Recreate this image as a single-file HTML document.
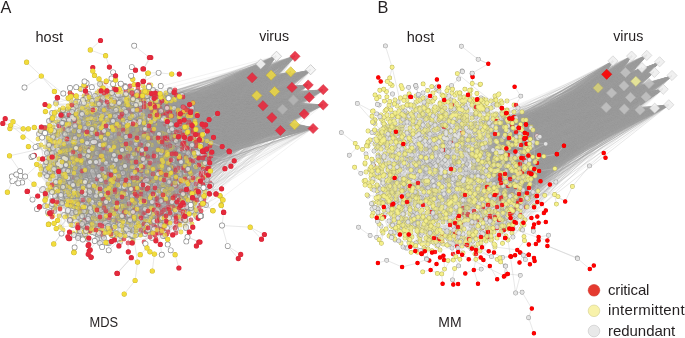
<!DOCTYPE html><html><head><meta charset="utf-8"><style>
html,body{margin:0;padding:0;background:#fff;overflow:hidden}svg{display:block;will-change:transform}
path{fill:none}
.o,.i{stroke-linecap:round}
text{font-family:"Liberation Sans",sans-serif;fill:#231f20;opacity:.999}
</style></head><body><svg width="685" height="338" viewBox="0 0 685 338"><g opacity="0.74"><path class="o" d="M80 169h0M156 106h0M72 213h0M181 166h0M76 180h0M178 184h0M140 147h0M111 195h0M88 239h0M111 144h0M191 212h0M198 192h0M196 134h0M205 130h0M187 132h0M90 134h0M181 209h0M187 147h0M93 215h0M50 155h0M126 156h0M103 101h0M130 91h0M127 131h0M176 184h0M116 153h0M177 139h0M166 132h0M46 132h0M165 110h0M163 125h0M199 123h0M160 106h0M171 199h0M158 174h0M61 126h0M87 113h0M128 106h0M118 147h0M66 115h0M122 101h0M58 183h0M144 113h0M173 100h0M196 133h0M70 185h0M134 219h0M188 142h0M77 207h0M109 231h0M70 146h0M134 229h0M76 106h0M62 146h0M63 201h0M129 126h0M155 192h0M178 131h0M159 201h0M151 185h0M173 178h0M85 140h0M192 105h0M100 154h0M99 158h0M56 134h0M148 146h0M45 206h0M108 228h0M137 196h0M89 207h0M102 177h0M61 153h0M68 199h0M160 108h0M52 147h0M207 187h0M144 189h0M117 164h0M107 212h0M52 113h0M46 159h0M115 218h0M101 132h0M73 201h0M86 171h0M73 115h0M131 169h0M78 217h0M82 141h0M45 166h0M132 146h0M63 187h0M150 167h0M67 150h0M134 169h0M146 114h0M72 172h0M138 145h0M112 156h0M79 105h0M102 97h0M123 125h0M127 182h0M170 90h0M137 136h0M143 133h0M59 154h0M125 234h0M120 242h0M65 115h0M103 236h0M151 171h0M163 123h0M97 96h0M57 194h0M176 130h0M81 181h0M171 108h0M182 219h0M206 205h0M198 213h0M71 136h0" stroke="#8a8a8a" stroke-width="5.85"/><path class="i" d="M80 169h0M156 106h0M72 213h0M181 166h0M76 180h0M178 184h0M140 147h0M111 195h0M88 239h0M111 144h0M191 212h0M198 192h0M196 134h0M205 130h0M187 132h0M90 134h0M181 209h0M187 147h0M93 215h0M50 155h0M126 156h0M103 101h0M130 91h0M127 131h0M176 184h0M116 153h0M177 139h0M166 132h0M46 132h0M165 110h0M163 125h0M199 123h0M160 106h0M171 199h0M158 174h0M61 126h0M87 113h0M128 106h0M118 147h0M66 115h0M122 101h0M58 183h0M144 113h0M173 100h0M196 133h0M70 185h0M134 219h0M188 142h0M77 207h0M109 231h0M70 146h0M134 229h0M76 106h0M62 146h0M63 201h0M129 126h0M155 192h0M178 131h0M159 201h0M151 185h0M173 178h0M85 140h0M192 105h0M100 154h0M99 158h0M56 134h0M148 146h0M45 206h0M108 228h0M137 196h0M89 207h0M102 177h0M61 153h0M68 199h0M160 108h0M52 147h0M207 187h0M144 189h0M117 164h0M107 212h0M52 113h0M46 159h0M115 218h0M101 132h0M73 201h0M86 171h0M73 115h0M131 169h0M78 217h0M82 141h0M45 166h0M132 146h0M63 187h0M150 167h0M67 150h0M134 169h0M146 114h0M72 172h0M138 145h0M112 156h0M79 105h0M102 97h0M123 125h0M127 182h0M170 90h0M137 136h0M143 133h0M59 154h0M125 234h0M120 242h0M65 115h0M103 236h0M151 171h0M163 123h0M97 96h0M57 194h0M176 130h0M81 181h0M171 108h0M182 219h0M206 205h0M198 213h0M71 136h0" stroke="#ececec" stroke-width="4.10"/><path class="o" d="M55 132h0M141 235h0M168 210h0M135 156h0M151 157h0M130 166h0M144 95h0M117 233h0M86 187h0M73 233h0M192 125h0M59 189h0M59 182h0M63 132h0M82 174h0M133 173h0M184 146h0M77 107h0M63 202h0M99 212h0M109 131h0M151 193h0M135 120h0M143 86h0M100 98h0M97 93h0M88 190h0M88 108h0M65 183h0M48 214h0M73 109h0M53 121h0M147 98h0M60 170h0M86 208h0M78 202h0M87 171h0M165 139h0M79 112h0M108 187h0M164 158h0M84 223h0M94 174h0M141 198h0M116 141h0M167 156h0M71 142h0M96 225h0M56 136h0M76 118h0M92 110h0M106 158h0M51 161h0M74 201h0M144 91h0M171 145h0M146 99h0M101 219h0M59 216h0M198 139h0M91 226h0M81 152h0M172 119h0M92 222h0M137 225h0M72 169h0M176 173h0M77 129h0M121 240h0M58 132h0M97 114h0M99 199h0M129 157h0M101 127h0M81 126h0M109 204h0M82 112h0M137 222h0M131 211h0M151 199h0M165 224h0M85 237h0M118 234h0M150 92h0M91 111h0M121 153h0M39 159h0M180 142h0M154 190h0M67 216h0M71 124h0M77 100h0M113 193h0M108 171h0M192 170h0M168 202h0M101 124h0M86 133h0M184 153h0M113 115h0M81 185h0M102 105h0M153 124h0M48 190h0M103 169h0M190 150h0M64 160h0M125 111h0M151 197h0M101 83h0M91 165h0M128 147h0M164 177h0M93 104h0M158 175h0M78 231h0M133 123h0M147 93h0M76 122h0M67 109h0M53 163h0M52 134h0M64 150h0M145 91h0M175 133h0M65 147h0M192 127h0M144 134h0M67 157h0M100 153h0M74 132h0M134 164h0M197 143h0M174 134h0M78 185h0M110 176h0M134 136h0M79 162h0M86 186h0M82 229h0M117 143h0M132 103h0" stroke="#c8b432" stroke-width="4.80"/><path class="i" d="M55 132h0M141 235h0M168 210h0M135 156h0M151 157h0M130 166h0M144 95h0M117 233h0M86 187h0M73 233h0M192 125h0M59 189h0M59 182h0M63 132h0M82 174h0M133 173h0M184 146h0M77 107h0M63 202h0M99 212h0M109 131h0M151 193h0M135 120h0M143 86h0M100 98h0M97 93h0M88 190h0M88 108h0M65 183h0M48 214h0M73 109h0M53 121h0M147 98h0M60 170h0M86 208h0M78 202h0M87 171h0M165 139h0M79 112h0M108 187h0M164 158h0M84 223h0M94 174h0M141 198h0M116 141h0M167 156h0M71 142h0M96 225h0M56 136h0M76 118h0M92 110h0M106 158h0M51 161h0M74 201h0M144 91h0M171 145h0M146 99h0M101 219h0M59 216h0M198 139h0M91 226h0M81 152h0M172 119h0M92 222h0M137 225h0M72 169h0M176 173h0M77 129h0M121 240h0M58 132h0M97 114h0M99 199h0M129 157h0M101 127h0M81 126h0M109 204h0M82 112h0M137 222h0M131 211h0M151 199h0M165 224h0M85 237h0M118 234h0M150 92h0M91 111h0M121 153h0M39 159h0M180 142h0M154 190h0M67 216h0M71 124h0M77 100h0M113 193h0M108 171h0M192 170h0M168 202h0M101 124h0M86 133h0M184 153h0M113 115h0M81 185h0M102 105h0M153 124h0M48 190h0M103 169h0M190 150h0M64 160h0M125 111h0M151 197h0M101 83h0M91 165h0M128 147h0M164 177h0M93 104h0M158 175h0M78 231h0M133 123h0M147 93h0M76 122h0M67 109h0M53 163h0M52 134h0M64 150h0M145 91h0M175 133h0M65 147h0M192 127h0M144 134h0M67 157h0M100 153h0M74 132h0M134 164h0M197 143h0M174 134h0M78 185h0M110 176h0M134 136h0M79 162h0M86 186h0M82 229h0M117 143h0M132 103h0" stroke="#f2dc3c" stroke-width="4.10"/><path class="o" d="M206 134h0M179 221h0M176 217h0M152 233h0M188 147h0M118 141h0M164 145h0M177 165h0M144 224h0M177 106h0M134 196h0M141 152h0M164 136h0M166 208h0M169 143h0M157 218h0M177 187h0M115 102h0M92 165h0M193 160h0M191 200h0M109 105h0M76 115h0M143 158h0M114 178h0M124 210h0M164 174h0M172 124h0M176 161h0M130 134h0M149 160h0M88 200h0M67 138h0M141 179h0M96 130h0M159 217h0M117 202h0M103 165h0M107 145h0M161 117h0M139 167h0M151 223h0M145 183h0M175 147h0M194 172h0M115 218h0M134 96h0M154 226h0M157 120h0M156 239h0M210 183h0M158 181h0M146 203h0M66 121h0M140 211h0M183 196h0M134 164h0M176 227h0M129 189h0M184 173h0M178 173h0M114 181h0M103 235h0M75 131h0M135 201h0M184 217h0M146 228h0M116 221h0M160 95h0M145 139h0M104 135h0M192 198h0M124 215h0" stroke="#d42a3a" stroke-width="4.80"/><path class="i" d="M206 134h0M179 221h0M176 217h0M152 233h0M188 147h0M118 141h0M164 145h0M177 165h0M144 224h0M177 106h0M134 196h0M141 152h0M164 136h0M166 208h0M169 143h0M157 218h0M177 187h0M115 102h0M92 165h0M193 160h0M191 200h0M109 105h0M76 115h0M143 158h0M114 178h0M124 210h0M164 174h0M172 124h0M176 161h0M130 134h0M149 160h0M88 200h0M67 138h0M141 179h0M96 130h0M159 217h0M117 202h0M103 165h0M107 145h0M161 117h0M139 167h0M151 223h0M145 183h0M175 147h0M194 172h0M115 218h0M134 96h0M154 226h0M157 120h0M156 239h0M210 183h0M158 181h0M146 203h0M66 121h0M140 211h0M183 196h0M134 164h0M176 227h0M129 189h0M184 173h0M178 173h0M114 181h0M103 235h0M75 131h0M135 201h0M184 217h0M146 228h0M116 221h0M160 95h0M145 139h0M104 135h0M192 198h0M124 215h0" stroke="#e52a3c" stroke-width="4.10"/></g><path d="M124 210L92 136M131 143L64 170M154 129L109 120M115 192L192 224M92 164L114 178M110 161L114 86M83 100L92 132M154 158L106 126M89 157L134 225M149 126L91 111M152 173L124 213M110 158L50 151M178 144L122 181M156 233L154 213M122 199L130 220M133 174L130 134M138 183L143 183M100 200L75 131M140 200L166 198M119 176L124 221M104 135L67 186M141 230L67 203M101 185L134 207M92 155L76 203M178 184L142 189M168 171L104 173M100 200L135 187M74 131L158 141M155 121L156 156M132 157L95 126M112 210L60 180M153 174L181 220M137 209L103 134M155 202L184 206M143 160L99 163M105 177L182 138M105 233L90 149M148 134L131 100M122 216L69 195M92 165L156 176M108 226L116 185M196 152L136 140M78 202L90 155M71 119L101 124M124 148L140 133M112 170L89 220M178 169L151 108M86 134L117 152M197 155L176 130M69 120L68 199M154 213L108 187M87 122L69 119M111 195L179 179M53 151L128 115M121 209L67 199M112 188L150 184M196 189L176 130M139 92L151 161M144 140L135 201M92 112L148 138M193 151L136 128M76 203L81 230M201 211L170 223M99 163L74 173M94 143L87 224M183 97L159 117M101 167L100 111M139 119L92 101M144 120L89 157M138 168L173 160M143 215L57 199M108 100L147 162M192 180L125 191M170 146L124 212M41 131L61 192M96 138L71 150M166 176L122 226M150 212L181 191M167 189L123 120M110 145L110 116M50 131L95 126M153 181L157 199M160 108L176 132M100 243L100 153M132 93L111 150M111 195L171 203M188 125L151 157M196 134L189 115M176 102L171 126M120 194L128 152M72 152L72 196M66 159L65 141M50 131L112 127M110 171L56 104M45 147L57 194M71 168L85 171M87 183L89 216M148 188L188 147M176 141L175 210M203 169L173 147M187 207L100 193M135 188L182 217M99 121L159 163M123 206L120 172M163 175L178 110M185 177L156 176M62 203L140 204M138 187L108 170M196 134L151 196M61 192L143 158M83 167L96 139M86 98L86 86M172 129L153 131M137 224L185 179M171 160L179 217M127 137L102 133M141 152L108 218M90 162L111 198M164 174L185 173M78 204L87 221M99 176L158 174M156 156L186 227M78 155L62 146M109 204L174 168M145 186L97 153M153 233L134 169M143 167L210 155M204 134L163 162M161 216L177 165M132 103L170 122M186 197L189 148M147 93L88 156M128 148L139 167M100 145L67 162M102 113L140 145M161 167L178 208M139 92L138 128M136 125L148 101M74 177L46 170M165 110L158 181M48 138L112 188M66 196L70 202M134 192L131 169M183 212L116 170M147 180L130 123M75 154L103 141M98 195L97 239M177 183L107 174M68 106L69 143M63 187L50 131M155 202L178 137M187 207L156 219M152 158L91 165M162 168L86 208M76 122L143 165M67 138L142 154M66 121L48 190M156 176L114 188M145 183L74 138M125 234L108 199M134 164L111 232M107 149L99 204M82 171L84 211M54 142L100 217M57 194L116 160M86 180L62 202M58 132L137 150M100 98L170 90M100 84L132 93M184 173L170 146M109 204L100 204M142 154L180 118M82 112L134 180M160 115L133 99M161 117L118 158M100 203L51 161M90 149L146 119M176 170L88 182M152 233L123 193M145 183L196 152M82 160L141 166M100 204L147 133M127 126L56 134M76 115L69 115M142 118L120 104M84 159L88 239M193 134L147 93M139 168L130 118M194 138L174 168M125 146L168 157M74 161L82 171M191 208L207 180M117 169L178 171M103 141L120 182M62 145L85 187M136 162L99 159M175 164L138 217M99 159L67 124M82 171L55 132M161 117L133 124M114 178L136 120M170 223L89 208M156 127L145 118M104 173L93 115M187 148L101 167M84 175L70 93M116 141L66 124M166 120L127 131M85 140L60 161M121 215L118 147M78 153L65 216M173 156L145 91M111 144L116 160M128 125L73 151M97 177L165 195M82 139L81 176M161 211L171 207M180 210L167 234M171 199L129 125M140 160L188 184M97 210L117 152M176 131L95 119M132 146L143 206M200 157L184 109M115 168L76 106M80 149L129 143M132 93L119 103M80 149L66 159M149 194L165 226M84 175L40 131M149 182L170 207M126 199L130 120M162 212L134 133M198 137L193 160M87 209L113 159M127 126L86 180M106 158L130 102M151 196L147 127M171 125L144 136M81 213L101 171M160 108L163 175M161 173L145 202M198 141L118 168M166 119L153 194M79 188L95 190M176 173L124 221M159 172L135 156M162 114L133 103M90 135L111 195M83 177L136 227M88 200L58 191M159 191L176 216M176 180L126 158M63 154L101 171M89 191L82 160M165 157L142 118M70 156L100 167M74 131L66 154M141 235L115 227M187 132L176 217M127 189L152 133M101 119L44 128M84 175L92 129M90 134L81 140M145 161L74 173M139 226L135 156M192 195L141 185M103 235L62 198M96 105L118 153M171 183L143 175M97 96L128 106M76 176L161 179M137 205L158 205M159 163L193 151M166 102L195 132M38 146L77 179M141 179L132 107M136 206L81 229M127 189L70 127M112 143L157 199M70 200L87 192M116 209L137 122M143 159L85 207M181 162L142 188M116 160L171 124M116 141L71 201M78 185L91 229M77 131L159 96M159 191L82 160M156 127L157 158M126 158L141 149M176 216L167 156M106 232L108 228M114 188L73 138M77 194L74 177M178 137L159 200M52 113L111 106M201 173L169 161M123 99L126 100M130 136L110 100M76 106L70 93M164 227L141 152M180 174L186 158M60 152L84 96M60 186L115 218M198 179L147 173M188 116L171 101M84 184L81 213M133 240L106 158M154 229L83 186M114 178L176 216M100 203L146 160M157 199L147 156M63 187L122 145M79 105L147 134M136 120L87 100M97 99L174 133M88 119L127 149M132 174L73 113M61 126L100 98M159 96L101 141M64 158L52 185M83 182L133 181M101 171L120 225M48 184L77 201M137 130L75 149M137 150L118 177M89 199L124 127M104 136L143 182M46 159L45 173M103 198L166 218M149 143L161 173M84 223L151 197M198 192L140 147M108 170L159 139M171 125L128 127M117 143L79 135M55 142L45 206M68 106L124 164M51 142L132 157M140 235L89 199M129 206L134 169M164 218L94 186M181 209L161 179M121 92L102 88M65 127L129 143M164 218L146 146M152 133L124 210M117 190L112 176M191 116L161 179M165 236L195 203M129 143L70 138M130 171L88 182M140 138L104 93M115 102L137 170M153 124L71 130M135 194L191 220M112 143L110 168M86 111L61 166M203 152L184 111M117 183L135 166M114 143L86 98M183 212L135 201M88 108L62 162M51 190L85 237M192 195L194 172M111 195L184 210M89 220L152 233M126 91L173 135M161 111L167 139M123 194L96 127M142 150L146 144M71 101L86 134M143 167L74 202M95 149L121 140M151 219L178 184M171 145L211 156M175 172L124 109M147 108L101 157M153 90L198 153M186 228L142 188M166 114L134 122M52 173L134 190M134 180L66 165M188 184L107 174M126 102L102 107M177 198L186 133M99 121L53 176M144 132L88 108M111 137L83 150M153 214L162 231M87 224L73 201M166 93L185 179M126 94L120 84M46 196L110 161M116 209L75 149M99 159L45 173M137 151L125 171M113 115L91 111M168 171L95 207M136 170L162 226M189 148L199 208M164 218L122 216M124 147L91 212M91 212L162 200M150 222L198 154M95 110L83 177M92 165L54 131M151 157L121 240M175 183L90 195M105 139L92 160M187 206L198 145M59 148L79 122M80 156L161 153M121 109L88 124M131 143L155 173M46 130L53 151M159 191L167 108M112 210L192 180M184 190L166 199M169 131L187 207M122 199L103 141M167 187L149 122M73 191L81 136M167 195L139 119M120 125L51 141M131 106L142 150M85 220L114 178M117 202L184 205M159 139L167 137M100 204L91 118M89 186L102 176M96 189L129 148M45 166L112 176M81 152L70 220M133 173L88 108M81 209L144 189M90 181L121 158M108 166L145 118M114 86L135 156M133 173L69 120M183 219L203 169M178 144L158 205M109 243L60 180M83 188L116 159M117 164L109 230M159 166L194 138M152 238L133 240M131 92L103 101M101 117L182 138M94 174L148 228M92 222L101 185M154 158L111 180M202 154L157 99M76 118L81 181M84 100L52 134M184 101L171 101M68 210L76 167M153 194L101 127M189 114L142 136M118 205L89 186M120 242L112 176M79 105L159 141M75 124L70 127M137 207L92 132M153 120L130 202M160 108L168 147M137 163L82 205M60 227L77 207M119 126L201 145M146 144L184 217M102 133L171 109M119 129L172 116M91 165L100 84M147 171L63 187M126 105L170 90M48 212L89 199M137 196L85 128M198 192L116 207M85 207L173 198M137 110L151 108M187 127L105 157M47 176L88 182M97 119L51 167M180 169L200 157M52 173L139 175M95 205L38 139M102 230L89 208M112 175L104 204M87 228L76 203M144 140L147 173M143 166L111 213M63 180L121 209M100 210L184 206M143 182L128 105M92 143L178 144M122 197L108 173M149 211L141 179M117 239L74 201M124 215L148 188M104 204L133 177M82 197L115 237M168 232L141 218M74 132L122 142M177 151L103 165M141 179L194 172M154 106L162 120M98 125L108 193M166 93L148 138M143 215L68 171M95 119L131 169M163 162L166 135M151 193L165 139M122 101L115 116M75 149L66 196M101 195L151 157M68 171L89 208M133 136L119 129M78 208L99 231M103 198L189 181M151 157L126 194M149 194L101 201M99 231L170 207M178 171L187 148M173 194L198 192M137 122L137 95M107 102L39 134M185 226L157 198M173 160L128 231M52 170L122 165M135 156L202 173M77 193L101 107M141 171L132 213M96 109L74 131M71 225L106 202M129 129L72 105M76 106L71 150M88 108L53 127M145 183L106 182M132 93L163 135M142 215L124 127M129 206L136 128M104 135L99 101M101 157L111 187M123 161L195 166M122 226L106 163M159 194L111 232M177 187L125 171M152 117L201 122M133 124L84 126M118 95L101 106M168 140L122 165M110 161L168 157M128 231L138 195M144 154L126 112M139 119L85 191M97 104L147 133M79 162L123 173M171 109L127 182M167 139L175 166M72 152L81 179M59 167L111 99M127 129L163 167M135 188L178 137M73 127L87 100M177 209L116 160M118 180L137 94M143 175L79 161M150 212L116 221M50 187L86 186M152 211L110 181M122 150L156 178" stroke="#999999" stroke-width="0.4" stroke-opacity="0.42"/><g opacity="0.74"><path class="o" d="M145 157h0M76 203h0M73 206h0M46 128h0M101 142h0M117 169h0M143 206h0M79 196h0M81 179h0M152 238h0M111 232h0M82 198h0M120 238h0M190 130h0M123 161h0M165 121h0M76 102h0M110 161h0M66 196h0M68 171h0M86 164h0M86 114h0M54 146h0M84 123h0M101 106h0M133 136h0M87 224h0M72 176h0M197 196h0M107 171h0M59 165h0M172 120h0M136 120h0M142 189h0M108 179h0M176 131h0M78 176h0M61 178h0M97 229h0M99 101h0M110 145h0M67 134h0M95 158h0M169 161h0M180 199h0M122 146h0M108 173h0M87 205h0M88 219h0M92 160h0M156 127h0M160 223h0M110 168h0M103 152h0M54 211h0M112 235h0M202 116h0M113 228h0M59 154h0M109 183h0M49 141h0M202 162h0M146 119h0M45 173h0M130 171h0M81 213h0M141 149h0M118 163h0M177 151h0M52 173h0M117 239h0M184 101h0M144 98h0M79 102h0M174 133h0M83 111h0M142 215h0M65 135h0M78 204h0M98 134h0M137 92h0M165 236h0M54 209h0M102 113h0M207 180h0M145 164h0M90 210h0M166 199h0M88 140h0M134 203h0M71 130h0M122 110h0M38 146h0M127 189h0M83 177h0M93 115h0M70 138h0M71 119h0M75 189h0M143 183h0M85 116h0M70 121h0M78 177h0M78 153h0M114 188h0M146 149h0M100 111h0M78 155h0M92 136h0M103 141h0M148 163h0M79 188h0M82 147h0M104 238h0M171 136h0M168 140h0" stroke="#8a8a8a" stroke-width="5.85"/><path class="i" d="M145 157h0M76 203h0M73 206h0M46 128h0M101 142h0M117 169h0M143 206h0M79 196h0M81 179h0M152 238h0M111 232h0M82 198h0M120 238h0M190 130h0M123 161h0M165 121h0M76 102h0M110 161h0M66 196h0M68 171h0M86 164h0M86 114h0M54 146h0M84 123h0M101 106h0M133 136h0M87 224h0M72 176h0M197 196h0M107 171h0M59 165h0M172 120h0M136 120h0M142 189h0M108 179h0M176 131h0M78 176h0M61 178h0M97 229h0M99 101h0M110 145h0M67 134h0M95 158h0M169 161h0M180 199h0M122 146h0M108 173h0M87 205h0M88 219h0M92 160h0M156 127h0M160 223h0M110 168h0M103 152h0M54 211h0M112 235h0M202 116h0M113 228h0M59 154h0M109 183h0M49 141h0M202 162h0M146 119h0M45 173h0M130 171h0M81 213h0M141 149h0M118 163h0M177 151h0M52 173h0M117 239h0M184 101h0M144 98h0M79 102h0M174 133h0M83 111h0M142 215h0M65 135h0M78 204h0M98 134h0M137 92h0M165 236h0M54 209h0M102 113h0M207 180h0M145 164h0M90 210h0M166 199h0M88 140h0M134 203h0M71 130h0M122 110h0M38 146h0M127 189h0M83 177h0M93 115h0M70 138h0M71 119h0M75 189h0M143 183h0M85 116h0M70 121h0M78 177h0M78 153h0M114 188h0M146 149h0M100 111h0M78 155h0M92 136h0M103 141h0M148 163h0M79 188h0M82 147h0M104 238h0M171 136h0M168 140h0" stroke="#ececec" stroke-width="4.10"/><path class="o" d="M140 235h0M90 155h0M74 126h0M58 122h0M84 195h0M91 232h0M116 185h0M54 148h0M58 134h0M105 186h0M109 159h0M133 240h0M85 150h0M152 211h0M63 192h0M75 217h0M98 219h0M77 131h0M62 145h0M134 122h0M50 169h0M76 167h0M78 124h0M64 123h0M118 158h0M159 194h0M198 168h0M57 186h0M103 233h0M57 122h0M73 157h0M131 176h0M47 162h0M152 173h0M87 123h0M147 162h0M111 99h0M164 227h0M51 141h0M81 140h0M182 123h0M124 96h0M175 164h0M78 182h0M186 106h0M100 200h0M112 176h0M99 91h0M126 219h0M128 127h0M176 180h0M71 148h0M138 217h0M128 176h0M63 145h0M158 202h0M115 142h0M116 170h0M106 231h0M96 127h0M137 122h0M181 219h0M101 108h0M95 199h0M134 152h0M99 159h0M135 188h0M100 167h0M181 146h0M157 166h0M136 156h0M113 185h0M72 219h0M106 137h0M60 180h0M134 195h0M63 154h0M155 202h0M135 166h0M148 151h0M157 158h0M197 158h0M133 173h0M93 126h0M86 86h0M147 98h0M176 120h0M135 171h0M58 134h0M125 188h0M184 172h0M169 178h0M178 135h0M190 192h0M48 184h0M167 187h0M176 102h0M135 163h0M70 200h0M151 206h0M166 176h0M97 104h0M57 199h0M77 194h0M94 103h0M158 141h0M66 130h0M84 165h0M101 98h0M66 128h0M117 161h0M141 133h0M147 108h0M118 168h0M138 128h0M114 86h0M139 99h0M104 136h0M83 226h0M100 122h0M107 91h0M97 153h0M162 114h0M106 232h0M176 216h0M114 155h0M103 127h0M150 234h0M145 88h0M131 106h0M93 134h0M151 122h0M64 120h0M143 225h0M124 164h0M99 204h0M145 91h0M189 129h0M152 144h0M171 109h0M170 145h0M166 102h0M110 158h0M104 96h0M90 188h0M196 122h0" stroke="#c8b432" stroke-width="4.80"/><path class="i" d="M140 235h0M90 155h0M74 126h0M58 122h0M84 195h0M91 232h0M116 185h0M54 148h0M58 134h0M105 186h0M109 159h0M133 240h0M85 150h0M152 211h0M63 192h0M75 217h0M98 219h0M77 131h0M62 145h0M134 122h0M50 169h0M76 167h0M78 124h0M64 123h0M118 158h0M159 194h0M198 168h0M57 186h0M103 233h0M57 122h0M73 157h0M131 176h0M47 162h0M152 173h0M87 123h0M147 162h0M111 99h0M164 227h0M51 141h0M81 140h0M182 123h0M124 96h0M175 164h0M78 182h0M186 106h0M100 200h0M112 176h0M99 91h0M126 219h0M128 127h0M176 180h0M71 148h0M138 217h0M128 176h0M63 145h0M158 202h0M115 142h0M116 170h0M106 231h0M96 127h0M137 122h0M181 219h0M101 108h0M95 199h0M134 152h0M99 159h0M135 188h0M100 167h0M181 146h0M157 166h0M136 156h0M113 185h0M72 219h0M106 137h0M60 180h0M134 195h0M63 154h0M155 202h0M135 166h0M148 151h0M157 158h0M197 158h0M133 173h0M93 126h0M86 86h0M147 98h0M176 120h0M135 171h0M58 134h0M125 188h0M184 172h0M169 178h0M178 135h0M190 192h0M48 184h0M167 187h0M176 102h0M135 163h0M70 200h0M151 206h0M166 176h0M97 104h0M57 199h0M77 194h0M94 103h0M158 141h0M66 130h0M84 165h0M101 98h0M66 128h0M117 161h0M141 133h0M147 108h0M118 168h0M138 128h0M114 86h0M139 99h0M104 136h0M83 226h0M100 122h0M107 91h0M97 153h0M162 114h0M106 232h0M176 216h0M114 155h0M103 127h0M150 234h0M145 88h0M131 106h0M93 134h0M151 122h0M64 120h0M143 225h0M124 164h0M99 204h0M145 91h0M189 129h0M152 144h0M171 109h0M170 145h0M166 102h0M110 158h0M104 96h0M90 188h0M196 122h0" stroke="#f2dc3c" stroke-width="4.10"/><path class="o" d="M124 219h0M92 155h0M191 111h0M130 168h0M187 186h0M160 206h0M187 206h0M143 231h0M196 134h0M198 192h0M155 203h0M172 209h0M73 204h0M134 133h0M194 153h0M145 186h0M184 190h0M120 208h0M79 202h0M147 171h0M106 82h0M177 124h0M201 122h0M54 143h0M138 195h0M163 167h0M112 164h0M137 131h0M136 128h0M129 110h0M157 103h0M177 104h0M191 220h0M150 237h0M102 186h0M127 129h0M200 157h0M177 119h0M166 156h0M148 111h0M149 182h0M160 110h0M177 166h0M83 130h0M153 126h0M173 193h0M74 177h0M129 91h0M162 200h0M199 194h0M203 130h0M69 119h0M166 190h0M140 158h0M192 173h0M176 181h0M147 202h0M139 184h0M174 106h0M203 184h0M95 110h0M151 132h0M75 149h0M120 182h0M87 183h0M105 133h0M149 193h0M175 166h0M116 126h0M124 218h0M81 127h0M104 110h0M144 242h0M187 207h0M100 152h0M101 101h0" stroke="#d42a3a" stroke-width="4.80"/><path class="i" d="M124 219h0M92 155h0M191 111h0M130 168h0M187 186h0M160 206h0M187 206h0M143 231h0M196 134h0M198 192h0M155 203h0M172 209h0M73 204h0M134 133h0M194 153h0M145 186h0M184 190h0M120 208h0M79 202h0M147 171h0M106 82h0M177 124h0M201 122h0M54 143h0M138 195h0M163 167h0M112 164h0M137 131h0M136 128h0M129 110h0M157 103h0M177 104h0M191 220h0M150 237h0M102 186h0M127 129h0M200 157h0M177 119h0M166 156h0M148 111h0M149 182h0M160 110h0M177 166h0M83 130h0M153 126h0M173 193h0M74 177h0M129 91h0M162 200h0M199 194h0M203 130h0M69 119h0M166 190h0M140 158h0M192 173h0M176 181h0M147 202h0M139 184h0M174 106h0M203 184h0M95 110h0M151 132h0M75 149h0M120 182h0M87 183h0M105 133h0M149 193h0M175 166h0M116 126h0M124 218h0M81 127h0M104 110h0M144 242h0M187 207h0M100 152h0M101 101h0" stroke="#e52a3c" stroke-width="4.10"/></g><path d="M117 203L139 226M74 131L84 211M89 151L79 105M159 194L88 182M93 134L40 175M77 129L111 133M52 185L63 202M134 164L158 214M72 105L128 156M156 233L180 169M165 145L212 153M124 215L181 220M168 119L91 118M71 173L63 230M137 131L165 138M171 136L159 223M179 221L197 200M143 175L133 124M84 165L58 132M156 106L127 91M183 150L119 198M148 158L77 129M78 185L70 127M148 144L151 161M114 178L82 229M180 124L161 157M58 158L56 200M159 191L123 194M106 158L59 166M120 205L136 206M168 111L151 187M99 203L100 217M158 205L92 209M77 194L70 127M84 126L145 189M152 202L162 142M49 158L88 239M86 186L92 144M135 163L194 153M62 145L100 210M137 168L180 199M125 188L151 187M66 130L137 151M52 147L112 143M78 184L161 153M130 168L137 225M133 173L184 210M72 152L84 100M52 173L83 223M134 116L120 157M141 176L86 111M112 175L122 114M196 184L117 164M174 132L107 97M188 205L174 132M111 213L85 182M96 153L120 125M173 109L163 175M119 198L62 145M104 173L187 207M122 186L108 187M67 205L106 211M176 120L125 193M126 174L192 224M169 143L134 154M104 209L74 207M73 201L48 214M159 142L147 133M137 205L179 208M164 136L192 108M92 209L175 185M144 132L95 132M104 93L91 165M137 168L113 130M103 235L70 185M95 158L50 179M159 205L126 199M134 164L75 159M136 120L116 192M46 130L94 103M70 206L94 174M136 128L144 113M54 148L58 150M162 174L116 185M173 198L174 214M120 186L175 166M185 187L181 191M84 100L157 110M102 128L85 128M74 193L98 231M129 182L109 219M83 226L143 166M184 148L123 188M90 162L84 96M84 195L120 211M73 127L138 102M157 103L106 120M154 99L87 113M138 217L165 195M133 212L77 160M89 191L88 199M124 218L113 130M129 206L135 176M101 142L143 166M98 235L157 210M186 157L196 146M63 192L60 209M195 156L115 168M196 191L166 199M110 111L124 176M133 201L122 199M133 167L121 153M170 99L147 98M203 189L187 161M133 174L149 213M151 219L132 146M133 124L131 143M118 153L178 131M155 185L109 174M134 123L176 140M178 135L174 153M162 160L186 197M63 174L84 175M78 208L72 190M85 191L167 155M201 175L144 242M102 128L103 189M99 164L168 207M89 123L76 106M96 162L159 166M131 169L149 126M74 186L118 158M125 207L155 185M168 154L110 168M46 170L63 129M157 114L148 119M92 184L146 228M149 194L193 133M156 239L188 184M194 139L171 126M127 182L69 115M188 200L143 160M148 157L133 110M198 192L187 110M89 199L165 226M125 206L131 218M87 228L141 185M188 156L178 144M194 132L122 150M147 189L116 192M170 129L148 174M178 131L106 82M123 130L115 124M138 217L57 186M47 162L78 177M92 129L166 175M155 188L115 142M104 176L97 239M163 125L181 166M103 141L114 181M137 109L175 166M193 204L188 133M147 135L59 125M113 223L75 154M143 167L176 201M136 128L110 111M151 108L171 116M54 169L106 190M132 237L182 219M86 164L104 238M82 192L166 208M198 192L144 201M142 189L195 121M137 196L187 147M157 120L141 185M141 198L105 146M121 236L82 216M88 200L143 165M145 230L133 170M114 143L92 112M153 120L76 106M163 135L101 83M80 149L110 116M87 113L52 192M144 134L159 149M84 161L126 151M46 198L80 157M71 154L81 179M150 198L134 164M92 101L157 120M87 123L115 176M176 120L160 171M119 219L134 196M53 137L50 151M186 197L142 215M158 197L89 151M198 192L201 211M192 195L181 146M87 132L85 194M153 126L105 104M85 194L93 191M181 110L186 171M176 132L194 200M110 127L159 149M94 207L65 216M85 234L95 183M139 96L90 155M81 89L95 110M111 150L144 120M137 205L137 136M171 108L93 147M144 98L123 125M137 207L147 225M103 98L162 151M99 159L56 134M131 159L117 152M91 118L97 93M77 160L141 178M134 133L151 199M168 154L83 130M194 138L177 165M143 160L142 229M196 134L173 194M152 160L103 141M74 193L117 173M112 176L149 167M122 173L78 185M185 187L201 211M97 153L143 183M86 231L129 185M129 179L163 119M106 91L187 127M78 155L127 137M76 106L45 166M126 174L154 156M176 216L116 159M137 131L135 201M110 181L58 132M91 229L66 154M124 96L141 176M82 214L59 143M158 171L201 205M140 158L116 185M166 134L136 187M193 134L190 172M100 122L40 131M101 119L178 96M52 134L102 107M150 116L153 115M115 227L128 147M141 190L127 126M157 208L183 212M85 171L148 111M199 135L158 205M150 234L203 178M59 126L79 105M184 101L199 165M179 217L144 140M126 151L116 153M111 198L107 171M139 167L111 232M134 152L152 238M115 130L80 149M114 226L97 229M156 227L147 172M120 205L162 218M158 174L139 150M101 210L126 151M120 125L117 173M110 116L127 100M120 186L63 154M104 131L118 92M104 131L59 125M87 147L75 138M165 157L103 145M143 137L100 126M89 220L92 202M139 119L73 127M55 142L106 82M137 188L128 106M151 171L83 188M158 181L70 171M136 170L84 154M157 114L138 102M114 202L130 136M140 198L118 190M120 182L161 167M78 176L100 177M116 126L192 173M152 144L198 137M151 132L134 196M144 224L69 195M196 122L131 176M115 176L107 120M73 191L62 116M156 233L122 197M122 146L65 147M146 232L192 211M171 149L95 142M54 136L50 166M80 127L62 145M86 86L89 157M176 131L192 145M74 138L163 135M53 121L103 169M90 149L106 158M167 139L153 106M196 210L163 162M98 134L66 157M109 204L156 156M124 239L92 202M86 111L101 117M96 153L145 181M88 119L154 99M160 115L162 160M44 129L55 208M70 220L158 221M144 107L133 99M96 225L152 211M156 178L198 153M109 188L166 132M154 210L162 159M199 165L135 156M139 168L101 187M61 126L133 123M110 171L58 183M74 118L60 144M126 184L196 141M156 156L112 104M203 184L138 195M141 194L112 175M86 86L82 114M137 151L116 221M96 138L159 94M82 160L166 156M122 142L106 82M116 160L156 219M76 206L113 209M63 154L88 239M120 158L81 163M65 217L61 172M197 155L160 232M156 219L162 166M186 111L169 131M67 139L40 166M137 178L193 124M71 130L89 199M120 158L192 139M160 206L200 186M196 210L123 158M154 129L180 193M193 129L107 118M185 108L186 197M100 161L154 158M83 182L147 172M59 216L85 171M135 188L124 218M164 175L81 163M164 180L176 209M142 202L92 136M196 133L152 130M87 218L101 157M126 105L162 114M158 197L140 215M78 236L120 242M147 173L68 192M142 182L96 138M72 213L54 211M78 155L145 189M193 160L187 147M85 182L163 167M163 119L145 183M78 120L100 126M182 123L115 130M118 141L106 190M179 150L132 162M166 175L176 173M177 124L148 144M81 161L96 130M127 182L84 159M187 147L193 134M99 163L76 206M63 192L105 186M127 100L101 185M114 188L192 170M68 211L83 167M83 226L135 187M98 235L126 156M119 209L192 198M97 179L175 147M152 145L175 164M96 225L59 148M79 188L78 185M149 119L120 104M134 190L109 174M89 137L121 200M139 175L115 102M85 234L138 165M164 200L160 171M56 104L127 126M101 157L100 193M199 208L177 187M105 168L109 174M106 137L126 199M147 126L169 164M88 219L158 233M71 154L146 182M130 179L166 218M54 209L68 192M59 154L78 124M38 146L68 106M164 212L194 172M130 91L163 135M159 172L114 143M150 167L124 194M139 175L204 134M116 110L71 130M71 124L101 98M126 158L196 210M40 131L50 142M82 192L81 181M186 171L129 234M162 120L149 126M184 195L122 145M196 141L192 127M165 191L146 138M184 172L158 150M144 91L94 141M177 106L145 161M198 145L172 119M133 170L211 143M99 159L79 131M74 132L95 190M74 119L134 99M103 126L141 114M65 168L133 212M136 140L175 133M109 233L102 230M90 149L123 230M122 110L145 91M68 192L151 171M111 192L156 156M156 156L170 208M112 167L50 131M139 96L171 124M145 230L96 189M159 134L148 163M127 132L116 192M97 188L89 216M157 198L188 164M124 155L100 109M81 127L135 176M166 216L185 179M142 189L65 217M96 189L118 216M59 165L57 186M84 195L40 175M128 105L124 123M110 120L52 119M110 158L76 116M111 144L101 128M155 138L101 185M99 121L112 156M114 214L89 232M158 211L116 141M171 199L120 182M106 91L108 100M138 145L114 193M74 126L86 208M126 104L96 127M96 153L66 177M88 219L68 199M116 216L130 171M86 187L150 198M157 198L197 196M125 111L147 127M116 160L67 166M101 128L183 150M124 148L153 115M147 171L178 135M125 207L113 129M175 147L143 142M120 117L119 103M179 150L145 199M135 210L65 201M165 195L103 198M123 120L134 195M108 228L82 205M161 225L170 207M184 172L162 151M84 96L122 121M66 165L112 165M81 140L46 159M53 176L88 239M137 207L187 207M82 108L159 138M193 160L179 124M100 243L103 198M146 228L137 150M105 186L145 221M161 195L103 165M149 183L129 179M152 117L114 102M101 132L141 179M183 140L134 196M127 137L46 130M71 152L145 129M93 110L108 173M146 114L81 127M60 168L125 185M55 189L63 180M113 129L159 202M134 169L170 108M201 175L156 106M142 201L165 139M92 149L155 119M190 150L176 218M63 192L143 182M143 133L181 162M86 133L148 134M190 150L101 137M147 127L176 95M141 202L168 207M202 154L189 139M128 152L105 208M198 158L134 136M60 180L61 195M183 207L184 210M103 101L81 152M82 192L110 161M134 116L202 154M203 166L130 168M144 140L155 138M136 167L177 139M94 143L145 164M185 177L145 234M99 231L131 211M159 94L93 113M128 156L152 238M92 196L134 134M78 238L80 156M147 180L107 118M183 217L189 148M95 207L74 235M100 177L94 103M119 138L151 196M102 177L107 91M78 124L92 127M87 229L135 156M122 128L193 133M43 189L53 216M87 198L118 168M62 145L123 158M133 201L158 228M155 168L123 194M156 176L76 212M184 148L169 164M167 139L79 131M133 136L86 164M49 130L126 94M124 235L139 150M52 204L128 222M106 158L183 196M126 112L71 150M165 157L123 99M75 149L92 143M124 221L60 170M75 149L147 98M60 170L73 138M96 210L176 216M111 234L165 236M150 198L153 169" stroke="#999999" stroke-width="0.4" stroke-opacity="0.42"/><path d="M261 64L200 164M261 64L152 124M261 64L195 136M261 64L176 118M261 64L170 165M261 64L200 122M261 64L162 128M261 64L194 110M261 64L176 175M261 64L160 156M261 64L168 157M261 64L177 120M261 64L166 151M261 64L201 153M261 64L166 93M261 64L153 133M261 64L187 156M261 64L176 158M261 64L198 110M261 64L188 110M261 64L161 167M261 64L159 134M261 64L161 110M261 64L197 144M261 64L150 137M261 64L167 160M261 64L165 105M261 64L184 122M261 64L144 138M261 64L145 157M261 64L157 163M261 64L171 120M261 64L194 168M261 64L176 101M261 64L159 144M261 64L192 118M261 64L194 103M261 64L138 149M261 64L168 106M261 64L199 142M261 64L170 125M261 64L161 153M261 64L165 176M261 64L185 141M261 64L136 138M261 64L139 112M261 64L188 102M261 64L168 101M261 64L163 148M261 64L187 162M261 64L194 127M261 64L154 142M261 64L149 151M261 64L195 154M261 64L180 148M261 64L147 146M261 64L166 126M261 64L140 147M261 64L210 133M261 64L170 169M261 64L196 141M261 64L174 168M261 64L190 137M261 64L176 156M261 64L192 153M261 64L142 159M261 64L140 129M261 64L155 106M261 64L168 134M261 64L148 142M261 64L197 167M261 64L174 152M261 64L186 96M261 64L185 123M261 64L171 139M261 64L167 156M261 64L156 146M261 64L148 118M261 64L180 168M261 64L179 112M261 64L199 148M261 64L177 152M261 64L168 157M261 64L157 121M261 64L170 141M261 64L155 136M261 64L154 131M261 64L137 119M261 64L200 147M261 64L172 166M261 64L169 125M261 64L172 137M261 64L162 116M261 64L162 170M261 64L175 151M261 64L202 117M261 64L142 141M261 64L151 112M261 64L200 137M261 64L163 123M261 64L156 147M261 64L155 124M261 64L151 150M261 64L168 93M261 64L180 133M261 64L169 111M261 64L181 142M261 64L198 114M261 64L199 168M261 64L152 131M261 64L146 122M261 64L183 147M261 64L154 156M261 64L160 99M261 64L135 152M261 64L175 136M261 64L193 126M261 64L147 157M261 64L205 116M261 64L187 119M261 64L204 148M261 64L196 129M261 64L148 126M261 64L141 141M261 64L153 149M261 64L206 155M261 64L157 129M261 64L199 147M261 64L191 138M261 64L194 125M261 64L182 156M261 64L200 142M261 64L175 102M261 64L165 169M261 64L163 137M261 64L161 162M261 64L146 140M261 64L208 147M261 64L162 137M261 64L147 153M261 64L193 132M261 64L134 149M261 64L185 132M261 64L146 105M261 64L196 154M261 64L194 141M261 64L173 155M261 64L156 111M261 64L172 137M261 64L185 134M261 64L179 131M261 64L177 120M261 64L172 119M261 64L193 160M261 64L140 124M261 64L187 104M261 64L186 162M261 64L161 150M261 64L191 105M261 64L168 110M276 56L185 137M276 56L161 175M276 56L193 121M276 56L206 129M276 56L135 143M276 56L138 150M276 56L161 130M276 56L155 146M276 56L195 157M276 56L195 118M276 56L190 146M276 56L142 122M276 56L193 145M276 56L182 138M276 56L165 154M276 56L179 105M276 56L178 137M276 56L147 161M276 56L195 140M276 56L178 160M276 56L167 163M276 56L157 151M276 56L209 155M276 56L140 144M276 56L161 150M276 56L191 118M276 56L144 120M276 56L206 158M276 56L140 126M276 56L204 124M276 56L171 145M276 56L175 128M276 56L157 124M276 56L178 127M276 56L188 110M276 56L178 110M276 56L196 171M276 56L168 151M276 56L164 156M276 56L141 134M276 56L173 160M276 56L187 152M276 56L146 151M276 56L189 152M276 56L192 143M276 56L140 144M276 56L187 150M276 56L154 149M276 56L186 100M276 56L158 156M276 56L178 152M276 56L156 126M276 56L150 136M276 56L167 133M276 56L147 141M276 56L199 168M276 56L196 128M276 56L144 128M276 56L175 98M276 56L190 111M276 56L142 160M276 56L192 112M276 56L144 115M276 56L173 126M276 56L174 174M276 56L169 141M276 56L147 130M276 56L172 134M276 56L139 135M276 56L188 111M276 56L183 119M276 56L185 137M276 56L184 131M276 56L155 167M276 56L156 101M276 56L162 138M276 56L178 151M276 56L174 102M276 56L180 151M276 56L139 145M276 56L196 146M276 56L162 153M276 56L171 149M276 56L198 152M276 56L175 148M276 56L154 147M276 56L194 109M276 56L197 128M276 56L166 137M276 56L197 170M276 56L187 129M276 56L167 129M276 56L174 140M276 56L162 140M276 56L172 149M276 56L154 159M276 56L152 157M276 56L138 151M276 56L179 150M276 56L162 147M276 56L149 143M276 56L184 156M276 56L174 135M276 56L158 165M276 56L161 165M276 56L169 117M276 56L179 105M276 56L177 181M276 56L190 110M276 56L161 133M276 56L189 114M276 56L189 138M276 56L164 154M276 56L179 152M276 56L170 149M276 56L160 124M276 56L183 135M276 56L200 148M276 56L171 143M276 56L163 122M276 56L157 147M276 56L198 113M276 56L184 179M276 56L146 112M276 56L157 158M276 56L207 140M276 56L200 163M276 56L163 111M276 56L192 173M276 56L166 111M276 56L195 156M276 56L165 121M276 56L142 141M276 56L180 144M276 56L180 99M276 56L164 174M276 56L173 145M276 56L174 141M276 56L162 111M276 56L188 116M276 56L166 124M276 56L157 142M276 56L179 155M276 56L158 148M276 56L198 144M276 56L185 164M276 56L168 162M276 56L196 160M276 56L170 94M276 56L198 127M276 56L196 143M276 56L173 141M276 56L141 123M276 56L136 131M276 56L189 145M276 56L190 172M276 56L191 159M276 56L174 146M276 56L147 151M276 56L169 113M295 56L178 123M295 56L142 122M295 56L170 112M295 56L183 133M295 56L161 145M295 56L206 134M295 56L179 133M295 56L206 130M295 56L192 113M295 56L156 138M295 56L183 112M295 56L181 139M295 56L166 130M295 56L168 117M295 56L157 173M295 56L206 120M295 56L160 142M295 56L193 143M295 56L201 120M295 56L190 134M295 56L203 131M295 56L155 148M295 56L191 147M295 56L139 149M295 56L170 102M295 56L178 150M295 56L191 145M295 56L137 136M295 56L149 121M295 56L161 142M295 56L154 121M295 56L155 130M295 56L178 133M295 56L173 160M295 56L179 162M295 56L180 172M295 56L208 157M295 56L160 122M295 56L172 117M295 56L203 162M295 56L190 160M295 56L169 177M295 56L194 140M295 56L151 135M295 56L168 132M295 56L152 175M295 56L144 143M295 56L160 111M295 56L159 149M295 56L148 110M295 56L195 122M295 56L209 140M295 56L171 138M295 56L136 125M295 56L188 129M295 56L191 119M295 56L161 141M295 56L151 101M295 56L180 163M295 56L147 140M295 56L201 128M295 56L187 172M295 56L191 107M295 56L161 145M295 56L144 139M295 56L154 118M295 56L190 143M295 56L168 146M295 56L152 135M295 56L196 146M295 56L207 130M295 56L155 145M295 56L156 122M295 56L197 127M295 56L174 136M295 56L176 110M295 56L167 129M295 56L140 145M295 56L185 165M295 56L174 142M295 56L169 149M295 56L187 130M295 56L202 155M295 56L179 123M295 56L155 130M295 56L185 125M295 56L164 165M295 56L152 127M295 56L149 136M295 56L208 152M295 56L194 126M295 56L180 153M295 56L161 144M295 56L183 138M295 56L140 150M295 56L175 129M295 56L165 148M295 56L157 126M295 56L159 115M295 56L160 95M295 56L187 121M295 56L138 150M295 56L160 104M295 56L157 117M295 56L146 143M295 56L154 151M295 56L141 147M295 56L173 122M295 56L140 145M295 56L162 108M295 56L176 121M295 56L166 109M295 56L199 112M295 56L201 118M295 56L188 147M295 56L163 145M295 56L208 139M295 56L166 104M295 56L203 112M295 56L168 138M295 56L153 112M295 56L145 123M295 56L146 129M295 56L177 152M295 56L149 150M295 56L176 139M295 56L174 113M295 56L161 162M295 56L164 141M295 56L142 140M295 56L168 157M295 56L191 167M295 56L138 120M295 56L176 170M295 56L148 134M295 56L165 149M295 56L174 164M295 56L159 124M295 56L183 166M295 56L180 164M295 56L189 107M295 56L182 112M295 56L189 116M295 56L198 159M295 56L182 171M295 56L160 139M295 56L191 144M295 56L144 151M295 56L168 163M295 56L175 133M295 56L159 126M295 56L160 140M295 56L181 132M295 56L168 136M295 56L146 148M295 56L135 147M295 56L164 140M295 56L188 146M295 56L154 111M295 56L168 147M252 78L158 124M252 78L142 159M252 78L176 172M252 78L139 131M252 78L180 167M252 78L140 114M252 78L177 149M252 78L193 135M252 78L153 129M252 78L179 138M252 78L207 157M252 78L176 144M252 78L178 110M252 78L183 159M252 78L148 150M252 78L155 145M252 78L181 125M252 78L160 126M252 78L168 117M252 78L210 128M252 78L188 157M252 78L177 93M252 78L184 155M252 78L184 119M252 78L207 127M252 78L142 128M252 78L167 173M252 78L198 109M252 78L150 157M252 78L169 180M252 78L188 137M252 78L202 159M252 78L164 149M252 78L186 125M252 78L172 139M252 78L156 133M252 78L172 117M252 78L190 148M252 78L195 119M252 78L166 101M252 78L143 140M252 78L165 140M252 78L177 126M252 78L184 163M252 78L184 107M252 78L157 140M252 78L180 153M252 78L189 151M252 78L175 143M252 78L163 155M252 78L154 137M252 78L211 142M252 78L165 126M252 78L192 155M252 78L157 121M252 78L138 117M252 78L165 148M252 78L173 134M252 78L181 127M252 78L169 139M252 78L155 155M252 78L151 144M252 78L193 114M252 78L173 153M252 78L160 134M252 78L136 142M252 78L157 134M252 78L148 144M252 78L181 117M252 78L163 165M252 78L145 161M252 78L170 162M252 78L176 107M252 78L153 125M252 78L196 153M252 78L191 104M252 78L170 135M252 78L157 162M252 78L180 102M252 78L164 109M252 78L184 150M252 78L170 121M252 78L170 99M252 78L195 112M252 78L167 128M252 78L165 166M252 78L190 155M252 78L195 147M252 78L173 128M252 78L192 120M252 78L158 124M252 78L167 163M252 78L171 106M252 78L190 150M252 78L167 116M252 78L176 137M252 78L186 156M252 78L187 166M252 78L154 152M252 78L145 120M252 78L155 121M252 78L164 142M252 78L142 114M252 78L161 152M252 78L149 113M252 78L141 120M252 78L156 120M252 78L182 137M252 78L187 96M252 78L208 122M252 78L162 126M252 78L199 127M252 78L190 114M252 78L140 130M252 78L168 177M252 78L187 139M252 78L192 107M252 78L208 133M252 78L154 115M252 78L171 149M252 78L167 104M252 78L167 118M252 78L159 119M252 78L184 140M252 78L200 128M252 78L181 140M252 78L168 168M252 78L174 129M252 78L138 146M252 78L171 131M252 78L140 122M252 78L170 174M252 78L202 112M252 78L163 174M252 78L137 116M252 78L144 167M252 78L179 140M252 78L181 100M252 78L166 180M252 78L152 154M252 78L170 143M252 78L194 108M252 78L135 146M252 78L157 122M252 78L164 145M252 78L158 97M252 78L147 142M252 78L185 119M252 78L138 126M252 78L167 136M252 78L143 135M252 78L165 144M252 78L159 165M252 78L184 111M252 78L137 153M252 78L159 100M252 78L168 150M252 78L138 125M252 78L159 143M252 78L187 99M271 75L194 147M271 75L172 153M271 75L171 140M271 75L136 134M271 75L144 129M271 75L170 173M271 75L149 144M271 75L176 101M271 75L156 167M271 75L168 95M271 75L192 103M271 75L179 158M271 75L170 104M271 75L160 136M271 75L208 152M271 75L190 144M271 75L183 140M271 75L158 126M271 75L164 173M271 75L180 128M271 75L192 104M271 75L199 158M271 75L197 141M271 75L158 167M271 75L154 135M271 75L167 141M271 75L149 104M271 75L143 123M271 75L205 158M271 75L153 105M271 75L162 153M271 75L157 127M271 75L156 104M271 75L176 131M271 75L154 97M271 75L182 99M271 75L170 155M271 75L184 165M271 75L174 167M271 75L146 127M271 75L180 161M271 75L182 128M271 75L173 137M271 75L147 131M271 75L169 154M271 75L167 124M271 75L161 147M271 75L148 164M271 75L201 107M271 75L149 129M271 75L168 116M271 75L186 117M271 75L189 115M271 75L179 160M271 75L177 171M271 75L195 169M271 75L186 113M271 75L167 115M271 75L181 135M271 75L192 129M271 75L167 126M271 75L205 140M271 75L144 130M271 75L166 138M271 75L140 126M271 75L154 144M271 75L189 133M271 75L173 140M271 75L169 124M271 75L153 145M271 75L177 182M271 75L165 175M271 75L177 127M271 75L165 116M271 75L169 109M271 75L161 172M271 75L204 134M271 75L169 115M271 75L160 124M271 75L148 161M271 75L195 151M271 75L169 182M271 75L166 156M271 75L191 147M271 75L186 136M271 75L181 119M271 75L197 133M271 75L159 121M271 75L166 113M271 75L164 136M271 75L185 109M271 75L151 106M271 75L153 157M271 75L185 118M271 75L176 115M271 75L168 144M271 75L160 153M271 75L184 104M271 75L205 112M271 75L170 156M271 75L157 174M271 75L158 152M271 75L194 128M271 75L181 154M271 75L157 159M271 75L162 141M271 75L136 120M271 75L190 126M271 75L185 138M271 75L179 143M271 75L179 144M271 75L179 149M271 75L211 136M271 75L139 122M271 75L171 133M271 75L177 134M271 75L167 161M271 75L159 163M271 75L142 153M271 75L174 178M271 75L169 164M271 75L170 167M271 75L201 135M271 75L169 132M271 75L137 147M271 75L162 165M271 75L179 157M271 75L192 159M271 75L157 139M271 75L210 134M271 75L195 138M271 75L165 103M271 75L174 147M271 75L182 155M271 75L182 145M271 75L170 106M271 75L200 150M271 75L146 145M271 75L190 123M271 75L176 133M271 75L191 101M271 75L203 154M271 75L186 108M271 75L197 105M271 75L151 133M271 75L179 171M271 75L177 136M271 75L194 162M271 75L188 115M271 75L161 174M271 75L159 170M271 75L201 119M271 75L170 162M271 75L178 111M271 75L166 146M271 75L158 111M271 75L191 130M271 75L170 117M271 75L178 155M271 75L188 158M291 72L144 127M291 72L168 151M291 72L193 160M291 72L153 109M291 72L170 165M291 72L162 171M291 72L208 153M291 72L151 119M291 72L172 179M291 72L165 180M291 72L181 139M291 72L201 134M291 72L167 158M291 72L190 104M291 72L179 128M291 72L203 115M291 72L187 116M291 72L188 157M291 72L172 143M291 72L168 148M291 72L188 133M291 72L145 155M291 72L146 156M291 72L153 148M291 72L154 103M291 72L168 180M291 72L182 111M291 72L162 120M291 72L189 136M291 72L174 143M291 72L163 171M291 72L160 162M291 72L186 165M291 72L189 125M291 72L170 141M291 72L138 143M291 72L185 141M291 72L162 138M291 72L141 120M291 72L178 107M291 72L176 137M291 72L189 138M291 72L180 153M291 72L179 147M291 72L167 158M291 72L146 160M291 72L160 141M291 72L152 162M291 72L150 119M291 72L185 134M291 72L148 131M291 72L180 135M291 72L164 162M291 72L171 112M291 72L164 136M291 72L159 136M291 72L158 159M291 72L200 133M291 72L201 143M291 72L166 110M291 72L147 151M291 72L158 154M291 72L152 174M291 72L167 116M291 72L181 160M291 72L142 114M291 72L177 121M291 72L166 111M291 72L135 129M291 72L163 94M291 72L163 99M291 72L174 106M291 72L174 145M291 72L202 147M291 72L159 157M291 72L156 155M291 72L155 161M291 72L203 118M291 72L150 159M291 72L199 160M291 72L150 145M291 72L136 129M291 72L155 144M291 72L171 111M291 72L180 121M291 72L175 112M291 72L182 177M291 72L174 146M291 72L181 145M291 72L207 146M291 72L148 124M291 72L147 127M291 72L151 131M291 72L167 169M291 72L150 118M291 72L180 177M291 72L154 128M291 72L171 123M291 72L179 151M291 72L202 154M291 72L137 136M291 72L195 101M291 72L177 170M291 72L141 161M291 72L160 105M291 72L177 156M291 72L192 140M291 72L181 147M291 72L177 128M291 72L152 140M291 72L151 119M291 72L153 161M291 72L194 108M291 72L177 157M291 72L176 151M291 72L177 176M291 72L191 122M291 72L195 162M291 72L196 118M291 72L174 127M291 72L203 115M291 72L183 153M291 72L166 137M291 72L195 133M291 72L178 117M291 72L163 147M291 72L153 134M291 72L179 145M291 72L173 146M291 72L180 113M291 72L176 130M291 72L202 159M291 72L139 156M291 72L156 99M291 72L159 97M291 72L189 146M291 72L164 166M291 72L150 137M291 72L189 133M291 72L140 139M291 72L186 123M291 72L170 145M291 72L152 150M291 72L199 136M291 72L167 117M291 72L159 158M291 72L180 154M291 72L184 174M291 72L203 142M291 72L154 163M291 72L155 150M291 72L173 115M291 72L182 162M291 72L139 114M291 72L150 167M291 72L177 94M291 72L174 119M291 72L193 119M291 72L154 146M291 72L152 118M311 70L159 172M311 70L192 135M311 70L153 111M311 70L148 111M311 70L158 146M311 70L167 159M311 70L197 163M311 70L175 128M311 70L200 114M311 70L155 102M311 70L175 118M311 70L185 133M311 70L186 139M311 70L164 160M311 70L132 141M311 70L149 127M311 70L181 168M311 70L167 155M311 70L162 134M311 70L170 109M311 70L183 140M311 70L186 155M311 70L191 168M311 70L159 137M311 70L205 116M311 70L184 123M311 70L162 141M311 70L192 122M311 70L180 109M311 70L189 112M311 70L199 107M311 70L165 136M311 70L153 129M311 70L153 173M311 70L175 167M311 70L155 171M311 70L139 118M311 70L139 140M311 70L207 147M311 70L191 102M311 70L182 129M311 70L160 125M311 70L186 118M311 70L158 103M311 70L156 173M311 70L162 141M311 70L164 151M311 70L175 166M311 70L206 126M311 70L175 113M311 70L154 129M311 70L195 153M311 70L204 145M311 70L156 149M311 70L172 166M311 70L209 151M311 70L158 155M311 70L191 129M311 70L192 110M311 70L174 98M311 70L153 134M311 70L160 138M311 70L169 111M311 70L165 145M311 70L164 122M311 70L152 103M311 70L146 146M311 70L172 159M311 70L152 144M311 70L170 117M311 70L160 134M311 70L163 160M311 70L178 127M311 70L174 112M311 70L168 161M311 70L177 112M311 70L204 118M311 70L186 174M311 70L186 110M311 70L208 135M311 70L181 104M311 70L189 106M311 70L177 140M311 70L152 128M311 70L155 121M311 70L166 123M311 70L160 124M311 70L196 101M311 70L163 111M311 70L181 149M311 70L162 104M311 70L204 150M311 70L204 141M311 70L158 109M311 70L180 146M311 70L177 142M311 70L196 131M311 70L165 168M311 70L174 137M311 70L182 109M311 70L170 132M311 70L139 150M311 70L145 161M311 70L165 160M311 70L153 126M311 70L167 131M311 70L162 152M311 70L203 126M311 70L146 120M311 70L171 152M311 70L185 153M311 70L204 142M311 70L192 130M311 70L139 151M311 70L210 131M311 70L156 125M311 70L185 126M311 70L179 132M311 70L176 133M311 70L173 153M311 70L196 108M311 70L178 142M311 70L161 129M311 70L182 141M311 70L151 131M311 70L161 148M311 70L144 144M311 70L176 167M311 70L178 149M311 70L163 138M311 70L185 111M311 70L148 170M311 70L167 175M311 70L176 173M311 70L172 172M311 70L200 114M311 70L149 103M311 70L174 128M311 70L177 104M311 70L185 147M311 70L188 96M311 70L182 180M311 70L183 131M311 70L183 125M311 70L176 120M311 70L203 145M311 70L165 173M311 70L157 141M311 70L163 124M311 70L173 146M311 70L190 124M311 70L210 135M311 70L176 148M311 70L145 124M311 70L146 121M311 70L178 160M311 70L171 107M311 70L159 114M311 70L175 151M311 70L140 142M292 87L180 176M292 87L151 138M292 87L195 166M292 87L147 140M292 87L186 172M292 87L162 122M292 87L146 106M292 87L177 131M292 87L207 127M292 87L192 129M292 87L157 129M292 87L159 163M292 87L159 95M292 87L175 134M292 87L147 128M292 87L178 178M292 87L152 156M292 87L177 95M292 87L174 160M292 87L176 104M292 87L211 143M292 87L209 136M292 87L159 123M292 87L205 147M292 87L160 158M292 87L150 105M292 87L166 131M292 87L173 111M292 87L155 136M292 87L153 162M292 87L207 144M292 87L160 157M292 87L184 143M292 87L185 169M292 87L181 174M292 87L158 171M292 87L164 150M292 87L137 133M292 87L204 143M292 87L167 111M292 87L167 162M292 87L150 154M292 87L146 155M292 87L171 172M292 87L182 136M292 87L158 96M292 87L159 121M292 87L147 127M292 87L189 148M292 87L160 101M292 87L177 140M292 87L197 147M292 87L166 114M292 87L160 169M292 87L142 116M292 87L170 119M292 87L183 119M292 87L148 137M292 87L180 112M292 87L156 119M292 87L145 106M292 87L158 155M292 87L187 129M292 87L161 119M292 87L189 148M292 87L176 145M292 87L189 123M292 87L175 148M292 87L138 126M292 87L200 121M292 87L160 158M292 87L187 122M292 87L174 178M292 87L135 129M292 87L144 153M292 87L154 125M292 87L202 138M292 87L144 162M292 87L209 153M292 87L155 148M292 87L198 149M292 87L180 146M292 87L156 135M292 87L182 107M292 87L175 136M292 87L169 163M292 87L166 133M292 87L141 141M292 87L190 154M292 87L165 104M292 87L182 110M292 87L176 140M292 87L157 151M292 87L174 154M292 87L177 129M292 87L173 112M292 87L156 117M292 87L184 138M292 87L196 113M292 87L158 167M292 87L178 175M292 87L188 104M292 87L175 149M292 87L182 150M292 87L169 101M292 87L181 136M292 87L140 152M292 87L196 168M292 87L139 147M292 87L161 151M292 87L199 169M292 87L179 151M292 87L179 180M292 87L187 127M292 87L152 135M292 87L167 127M292 87L196 118M292 87L146 130M292 87L161 156M292 87L144 114M292 87L150 144M292 87L164 123M292 87L148 166M292 87L134 147M292 87L196 134M292 87L156 141M292 87L199 158M292 87L151 135M292 87L151 150M292 87L153 153M292 87L188 153M292 87L160 149M292 87L193 126M292 87L147 140M292 87L148 137M292 87L171 104M292 87L172 128M292 87L154 101M292 87L157 125M292 87L203 129M292 87L170 139M292 87L200 169M292 87L148 126M292 87L155 141M292 87L146 159M292 87L137 148M292 87L178 115M292 87L139 123M292 87L185 127M292 87L149 168M292 87L145 120M292 87L207 140M292 87L154 137M292 87L162 115M292 87L204 126M292 87L185 145M292 87L141 163M292 87L168 158M292 87L162 149M292 87L194 141M308 85L160 116M308 85L165 108M308 85L135 135M308 85L194 161M308 85L139 126M308 85L170 121M308 85L166 120M308 85L153 141M308 85L171 152M308 85L189 113M308 85L172 164M308 85L149 164M308 85L194 118M308 85L148 125M308 85L151 117M308 85L197 155M308 85L155 129M308 85L173 149M308 85L189 151M308 85L147 117M308 85L179 161M308 85L210 131M308 85L165 116M308 85L179 104M308 85L185 151M308 85L178 117M308 85L180 158M308 85L165 171M308 85L190 168M308 85L155 133M308 85L151 134M308 85L172 135M308 85L176 167M308 85L197 113M308 85L162 167M308 85L167 103M308 85L190 102M308 85L163 146M308 85L133 139M308 85L176 95M308 85L167 106M308 85L146 136M308 85L194 171M308 85L156 166M308 85L173 160M308 85L151 121M308 85L182 177M308 85L151 107M308 85L152 169M308 85L186 105M308 85L172 156M308 85L168 140M308 85L209 124M308 85L197 143M308 85L181 158M308 85L166 127M308 85L195 111M308 85L189 100M308 85L154 140M308 85L151 141M308 85L163 171M308 85L171 167M308 85L148 107M308 85L162 126M308 85L148 111M308 85L163 118M308 85L170 131M308 85L170 145M308 85L172 144M308 85L175 158M308 85L181 151M308 85L139 151M308 85L162 153M308 85L134 142M308 85L185 149M308 85L189 144M308 85L148 142M308 85L137 145M308 85L170 94M308 85L195 118M308 85L206 151M308 85L168 109M308 85L196 164M308 85L210 140M308 85L188 139M308 85L151 152M308 85L163 165M308 85L179 111M308 85L171 130M308 85L158 106M308 85L157 146M308 85L184 138M308 85L179 135M308 85L187 98M308 85L195 101M308 85L168 116M308 85L155 134M308 85L174 120M308 85L192 135M308 85L170 155M308 85L177 132M308 85L172 117M308 85L178 124M308 85L161 96M308 85L176 124M308 85L160 142M308 85L186 177M308 85L161 157M308 85L171 144M308 85L207 147M308 85L179 134M308 85L155 155M308 85L154 121M308 85L164 139M308 85L177 147M308 85L177 166M308 85L168 181M308 85L186 125M308 85L163 172M308 85L190 142M308 85L162 126M308 85L174 134M308 85L157 120M308 85L153 156M308 85L136 135M308 85L189 117M308 85L199 113M308 85L144 165M308 85L179 117M308 85L173 98M308 85L181 116M308 85L183 171M308 85L164 125M308 85L149 170M308 85L164 106M308 85L139 156M308 85L161 103M308 85L187 173M308 85L158 108M308 85L172 144M308 85L160 124M308 85L167 129M308 85L170 107M308 85L184 118M308 85L156 97M308 85L148 114M308 85L175 106M308 85L154 108M308 85L148 159M308 85L161 121M308 85L168 120M308 85L134 136M308 85L184 142M308 85L156 102M308 85L166 113M308 85L175 156M308 85L175 152M308 85L191 145M308 85L167 153M308 85L138 139M323 90L168 119M323 90L174 145M323 90L200 139M323 90L178 160M323 90L182 122M323 90L136 122M323 90L149 148M323 90L139 127M323 90L159 125M323 90L182 130M323 90L205 162M323 90L196 149M323 90L209 151M323 90L147 132M323 90L161 177M323 90L135 145M323 90L157 149M323 90L179 136M323 90L196 137M323 90L148 167M323 90L149 166M323 90L176 144M323 90L187 118M323 90L176 139M323 90L205 118M323 90L198 128M323 90L143 119M323 90L167 110M323 90L146 148M323 90L190 157M323 90L136 144M323 90L168 149M323 90L161 126M323 90L179 104M323 90L171 170M323 90L139 153M323 90L168 166M323 90L179 152M323 90L202 144M323 90L161 165M323 90L195 172M323 90L194 155M323 90L154 118M323 90L168 123M323 90L175 179M323 90L169 173M323 90L189 156M323 90L171 116M323 90L177 158M323 90L166 136M323 90L157 122M323 90L176 163M323 90L149 169M323 90L173 130M323 90L200 161M323 90L135 147M323 90L187 144M323 90L157 114M323 90L198 160M323 90L189 145M323 90L169 118M323 90L186 140M323 90L189 159M323 90L177 169M323 90L170 143M323 90L170 143M323 90L152 156M323 90L143 130M323 90L144 124M323 90L150 109M323 90L172 104M323 90L171 161M323 90L162 128M323 90L166 132M323 90L183 137M323 90L200 149M323 90L139 135M323 90L184 167M323 90L166 131M323 90L173 170M323 90L136 137M323 90L185 133M323 90L204 134M323 90L163 166M323 90L196 154M323 90L160 142M323 90L172 155M323 90L207 122M323 90L201 135M323 90L151 126M323 90L180 154M323 90L165 109M323 90L186 117M323 90L204 133M323 90L203 142M323 90L135 142M323 90L188 155M323 90L166 104M323 90L151 100M323 90L172 141M323 90L186 159M323 90L164 112M323 90L169 151M323 90L158 129M323 90L146 153M323 90L165 129M323 90L185 146M323 90L206 157M323 90L152 99M323 90L171 103M323 90L145 120M323 90L151 128M323 90L205 124M323 90L156 176M323 90L201 152M323 90L195 154M323 90L154 145M323 90L165 103M323 90L171 139M323 90L158 156M323 90L164 98M323 90L162 162M323 90L155 166M323 90L180 147M323 90L179 130M323 90L155 114M323 90L146 170M323 90L146 107M323 90L151 132M323 90L183 147M323 90L180 167M323 90L159 160M323 90L166 132M323 90L159 167M323 90L159 178M323 90L193 175M323 90L163 116M323 90L144 158M323 90L162 181M323 90L171 121M323 90L181 162M323 90L146 135M323 90L169 123M323 90L199 121M323 90L161 121M323 90L180 108M323 90L175 124M323 90L153 136M323 90L174 111M323 90L152 121M323 90L207 131M323 90L178 165M323 90L203 163M323 90L200 124M323 90L188 133M323 90L182 101M323 90L184 116M323 90L163 152M323 90L190 143M323 90L160 177M257 96L162 105M257 96L211 134M257 96L155 136M257 96L199 126M257 96L188 131M257 96L179 159M257 96L146 128M257 96L207 149M257 96L183 137M257 96L173 112M257 96L185 117M257 96L187 115M257 96L184 125M257 96L190 135M257 96L178 136M257 96L195 121M257 96L160 177M257 96L142 112M257 96L146 105M257 96L139 148M257 96L172 147M257 96L186 121M257 96L198 140M257 96L170 126M257 96L145 106M257 96L159 128M257 96L211 143M257 96L197 119M257 96L174 115M257 96L194 117M257 96L195 122M257 96L195 153M257 96L170 141M257 96L191 147M257 96L201 138M257 96L200 154M257 96L174 134M257 96L180 143M257 96L186 99M257 96L175 114M257 96L184 131M257 96L149 121M257 96L167 166M257 96L147 165M257 96L164 142M257 96L195 154M257 96L187 152M257 96L175 135M257 96L194 118M257 96L159 97M257 96L179 138M257 96L174 108M257 96L192 152M257 96L195 135M257 96L179 157M257 96L139 150M257 96L169 150M257 96L179 121M257 96L154 164M257 96L143 131M257 96L184 160M257 96L190 134M257 96L188 137M257 96L169 161M257 96L165 180M257 96L195 159M257 96L165 132M257 96L191 143M257 96L182 131M257 96L173 126M257 96L144 120M257 96L194 113M257 96L146 125M257 96L159 150M257 96L164 126M257 96L195 151M257 96L199 163M257 96L185 126M257 96L156 150M257 96L199 124M257 96L176 144M257 96L173 143M257 96L193 163M257 96L187 127M257 96L142 141M257 96L174 136M257 96L168 143M257 96L134 147M257 96L202 163M257 96L164 155M257 96L177 162M257 96L193 171M257 96L188 175M257 96L201 113M257 96L202 152M257 96L200 164M257 96L186 157M257 96L158 117M257 96L152 147M257 96L154 146M257 96L175 137M257 96L174 110M257 96L167 165M257 96L139 116M257 96L174 121M257 96L155 137M257 96L178 160M257 96L182 172M257 96L148 138M257 96L200 145M257 96L168 130M257 96L135 132M257 96L141 116M257 96L161 103M257 96L167 149M257 96L142 132M257 96L158 163M257 96L196 135M257 96L186 147M257 96L192 145M257 96L205 158M257 96L178 135M257 96L154 123M257 96L154 105M257 96L191 131M257 96L191 165M257 96L192 158M257 96L142 112M257 96L178 122M257 96L176 100M257 96L203 156M257 96L147 110M257 96L183 131M257 96L201 160M257 96L167 141M257 96L195 144M257 96L161 101M257 96L207 148M257 96L167 178M257 96L188 108M257 96L146 165M257 96L153 121M257 96L195 152M257 96L165 158M257 96L192 157M257 96L146 126M257 96L188 97M257 96L188 143M257 96L144 137M257 96L152 143M257 96L178 132M257 96L162 154M257 96L147 160M257 96L154 133M257 96L170 164M257 96L167 161M257 96L208 130M257 96L207 155M257 96L165 175M257 96L172 169M275 92L168 124M275 92L163 157M275 92L158 108M275 92L136 141M275 92L167 179M275 92L207 123M275 92L144 105M275 92L141 144M275 92L174 114M275 92L167 167M275 92L198 122M275 92L201 133M275 92L168 146M275 92L170 110M275 92L140 115M275 92L169 161M275 92L147 146M275 92L164 116M275 92L178 155M275 92L166 146M275 92L136 147M275 92L144 140M275 92L205 143M275 92L151 159M275 92L183 166M275 92L153 106M275 92L194 115M275 92L194 141M275 92L183 107M275 92L156 166M275 92L197 106M275 92L193 145M275 92L169 136M275 92L182 145M275 92L152 141M275 92L205 132M275 92L181 138M275 92L190 168M275 92L197 172M275 92L179 116M275 92L147 171M275 92L167 102M275 92L149 102M275 92L168 146M275 92L184 149M275 92L148 148M275 92L170 145M275 92L182 105M275 92L194 117M275 92L133 137M275 92L164 103M275 92L191 138M275 92L187 124M275 92L155 134M275 92L187 148M275 92L198 117M275 92L144 143M275 92L210 123M275 92L193 119M275 92L189 148M275 92L157 125M275 92L138 118M275 92L180 154M275 92L172 159M275 92L202 135M275 92L189 136M275 92L181 158M275 92L171 109M275 92L152 119M275 92L207 147M275 92L169 177M275 92L178 139M275 92L186 122M275 92L150 126M275 92L166 139M275 92L143 143M275 92L183 113M275 92L170 179M275 92L134 134M275 92L175 129M275 92L178 156M275 92L178 120M275 92L170 100M275 92L176 166M275 92L158 139M275 92L195 156M275 92L165 125M275 92L172 118M275 92L174 130M275 92L171 129M275 92L148 137M275 92L183 151M275 92L177 137M275 92L173 164M275 92L144 157M275 92L175 119M275 92L157 166M275 92L202 159M275 92L143 141M275 92L160 119M275 92L190 132M275 92L190 126M275 92L170 95M275 92L147 121M275 92L169 122M275 92L186 132M275 92L181 151M275 92L161 172M275 92L191 147M275 92L167 164M275 92L193 120M275 92L180 163M275 92L168 154M275 92L162 137M275 92L177 120M275 92L185 149M275 92L187 121M275 92L178 126M275 92L184 131M275 92L157 101M275 92L193 150M275 92L177 130M275 92L161 153M275 92L154 119M275 92L173 115M275 92L190 116M275 92L200 140M275 92L165 128M275 92L199 145M275 92L137 146M275 92L204 111M275 92L151 147M275 92L183 141M275 92L137 124M275 92L159 132M275 92L171 103M275 92L163 176M275 92L142 136M275 92L160 138M275 92L163 126M275 92L168 105M275 92L197 146M275 92L203 113M275 92L167 140M275 92L165 137M275 92L143 125M275 92L184 129M275 92L151 150M275 92L164 129M275 92L152 135M275 92L177 128M275 92L164 123M275 92L173 160M275 92L170 100M275 92L140 149M275 92L176 135M275 92L159 117M275 92L195 122M275 92L138 143M275 92L187 177M309 97L202 164M309 97L185 138M309 97L169 106M309 97L160 131M309 97L177 129M309 97L148 144M309 97L178 110M309 97L164 124M309 97L187 124M309 97L158 132M309 97L190 117M309 97L181 138M309 97L177 164M309 97L172 174M309 97L169 137M309 97L161 168M309 97L169 143M309 97L193 134M309 97L177 115M309 97L201 125M309 97L155 133M309 97L149 151M309 97L134 136M309 97L170 145M309 97L190 146M309 97L153 161M309 97L188 104M309 97L166 107M309 97L167 136M309 97L163 155M309 97L161 101M309 97L143 148M309 97L185 112M309 97L191 139M309 97L187 147M309 97L162 134M309 97L178 160M309 97L170 127M309 97L149 138M309 97L168 155M309 97L157 151M309 97L150 156M309 97L168 103M309 97L160 109M309 97L161 106M309 97L168 126M309 97L198 170M309 97L182 139M309 97L156 146M309 97L188 147M309 97L168 143M309 97L180 149M309 97L148 139M309 97L174 142M309 97L182 142M309 97L163 157M309 97L181 109M309 97L189 130M309 97L179 108M309 97L177 174M309 97L181 135M309 97L178 117M309 97L201 162M309 97L171 179M309 97L159 162M309 97L182 169M309 97L177 135M309 97L178 156M309 97L174 139M309 97L176 101M309 97L212 139M309 97L178 170M309 97L192 144M309 97L168 115M309 97L171 113M309 97L179 138M309 97L165 118M309 97L152 159M309 97L151 138M309 97L175 162M309 97L173 154M309 97L140 153M309 97L174 131M309 97L167 128M309 97L203 143M309 97L154 125M309 97L195 157M309 97L205 119M309 97L185 120M309 97L185 112M309 97L181 105M309 97L135 134M309 97L164 167M309 97L201 132M309 97L191 125M309 97L189 147M309 97L139 138M309 97L165 119M309 97L184 134M309 97L182 168M309 97L145 108M309 97L205 138M309 97L152 120M309 97L160 111M309 97L191 140M309 97L172 112M309 97L169 135M309 97L203 158M309 97L163 141M309 97L193 135M309 97L169 142M309 97L194 164M309 97L185 148M309 97L198 117M309 97L178 132M309 97L152 146M309 97L174 145M309 97L184 141M309 97L146 117M309 97L180 152M309 97L184 143M309 97L176 132M309 97L206 119M309 97L138 145M309 97L139 147M309 97L195 148M309 97L190 153M309 97L196 139M309 97L165 144M309 97L140 155M309 97L190 111M309 97L156 105M309 97L199 167M309 97L161 151M309 97L161 176M309 97L142 150M309 97L173 117M309 97L178 163M309 97L208 128M309 97L149 155M309 97L161 136M309 97L144 162M309 97L176 142M309 97L176 110M309 97L180 148M309 97L199 150M309 97L171 112M309 97L191 150M309 97L140 153M309 97L143 140M309 97L163 147M309 97L167 141M309 97L177 116M309 97L205 160M309 97L157 117M309 97L189 149M309 97L187 143M309 97L184 119M309 97L184 178M309 97L199 122M293 100L167 128M293 100L185 168M293 100L178 113M293 100L181 165M293 100L170 118M293 100L173 134M293 100L171 150M293 100L212 137M293 100L146 129M293 100L176 136M293 100L151 171M293 100L176 126M293 100L153 121M293 100L164 169M293 100L195 161M293 100L167 140M293 100L178 144M293 100L173 105M293 100L196 162M293 100L143 113M293 100L143 148M293 100L158 143M293 100L173 118M293 100L182 172M293 100L153 164M293 100L148 151M293 100L172 151M293 100L176 161M293 100L152 111M293 100L137 154M293 100L159 143M293 100L147 106M293 100L182 121M293 100L169 170M293 100L160 132M293 100L164 94M293 100L179 178M293 100L139 126M293 100L189 128M293 100L150 157M293 100L172 114M293 100L204 129M293 100L198 129M293 100L186 129M293 100L189 136M293 100L199 115M293 100L169 164M293 100L164 114M293 100L209 136M293 100L173 125M293 100L156 165M293 100L207 144M293 100L190 150M293 100L161 110M293 100L177 153M293 100L169 134M293 100L202 161M293 100L166 181M293 100L171 169M293 100L141 133M293 100L180 161M293 100L136 122M293 100L191 129M293 100L167 158M293 100L185 100M293 100L163 177M293 100L203 133M293 100L163 132M293 100L155 147M293 100L156 113M293 100L178 123M293 100L142 159M293 100L166 167M293 100L211 138M293 100L174 147M293 100L138 145M293 100L140 132M293 100L164 156M293 100L181 107M293 100L186 177M293 100L170 136M293 100L137 149M293 100L155 101M293 100L158 171M293 100L141 128M293 100L202 148M293 100L168 113M293 100L171 172M293 100L151 105M293 100L172 155M293 100L160 166M293 100L163 117M293 100L169 173M293 100L205 139M293 100L145 116M293 100L153 128M293 100L135 127M293 100L169 127M293 100L184 164M293 100L155 136M293 100L181 174M293 100L172 165M293 100L164 165M293 100L153 144M293 100L155 115M293 100L172 175M293 100L197 167M293 100L136 155M293 100L171 171M293 100L184 136M293 100L189 135M293 100L152 114M293 100L157 126M293 100L159 133M293 100L158 117M293 100L142 130M293 100L157 178M293 100L165 117M293 100L160 163M293 100L144 121M293 100L171 125M293 100L200 112M293 100L207 142M293 100L142 140M293 100L167 141M293 100L139 134M293 100L194 162M293 100L169 159M293 100L200 157M293 100L202 152M293 100L172 127M293 100L182 133M293 100L166 143M293 100L156 147M293 100L164 161M293 100L157 126M293 100L174 160M293 100L187 111M293 100L178 139M293 100L151 118M293 100L153 139M293 100L166 142M293 100L190 151M293 100L169 142M293 100L170 134M293 100L160 139M293 100L159 140M293 100L153 160M293 100L192 145M293 100L169 135M293 100L169 145M293 100L183 126M293 100L201 154M293 100L185 156M293 100L166 118M293 100L135 147M293 100L163 119M293 100L142 129M293 100L186 104M293 100L204 154M263 106L175 141M263 106L198 141M263 106L150 171M263 106L172 98M263 106L182 98M263 106L162 134M263 106L209 126M263 106L199 148M263 106L169 125M263 106L186 137M263 106L146 150M263 106L199 162M263 106L150 112M263 106L170 166M263 106L193 130M263 106L182 153M263 106L166 145M263 106L172 100M263 106L205 130M263 106L181 101M263 106L164 131M263 106L205 116M263 106L205 144M263 106L197 162M263 106L184 160M263 106L155 154M263 106L165 142M263 106L155 138M263 106L170 95M263 106L177 135M263 106L192 156M263 106L171 149M263 106L160 180M263 106L184 154M263 106L186 172M263 106L177 115M263 106L168 136M263 106L144 135M263 106L160 145M263 106L175 163M263 106L177 135M263 106L179 98M263 106L161 149M263 106L154 120M263 106L204 156M263 106L169 123M263 106L201 165M263 106L194 127M263 106L151 136M263 106L169 116M263 106L156 147M263 106L140 114M263 106L149 150M263 106L148 140M263 106L197 116M263 106L177 126M263 106L145 165M263 106L136 147M263 106L184 116M263 106L163 136M263 106L159 158M263 106L150 156M263 106L168 127M263 106L169 170M263 106L168 132M263 106L169 167M263 106L155 125M263 106L179 144M263 106L178 133M263 106L169 132M263 106L196 118M263 106L175 108M263 106L142 122M263 106L176 118M263 106L192 157M263 106L152 163M263 106L155 174M263 106L144 145M263 106L155 108M263 106L171 146M263 106L171 130M263 106L185 157M263 106L165 174M263 106L165 155M263 106L166 136M263 106L188 164M263 106L161 146M263 106L172 154M263 106L203 130M263 106L163 128M263 106L184 153M263 106L178 149M263 106L150 108M263 106L152 137M263 106L176 168M263 106L189 136M263 106L202 164M263 106L167 105M263 106L173 148M263 106L185 139M263 106L204 135M263 106L191 117M263 106L137 127M263 106L182 131M263 106L139 139M263 106L146 157M263 106L161 155M263 106L167 153M263 106L181 169M263 106L206 114M263 106L172 153M263 106L195 134M263 106L167 143M263 106L170 136M263 106L168 181M263 106L204 145M263 106L167 118M263 106L200 131M263 106L162 116M263 106L173 141M263 106L162 105M263 106L187 121M263 106L173 120M263 106L166 106M263 106L186 131M263 106L167 101M263 106L205 153M263 106L182 129M263 106L194 118M263 106L154 153M263 106L165 139M263 106L146 141M263 106L190 144M263 106L155 113M263 106L152 143M263 106L184 115M263 106L146 140M263 106L171 146M263 106L196 125M263 106L202 133M263 106L158 107M263 106L155 147M263 106L189 151M263 106L189 151M263 106L166 130M263 106L165 124M263 106L171 105M263 106L178 159M263 106L148 109M263 106L184 139M263 106L158 99M263 106L152 118M263 106L175 164M263 106L193 113M263 106L138 116M263 106L183 133M263 106L140 145M263 106L174 127M263 106L206 138M263 106L156 155M283 109L183 112M283 109L157 133M283 109L188 142M283 109L168 123M283 109L175 129M283 109L161 97M283 109L180 157M283 109L187 122M283 109L183 128M283 109L159 168M283 109L201 122M283 109L207 131M283 109L168 119M283 109L159 121M283 109L197 118M283 109L194 150M283 109L183 173M283 109L189 100M283 109L174 159M283 109L135 126M283 109L164 130M283 109L170 128M283 109L207 157M283 109L159 141M283 109L178 166M283 109L187 127M283 109L174 170M283 109L141 150M283 109L185 109M283 109L206 125M283 109L165 159M283 109L189 114M283 109L171 125M283 109L170 163M283 109L171 182M283 109L148 113M283 109L149 132M283 109L155 140M283 109L154 174M283 109L167 125M283 109L197 134M283 109L140 151M283 109L195 152M283 109L173 179M283 109L178 142M283 109L182 154M283 109L190 114M283 109L206 150M283 109L189 115M283 109L180 134M283 109L138 117M283 109L146 126M283 109L173 166M283 109L157 110M283 109L145 150M283 109L142 143M283 109L156 129M283 109L158 134M283 109L165 121M283 109L161 171M283 109L162 136M283 109L173 129M283 109L202 116M283 109L182 119M283 109L175 125M283 109L173 120M283 109L154 121M283 109L200 169M283 109L150 165M283 109L179 116M283 109L173 147M283 109L189 152M283 109L166 129M283 109L171 112M283 109L171 136M283 109L195 110M283 109L161 131M283 109L180 120M283 109L168 155M283 109L193 167M283 109L193 149M283 109L193 160M283 109L198 168M283 109L150 126M283 109L169 158M283 109L183 121M283 109L192 117M283 109L178 156M283 109L149 103M283 109L175 151M283 109L189 130M283 109L173 112M283 109L177 141M283 109L179 99M283 109L199 169M283 109L157 155M283 109L151 123M283 109L191 126M283 109L159 158M283 109L143 133M283 109L176 103M283 109L171 127M283 109L191 140M283 109L154 159M283 109L209 131M283 109L178 97M283 109L172 104M283 109L207 142M283 109L140 126M283 109L182 99M283 109L181 158M283 109L162 146M283 109L194 146M283 109L154 99M283 109L164 151M283 109L170 154M283 109L198 118M283 109L174 180M283 109L182 163M283 109L156 166M283 109L165 148M283 109L170 101M283 109L143 141M283 109L168 159M283 109L190 154M283 109L171 173M283 109L146 116M283 109L136 152M283 109L191 103M283 109L175 131M283 109L156 125M283 109L177 156M283 109L153 131M283 109L182 115M283 109L160 166M283 109L176 109M283 109L157 123M283 109L149 146M283 109L154 172M283 109L174 133M283 109L149 165M283 109L137 140M283 109L158 155M283 109L197 131M283 109L200 126M283 109L152 172M283 109L155 145M283 109L172 133M283 109L159 163M283 109L156 140M283 109L143 130M283 109L147 150M283 109L163 150M283 109L176 136M283 109L137 120M283 109L164 162M283 109L179 98M283 109L133 147M283 109L158 147M283 109L170 102M304 114L193 123M304 114L200 166M304 114L174 125M304 114L184 164M304 114L199 146M304 114L155 117M304 114L204 158M304 114L143 145M304 114L164 133M304 114L161 134M304 114L155 96M304 114L190 171M304 114L195 102M304 114L164 159M304 114L170 156M304 114L182 113M304 114L176 131M304 114L191 151M304 114L164 135M304 114L152 139M304 114L188 159M304 114L175 138M304 114L156 161M304 114L192 114M304 114L152 132M304 114L186 133M304 114L199 112M304 114L198 152M304 114L141 130M304 114L192 143M304 114L182 172M304 114L178 143M304 114L183 142M304 114L161 118M304 114L170 155M304 114L181 117M304 114L151 153M304 114L161 143M304 114L175 130M304 114L146 123M304 114L200 106M304 114L179 122M304 114L161 115M304 114L176 102M304 114L162 157M304 114L164 97M304 114L202 161M304 114L152 136M304 114L173 151M304 114L207 130M304 114L146 171M304 114L194 153M304 114L176 172M304 114L164 162M304 114L198 139M304 114L210 133M304 114L168 165M304 114L153 139M304 114L143 139M304 114L192 150M304 114L138 139M304 114L176 165M304 114L146 122M304 114L209 135M304 114L148 140M304 114L147 124M304 114L147 128M304 114L175 131M304 114L168 139M304 114L159 96M304 114L141 146M304 114L195 105M304 114L187 143M304 114L176 132M304 114L166 158M304 114L201 167M304 114L177 123M304 114L168 154M304 114L167 115M304 114L171 147M304 114L182 153M304 114L184 130M304 114L177 180M304 114L188 126M304 114L194 122M304 114L171 158M304 114L168 181M304 114L138 132M304 114L166 165M304 114L167 106M304 114L177 134M304 114L192 114M304 114L181 139M304 114L195 104M304 114L165 125M304 114L191 149M304 114L154 134M304 114L186 110M304 114L149 111M304 114L149 125M304 114L172 158M304 114L188 142M304 114L140 139M304 114L140 139M304 114L136 154M304 114L172 142M304 114L197 120M304 114L182 107M304 114L194 135M304 114L199 140M304 114L164 144M304 114L178 127M304 114L141 126M304 114L151 148M304 114L191 121M304 114L164 172M304 114L188 166M304 114L175 107M304 114L161 116M304 114L161 129M304 114L170 120M304 114L187 113M304 114L183 100M304 114L210 128M304 114L146 152M304 114L184 138M304 114L154 171M304 114L166 161M304 114L203 156M304 114L151 99M304 114L167 166M304 114L142 130M304 114L202 145M304 114L178 178M304 114L177 97M304 114L148 136M304 114L160 156M304 114L157 110M304 114L194 132M304 114L197 115M304 114L186 126M304 114L193 159M304 114L197 169M304 114L198 138M304 114L149 148M304 114L163 106M304 114L165 106M304 114L190 126M304 114L160 171M304 114L204 136M304 114L160 119M304 114L140 147M304 114L161 173M304 114L195 146M304 114L146 150M304 114L161 163M304 114L181 104M304 114L170 174M304 114L173 150M304 114L156 151M323 105L206 155M323 105L147 137M323 105L139 131M323 105L189 112M323 105L173 138M323 105L172 130M323 105L201 146M323 105L169 156M323 105L182 152M323 105L145 152M323 105L196 148M323 105L147 145M323 105L158 128M323 105L166 145M323 105L183 135M323 105L168 106M323 105L204 123M323 105L161 109M323 105L164 169M323 105L172 153M323 105L185 131M323 105L194 105M323 105L185 139M323 105L184 143M323 105L176 102M323 105L173 111M323 105L157 110M323 105L195 134M323 105L192 135M323 105L164 175M323 105L154 138M323 105L168 111M323 105L199 126M323 105L165 135M323 105L155 148M323 105L170 140M323 105L177 150M323 105L169 124M323 105L174 155M323 105L175 142M323 105L150 111M323 105L160 116M323 105L143 157M323 105L156 164M323 105L205 144M323 105L137 116M323 105L177 150M323 105L139 139M323 105L159 125M323 105L178 131M323 105L192 153M323 105L192 150M323 105L191 122M323 105L168 115M323 105L164 115M323 105L146 112M323 105L142 124M323 105L164 154M323 105L179 109M323 105L191 157M323 105L145 168M323 105L195 153M323 105L148 129M323 105L165 167M323 105L193 175M323 105L160 162M323 105L179 105M323 105L170 93M323 105L190 161M323 105L178 167M323 105L195 151M323 105L180 120M323 105L176 130M323 105L163 154M323 105L143 110M323 105L144 166M323 105L202 151M323 105L154 112M323 105L185 114M323 105L180 100M323 105L196 140M323 105L138 121M323 105L177 120M323 105L178 133M323 105L193 127M323 105L179 175M323 105L204 146M323 105L138 126M323 105L164 144M323 105L158 134M323 105L183 149M323 105L205 157M323 105L153 167M323 105L165 136M323 105L169 134M323 105L198 149M323 105L164 97M323 105L159 177M323 105L191 173M323 105L190 136M323 105L205 145M323 105L152 160M323 105L179 136M323 105L147 130M323 105L176 180M323 105L164 102M323 105L170 169M323 105L202 163M323 105L187 96M323 105L187 132M323 105L173 121M323 105L153 104M323 105L156 117M323 105L188 133M323 105L153 126M323 105L168 149M323 105L170 93M323 105L187 132M323 105L135 147M323 105L169 93M323 105L179 123M323 105L196 130M323 105L165 117M323 105L207 117M323 105L161 108M323 105L164 171M323 105L172 154M323 105L140 116M323 105L166 113M323 105L199 106M323 105L146 104M323 105L141 148M323 105L197 157M323 105L173 128M323 105L148 157M323 105L150 101M323 105L156 150M323 105L168 130M323 105L154 141M323 105L168 134M323 105L180 148M323 105L172 142M323 105L137 139M323 105L188 116M323 105L153 144M323 105L175 133M323 105L183 163M323 105L157 104M323 105L183 164M323 105L197 112M323 105L154 126M323 105L198 142M323 105L175 159M323 105L149 156M323 105L153 107M323 105L166 112M323 105L207 122M323 105L194 144M323 105L178 132M323 105L152 130M272 118L192 131M272 118L179 154M272 118L154 137M272 118L155 175M272 118L174 114M272 118L165 96M272 118L181 133M272 118L151 174M272 118L154 169M272 118L211 133M272 118L153 98M272 118L201 114M272 118L191 136M272 118L189 153M272 118L191 127M272 118L182 132M272 118L169 150M272 118L167 109M272 118L156 111M272 118L174 135M272 118L153 131M272 118L196 164M272 118L164 107M272 118L187 150M272 118L150 112M272 118L186 121M272 118L161 119M272 118L149 167M272 118L167 95M272 118L204 152M272 118L176 169M272 118L158 136M272 118L183 158M272 118L157 116M272 118L179 135M272 118L201 132M272 118L194 124M272 118L178 115M272 118L134 129M272 118L199 112M272 118L165 161M272 118L152 107M272 118L142 110M272 118L191 174M272 118L204 155M272 118L196 122M272 118L204 132M272 118L182 109M272 118L157 143M272 118L196 129M272 118L177 122M272 118L158 139M272 118L158 145M272 118L177 178M272 118L197 111M272 118L157 131M272 118L138 148M272 118L203 157M272 118L171 122M272 118L164 121M272 118L202 140M272 118L162 124M272 118L189 109M272 118L200 150M272 118L188 129M272 118L172 114M272 118L163 126M272 118L152 149M272 118L170 153M272 118L180 131M272 118L199 158M272 118L161 142M272 118L170 143M272 118L180 133M272 118L178 132M272 118L166 174M272 118L206 140M272 118L175 175M272 118L188 154M272 118L178 147M272 118L186 147M272 118L173 116M272 118L171 92M272 118L183 141M272 118L163 134M272 118L136 129M272 118L199 163M272 118L163 130M272 118L140 161M272 118L168 143M272 118L179 119M272 118L156 130M272 118L179 150M272 118L178 137M272 118L160 110M272 118L177 136M272 118L161 175M272 118L182 117M272 118L162 134M272 118L162 159M272 118L160 129M272 118L161 121M272 118L175 140M272 118L172 118M272 118L184 95M272 118L139 119M272 118L188 167M272 118L193 128M272 118L139 126M272 118L157 176M272 118L146 117M272 118L191 166M272 118L149 122M272 118L177 143M272 118L174 105M272 118L158 110M272 118L164 128M272 118L169 140M272 118L195 133M272 118L171 109M272 118L200 144M272 118L166 127M272 118L191 100M272 118L172 114M272 118L170 182M272 118L209 140M272 118L175 127M272 118L152 174M272 118L134 142M272 118L153 160M272 118L189 173M272 118L208 131M272 118L199 148M272 118L180 175M272 118L152 115M272 118L149 144M272 118L169 153M272 118L195 158M272 118L142 127M272 118L150 124M272 118L177 138M272 118L184 107M272 118L198 134M272 118L163 150M272 118L175 138M272 118L178 172M272 118L169 112M272 118L176 155M272 118L148 109M272 118L156 98M272 118L197 127M272 118L197 162M272 118L144 144M272 118L155 113M272 118L190 113M272 118L159 148M272 118L173 156M272 118L202 136M272 118L162 113M272 118L156 148M295 125L173 128M295 125L155 130M295 125L192 144M295 125L161 110M295 125L208 124M295 125L143 110M295 125L158 152M295 125L187 105M295 125L144 134M295 125L189 157M295 125L187 155M295 125L165 155M295 125L206 145M295 125L183 134M295 125L168 174M295 125L155 108M295 125L183 169M295 125L177 129M295 125L166 96M295 125L201 150M295 125L149 119M295 125L161 122M295 125L179 172M295 125L182 103M295 125L200 158M295 125L165 159M295 125L162 117M295 125L173 118M295 125L143 111M295 125L161 116M295 125L153 104M295 125L170 153M295 125L192 152M295 125L173 146M295 125L206 138M295 125L168 154M295 125L194 149M295 125L160 138M295 125L158 117M295 125L159 139M295 125L133 137M295 125L175 157M295 125L186 153M295 125L185 133M295 125L177 139M295 125L155 138M295 125L189 127M295 125L149 117M295 125L164 111M295 125L156 154M295 125L162 162M295 125L154 115M295 125L200 155M295 125L169 178M295 125L186 116M295 125L169 147M295 125L198 152M295 125L165 124M295 125L204 163M295 125L178 115M295 125L197 151M295 125L183 109M295 125L190 159M295 125L201 149M295 125L160 135M295 125L154 102M295 125L178 148M295 125L167 135M295 125L185 164M295 125L191 137M295 125L186 144M295 125L189 146M295 125L193 157M295 125L194 118M295 125L200 136M295 125L147 171M295 125L197 108M295 125L198 164M295 125L192 127M295 125L198 163M295 125L199 155M295 125L186 111M295 125L150 125M295 125L142 142M295 125L189 163M295 125L154 101M295 125L175 117M295 125L163 150M295 125L173 171M295 125L146 131M295 125L184 106M295 125L181 162M295 125L190 172M295 125L166 127M295 125L172 166M295 125L168 121M295 125L195 115M295 125L158 159M295 125L192 146M295 125L207 136M295 125L174 130M295 125L168 128M295 125L175 96M295 125L146 113M295 125L176 140M295 125L168 137M295 125L182 113M295 125L200 128M295 125L194 151M295 125L165 104M295 125L179 106M295 125L163 127M295 125L192 135M295 125L167 164M295 125L193 144M295 125L162 141M295 125L160 112M295 125L173 146M295 125L163 126M295 125L187 145M295 125L166 142M295 125L163 148M295 125L176 110M295 125L207 143M295 125L192 164M295 125L180 145M295 125L171 102M295 125L177 109M295 125L168 102M295 125L186 139M295 125L157 164M295 125L142 139M295 125L159 149M295 125L186 166M295 125L169 110M295 125L153 110M295 125L181 128M295 125L181 162M295 125L201 107M295 125L163 145M295 125L179 137M295 125L155 127M295 125L167 124M295 125L173 119M295 125L156 127M295 125L187 162M295 125L178 133M295 125L159 125M295 125L193 150M295 125L160 149M295 125L151 142M295 125L193 154M295 125L186 151M295 125L192 116M295 125L171 157M295 125L195 124M295 125L160 149M295 125L153 141M295 125L168 133M295 125L161 128M313 128L200 105M313 128L185 130M313 128L201 155M313 128L168 143M313 128L199 124M313 128L177 119M313 128L156 154M313 128L155 158M313 128L149 153M313 128L149 106M313 128L201 106M313 128L143 123M313 128L153 128M313 128L193 131M313 128L152 131M313 128L140 144M313 128L198 108M313 128L179 131M313 128L148 135M313 128L161 99M313 128L158 111M313 128L203 112M313 128L169 123M313 128L173 159M313 128L205 126M313 128L207 140M313 128L183 134M313 128L197 104M313 128L178 145M313 128L147 133M313 128L174 128M313 128L162 165M313 128L180 165M313 128L192 117M313 128L155 117M313 128L200 125M313 128L182 164M313 128L162 109M313 128L204 136M313 128L165 154M313 128L190 152M313 128L172 150M313 128L186 106M313 128L150 113M313 128L190 160M313 128L176 130M313 128L180 123M313 128L170 120M313 128L182 145M313 128L189 143M313 128L155 127M313 128L165 180M313 128L199 108M313 128L179 151M313 128L148 111M313 128L154 131M313 128L199 139M313 128L171 169M313 128L163 127M313 128L162 143M313 128L181 131M313 128L167 149M313 128L160 108M313 128L194 132M313 128L168 164M313 128L188 150M313 128L203 113M313 128L165 111M313 128L154 98M313 128L189 153M313 128L168 126M313 128L182 143M313 128L203 138M313 128L157 169M313 128L180 122M313 128L160 95M313 128L189 172M313 128L200 119M313 128L157 142M313 128L168 120M313 128L136 131M313 128L203 138M313 128L141 112M313 128L152 114M313 128L154 132M313 128L177 166M313 128L199 130M313 128L203 159M313 128L148 156M313 128L158 127M313 128L179 141M313 128L170 127M313 128L144 113M313 128L148 102M313 128L193 109M313 128L167 118M313 128L134 129M313 128L150 112M313 128L137 124M313 128L167 143M313 128L184 157M313 128L187 150M313 128L179 95M313 128L193 137M313 128L149 161M313 128L137 139M313 128L137 143M313 128L177 142M313 128L193 104M313 128L158 117M313 128L158 110M313 128L188 163M313 128L142 139M313 128L190 114M313 128L183 107M313 128L196 123M313 128L198 135M313 128L158 125M313 128L206 150M313 128L153 114M313 128L188 110M313 128L165 135M313 128L178 112M313 128L181 121M313 128L180 141M313 128L185 173M313 128L203 120M313 128L154 114M313 128L159 151M313 128L209 144M313 128L152 166M313 128L168 101M313 128L143 125M313 128L178 108M313 128L176 180M313 128L175 147M313 128L190 163M313 128L176 127M313 128L177 100M313 128L184 95M313 128L147 114M313 128L194 103M313 128L184 106M313 128L186 161M313 128L177 122M313 128L140 156M313 128L147 112M313 128L158 140M313 128L157 113M313 128L175 140M313 128L176 161M313 128L155 147M313 128L144 143M313 128L146 142M313 128L169 112M313 128L181 117M313 128L165 139M313 128L151 126M313 128L138 116M313 128L170 127M280 130L136 126M280 130L183 128M280 130L161 125M280 130L183 140M280 130L193 119M280 130L203 118M280 130L174 131M280 130L207 144M280 130L166 129M280 130L183 110M280 130L164 135M280 130L182 144M280 130L167 120M280 130L157 107M280 130L154 132M280 130L185 156M280 130L194 107M280 130L162 126M280 130L175 161M280 130L150 146M280 130L158 140M280 130L187 105M280 130L197 167M280 130L197 129M280 130L194 125M280 130L158 176M280 130L182 137M280 130L153 120M280 130L182 102M280 130L191 150M280 130L160 150M280 130L184 110M280 130L208 134M280 130L164 171M280 130L202 145M280 130L179 149M280 130L209 142M280 130L156 155M280 130L157 128M280 130L152 119M280 130L144 133M280 130L204 148M280 130L191 144M280 130L138 123M280 130L156 125M280 130L182 121M280 130L135 140M280 130L194 117M280 130L148 153M280 130L206 153M280 130L178 129M280 130L159 157M280 130L187 130M280 130L173 108M280 130L138 130M280 130L168 171M280 130L196 122M280 130L150 155M280 130L181 164M280 130L165 121M280 130L162 142M280 130L187 144M280 130L185 136M280 130L172 180M280 130L202 143M280 130L155 163M280 130L186 156M280 130L179 150M280 130L195 115M280 130L157 115M280 130L144 157M280 130L185 139M280 130L170 143M280 130L153 121M280 130L155 122M280 130L167 139M280 130L152 109M280 130L175 124M280 130L157 100M280 130L147 113M280 130L162 173M280 130L183 156M280 130L174 153M280 130L185 123M280 130L181 128M280 130L179 99M280 130L190 136M280 130L169 128M280 130L167 142M280 130L194 143M280 130L210 126M280 130L163 118M280 130L163 160M280 130L163 157M280 130L150 174M280 130L165 136M280 130L176 146M280 130L183 133M280 130L176 102M280 130L156 145M280 130L204 121M280 130L184 126M280 130L174 157M280 130L178 141M280 130L186 145M280 130L198 133M280 130L168 121M280 130L177 180M280 130L201 110M280 130L210 144M280 130L166 175M280 130L164 143M280 130L147 146M280 130L142 140M280 130L177 131M280 130L192 129M280 130L194 158M280 130L136 149M280 130L204 141M280 130L152 144M280 130L165 104M280 130L148 132M280 130L164 112M280 130L180 143M280 130L171 180M280 130L174 146M280 130L171 125M280 130L195 119M280 130L169 150M280 130L158 158M280 130L158 147M280 130L143 151M280 130L194 153M280 130L186 149M280 130L200 130M280 130L159 162M280 130L187 128M280 130L160 146M280 130L198 148M280 130L204 128M280 130L200 120M280 130L155 115M280 130L161 125M280 130L148 152M280 130L212 136M280 130L200 151M280 130L141 110M280 130L176 105M280 130L168 167M280 130L166 171M280 130L154 105M280 130L150 111M280 130L201 121M280 130L144 122M280 130L138 148M280 130L152 173M280 130L168 121M280 130L151 147M280 130L157 152M280 130L177 151" stroke="#9e9e9e" stroke-width="0.9" stroke-opacity="0.4"/><path d="M261 64L159 166M261 64L152 133M261 64L180 225M261 64L156 178M261 64L130 213M261 64L120 157M261 64L162 114M261 64L127 131M261 64L172 120M261 64L130 220M261 64L124 109M261 64L144 101M261 64L201 145M261 64L158 221M261 64L122 114M261 64L171 116M261 64L149 213M261 64L145 129M261 64L148 230M261 64L122 193M261 64L176 170M261 64L141 230M261 64L210 155M261 64L196 142M261 64L148 134M261 64L129 148M261 64L115 102M261 64L136 187M261 64L158 205M261 64L196 152M261 64L168 116M261 64L165 236M261 64L133 242M261 64L143 167M261 64L151 171M261 64L183 192M261 64L178 208M261 64L126 229M261 64L187 206M261 64L157 230M276 56L173 199M276 56L198 168M276 56L165 226M276 56L129 175M276 56L121 109M276 56L178 115M276 56L145 139M276 56L115 237M276 56L178 208M276 56L145 207M276 56L185 177M276 56L134 195M276 56L148 186M276 56L179 183M276 56L167 156M276 56L137 222M276 56L140 204M276 56L175 100M276 56L176 120M276 56L133 173M276 56L118 141M276 56L140 235M276 56L158 174M276 56L118 180M276 56L155 188M276 56L164 158M276 56L132 162M276 56L119 173M276 56L133 173M276 56L124 96M276 56L157 199M276 56L145 230M276 56L180 118M276 56L118 147M276 56L186 111M276 56L168 202M276 56L182 144M276 56L188 205M276 56L162 111M276 56L115 227M295 56L198 179M295 56L197 140M295 56L163 125M295 56L130 171M295 56L151 135M295 56L200 157M295 56L112 164M295 56L184 109M295 56L200 186M295 56L114 212M295 56L134 225M295 56L113 121M295 56L122 114M295 56L158 150M295 56L178 137M295 56L203 184M295 56L180 118M295 56L161 183M295 56L172 189M295 56L136 227M295 56L175 183M295 56L121 158M295 56L197 158M295 56L126 229M295 56L150 212M295 56L171 173M295 56L120 157M295 56L177 202M295 56L174 168M295 56L184 146M295 56L176 180M295 56L188 164M295 56L134 164M295 56L134 169M295 56L171 189M295 56L133 110M295 56L201 147M295 56L176 179M295 56L123 158M295 56L187 181M252 78L111 234M252 78L155 107M252 78L173 207M252 78L212 153M252 78L135 236M252 78L163 112M252 78L132 237M252 78L136 96M252 78L182 201M252 78L164 200M252 78L168 116M252 78L172 213M252 78L176 201M252 78L162 213M252 78L196 167M252 78L134 203M252 78L168 202M252 78L171 179M252 78L113 235M252 78L148 138M252 78L162 151M252 78L154 106M252 78L130 166M252 78L160 218M252 78L173 162M252 78L184 217M252 78L129 110M252 78L164 136M252 78L167 108M252 78L151 108M252 78L210 144M252 78L166 198M252 78L112 143M252 78L126 174M252 78L111 195M252 78L148 188M252 78L156 178M252 78L186 157M252 78L144 136M252 78L111 192M271 75L136 170M271 75L201 137M271 75L135 176M271 75L158 174M271 75L129 125M271 75L168 232M271 75L169 161M271 75L183 219M271 75L159 203M271 75L178 169M271 75L154 213M271 75L122 145M271 75L158 175M271 75L170 223M271 75L160 108M271 75L137 131M271 75L161 211M271 75L211 143M271 75L134 207M271 75L140 198M271 75L165 121M271 75L167 139M271 75L144 140M271 75L182 217M271 75L119 138M271 75L174 168M271 75L179 150M271 75L114 102M271 75L211 143M271 75L158 202M271 75L193 157M271 75L166 218M271 75L170 207M271 75L121 100M271 75L173 135M271 75L148 208M271 75L139 150M271 75L111 139M271 75L113 228M271 75L161 173M291 72L146 203M291 72L160 218M291 72L158 171M291 72L192 211M291 72L178 131M291 72L190 148M291 72L152 115M291 72L175 133M291 72L122 186M291 72L209 159M291 72L155 202M291 72L136 170M291 72L171 108M291 72L145 202M291 72L125 171M291 72L163 167M291 72L129 202M291 72L151 138M291 72L168 154M291 72L157 199M291 72L196 134M291 72L157 110M291 72L181 166M291 72L191 111M291 72L168 140M291 72L165 195M291 72L155 202M291 72L176 161M291 72L173 194M291 72L179 159M291 72L123 130M291 72L145 199M291 72L122 128M291 72L157 166M291 72L126 174M291 72L129 157M291 72L111 213M291 72L117 196M291 72L158 197M291 72L157 99M311 70L196 167M311 70L186 106M311 70L139 149M311 70L164 177M311 70L160 218M311 70L164 218M311 70L119 111M311 70L197 140M311 70L156 239M311 70L129 206M311 70L141 197M311 70L187 182M311 70L163 162M311 70L134 99M311 70L127 129M311 70L178 196M311 70L197 217M311 70L176 140M311 70L171 179M311 70L129 179M311 70L162 160M311 70L166 216M311 70L137 103M311 70L142 182M311 70L199 165M311 70L186 134M311 70L158 175M311 70L180 142M311 70L198 192M311 70L197 155M311 70L182 121M311 70L124 109M311 70L166 135M311 70L136 144M311 70L127 129M311 70L175 133M311 70L142 129M311 70L138 128M311 70L115 171M311 70L169 172M292 87L176 170M292 87L122 110M292 87L129 202M292 87L203 150M292 87L147 176M292 87L115 171M292 87L164 180M292 87L128 180M292 87L124 147M292 87L113 174M292 87L111 232M292 87L131 143M292 87L158 190M292 87L185 179M292 87L188 138M292 87L144 107M292 87L130 168M292 87L117 146M292 87L174 134M292 87L159 191M292 87L161 216M292 87L117 164M292 87L147 173M292 87L155 202M292 87L157 110M292 87L171 149M292 87L194 200M292 87L184 148M292 87L192 145M292 87L152 211M292 87L120 208M292 87L120 131M292 87L119 176M292 87L172 206M292 87L176 132M292 87L144 113M292 87L142 215M292 87L200 190M292 87L133 123M292 87L120 187M308 85L127 132M308 85L158 171M308 85L146 232M308 85L125 146M308 85L154 190M308 85L176 217M308 85L174 153M308 85L160 223M308 85L166 175M308 85L174 134M308 85L205 192M308 85L163 119M308 85L130 126M308 85L176 131M308 85L148 230M308 85L149 160M308 85L121 111M308 85L135 156M308 85L121 100M308 85L159 142M308 85L125 191M308 85L112 167M308 85L143 160M308 85L130 179M308 85L143 100M308 85L127 189M308 85L111 139M308 85L143 225M308 85L171 108M308 85L133 240M308 85L142 182M308 85L180 225M308 85L162 142M308 85L166 175M308 85L194 153M308 85L184 217M308 85L130 220M308 85L190 192M308 85L139 168M308 85L126 102M323 90L152 144M323 90L151 135M323 90L114 212M323 90L200 190M323 90L160 142M323 90L139 167M323 90L133 123M323 90L114 178M323 90L149 194M323 90L148 151M323 90L183 196M323 90L201 173M323 90L123 99M323 90L159 191M323 90L134 164M323 90L181 191M323 90L199 151M323 90L162 212M323 90L163 140M323 90L113 174M323 90L176 130M323 90L167 195M323 90L158 174M323 90L126 180M323 90L137 103M323 90L111 234M323 90L112 170M323 90L111 187M323 90L157 221M323 90L133 202M323 90L137 207M323 90L201 199M323 90L111 198M323 90L111 235M323 90L193 151M323 90L185 179M323 90L163 119M323 90L141 185M323 90L129 110M323 90L116 159M257 96L164 229M257 96L123 120M257 96L113 223M257 96L147 225M257 96L159 139M257 96L158 117M257 96L150 222M257 96L175 185M257 96L121 117M257 96L203 166M257 96L168 116M257 96L134 195M257 96L124 223M257 96L154 229M257 96L171 183M257 96L190 198M257 96L136 115M257 96L197 158M257 96L186 212M257 96L120 102M257 96L201 205M257 96L195 132M257 96L120 158M257 96L145 181M257 96L172 209M257 96L164 158M257 96L126 112M257 96L163 97M257 96L134 133M257 96L174 131M257 96L164 158M257 96L137 136M257 96L189 131M257 96L164 229M257 96L134 136M257 96L187 148M257 96L177 124M257 96L188 116M257 96L176 131M257 96L161 219M275 92L144 224M275 92L163 175M275 92L120 235M275 92L152 130M275 92L146 149M275 92L118 108M275 92L168 127M275 92L190 160M275 92L152 130M275 92L209 168M275 92L163 125M275 92L162 142M275 92L179 159M275 92L147 189M275 92L193 151M275 92L189 131M275 92L157 115M275 92L134 229M275 92L133 236M275 92L149 167M275 92L125 236M275 92L146 119M275 92L170 122M275 92L144 242M275 92L187 147M275 92L198 179M275 92L172 199M275 92L191 116M275 92L141 114M275 92L135 166M275 92L172 124M275 92L151 216M275 92L121 140M275 92L120 211M275 92L136 162M275 92L138 217M275 92L172 202M275 92L132 237M275 92L175 183M275 92L177 187M309 97L152 145M309 97L130 166M309 97L132 161M309 97L164 229M309 97L111 133M309 97L179 124M309 97L187 182M309 97L189 178M309 97L154 106M309 97L147 180M309 97L114 193M309 97L166 199M309 97L130 120M309 97L143 159M309 97L199 123M309 97L195 156M309 97L133 136M309 97L156 156M309 97L126 219M309 97L140 211M309 97L174 106M309 97L126 137M309 97L169 161M309 97L163 138M309 97L165 195M309 97L167 139M309 97L117 158M309 97L142 150M309 97L166 199M309 97L173 100M309 97L164 118M309 97L146 99M309 97L118 141M309 97L173 193M309 97L129 125M309 97L144 154M309 97L156 101M309 97L148 111M309 97L140 196M309 97L144 101M293 100L176 102M293 100L132 107M293 100L160 206M293 100L124 147M293 100L176 216M293 100L113 174M293 100L178 171M293 100L179 124M293 100L168 202M293 100L123 160M293 100L135 188M293 100L180 158M293 100L183 212M293 100L170 208M293 100L133 201M293 100L176 102M293 100L146 182M293 100L191 111M293 100L112 170M293 100L187 132M293 100L165 195M293 100L157 221M293 100L139 167M293 100L175 147M293 100L167 139M293 100L122 206M293 100L147 133M293 100L114 155M293 100L202 162M293 100L152 144M293 100L111 192M293 100L137 229M293 100L187 110M293 100L135 201M293 100L166 199M293 100L155 107M293 100L127 129M293 100L114 206M293 100L162 101M293 100L193 207M263 106L125 131M263 106L183 217M263 106L193 103M263 106L189 129M263 106L188 125M263 106L181 220M263 106L137 229M263 106L174 153M263 106L192 195M263 106L143 215M263 106L140 147M263 106L197 217M263 106L195 121M263 106L157 114M263 106L158 106M263 106L167 234M263 106L196 210M263 106L163 167M263 106L134 126M263 106L126 105M263 106L199 158M263 106L182 217M263 106L124 219M263 106L141 194M263 106L168 179M263 106L131 176M263 106L161 201M263 106L145 221M263 106L170 208M263 106L161 195M263 106L111 99M263 106L198 154M263 106L151 157M263 106L111 187M263 106L177 104M263 106L151 122M263 106L146 149M263 106L168 119M263 106L146 146M263 106L118 115M283 109L195 191M283 109L124 138M283 109L186 171M283 109L116 110M283 109L166 221M283 109L111 139M283 109L182 149M283 109L116 192M283 109L203 184M283 109L193 134M283 109L133 165M283 109L185 187M283 109L119 111M283 109L188 184M283 109L137 196M283 109L165 235M283 109L151 206M283 109L163 167M283 109L162 101M283 109L148 186M283 109L174 106M283 109L192 105M283 109L118 206M283 109L184 101M283 109L133 173M283 109L133 100M283 109L139 99M283 109L140 200M283 109L121 100M283 109L167 187M283 109L159 163M283 109L144 113M283 109L173 178M283 109L139 149M283 109L158 106M283 109L194 200M283 109L148 101M283 109L137 178M283 109L135 194M283 109L173 100M304 114L130 208M304 114L207 149M304 114L164 145M304 114L201 175M304 114L122 206M304 114L118 216M304 114L155 202M304 114L146 203M304 114L203 158M304 114L122 128M304 114L173 199M304 114L114 202M304 114L194 138M304 114L133 103M304 114L141 178M304 114L176 180M304 114L173 156M304 114L166 135M304 114L165 235M304 114L160 108M304 114L185 166M304 114L130 126M304 114L141 114M304 114L176 170M304 114L124 123M304 114L129 189M304 114L203 184M304 114L126 151M304 114L167 234M304 114L142 182M304 114L177 170M304 114L192 194M304 114L182 149M304 114L160 110M304 114L194 132M304 114L168 119M304 114L154 158M304 114L116 192M304 114L169 142M304 114L125 111M323 105L169 131M323 105L139 167M323 105L116 141M323 105L205 163M323 105L184 172M323 105L162 120M323 105L157 210M323 105L144 136M323 105L155 103M323 105L161 153M323 105L149 126M323 105L187 148M323 105L198 158M323 105L112 175M323 105L166 114M323 105L124 194M323 105L112 179M323 105L207 149M323 105L184 114M323 105L210 146M323 105L181 181M323 105L165 139M323 105L159 149M323 105L130 123M323 105L111 139M323 105L183 135M323 105L127 97M323 105L185 177M323 105L169 182M323 105L137 140M323 105L186 171M323 105L122 193M323 105L166 179M323 105L183 217M323 105L198 154M323 105L167 195M323 105L166 175M323 105L134 217M323 105L117 146M323 105L176 170M272 118L157 218M272 118L168 157M272 118L151 216M272 118L126 112M272 118L137 224M272 118L162 200M272 118L192 127M272 118L145 118M272 118L112 176M272 118L188 116M272 118L177 151M272 118L153 106M272 118L196 122M272 118L146 203M272 118L130 213M272 118L167 107M272 118L184 217M272 118L132 213M272 118L128 176M272 118L189 115M272 118L151 122M272 118L198 137M272 118L116 141M272 118L165 195M272 118L184 205M272 118L154 106M272 118L191 111M272 118L151 157M272 118L186 171M272 118L124 155M272 118L186 227M272 118L138 183M272 118L138 145M272 118L176 209M272 118L131 106M272 118L115 237M272 118L141 190M272 118L159 117M272 118L137 101M272 118L190 192M295 125L123 99M295 125L162 168M295 125L116 192M295 125L168 218M295 125L148 119M295 125L207 187M295 125L121 140M295 125L117 152M295 125L171 149M295 125L192 200M295 125L137 138M295 125L158 205M295 125L147 135M295 125L148 174M295 125L120 117M295 125L144 242M295 125L121 158M295 125L161 225M295 125L113 193M295 125L153 174M295 125L152 158M295 125L147 173M295 125L136 206M295 125L120 117M295 125L127 149M295 125L112 170M295 125L184 109M295 125L134 203M295 125L158 171M295 125L131 218M295 125L113 115M295 125L130 102M295 125L158 106M295 125L111 195M295 125L157 198M295 125L171 160M295 125L134 123M295 125L186 134M295 125L176 201M295 125L126 104M313 128L138 195M313 128L142 154M313 128L187 110M313 128L159 142M313 128L120 102M313 128L159 139M313 128L203 178M313 128L131 159M313 128L161 183M313 128L177 166M313 128L202 173M313 128L189 164M313 128L206 173M313 128L167 189M313 128L198 154M313 128L176 233M313 128L132 107M313 128L148 228M313 128L129 143M313 128L150 222M313 128L193 204M313 128L139 96M313 128L160 115M313 128L151 161M313 128L192 139M313 128L161 201M313 128L157 101M313 128L176 184M313 128L154 99M313 128L144 224M313 128L129 148M313 128L144 154M313 128L159 172M313 128L151 122M313 128L149 213M313 128L131 169M313 128L193 124M313 128L176 201M313 128L169 209M313 128L147 127M280 130L192 180M280 130L177 124M280 130L172 116M280 130L181 148M280 130L130 118M280 130L185 226M280 130L138 223M280 130L147 171M280 130L176 102M280 130L198 168M280 130L150 198M280 130L166 156M280 130L136 125M280 130L154 156M280 130L171 116M280 130L193 151M280 130L185 128M280 130L180 124M280 130L200 157M280 130L130 213M280 130L152 145M280 130L198 154M280 130L165 235M280 130L196 191M280 130L175 166M280 130L124 96M280 130L131 169M280 130L132 167M280 130L197 143M280 130L178 96M280 130L168 207M280 130L171 145M280 130L177 139M280 130L144 224M280 130L111 137M280 130L182 219M280 130L151 138M280 130L153 115M280 130L137 131M280 130L140 211" stroke="#9e9e9e" stroke-width="0.4" stroke-opacity="0.35"/><g opacity="0.74"><path class="o" d="M122 128h0M71 152h0M58 203h0M126 212h0M186 212h0M197 217h0M180 174h0M193 157h0M103 189h0M39 134h0M154 213h0M133 181h0M110 93h0M156 92h0M142 136h0M133 202h0M185 173h0M123 193h0M124 148h0M94 144h0M69 181h0M188 205h0M159 202h0M171 179h0M172 176h0M144 120h0M61 192h0M134 158h0M139 150h0M174 214h0M101 107h0M105 157h0M137 229h0M82 139h0M116 185h0M70 120h0M67 166h0M139 123h0M52 156h0M177 111h0M105 142h0M91 99h0M105 146h0M145 118h0M142 129h0M101 171h0M59 166h0M171 203h0M163 236h0M181 110h0M136 187h0M122 142h0M65 127h0M87 198h0M70 127h0M192 108h0M83 167h0M201 143h0M110 111h0M109 105h0M193 204h0M67 199h0M199 151h0M99 205h0M78 213h0M78 198h0M100 109h0M70 127h0M134 225h0M104 209h0M184 109h0M65 141h0M150 184h0M159 200h0M159 141h0M103 98h0M46 169h0M84 175h0M157 114h0M137 163h0M152 133h0M92 232h0M122 199h0M170 99h0M111 187h0M182 217h0M79 121h0M189 178h0M95 233h0M94 139h0M197 215h0M110 178h0M180 193h0M150 100h0M132 161h0M74 142h0M83 150h0M140 200h0M126 205h0M75 154h0M126 177h0M50 150h0M87 221h0M100 177h0M69 143h0M175 166h0M161 167h0M53 151h0M98 128h0M136 235h0M116 159h0M85 177h0M101 167h0M60 144h0M124 127h0M193 199h0M150 212h0M129 125h0M80 234h0M145 226h0M77 129h0M92 164h0M95 96h0M112 124h0M185 187h0M71 173h0M44 128h0M173 162h0M176 229h0M174 199h0M76 106h0M56 152h0" stroke="#8a8a8a" stroke-width="5.85"/><path class="i" d="M122 128h0M71 152h0M58 203h0M126 212h0M186 212h0M197 217h0M180 174h0M193 157h0M103 189h0M39 134h0M154 213h0M133 181h0M110 93h0M156 92h0M142 136h0M133 202h0M185 173h0M123 193h0M124 148h0M94 144h0M69 181h0M188 205h0M159 202h0M171 179h0M172 176h0M144 120h0M61 192h0M134 158h0M139 150h0M174 214h0M101 107h0M105 157h0M137 229h0M82 139h0M116 185h0M70 120h0M67 166h0M139 123h0M52 156h0M177 111h0M105 142h0M91 99h0M105 146h0M145 118h0M142 129h0M101 171h0M59 166h0M171 203h0M163 236h0M181 110h0M136 187h0M122 142h0M65 127h0M87 198h0M70 127h0M192 108h0M83 167h0M201 143h0M110 111h0M109 105h0M193 204h0M67 199h0M199 151h0M99 205h0M78 213h0M78 198h0M100 109h0M70 127h0M134 225h0M104 209h0M184 109h0M65 141h0M150 184h0M159 200h0M159 141h0M103 98h0M46 169h0M84 175h0M157 114h0M137 163h0M152 133h0M92 232h0M122 199h0M170 99h0M111 187h0M182 217h0M79 121h0M189 178h0M95 233h0M94 139h0M197 215h0M110 178h0M180 193h0M150 100h0M132 161h0M74 142h0M83 150h0M140 200h0M126 205h0M75 154h0M126 177h0M50 150h0M87 221h0M100 177h0M69 143h0M175 166h0M161 167h0M53 151h0M98 128h0M136 235h0M116 159h0M85 177h0M101 167h0M60 144h0M124 127h0M193 199h0M150 212h0M129 125h0M80 234h0M145 226h0M77 129h0M92 164h0M95 96h0M112 124h0M185 187h0M71 173h0M44 128h0M173 162h0M176 229h0M174 199h0M76 106h0M56 152h0" stroke="#ececec" stroke-width="4.10"/><path class="o" d="M126 199h0M73 191h0M151 216h0M122 127h0M68 98h0M181 191h0M141 97h0M85 171h0M86 186h0M112 192h0M50 156h0M84 184h0M205 176h0M138 187h0M180 197h0M175 100h0M161 187h0M160 142h0M185 216h0M79 161h0M109 230h0M76 195h0M195 202h0M108 152h0M129 143h0M94 123h0M133 165h0M185 177h0M192 200h0M96 153h0M182 208h0M126 174h0M154 99h0M73 113h0M71 134h0M179 183h0M187 181h0M51 176h0M163 112h0M137 205h0M60 168h0M89 199h0M174 132h0M134 126h0M45 147h0M56 112h0M71 104h0M71 101h0M130 126h0M90 149h0M80 124h0M131 225h0M68 147h0M173 109h0M141 92h0M137 103h0M92 132h0M92 154h0M115 224h0M83 107h0M70 156h0M203 164h0M88 109h0M162 133h0M162 227h0M52 166h0M138 102h0M89 208h0M91 210h0M163 97h0M77 214h0M96 139h0M100 184h0M155 124h0M153 115h0M96 138h0M40 166h0M173 194h0M79 135h0M136 170h0M121 200h0M95 207h0M100 126h0M193 207h0M182 138h0M59 148h0M66 139h0M66 157h0M66 133h0M97 99h0M166 119h0M186 221h0M55 208h0M50 151h0M157 171h0M112 143h0M121 110h0M52 173h0M203 166h0M130 231h0M163 175h0M83 223h0M128 91h0M138 168h0M122 121h0M152 117h0M136 169h0M109 106h0M46 130h0M166 218h0M115 237h0M156 219h0M161 229h0M123 158h0M135 156h0M111 139h0M107 133h0M126 151h0M38 139h0M98 125h0M87 122h0M51 190h0M190 198h0M100 203h0M72 152h0M170 129h0M142 229h0M54 184h0M87 192h0M134 134h0M146 166h0M173 147h0M99 121h0M166 93h0M51 156h0M127 100h0M155 168h0M199 183h0M145 199h0M140 215h0" stroke="#c8b432" stroke-width="4.80"/><path class="i" d="M126 199h0M73 191h0M151 216h0M122 127h0M68 98h0M181 191h0M141 97h0M85 171h0M86 186h0M112 192h0M50 156h0M84 184h0M205 176h0M138 187h0M180 197h0M175 100h0M161 187h0M160 142h0M185 216h0M79 161h0M109 230h0M76 195h0M195 202h0M108 152h0M129 143h0M94 123h0M133 165h0M185 177h0M192 200h0M96 153h0M182 208h0M126 174h0M154 99h0M73 113h0M71 134h0M179 183h0M187 181h0M51 176h0M163 112h0M137 205h0M60 168h0M89 199h0M174 132h0M134 126h0M45 147h0M56 112h0M71 104h0M71 101h0M130 126h0M90 149h0M80 124h0M131 225h0M68 147h0M173 109h0M141 92h0M137 103h0M92 132h0M92 154h0M115 224h0M83 107h0M70 156h0M203 164h0M88 109h0M162 133h0M162 227h0M52 166h0M138 102h0M89 208h0M91 210h0M163 97h0M77 214h0M96 139h0M100 184h0M155 124h0M153 115h0M96 138h0M40 166h0M173 194h0M79 135h0M136 170h0M121 200h0M95 207h0M100 126h0M193 207h0M182 138h0M59 148h0M66 139h0M66 157h0M66 133h0M97 99h0M166 119h0M186 221h0M55 208h0M50 151h0M157 171h0M112 143h0M121 110h0M52 173h0M203 166h0M130 231h0M163 175h0M83 223h0M128 91h0M138 168h0M122 121h0M152 117h0M136 169h0M109 106h0M46 130h0M166 218h0M115 237h0M156 219h0M161 229h0M123 158h0M135 156h0M111 139h0M107 133h0M126 151h0M38 139h0M98 125h0M87 122h0M51 190h0M190 198h0M100 203h0M72 152h0M170 129h0M142 229h0M54 184h0M87 192h0M134 134h0M146 166h0M173 147h0M99 121h0M166 93h0M51 156h0M127 100h0M155 168h0M199 183h0M145 199h0M140 215h0" stroke="#f2dc3c" stroke-width="4.10"/><path class="o" d="M56 202h0M159 203h0M108 170h0M198 141h0M178 115h0M177 145h0M170 112h0M124 239h0M125 207h0M142 142h0M202 173h0M136 206h0M154 153h0M167 139h0M178 113h0M189 131h0M174 168h0M209 159h0M159 163h0M170 207h0M158 230h0M160 108h0M72 95h0M120 84h0M196 184h0M204 155h0M161 211h0M185 140h0M159 149h0M96 205h0M69 126h0M163 140h0M88 161h0M184 193h0M152 133h0M101 141h0M116 192h0M188 164h0M119 111h0M141 230h0M109 107h0M107 149h0M189 192h0M197 140h0M186 171h0M88 184h0M147 173h0M162 213h0M190 148h0M193 103h0M194 200h0M120 125h0M167 221h0M111 229h0M158 171h0M119 129h0M110 120h0M177 170h0M131 112h0M146 182h0M164 215h0M143 215h0M152 160h0M173 135h0M63 129h0M138 165h0" stroke="#d42a3a" stroke-width="4.80"/><path class="i" d="M56 202h0M159 203h0M108 170h0M198 141h0M178 115h0M177 145h0M170 112h0M124 239h0M125 207h0M142 142h0M202 173h0M136 206h0M154 153h0M167 139h0M178 113h0M189 131h0M174 168h0M209 159h0M159 163h0M170 207h0M158 230h0M160 108h0M72 95h0M120 84h0M196 184h0M204 155h0M161 211h0M185 140h0M159 149h0M96 205h0M69 126h0M163 140h0M88 161h0M184 193h0M152 133h0M101 141h0M116 192h0M188 164h0M119 111h0M141 230h0M109 107h0M107 149h0M189 192h0M197 140h0M186 171h0M88 184h0M147 173h0M162 213h0M190 148h0M193 103h0M194 200h0M120 125h0M167 221h0M111 229h0M158 171h0M119 129h0M110 120h0M177 170h0M131 112h0M146 182h0M164 215h0M143 215h0M152 160h0M173 135h0M63 129h0M138 165h0" stroke="#e52a3c" stroke-width="4.10"/></g><path d="M71 150L66 165M134 196L73 152M141 145L146 232M172 176L154 106M123 206L79 135M98 125L130 179M130 123L176 173M70 171L71 142M70 185L67 199M78 155L98 128M65 135L93 104M66 165L94 111M150 184L173 162M176 179L133 170M52 192L48 168M96 189L78 236M124 148L68 164M66 196L104 206M94 111L178 111M132 237L145 181M40 131L124 109M92 164L92 149M111 195L109 159M196 133L149 193M147 176L70 206M188 184L175 172M147 156L121 209M79 122L118 108M134 219L108 179M144 242L175 166M161 183L93 126M165 226L81 229M56 104L50 131M139 167L102 159M114 155L174 153M101 141L145 199M122 145L184 101M113 235L133 236M110 171L131 189M101 141L150 92M145 199L96 138M101 201L99 212M109 231L102 186M153 124L177 111M67 150L100 200M96 230L92 154M81 199L61 166M108 179L95 142M92 155L123 160M181 160L172 202M93 173L155 235M132 235L116 170M184 109L157 120M85 128L152 144M118 168L98 117M85 151L157 99M73 201L110 158M161 229L133 177M111 195L54 131M188 147L186 227M87 192L159 202M88 219L80 149M204 127L135 171M99 231L133 173M125 188L80 127M139 226L133 212M76 195L93 134M151 216L96 225M183 112L119 111M108 228L72 169M107 145L80 156M201 141L159 141M199 165L193 103M83 226L139 168M166 120L160 178M120 125L151 161M186 221L169 161M150 167L202 116M111 137L117 190M143 231L146 149M163 175L139 92M165 224L194 153M130 136L97 153M167 101L107 97M137 207L136 187M116 92L75 142M137 163L166 199M53 151L66 139M118 147L203 130M115 130L175 147M131 189L131 225M158 197L129 157M198 192L166 218M183 194L128 243M171 173L182 208M128 156L109 243M91 118L59 161M100 122L128 176M101 180L137 138M119 173L102 159M164 158L156 157M91 99L97 93M168 171L178 169M135 166L144 201M109 219L76 203M145 189L158 190M58 134L114 102M63 202L113 209M200 157L173 154M68 192L123 160M133 167L131 92M195 191L178 196M161 219L78 196M88 119L64 144M148 144L147 98M78 184L80 181M111 187L134 133M158 190L122 219M112 167L87 192M112 167L135 172M73 127L53 190M182 123L190 160M112 176L136 167M122 199L150 198M187 148L188 205M181 209L151 219M103 152L125 87M97 153L90 143M198 192L183 143M122 186L138 128M171 173L83 182M150 92L116 141M177 202L149 183M74 145L66 177M125 171L127 182M61 178L106 163M110 231L183 205M132 235L164 218M148 211L185 209M207 149L178 208M116 160L161 219M138 88L136 169M80 181L78 213M160 171L72 172M73 206L59 152M176 154L177 202M94 139L73 165M134 152L109 105M82 192L68 210M77 201L62 162M117 239L55 196M147 180L95 219M168 218L100 217M149 193L128 180M176 120L163 140M147 127L87 122M100 145L85 119M83 107L53 127M54 169L128 198M151 161L171 199M99 159L164 196M112 235L118 153M162 166L197 158M152 202L157 213M170 145L193 161M162 212L123 222M152 144L146 99M199 151L139 92M141 230L125 166M53 141L125 185M135 201L112 188M94 111L126 104M142 189L119 176M103 141L146 114M129 129L160 108M82 160L141 96M106 219L171 179M168 157L108 193M137 196L186 157M65 115L120 131M127 131L169 164M110 168L164 218M53 165L110 115M159 142L117 143M109 229L114 178M111 137L131 176M99 164L111 137M207 149L189 131M120 211L126 219M152 158L178 115M96 139L126 151M168 154L207 180M175 136L198 153M119 126L116 160M88 156L109 174M120 125L114 206M152 129L175 166M145 129L151 193M156 219L68 210M175 172L88 161M123 120L130 149M47 162L90 135M110 168L138 128M170 207L192 127M127 137L102 156M95 110L136 167M143 206L174 131M95 132L172 129M67 186L118 168M147 98L169 182M129 91L65 135M81 229L101 219M122 181L118 95M157 199L124 215M122 114L49 145M127 137L102 116M147 180L135 203M94 103L97 179M133 212L108 170M90 202L143 185M129 143L134 217M97 188L109 105M115 168L186 221M178 131L118 147M132 199L203 178M128 148L135 188M63 154L76 212M60 110L67 199M132 237L183 219M157 213L159 231M134 196L95 132M112 165L59 154M118 216L116 160M180 197L196 141M97 192L173 193M128 115L87 123M156 219L172 137M62 116L95 130M108 228L117 183M75 158L142 150M101 233L92 144M132 157L82 141M100 210L143 137M73 152L147 135M65 135L64 144M71 130L69 124M155 112L137 131M171 173L100 126M86 186L94 176M158 205L166 216M83 207L128 243M114 202L126 177M187 207L207 141M126 145L86 164M161 187L82 207M148 158L161 153M84 100L69 163M67 139L52 173M87 183L54 131M96 196L131 143M76 206L147 225M186 106L182 149M153 194L110 161M106 202L70 121M90 100L63 178M147 225L180 197M92 149L104 177M137 92L116 126M157 120L106 163M51 140L118 163M63 108L70 146M49 121L97 119M88 144L162 111M103 148L159 142M177 165L166 218M152 115L99 104M154 161L183 205M163 140L181 180M119 176L154 158M101 201L168 232M87 218L137 205M180 174L183 107M134 164L105 223M162 200L141 176M130 179L137 207M98 128L138 88M51 167L58 122M105 208L122 142M134 180L148 228M180 199L160 223M162 151L206 134M114 206L55 142M162 200L132 157M156 178L115 227M145 88L105 104M108 100L168 147M85 191L109 243M132 161L129 204M58 203L74 132M77 201L141 199M125 86L136 96M158 214L194 138M168 157L94 143M101 141L51 167M143 215L167 139M150 198L147 127M142 182L120 208M134 123L211 156M137 105L66 154M85 140L101 132M110 94L105 177M152 158L170 126M73 184L115 130M129 125L75 154M145 199L122 197M132 157L120 208M119 126L148 145M134 164L156 156M40 174L112 179M138 187L53 176M64 150L78 182M113 159L75 121M125 188L109 120M188 142L209 168M110 231L140 160M147 91L93 104M151 108L158 174M52 204L77 207M57 202L122 216M85 177L136 125M102 200L185 179M106 216L103 148M94 176L132 196M143 185L203 158M148 146L141 149M133 110L109 174M201 145L134 154M170 90L177 119M93 191L69 120M102 113L175 164M144 124L97 153M135 156L166 176M147 171L85 187M80 127L68 106M76 203L76 122M128 198L101 142M149 183L137 168M121 109L125 188M186 197L153 233M133 240L118 163M129 189L166 135M134 184L191 200M195 166L170 126M150 100L203 130M136 170L79 135M116 90L116 170M125 207L142 202M63 230L50 141M82 229L146 232M88 219L87 212M104 238L102 159M84 103L152 115M120 125L138 128M166 175L106 182M149 182L156 156M56 182L92 133M103 165L132 200M176 131L92 160M207 187L130 231M53 165L64 110M187 182L171 173M171 173L141 93M73 127L107 95M100 184L164 227M188 131L192 170M147 106L154 161M159 200L201 143M131 112L136 105M78 182L104 206M173 178L172 176M135 194L185 177M64 150L90 143M186 111L164 174M69 195L150 234M129 157L190 148M128 105L138 190M122 219L168 210M121 109L50 131M115 192L140 158M172 129L179 124M56 189L65 127M104 96L157 114M164 215L141 198M88 108L134 122M70 183L92 132M110 171L85 128M90 231L168 232M144 132L136 96M143 225L85 220M158 150L87 171M77 107L120 131M126 212L75 138M94 141L99 158M102 176L73 206M154 226L140 147M69 195L56 112M108 152L163 123M160 174L110 166M169 161L117 158M40 175L67 201M60 110L95 110M203 158L193 103M131 176L69 143M202 154L161 179M175 136L196 134M128 176L56 202M71 101L146 138M140 158L132 213M115 124L148 144M58 134L98 125M111 101L118 108M121 110L143 183M126 156L143 225M174 99L143 142M143 231L82 174M119 219L72 190M90 188L99 205M99 164L105 142M82 214L89 200M183 217L195 215M128 180L115 190M102 186L41 169M100 122L159 163M184 205L99 199M95 132L144 129M182 208L124 194M154 161L148 188M167 107L191 174M83 186L106 231M132 174L72 112M177 202L185 140M159 200L100 177M115 142L109 105M58 191L141 202M146 149L202 140M107 95L50 141M172 137L141 218M112 188L130 171M105 157L137 225M205 192L155 168M146 99L132 167M135 194L118 190M136 187L140 121M164 200L136 171M166 198L138 190M121 100L127 100M154 221L183 212M99 212L175 210M74 186L54 148M68 199L60 152M105 146L58 122M105 177L84 161M136 115L136 120M75 154L147 173M167 156L101 117M180 174L99 163M99 207L78 204M176 170L171 207M111 150L157 210M169 176L145 226M130 86L148 174M192 224L122 199M167 195L86 171M122 165L100 189M159 194L108 179M161 173L124 221M132 161L82 147M167 139L101 137M65 201L143 160M177 165L181 160M97 114L115 168M173 178L167 221M66 159L151 187M69 143L136 187M163 167L110 181M150 104L167 107M60 180L133 178M97 153L121 158M128 125L102 97M155 185L108 193M110 176L147 106M118 168L134 123M92 110L94 103M155 112L203 185M135 203L174 133M110 171L115 227M82 103L136 167M126 212L113 223M52 212L75 189M146 203L78 236M100 217L129 148M122 114L113 201M88 182L78 185M113 201L183 150M113 193L201 205M59 189L54 146M105 177L107 118M112 104L70 171M189 148L161 179M135 156L144 107M129 152L116 216M148 144L185 216M92 154L96 138M205 130L186 215M138 190L73 191M166 199L168 111M108 166L63 174M97 114L54 146M130 136L164 212M78 231L85 150M192 127L128 115M154 213L113 209M114 143L87 105M157 120L190 198M63 174L135 203M109 107L73 142M106 216L73 152M159 201L160 178M91 232L136 206M78 217L140 160M76 148L131 169M160 108L131 169M100 189L162 212M174 153L131 176M152 238L170 208M75 149L106 158M133 177L55 189M79 131L129 189M188 133L169 193M79 105L116 185M122 222L72 169M112 170L73 185M103 236L126 199M140 158L158 106M60 180L84 223M124 187L56 152M51 206L69 163M54 158L61 126M92 132L74 154M153 169L149 124M147 98L141 171M60 152L60 110M79 135L152 173M192 145L154 106M105 233L134 152M56 182L134 179M168 179L159 134M72 95L154 99M147 171L86 186M201 211L192 208M110 178L148 144M123 194L92 164M87 143L125 212M138 183L63 201M146 144L125 171M170 207L148 163M49 130L132 162M72 169L81 152M104 209L162 168M138 183L104 238M102 97L124 109M124 176L84 184" stroke="#999999" stroke-width="0.4" stroke-opacity="0.42"/><g opacity="0.74"><path class="o" d="M73 182h0M183 150h0M141 114h0M130 208h0M172 213h0M143 142h0M131 159h0M98 235h0M186 215h0M89 94h0M133 106h0M135 108h0M197 155h0M146 138h0M184 151h0M79 131h0M46 170h0M50 141h0M59 152h0M140 138h0M153 90h0M210 144h0M188 156h0M136 115h0M92 196h0M105 175h0M114 206h0M110 171h0M161 183h0M143 175h0M100 243h0M95 205h0M76 176h0M82 129h0M195 132h0M88 144h0M151 135h0M87 218h0M81 133h0M60 180h0M91 118h0M73 225h0M81 89h0M130 202h0M125 171h0M160 178h0M74 186h0M89 220h0M104 128h0M111 133h0M87 209h0M143 166h0M144 140h0M110 166h0M162 148h0M184 210h0M130 102h0M52 153h0M121 215h0M147 127h0M116 90h0M54 165h0M49 121h0M81 136h0M68 164h0M84 122h0M122 181h0M81 199h0M62 115h0M124 176h0M74 201h0M161 157h0M105 168h0M106 219h0M151 187h0M95 190h0M49 137h0M102 107h0M113 235h0M186 133h0M123 206h0M84 126h0M67 186h0M99 139h0M100 164h0M119 209h0M95 183h0M113 193h0M189 148h0M149 194h0M59 125h0M167 195h0M113 223h0M147 96h0M66 119h0M105 104h0M125 193h0M150 187h0M73 184h0M160 232h0M125 146h0M89 137h0M141 178h0M120 211h0M147 176h0M46 196h0M93 183h0M129 152h0M56 200h0M90 181h0M149 122h0M117 190h0M181 160h0" stroke="#8a8a8a" stroke-width="5.85"/><path class="i" d="M73 182h0M183 150h0M141 114h0M130 208h0M172 213h0M143 142h0M131 159h0M98 235h0M186 215h0M89 94h0M133 106h0M135 108h0M197 155h0M146 138h0M184 151h0M79 131h0M46 170h0M50 141h0M59 152h0M140 138h0M153 90h0M210 144h0M188 156h0M136 115h0M92 196h0M105 175h0M114 206h0M110 171h0M161 183h0M143 175h0M100 243h0M95 205h0M76 176h0M82 129h0M195 132h0M88 144h0M151 135h0M87 218h0M81 133h0M60 180h0M91 118h0M73 225h0M81 89h0M130 202h0M125 171h0M160 178h0M74 186h0M89 220h0M104 128h0M111 133h0M87 209h0M143 166h0M144 140h0M110 166h0M162 148h0M184 210h0M130 102h0M52 153h0M121 215h0M147 127h0M116 90h0M54 165h0M49 121h0M81 136h0M68 164h0M84 122h0M122 181h0M81 199h0M62 115h0M124 176h0M74 201h0M161 157h0M105 168h0M106 219h0M151 187h0M95 190h0M49 137h0M102 107h0M113 235h0M186 133h0M123 206h0M84 126h0M67 186h0M99 139h0M100 164h0M119 209h0M95 183h0M113 193h0M189 148h0M149 194h0M59 125h0M167 195h0M113 223h0M147 96h0M66 119h0M105 104h0M125 193h0M150 187h0M73 184h0M160 232h0M125 146h0M89 137h0M141 178h0M120 211h0M147 176h0M46 196h0M93 183h0M129 152h0M56 200h0M90 181h0M149 122h0M117 190h0M181 160h0" stroke="#ececec" stroke-width="4.10"/><path class="o" d="M60 152h0M76 206h0M131 92h0M76 103h0M62 116h0M160 218h0M66 154h0M62 202h0M74 146h0M87 212h0M54 136h0M91 100h0M149 143h0M120 158h0M111 235h0M111 198h0M181 148h0M132 237h0M183 212h0M130 179h0M148 119h0M51 131h0M101 195h0M134 99h0M111 106h0M123 160h0M98 231h0M84 161h0M118 216h0M48 147h0M99 207h0M193 103h0M140 196h0M91 154h0M56 159h0M172 206h0M110 213h0M100 210h0M129 206h0M145 221h0M179 124h0M191 174h0M84 96h0M64 110h0M105 140h0M84 100h0M118 177h0M124 235h0M198 137h0M169 172h0M159 231h0M73 127h0M65 201h0M173 156h0M50 179h0M188 184h0M131 169h0M145 230h0M92 162h0M93 230h0M98 195h0M126 105h0M141 199h0M82 214h0M82 147h0M72 196h0M78 120h0M152 115h0M53 141h0M44 129h0M171 183h0M78 196h0M104 206h0M159 223h0M132 90h0M115 124h0M128 198h0M74 142h0M178 208h0M60 186h0M126 145h0M58 131h0M95 149h0M76 212h0M124 147h0M143 137h0M87 147h0M92 144h0M196 141h0M119 219h0M53 165h0M77 224h0M64 189h0M170 122h0M145 189h0M136 231h0M121 109h0M133 170h0M144 124h0M81 151h0M81 176h0M93 113h0M105 220h0M196 189h0M90 202h0M66 139h0M122 165h0M54 158h0M163 135h0M170 122h0M141 93h0M144 121h0M176 197h0M133 242h0M81 229h0M210 155h0M176 170h0M189 164h0M57 155h0M156 157h0M168 157h0M137 134h0M124 138h0M135 176h0M109 216h0M85 119h0M76 178h0M148 174h0M104 176h0M87 229h0M185 226h0M176 140h0M95 130h0M172 137h0M129 129h0M185 128h0M117 146h0M102 176h0M132 213h0M50 129h0M111 195h0M142 201h0" stroke="#c8b432" stroke-width="4.80"/><path class="i" d="M60 152h0M76 206h0M131 92h0M76 103h0M62 116h0M160 218h0M66 154h0M62 202h0M74 146h0M87 212h0M54 136h0M91 100h0M149 143h0M120 158h0M111 235h0M111 198h0M181 148h0M132 237h0M183 212h0M130 179h0M148 119h0M51 131h0M101 195h0M134 99h0M111 106h0M123 160h0M98 231h0M84 161h0M118 216h0M48 147h0M99 207h0M193 103h0M140 196h0M91 154h0M56 159h0M172 206h0M110 213h0M100 210h0M129 206h0M145 221h0M179 124h0M191 174h0M84 96h0M64 110h0M105 140h0M84 100h0M118 177h0M124 235h0M198 137h0M169 172h0M159 231h0M73 127h0M65 201h0M173 156h0M50 179h0M188 184h0M131 169h0M145 230h0M92 162h0M93 230h0M98 195h0M126 105h0M141 199h0M82 214h0M82 147h0M72 196h0M78 120h0M152 115h0M53 141h0M44 129h0M171 183h0M78 196h0M104 206h0M159 223h0M132 90h0M115 124h0M128 198h0M74 142h0M178 208h0M60 186h0M126 145h0M58 131h0M95 149h0M76 212h0M124 147h0M143 137h0M87 147h0M92 144h0M196 141h0M119 219h0M53 165h0M77 224h0M64 189h0M170 122h0M145 189h0M136 231h0M121 109h0M133 170h0M144 124h0M81 151h0M81 176h0M93 113h0M105 220h0M196 189h0M90 202h0M66 139h0M122 165h0M54 158h0M163 135h0M170 122h0M141 93h0M144 121h0M176 197h0M133 242h0M81 229h0M210 155h0M176 170h0M189 164h0M57 155h0M156 157h0M168 157h0M137 134h0M124 138h0M135 176h0M109 216h0M85 119h0M76 178h0M148 174h0M104 176h0M87 229h0M185 226h0M176 140h0M95 130h0M172 137h0M129 129h0M185 128h0M117 146h0M102 176h0M132 213h0M50 129h0M111 195h0M142 201h0" stroke="#f2dc3c" stroke-width="4.10"/><path class="o" d="M154 158h0M137 124h0M165 124h0M169 164h0M155 202h0M70 220h0M205 155h0M74 138h0M148 93h0M137 109h0M156 227h0M164 200h0M147 156h0M158 228h0M174 197h0M146 160h0M151 138h0M122 173h0M190 160h0M160 103h0M130 86h0M189 139h0M179 120h0M87 95h0M211 156h0M154 161h0M180 210h0M70 202h0M203 150h0M198 158h0M179 223h0M157 110h0M123 194h0M210 146h0M104 204h0M138 190h0M168 111h0M176 209h0M153 131h0M155 121h0M155 103h0M107 95h0M141 176h0M177 202h0M178 111h0M144 101h0M162 111h0M81 209h0M197 190h0M140 110h0M164 175h0M204 154h0M189 114h0M159 205h0M201 141h0M138 88h0M188 125h0M90 149h0M162 226h0M184 217h0M158 233h0M189 181h0M99 163h0M143 100h0M161 233h0M148 106h0M158 221h0M169 142h0M185 209h0M168 122h0M188 149h0M152 158h0M131 143h0M196 191h0M168 147h0M150 180h0M176 216h0M186 157h0M178 169h0M131 218h0M140 133h0M163 138h0M164 151h0" stroke="#d42a3a" stroke-width="4.80"/><path class="i" d="M154 158h0M137 124h0M165 124h0M169 164h0M155 202h0M70 220h0M205 155h0M74 138h0M148 93h0M137 109h0M156 227h0M164 200h0M147 156h0M158 228h0M174 197h0M146 160h0M151 138h0M122 173h0M190 160h0M160 103h0M130 86h0M189 139h0M179 120h0M87 95h0M211 156h0M154 161h0M180 210h0M70 202h0M203 150h0M198 158h0M179 223h0M157 110h0M123 194h0M210 146h0M104 204h0M138 190h0M168 111h0M176 209h0M153 131h0M155 121h0M155 103h0M107 95h0M141 176h0M177 202h0M178 111h0M144 101h0M162 111h0M81 209h0M197 190h0M140 110h0M164 175h0M204 154h0M189 114h0M159 205h0M201 141h0M138 88h0M188 125h0M90 149h0M162 226h0M184 217h0M158 233h0M189 181h0M99 163h0M143 100h0M161 233h0M148 106h0M158 221h0M169 142h0M185 209h0M168 122h0M188 149h0M152 158h0M131 143h0M196 191h0M168 147h0M150 180h0M176 216h0M186 157h0M178 169h0M131 218h0M140 133h0M163 138h0M164 151h0" stroke="#e52a3c" stroke-width="4.10"/></g><path d="M157 171L105 168M120 187L148 174M155 202L111 127M121 117L148 138M151 197L127 126M176 227L210 183M87 224L141 230M127 129L149 126M154 161L66 159M114 214L147 227M137 92L174 99M144 101L117 124M82 174L40 131M54 143L103 152M104 204L165 191M136 170L109 159M170 112L114 179M137 225L149 213M139 149L144 91M131 218L140 200M137 134L125 182M114 155L153 124M199 158L148 106M131 92L156 127M146 144L134 184M119 111L81 126M135 156L63 180M58 191L89 208M141 97L136 156M70 138L60 110M88 219L118 190M72 196L78 198M176 102L186 171M161 195L156 196M179 150L125 182M69 167L129 125M143 175L162 151M73 191L90 135M112 143L141 190M183 194L149 182M70 171L134 219M74 149L85 140M91 212L86 164M158 233L154 153M128 147L146 215M63 129L88 190M111 185L92 196M166 177L100 184M111 234L101 156M153 181L95 190M128 106L84 154M100 152L68 210M196 146L183 107M125 111L76 114M149 182L154 106M125 171L175 196M161 167L112 143M89 157L130 91M140 110L163 167M78 120L51 140M171 203L203 158M205 176L147 227M127 235L154 161M82 197L56 189M79 112L163 97M112 179L44 129M52 212L110 161M118 108L134 180M94 123L59 142M70 220L159 223M80 127L147 133M162 174L162 111M129 148L180 169M136 170L112 170M116 90L100 98M88 108L171 109M101 106L101 195M53 176L94 186M156 178L185 179M130 166L86 111M169 218L87 218M166 134L181 166M100 152L178 113M141 176L155 103M134 196L94 143M129 125L110 171M171 173L110 145M210 183L128 176M61 178L73 109M118 115L49 158M46 170L79 131M76 148L128 105M147 134L117 161M132 199L180 142M117 190L100 203M79 131L122 199M72 152L55 189M133 97L143 183M139 119L168 157M153 126L126 184M101 142L178 169M197 143L169 161M100 152L105 133M163 138L137 130M150 116L132 93M56 112L102 105M152 160L202 162M81 209L66 154M112 164L64 189M76 212L157 230M95 110L135 156M82 141L67 162M103 134L132 200M143 142L154 195M148 145L137 124M128 147L94 103M130 86L126 105M91 118L122 121M168 207L122 206M166 177L185 166M154 120L123 194M85 191L143 215M84 159L90 181M183 143L181 191M125 193L205 192M147 172L156 219M130 126L143 206M158 171L99 163M92 222L72 219M65 141L84 223M144 224L120 235M148 228L177 198M185 166L154 226M146 149L210 155M138 223L162 151M155 211L87 221M120 186L126 184M49 169L52 166M65 147L101 157M134 123L203 166M134 164L149 124M133 167L131 112M154 221L159 141M71 119L71 168M102 107L152 133M70 202L130 220M142 150L159 231M100 145L84 232M100 111L178 131M141 178L133 202M99 158L157 101M166 175L168 154M81 230L122 197M50 155L67 162M103 165L180 197M87 218L110 158M101 137L169 176M149 183L89 207M178 113L141 96M64 150L134 99M80 149L126 102M84 161L137 101M74 131L102 105M164 210L116 160M159 141L103 101M59 143L137 122M89 157L129 179M96 127L99 104M141 166L144 123M173 198L125 206M79 105L72 117M172 202L175 172M113 115L50 155M118 115L92 154M133 236L181 180M66 165L130 149M137 151L126 169M129 206L91 154M141 133L166 93M81 213L164 226M120 117L109 188M82 171L72 105M74 131L53 165M56 159L110 100M149 194L159 163M82 214L58 183M152 211L78 198M210 155L147 189M125 166L75 158M113 216L151 135M148 163L173 100M177 151L112 192M78 198L133 173M168 157L115 207M100 153L146 119M169 112L114 86M173 162L103 126M150 163L119 219M210 155L158 217M129 110L173 162M122 181L173 193M58 132L84 161M159 231L183 212M47 176L108 152M69 166L137 131M163 236L150 234M130 166L168 202M95 183L102 169M83 200L78 185M168 116L166 156M76 212L137 196M158 181L110 116M115 124L95 158M182 149L142 229M84 223L147 189M120 187L88 239M160 223L99 163M125 234L198 192M147 202L180 131M96 139L65 135M160 142L132 161M76 148L127 97M61 195L71 173M201 122L149 194M76 122L125 87M69 181L132 235M104 176L141 178M65 158L73 138M66 139L58 122M105 168L72 129M53 121L123 173M125 234L112 167M88 112L82 103M111 180L82 112M116 110L76 116M116 153L76 212M163 140L161 211M177 183L190 198M70 202L82 205M169 112L170 145M189 181L163 119M166 135L141 170M134 180L101 233M117 202L66 133M163 112L137 92M133 154L147 202M85 150L155 192M114 206L118 158M74 235L158 217M188 184L147 227M91 154L68 106M62 116L137 105M46 159L58 131M202 162L147 176M106 182L101 127M126 137L148 111M85 150L126 145M73 184L73 157M101 171L52 185M149 124L170 208M186 158L155 138M127 129L188 149M115 227L68 178M179 217L196 152M113 209L156 156M158 181L203 185M185 187L168 207M85 234L100 243M90 188L82 171M182 219L164 175M99 163L103 160M102 128L112 210M103 160L110 178M156 156L151 199M163 175L122 114M137 229L184 153M89 123L139 184M102 169L129 215M61 172L123 160M92 164L138 187M62 145L124 210M145 199L207 180M189 148L153 169M158 202L74 193M131 100L102 113M118 205L93 218M100 167L166 120M143 115L180 131M137 168L180 169M152 130L137 178M141 197L130 126M126 212L93 147M113 159L129 234M65 201L130 231M183 140L123 173M146 215L115 168M133 106L134 116M123 130L118 216M131 218L146 146M96 139L87 218M134 219L68 205M122 142L128 115M182 217L154 153M79 161L105 144M149 211L81 163M142 201L83 150M106 182L164 180M139 167L131 225M130 86L115 124M169 178L184 143M198 153L141 145M174 132L126 144M166 199L171 125M138 190L179 150M54 131L70 185M182 219L175 147M168 157L180 118M123 158L170 161M137 131L193 129M97 179L56 104M78 202L89 137M92 127L68 130M85 237L82 174M162 142L94 139M103 148L144 107M190 150L147 227M127 122L124 176M188 169L189 148M53 148L129 189M48 147L55 208M160 103L82 139M134 123L185 187M141 202L130 126M75 189L97 239M124 148L88 219M181 180L168 147M137 225L176 154M177 202L164 229M111 198L143 115M155 192L174 134M71 148L147 171M151 197L117 239M135 201L155 203M172 120L177 183M143 215L197 155M65 201L99 231M190 150L179 124M66 177L81 181M181 220L166 190M141 178L97 210M128 152L125 184M83 167L110 145M129 204L186 171M75 131L139 92M74 119L126 184M172 154L196 192M102 128L180 169M137 207L190 198M143 183L156 227M71 154L106 202M161 153L111 150M170 207L170 145M61 172L71 101M137 110L69 126M115 218L117 207M186 221L162 231M181 180L176 179M187 206L203 184M40 174L121 200M104 209L123 130M159 223L161 229M142 142L113 193M64 158L105 168M111 144L101 195M148 188L116 216M130 213L106 158M60 180L85 171M145 207L144 124M157 199L99 205M137 168L85 177M137 151L112 167M91 140L100 167M118 115L166 120M145 189L109 231M110 213L92 164M69 166L91 111M147 173L137 130M158 117L160 178M96 138L105 133M155 202L118 190M54 184L100 167M143 215L175 228M85 177L119 111M130 231L117 173M130 179L64 123M187 207L158 217M187 207L146 215M52 173L47 162M60 180L118 158M164 174L188 125M172 129L98 134M66 159L97 119M198 154L148 101M177 209L173 198M54 209L122 181M172 209L129 148M158 214L83 188M182 208L117 202M124 215L82 174M122 101L69 115M110 115L102 159M92 209L98 134M84 159L135 156M203 166L197 217M137 151L179 200M144 103L75 126M176 180L100 200M97 210L119 138M131 169L61 126M168 171L183 216M168 232L184 195M105 186L193 178M170 108L187 181M51 131L121 117M137 140L129 91M101 180L157 158M129 182L124 109M178 96L159 172M169 178L132 162M113 209L89 199M128 152L122 193M143 231L133 242M81 199L122 127M196 210L122 181M176 233L135 172M162 114L149 193M113 107L189 148M148 174L148 151M76 116L64 160M107 102L70 146M58 134L72 176M163 125L188 200M59 152L120 131M71 152L105 220M96 109L171 145M166 216L92 171M131 211L72 152M54 158L112 167M151 206L167 137M126 174L116 192M184 193L155 211M107 212L129 215M140 160L186 197M137 188L88 219M124 155L176 218M183 97L95 96M137 207L201 211M148 163L78 182M196 146L134 123M115 168L176 180M171 173L97 177M92 149L104 93M122 142L97 177M118 108L191 111M91 154L164 158M92 196L154 156M52 185L117 173M168 157L116 185M126 144L131 189M121 109L99 158M70 183L118 216M105 144L110 171M176 95L185 177M168 171L133 177M157 171L147 225M134 116L124 194M83 223L133 170M111 127L101 171M176 233L158 233M148 230L205 163M115 224L109 230M178 144L120 187M50 131L76 106M177 202L177 151M169 161L178 137M100 217L57 194M133 97L76 148M87 209L54 165M145 161L98 125M154 99L144 101M148 186L155 112M91 229L97 177M131 106L58 122M111 195L143 231M102 176L111 187M132 167L166 102M126 219L181 219M105 208L132 200M144 136L84 100M50 179L93 104M136 144L122 150M154 226L150 187M161 211L149 183M84 211L158 190M77 193L141 178M40 175L78 225M105 175L77 107M170 122L124 138M88 219L125 191M169 161L116 110M101 167L107 97M85 183L64 123M100 132L140 158M184 217L122 181M137 196L155 185M119 126L101 106M66 139L71 150M193 204L155 173M125 191L82 192M182 95L179 124M141 178L149 167M135 163L173 147M133 123L86 98M150 116L71 142M167 195L188 116M50 151L107 149M74 131L134 179M100 111L131 176M84 161L127 122M124 221L60 227M98 195L78 198M143 166L163 119M119 173L61 195M98 235L150 167M116 192L129 152M103 160L64 158M76 114L103 145M146 215L132 213M101 187L90 135M200 157L198 192M169 178L181 219M73 165L63 132M137 150L176 141M105 142L103 141M175 133L143 133M164 196L172 202M75 154L59 143M143 182L59 182M203 173L170 129M109 183L96 230M149 183L87 198M136 235L198 213M177 151L201 141M122 150L109 183M187 207L164 174M114 202L143 165M198 168L144 224M120 104L101 157M148 101L185 179M137 136L176 95M54 169L80 127M121 200L162 200M164 218L158 221M66 130L97 104M105 142L54 116M49 145L85 187M50 169L115 207M168 171L198 137M166 175L152 145M126 169L161 216M89 208L68 205" stroke="#999999" stroke-width="0.4" stroke-opacity="0.42"/><g opacity="0.74"><path class="o" d="M146 144h0M75 149h0M180 169h0M139 175h0M183 107h0M65 168h0M85 192h0M118 190h0M161 195h0M51 206h0M166 177h0M128 185h0M119 198h0M200 186h0M125 86h0M136 171h0M76 212h0M82 103h0M66 159h0M64 120h0M170 215h0M112 175h0M121 100h0M100 132h0M92 209h0M150 198h0M118 115h0M114 193h0M171 172h0M159 96h0M188 138h0M74 154h0M82 197h0M51 167h0M124 223h0M113 201h0M90 195h0M97 177h0M129 215h0M69 166h0M88 163h0M133 154h0M166 135h0M84 159h0M65 134h0M110 115h0M64 215h0M132 199h0M123 99h0M182 95h0M148 101h0M127 235h0M177 183h0M111 137h0M109 243h0M62 203h0M108 218h0M132 93h0M157 101h0M193 134h0M129 202h0M142 202h0M52 205h0M50 172h0M178 144h0M158 197h0M148 208h0M128 115h0M75 190h0M168 127h0M173 154h0M101 201h0M89 216h0M201 145h0M116 207h0M51 167h0M117 183h0M116 160h0M97 153h0M52 201h0M85 234h0M116 92h0M85 187h0M179 179h0M53 148h0M55 196h0M123 188h0M83 226h0M126 102h0M78 236h0M99 127h0M71 130h0M121 109h0M147 133h0M96 138h0M105 223h0M188 153h0M155 173h0M65 216h0M134 179h0M155 185h0M85 171h0M74 149h0M102 159h0M134 116h0M54 142h0M120 172h0M121 236h0M174 108h0M108 221h0M61 172h0M77 179h0M118 95h0" stroke="#8a8a8a" stroke-width="5.85"/><path class="i" d="M146 144h0M75 149h0M180 169h0M139 175h0M183 107h0M65 168h0M85 192h0M118 190h0M161 195h0M51 206h0M166 177h0M128 185h0M119 198h0M200 186h0M125 86h0M136 171h0M76 212h0M82 103h0M66 159h0M64 120h0M170 215h0M112 175h0M121 100h0M100 132h0M92 209h0M150 198h0M118 115h0M114 193h0M171 172h0M159 96h0M188 138h0M74 154h0M82 197h0M51 167h0M124 223h0M113 201h0M90 195h0M97 177h0M129 215h0M69 166h0M88 163h0M133 154h0M166 135h0M84 159h0M65 134h0M110 115h0M64 215h0M132 199h0M123 99h0M182 95h0M148 101h0M127 235h0M177 183h0M111 137h0M109 243h0M62 203h0M108 218h0M132 93h0M157 101h0M193 134h0M129 202h0M142 202h0M52 205h0M50 172h0M178 144h0M158 197h0M148 208h0M128 115h0M75 190h0M168 127h0M173 154h0M101 201h0M89 216h0M201 145h0M116 207h0M51 167h0M117 183h0M116 160h0M97 153h0M52 201h0M85 234h0M116 92h0M85 187h0M179 179h0M53 148h0M55 196h0M123 188h0M83 226h0M126 102h0M78 236h0M99 127h0M71 130h0M121 109h0M147 133h0M96 138h0M105 223h0M188 153h0M155 173h0M65 216h0M134 179h0M155 185h0M85 171h0M74 149h0M102 159h0M134 116h0M54 142h0M120 172h0M121 236h0M174 108h0M108 221h0M61 172h0M77 179h0M118 95h0" stroke="#ececec" stroke-width="4.10"/><path class="o" d="M120 194h0M63 180h0M126 169h0M139 149h0M195 203h0M131 100h0M158 214h0M74 207h0M119 173h0M62 145h0M50 142h0M116 110h0M165 195h0M113 107h0M166 179h0M54 131h0M181 207h0M192 208h0M81 163h0M153 120h0M168 119h0M63 174h0M120 131h0M101 185h0M137 168h0M117 173h0M118 153h0M169 193h0M162 159h0M201 211h0M187 199h0M95 219h0M132 107h0M60 110h0M124 194h0M150 222h0M186 145h0M96 105h0M106 120h0M61 130h0M146 146h0M67 201h0M194 139h0M166 134h0M139 119h0M147 134h0M67 186h0M82 222h0M145 161h0M155 211h0M177 209h0M180 225h0M60 208h0M140 160h0M171 149h0M75 154h0M74 118h0M114 143h0M84 100h0M89 157h0M149 183h0M107 174h0M122 219h0M189 164h0M170 108h0M73 151h0M184 195h0M126 184h0M89 232h0M52 170h0M116 233h0M114 202h0M72 169h0M160 115h0M203 189h0M125 212h0M139 102h0M90 157h0M102 200h0M116 141h0M93 167h0M113 220h0M123 230h0M40 131h0M147 106h0M126 105h0M129 175h0M122 222h0M166 102h0M59 143h0M120 104h0M194 132h0M40 174h0M135 187h0M164 174h0M154 120h0M129 179h0M85 154h0M73 138h0M126 104h0M168 157h0M109 120h0M103 141h0M69 167h0M194 138h0M93 191h0M112 165h0M134 207h0M112 179h0M110 195h0M59 161h0M76 182h0M129 125h0M70 109h0M49 130h0M116 192h0M86 111h0M116 216h0M198 179h0M162 174h0M105 208h0M207 141h0M178 110h0M90 100h0M69 195h0M145 222h0M170 126h0M124 155h0M130 120h0M47 162h0M159 142h0M128 180h0M85 191h0M153 116h0M145 207h0M157 208h0M76 116h0M63 178h0M184 114h0M171 126h0M145 107h0M95 126h0M152 145h0M98 117h0M72 168h0M134 184h0M94 141h0M137 130h0M113 219h0M128 222h0M108 113h0M70 93h0M88 182h0M65 217h0M166 175h0M93 218h0M65 158h0M71 168h0" stroke="#c8b432" stroke-width="4.80"/><path class="i" d="M120 194h0M63 180h0M126 169h0M139 149h0M195 203h0M131 100h0M158 214h0M74 207h0M119 173h0M62 145h0M50 142h0M116 110h0M165 195h0M113 107h0M166 179h0M54 131h0M181 207h0M192 208h0M81 163h0M153 120h0M168 119h0M63 174h0M120 131h0M101 185h0M137 168h0M117 173h0M118 153h0M169 193h0M162 159h0M201 211h0M187 199h0M95 219h0M132 107h0M60 110h0M124 194h0M150 222h0M186 145h0M96 105h0M106 120h0M61 130h0M146 146h0M67 201h0M194 139h0M166 134h0M139 119h0M147 134h0M67 186h0M82 222h0M145 161h0M155 211h0M177 209h0M180 225h0M60 208h0M140 160h0M171 149h0M75 154h0M74 118h0M114 143h0M84 100h0M89 157h0M149 183h0M107 174h0M122 219h0M189 164h0M170 108h0M73 151h0M184 195h0M126 184h0M89 232h0M52 170h0M116 233h0M114 202h0M72 169h0M160 115h0M203 189h0M125 212h0M139 102h0M90 157h0M102 200h0M116 141h0M93 167h0M113 220h0M123 230h0M40 131h0M147 106h0M126 105h0M129 175h0M122 222h0M166 102h0M59 143h0M120 104h0M194 132h0M40 174h0M135 187h0M164 174h0M154 120h0M129 179h0M85 154h0M73 138h0M126 104h0M168 157h0M109 120h0M103 141h0M69 167h0M194 138h0M93 191h0M112 165h0M134 207h0M112 179h0M110 195h0M59 161h0M76 182h0M129 125h0M70 109h0M49 130h0M116 192h0M86 111h0M116 216h0M198 179h0M162 174h0M105 208h0M207 141h0M178 110h0M90 100h0M69 195h0M145 222h0M170 126h0M124 155h0M130 120h0M47 162h0M159 142h0M128 180h0M85 191h0M153 116h0M145 207h0M157 208h0M76 116h0M63 178h0M184 114h0M171 126h0M145 107h0M95 126h0M152 145h0M98 117h0M72 168h0M134 184h0M94 141h0M137 130h0M113 219h0M128 222h0M108 113h0M70 93h0M88 182h0M65 217h0M166 175h0M93 218h0M65 158h0M71 168h0" stroke="#f2dc3c" stroke-width="4.10"/><path class="o" d="M130 149h0M75 124h0M181 191h0M121 158h0M193 124h0M188 133h0M125 191h0M174 139h0M99 164h0M203 152h0M90 231h0M176 201h0M141 171h0M180 131h0M167 223h0M129 161h0M161 216h0M171 207h0M158 217h0M133 97h0M111 234h0M201 211h0M137 168h0M141 145h0M174 153h0M168 202h0M201 205h0M52 212h0M118 180h0M160 174h0M172 184h0M125 87h0M175 172h0M78 225h0M178 196h0M173 207h0M141 197h0M125 131h0M133 212h0M183 217h0M85 220h0M148 134h0M152 111h0M169 179h0M193 129h0M133 201h0M83 131h0M157 199h0M137 150h0M140 145h0M159 111h0M165 145h0M176 179h0M199 208h0M125 182h0M169 112h0M163 115h0M167 137h0M137 94h0M193 151h0M189 122h0M195 191h0M119 134h0M142 182h0M94 143h0M126 158h0" stroke="#d42a3a" stroke-width="4.80"/><path class="i" d="M130 149h0M75 124h0M181 191h0M121 158h0M193 124h0M188 133h0M125 191h0M174 139h0M99 164h0M203 152h0M90 231h0M176 201h0M141 171h0M180 131h0M167 223h0M129 161h0M161 216h0M171 207h0M158 217h0M133 97h0M111 234h0M201 211h0M137 168h0M141 145h0M174 153h0M168 202h0M201 205h0M52 212h0M118 180h0M160 174h0M172 184h0M125 87h0M175 172h0M78 225h0M178 196h0M173 207h0M141 197h0M125 131h0M133 212h0M183 217h0M85 220h0M148 134h0M152 111h0M169 179h0M193 129h0M133 201h0M83 131h0M157 199h0M137 150h0M140 145h0M159 111h0M165 145h0M176 179h0M199 208h0M125 182h0M169 112h0M163 115h0M167 137h0M137 94h0M193 151h0M189 122h0M195 191h0M119 134h0M142 182h0M94 143h0M126 158h0" stroke="#e52a3c" stroke-width="4.10"/></g><path d="M105 175L141 197M82 114L72 95M129 161L149 182M184 173L145 107M111 144L108 170M189 164L124 212M115 227L108 166M111 150L166 175M158 193L124 213M135 163L127 100M199 123L161 167M82 174L76 182M184 111L159 166M167 139L156 219M156 106L160 108M126 91L187 147M124 147L188 133M167 152L111 139M204 134L123 125M145 199L166 190M122 193L78 204M116 221L178 184M98 125L75 149M103 160L166 102M130 179L185 179M107 171L51 161M168 122L118 115M114 101L159 142M99 163L100 210M89 151L134 203M126 105L192 125M109 204L133 201M108 199L100 152M204 199L141 166M110 158L86 114M112 164L72 129M85 190L158 171M171 203L143 206M67 203L117 173M143 215L72 176M164 118L199 158M189 164L188 116M74 132L131 92M117 207L85 192M70 165L122 197M93 104L130 86M128 115L160 171M201 147L139 149M107 145L186 145M115 237L116 185M163 115L160 174M73 158L97 96M182 149L192 138M120 242L142 188M101 156L104 131M45 166L129 182M158 202L124 221M110 145L140 158M124 194L180 131M193 161L139 96M105 208L145 181M76 115L118 163M116 170L54 209M104 135L162 120M111 195L97 239M130 126L140 145M108 199L65 216M207 141L133 178M175 164L150 212M145 107L113 121M209 159L151 138M141 198L140 200M70 146L126 94M136 125L76 116M120 117L71 142M114 214L66 139M119 111L154 99M106 126L128 115M52 113L116 159M112 209L122 197M114 179L144 140M184 153L183 135M168 116L175 196M118 141L141 170M111 185L149 211M167 140L137 134M130 149L179 150M147 171L133 170M54 184L122 186M129 129L205 155M122 150L160 108M184 172L193 133M67 134L102 175M192 208L143 167M126 219L93 183M125 207L198 168M172 120L113 129M161 117L132 116M83 188L159 201M200 186L151 197M149 182L63 187M121 110L52 119M73 115L85 194M130 86L104 128M119 138L137 138M67 203L58 191M174 134L110 168M125 207L52 185M188 156L145 162M102 88L83 167M131 159L107 133M135 156L81 152M163 167L172 154M205 130L186 134M187 148L184 193M88 239L143 182M112 167L122 121M189 114L181 191M141 194L128 125M92 202L47 176M105 139L146 146M161 233L136 162M176 197L141 179M156 156L168 218M53 165L114 202M135 187L77 201M198 192L112 209M169 193L168 111M192 200L166 198M154 120L139 92M169 164L170 99M127 132L164 118M81 213L105 220M116 90L148 134M142 215L109 183M150 180L110 115M94 174L102 113M127 182L69 126M176 132L175 172M104 208L67 205M94 176L101 219M133 181L209 168M94 143L135 187M129 189L130 118M107 91L133 106M103 145L120 194M85 170L132 237M183 181L139 149M141 179L161 229M200 148L123 188M139 149L192 170M111 192L83 223M136 171L170 126M92 104L117 169M92 143L60 170M62 146L127 131M124 210L176 218M159 117L154 158M190 197L159 117M69 171L103 126M138 165L117 173M137 138L188 153M54 143L46 162M158 138L147 108M152 117L173 147M151 206L164 212M146 146L137 134M60 182L122 216M144 101L78 120M95 132L125 206M46 170L105 142M111 133L134 152M139 92L191 116M108 134L132 146M90 181L114 165M188 131L124 123M84 232L70 200M120 158L41 145M89 157L77 100M106 163L67 162M186 197L196 192M158 214L202 154M177 165L141 133M64 123L57 186M114 214L161 157M86 133L162 120M75 159L101 171M82 197L126 144M153 106L120 104M165 224L102 200M117 146L176 161M122 110L99 163M120 117L129 206M145 222L94 186M113 107L165 139M89 207L150 212M131 159L175 166M85 207L92 232M71 152L111 187M85 190L123 194M201 205L119 173M120 238L148 158M103 160L137 229M118 153L144 201M155 203L113 193M113 159L112 164M132 196L102 169M171 183L173 135M79 135L63 123M136 206L141 166M129 202L167 156M120 187L55 132M129 129L107 174M207 180L169 112M145 183L92 232M112 104L159 134M125 146L70 109M190 130L159 203M188 184L146 119M75 217L136 169M60 227L46 159M129 152L158 174M147 171L105 104M112 167L176 227M108 228L141 152M155 138L141 197M166 199L183 216M170 129L174 153M49 121L79 135M117 164L166 102M61 130L113 174M84 207L46 159M41 145L53 216M77 201L88 182M107 171L74 177M53 151L61 192M149 213L108 152M118 185L130 168M141 190L92 164M75 217L75 154M151 171L140 204M157 198L124 221M51 167L129 185M194 138L157 171M178 113L125 166M111 180L136 105M50 169L109 188M108 166L137 92M51 156L92 155M154 158L167 234M120 211L120 182M147 156L64 123M130 102L123 99M62 116L121 153M166 221L118 168M90 134L147 93M131 159L144 224M83 226L118 205M125 171L168 207M75 121L139 119M83 111L58 164M117 207L122 193M188 138L139 92M116 160L153 181M154 158L177 106M131 106L143 165M131 176L136 144M141 133L159 202M109 159L61 115M166 176L133 242M129 126L134 192M174 99L110 120M143 175L128 176M151 157L109 216M159 139L187 207M70 220L45 147M133 99L116 160M51 142L68 210M128 125L127 100M127 129L38 139M195 203L173 207M111 106L158 141M177 145L124 138M91 111L155 138M136 169L178 135M180 131L148 111M40 175L56 136M70 171L119 219M138 187L164 196M83 226L169 218M73 165L50 151M72 112L87 198M198 145L203 169M111 195L51 190M131 211L99 212M104 123L75 189M80 212L117 202M135 201L103 233M83 167L95 219M99 207L84 165M155 119L84 122M107 171L150 234M174 199L164 177M97 104L139 119M133 178L121 111M56 104L121 109M148 158L122 128M83 177L117 173M125 87L112 156M77 193L73 185M202 173L160 108M111 195L132 146M169 112L147 171M176 201L195 215M133 181L108 179M167 137L156 196M86 231L73 225M174 214L114 155M105 133L51 156M72 172L82 103M66 165L100 161M137 222L68 178M99 205L149 211M82 198L136 169M82 174L91 111M51 141L73 165M153 131L99 159M138 187L187 132M136 96L193 134M185 216L188 149M116 192L123 193M138 183L175 133M76 103L66 165M111 213L111 185M78 176L51 161M150 116L178 144M191 174L175 136M92 112L153 106M207 141L163 135M163 135L85 151M84 126L126 102M142 188L205 176M157 213L89 191M40 166L72 190M61 164L110 231M164 174L168 207M114 143L163 115M106 126L57 194M147 176L104 110M115 192L137 109M152 173L198 154M156 156L104 178M168 202L203 166M179 117L128 185M151 135L115 207M103 141L116 160M145 162L95 199M176 181L157 218M104 177L45 173M136 231L120 205M86 180L121 100M59 142L99 139M82 147L61 192M77 118L89 94M112 164L66 128M88 109L130 149M167 107L163 195M155 168L87 212M170 113L147 156M148 228L144 189M93 110L73 127M127 122L169 164M85 140L172 119M143 159L164 175M51 167L122 146M184 148L135 176M59 182L68 205M146 149L173 147M158 171L133 103M184 145L186 111M78 195L65 134M148 186L164 158M202 116L170 145M91 118L59 154M147 171L132 236M131 218L124 155M77 160L50 151M103 160L132 90M92 164L121 111M201 205L138 223M82 224L91 140M158 171L197 140M176 209L90 188M165 145L169 164M176 170L152 173M151 157L100 204M46 169L103 127M88 161L76 203M136 156L99 158M114 155L109 174M125 234L111 234M117 143L159 141M76 203L83 182M85 151L83 226M73 165L128 148M132 235L83 223M164 210L176 186M166 208L161 187M166 177L100 161M162 101L127 129M145 186L128 243M177 151L198 145M83 107L78 153M210 146L180 124M141 176L89 199M63 108L79 162M115 190L113 182M60 168L64 123M177 187L158 106M172 184L124 164M100 217L112 176M104 177L69 166M128 148L182 201M132 236L154 226M157 99L131 106M82 216L146 228M147 133L201 175M100 225L147 225M141 198L82 216M78 213L74 131M66 159L73 109M123 188L130 120M43 189L99 139M158 211L77 179M147 135L117 207M72 172L122 121M127 125L118 163M93 183L41 131M125 87L103 165M83 107L78 176M136 105L149 85M109 174L111 106M136 105L177 139M188 184L152 233M183 192L165 195M134 219L117 233M87 171L109 219M108 171L60 161M72 219L155 235M174 131L119 134M59 148L143 137M121 92L148 151M197 155L161 179M199 165L168 163M74 126L112 175M70 138L116 185M122 110L127 149M157 221L162 226M110 195L146 232M81 140L101 137M78 213L88 163M158 141L71 134M110 127L77 129M126 145L50 129M110 231L100 243M120 205L92 127M176 186L123 193M151 197L169 172M81 136L69 124M206 205L174 199M148 134L77 179M178 173L188 142M99 205L74 161M118 141L152 211M68 199L45 166M154 156L86 208M119 134L143 158M184 111L189 148M176 130L103 101M51 206L82 197M102 176L122 127M79 188L149 183M58 191L63 123M59 152L72 219M130 118L183 97M159 117L188 116M101 107L152 145M63 201L106 202M82 147L163 175M115 116L72 112M73 182L86 111M101 124L135 172M118 115L117 192M114 102L53 148M118 180L103 189M133 181L59 167M148 174L168 207M58 122L137 124M163 123L120 158M192 127L193 207M138 190L111 198M89 200L113 115M133 173L163 236M101 156L120 205M131 211L120 194M141 149L86 186M155 121L153 131M74 191L124 221M105 142L134 180M170 208L185 187M80 169L117 233M94 176L174 168M189 164L187 110M180 124L110 94M140 110L170 91M136 125L134 184M138 88L131 112M94 111L147 172M47 153L63 180M155 168L119 111M126 112L92 160M175 136L120 158M147 134L68 130M112 176L80 212M120 158L77 160M69 114L94 176M93 104L90 143M145 189L167 139M170 112L111 101M107 118L174 131M180 131L145 207M116 192L195 191M78 124L72 213M159 194L137 170M74 118L128 115M154 210L113 228M127 129L102 177M127 126L71 154M67 134L141 176M59 143L57 199M102 175L73 152M199 158L186 228M111 187L50 142M84 207L125 184M85 234L139 168M129 204L124 148M59 161L137 168M92 202L88 219M184 193L179 157M88 108L70 185M137 134L116 221M125 132L93 134M141 170L152 160M111 144L106 91M142 154L157 208M117 152L92 104M142 136L200 148M199 165L174 99M70 127L125 185M153 115L142 150M201 175L192 145M127 125L120 84M146 182L133 202M80 89L91 111M90 155L178 173M141 97L94 111M176 173L111 234M192 180L106 163M147 173L164 151M147 135L166 102M118 205L118 115" stroke="#999999" stroke-width="0.4" stroke-opacity="0.42"/><g opacity="0.74"><path class="o" d="M56 103h0M66 165h0M136 144h0M88 226h0M137 224h0M94 111h0M64 170h0M121 168h0M93 173h0M78 185h0M127 137h0M195 166h0M41 131h0M181 220h0M117 158h0M70 171h0M120 225h0M73 109h0M97 119h0M93 206h0M72 129h0M101 157h0M133 177h0M92 202h0M177 198h0M96 189h0M133 167h0M81 230h0M152 129h0M146 215h0M190 202h0M115 207h0M176 211h0M141 96h0M120 205h0M158 190h0M136 167h0M79 190h0M115 116h0M124 109h0M73 127h0M186 228h0M157 210h0M145 234h0M101 210h0M92 101h0M122 183h0M70 183h0M89 123h0M53 137h0M132 157h0M157 99h0M154 121h0M68 130h0M173 160h0M101 187h0M88 199h0M108 166h0M200 148h0M161 111h0M109 147h0M76 203h0M161 225h0M205 163h0M109 219h0M147 171h0M166 198h0M188 131h0M125 132h0M133 236h0M91 140h0M137 207h0M186 227h0M69 114h0M62 198h0M94 176h0M58 143h0M122 186h0M85 128h0M156 196h0M192 211h0M158 193h0M99 203h0M164 212h0M92 171h0M158 211h0M194 154h0M84 222h0M171 125h0M120 186h0M104 173h0M97 138h0M134 190h0M107 118h0M162 120h0M168 179h0M124 123h0M168 115h0M120 102h0M184 206h0M174 131h0M71 154h0M179 150h0M100 84h0M73 158h0M84 211h0M80 231h0M99 104h0M85 183h0M133 103h0M151 161h0M83 186h0M170 91h0M84 154h0M66 124h0M92 184h0" stroke="#8a8a8a" stroke-width="5.85"/><path class="i" d="M56 103h0M66 165h0M136 144h0M88 226h0M137 224h0M94 111h0M64 170h0M121 168h0M93 173h0M78 185h0M127 137h0M195 166h0M41 131h0M181 220h0M117 158h0M70 171h0M120 225h0M73 109h0M97 119h0M93 206h0M72 129h0M101 157h0M133 177h0M92 202h0M177 198h0M96 189h0M133 167h0M81 230h0M152 129h0M146 215h0M190 202h0M115 207h0M176 211h0M141 96h0M120 205h0M158 190h0M136 167h0M79 190h0M115 116h0M124 109h0M73 127h0M186 228h0M157 210h0M145 234h0M101 210h0M92 101h0M122 183h0M70 183h0M89 123h0M53 137h0M132 157h0M157 99h0M154 121h0M68 130h0M173 160h0M101 187h0M88 199h0M108 166h0M200 148h0M161 111h0M109 147h0M76 203h0M161 225h0M205 163h0M109 219h0M147 171h0M166 198h0M188 131h0M125 132h0M133 236h0M91 140h0M137 207h0M186 227h0M69 114h0M62 198h0M94 176h0M58 143h0M122 186h0M85 128h0M156 196h0M192 211h0M158 193h0M99 203h0M164 212h0M92 171h0M158 211h0M194 154h0M84 222h0M171 125h0M120 186h0M104 173h0M97 138h0M134 190h0M107 118h0M162 120h0M168 179h0M124 123h0M168 115h0M120 102h0M184 206h0M174 131h0M71 154h0M179 150h0M100 84h0M73 158h0M84 211h0M80 231h0M99 104h0M85 183h0M133 103h0M151 161h0M83 186h0M170 91h0M84 154h0M66 124h0M92 184h0" stroke="#ececec" stroke-width="4.10"/><path class="o" d="M128 152h0M103 160h0M211 143h0M192 224h0M149 124h0M53 127h0M132 116h0M79 135h0M197 114h0M102 128h0M115 168h0M159 191h0M180 118h0M117 192h0M132 189h0M153 214h0M167 189h0M89 200h0M113 209h0M70 165h0M99 231h0M114 212h0M88 112h0M143 115h0M171 167h0M88 124h0M75 158h0M72 190h0M141 179h0M120 158h0M134 219h0M69 171h0M121 140h0M153 181h0M192 195h0M86 190h0M87 100h0M144 129h0M144 101h0M192 180h0M116 90h0M53 190h0M99 159h0M148 221h0M127 129h0M84 232h0M110 168h0M102 230h0M178 171h0M141 96h0M159 166h0M155 138h0M46 198h0M55 189h0M117 152h0M80 157h0M156 156h0M153 115h0M125 206h0M113 174h0M118 205h0M92 127h0M55 164h0M53 216h0M138 223h0M87 97h0M156 101h0M138 183h0M196 167h0M82 207h0M86 231h0M80 212h0M58 158h0M95 119h0M127 97h0M112 210h0M195 215h0M67 150h0M112 209h0M170 208h0M90 135h0M148 144h0M82 160h0M169 176h0M121 209h0M72 204h0M140 158h0M159 117h0M59 167h0M60 110h0M134 192h0M159 139h0M132 162h0M149 167h0M171 147h0M48 138h0M110 181h0M68 192h0M156 176h0M66 125h0M201 137h0M112 188h0M103 134h0M127 125h0M119 138h0M74 131h0M106 91h0M74 161h0M198 145h0M130 118h0M127 132h0M75 159h0M41 145h0M142 118h0M111 213h0M113 129h0M56 104h0M147 91h0M58 135h0M51 140h0M168 218h0M74 145h0M77 118h0M190 172h0M85 151h0M148 158h0M165 157h0M122 145h0M161 219h0M115 130h0M117 196h0M68 205h0M110 100h0M136 140h0M168 171h0M163 185h0M172 199h0M162 168h0M94 207h0M186 197h0M111 192h0M77 201h0M147 135h0M141 170h0M137 105h0M118 108h0M92 228h0M141 190h0" stroke="#c8b432" stroke-width="4.80"/><path class="i" d="M128 152h0M103 160h0M211 143h0M192 224h0M149 124h0M53 127h0M132 116h0M79 135h0M197 114h0M102 128h0M115 168h0M159 191h0M180 118h0M117 192h0M132 189h0M153 214h0M167 189h0M89 200h0M113 209h0M70 165h0M99 231h0M114 212h0M88 112h0M143 115h0M171 167h0M88 124h0M75 158h0M72 190h0M141 179h0M120 158h0M134 219h0M69 171h0M121 140h0M153 181h0M192 195h0M86 190h0M87 100h0M144 129h0M144 101h0M192 180h0M116 90h0M53 190h0M99 159h0M148 221h0M127 129h0M84 232h0M110 168h0M102 230h0M178 171h0M141 96h0M159 166h0M155 138h0M46 198h0M55 189h0M117 152h0M80 157h0M156 156h0M153 115h0M125 206h0M113 174h0M118 205h0M92 127h0M55 164h0M53 216h0M138 223h0M87 97h0M156 101h0M138 183h0M196 167h0M82 207h0M86 231h0M80 212h0M58 158h0M95 119h0M127 97h0M112 210h0M195 215h0M67 150h0M112 209h0M170 208h0M90 135h0M148 144h0M82 160h0M169 176h0M121 209h0M72 204h0M140 158h0M159 117h0M59 167h0M60 110h0M134 192h0M159 139h0M132 162h0M149 167h0M171 147h0M48 138h0M110 181h0M68 192h0M156 176h0M66 125h0M201 137h0M112 188h0M103 134h0M127 125h0M119 138h0M74 131h0M106 91h0M74 161h0M198 145h0M130 118h0M127 132h0M75 159h0M41 145h0M142 118h0M111 213h0M113 129h0M56 104h0M147 91h0M58 135h0M51 140h0M168 218h0M74 145h0M77 118h0M190 172h0M85 151h0M148 158h0M165 157h0M122 145h0M161 219h0M115 130h0M117 196h0M68 205h0M110 100h0M136 140h0M168 171h0M163 185h0M172 199h0M162 168h0M94 207h0M186 197h0M111 192h0M77 201h0M147 135h0M141 170h0M137 105h0M118 108h0M92 228h0M141 190h0" stroke="#f2dc3c" stroke-width="4.10"/><path class="o" d="M128 156h0M139 92h0M75 121h0M182 144h0M114 89h0M121 117h0M170 146h0M183 219h0M103 148h0M124 212h0M146 179h0M164 210h0M45 128h0M176 186h0M124 213h0M207 149h0M175 196h0M59 126h0M102 133h0M179 200h0M203 185h0M123 130h0M114 179h0M196 142h0M101 233h0M180 124h0M159 138h0M183 192h0M144 103h0M203 169h0M137 151h0M144 213h0M189 115h0M193 161h0M183 216h0M164 229h0M106 182h0M183 168h0M172 116h0M129 204h0M137 122h0M170 113h0M101 157h0M178 168h0M115 192h0M83 200h0M168 116h0M144 132h0M128 243h0M148 157h0M139 96h0M134 123h0M166 114h0M167 139h0M168 207h0M156 97h0M120 117h0M116 209h0M154 106h0M162 212h0M143 160h0M104 208h0M80 149h0M155 202h0M97 179h0M157 198h0M143 182h0M131 176h0M135 210h0M201 147h0M167 107h0M142 188h0M109 174h0" stroke="#d42a3a" stroke-width="4.80"/><path class="i" d="M128 156h0M139 92h0M75 121h0M182 144h0M114 89h0M121 117h0M170 146h0M183 219h0M103 148h0M124 212h0M146 179h0M164 210h0M45 128h0M176 186h0M124 213h0M207 149h0M175 196h0M59 126h0M102 133h0M179 200h0M203 185h0M123 130h0M114 179h0M196 142h0M101 233h0M180 124h0M159 138h0M183 192h0M144 103h0M203 169h0M137 151h0M144 213h0M189 115h0M193 161h0M183 216h0M164 229h0M106 182h0M183 168h0M172 116h0M129 204h0M137 122h0M170 113h0M101 157h0M178 168h0M115 192h0M83 200h0M168 116h0M144 132h0M128 243h0M148 157h0M139 96h0M134 123h0M166 114h0M167 139h0M168 207h0M156 97h0M120 117h0M116 209h0M154 106h0M162 212h0M143 160h0M104 208h0M80 149h0M155 202h0M97 179h0M157 198h0M143 182h0M131 176h0M135 210h0M201 147h0M167 107h0M142 188h0M109 174h0" stroke="#e52a3c" stroke-width="4.10"/></g><path d="M183 135L151 193M152 208L168 210M116 126L101 127M155 188L72 213M143 231L162 148M177 198L96 205M80 181L108 221M96 109L96 105M166 134L147 126M101 210L58 150M141 92L159 134M161 187L83 226M172 202L153 194M166 176L150 116M171 136L122 181M80 169L149 193M164 118L145 118M71 168L152 158M100 98L133 123M130 208L119 126M137 168L110 120M120 225L70 221M114 193L100 145M48 184L109 159M152 208L203 184M118 153L108 113M75 142L110 111M49 169L133 178M56 112L82 147M103 189L134 164M148 188L137 130M90 100L95 142M75 168L157 199M73 127L101 201M139 184L153 181M74 132L137 136M161 179L178 110M158 217L116 159M102 128L121 92M174 139L145 199M68 201L117 173M139 149L187 148M59 125L147 108M163 140L108 199M81 229L122 219M188 184L178 173M146 149L136 171M143 167L135 108M175 100L144 123M100 154L153 126M81 213L83 188M137 222L76 203M76 106L138 102M86 86L102 128M65 141L118 190M179 183L178 135M156 106L97 93M97 134L69 167M183 212L111 235M117 158L119 173M140 158L154 120M66 139L141 166M98 125L116 141M115 124L70 183M108 179L131 225M203 169L128 198M76 122L122 186M78 120L142 150M109 218L63 151M152 117L174 139M150 105L196 167M101 195L181 207M142 118L183 107M114 214L151 132M152 129L166 176M76 115L144 101M121 209L122 219M115 190L120 186M143 100L64 123M178 168L166 132M86 186L143 137M168 218L173 135M110 168L169 131M85 128L168 116M100 217L118 216M160 142L116 192M138 183L145 139M112 143L74 154M113 209L167 139M49 121L73 109M94 111L65 168M84 161L106 182M100 189L177 187M70 138L69 107M139 99L146 166M124 164L84 232M138 217L109 183M95 190L67 203M134 179L140 215M184 148L101 117M151 199L88 140M111 175L108 170M152 111L159 191M120 172L118 205M118 153L102 200M138 195L185 140M153 169L85 150M195 166L167 221M87 205L76 167M147 171L78 185M185 173L203 166M105 175L185 140M120 158L84 100M189 129L176 179M87 147L141 179M145 207L76 180M100 193L67 134M152 158L112 167M185 179L99 199M207 180L143 166M131 218L96 139M195 202L186 158M148 93L104 123M194 138L148 134M153 174L101 101M104 177L75 142M150 116L166 100M121 158L123 188M110 145L170 122M128 176L84 165M114 102L72 117M177 165L182 95M54 211L92 162M131 92L65 134M133 181L101 201M108 100L152 133M146 185L170 99M70 171L128 222M123 158L143 185M170 161L148 230M147 172L114 143M87 228L115 192M96 225L76 180M203 173L171 149M116 185L53 165M87 228L83 207M118 180L79 190M80 156L74 126M60 110L95 126M171 124L198 179M117 173L102 105M191 220L137 225M160 178L136 231M120 158L63 123M88 112L63 154M104 136L81 161M191 200L186 227M125 166L144 113M91 118L121 109M172 202L133 212M65 115L66 124M140 198L172 119M105 144L101 106M38 146L100 203M64 189L150 163M43 189L75 124M128 180L67 205M118 190L151 196M152 130L96 130M112 210L116 153M203 164L124 187M171 149L142 201M158 228L145 226M103 145L66 159M118 108L101 157M155 203L124 194M96 205L145 226M184 217L188 131M189 122L105 140M150 116L117 161M114 179L83 207M167 187L168 116M147 171L173 207M126 199L116 185M192 200L124 212M163 119L170 113M86 171L117 158M52 156L99 204M175 164L185 179M74 207L143 165M95 119L167 152M154 210L111 187M120 211L120 211M105 133L103 169M76 116L154 156M136 156L192 139M178 115L132 107M178 169L140 147M104 123L114 179M143 215L120 131M122 128L120 131M54 116L105 139M51 190L97 177M112 188L58 122M152 144L66 133M130 120L148 145M111 192L171 173M190 198L133 170M164 200L176 197M172 189L103 145M77 179L73 225M63 108L144 129M116 153L120 117M189 148L105 144M86 111L137 103M137 168L190 202M144 154L129 157M134 126L143 167M122 219L115 171M88 161L119 111M47 206L88 184M162 200L186 158M67 138L71 168M114 178L116 185M107 171L164 180M184 217L134 207M151 219L170 213M75 121L46 198M110 181L96 127M51 190L97 138M165 124L152 160M147 93L121 153M150 212L84 165M168 154L151 135M59 167L129 182M71 154L124 212M84 175L121 209M184 210L171 203M122 146L203 169M46 159L89 137M137 196L84 161M118 95L144 124M125 206L140 158M144 123L74 163M95 119L102 186M126 194L155 121M107 171L129 157M71 142L156 156M155 202L149 194M99 207L128 176M186 215L115 207M101 127L186 145M144 201L109 120M135 171L115 176M52 185L44 128M81 133L159 141M141 199L113 174M70 185L116 141M66 128L78 176M141 149L171 203M188 184L170 146M61 178L150 187M117 203L124 221M94 111L99 121M121 100L105 142M72 152L132 157M109 218L167 152M61 164L114 193M167 223L152 173M144 124L198 192M67 109L73 142M53 176L73 109M110 127L137 94M99 127L67 138M166 114L193 124M83 200L95 142M93 142L73 158M117 202L167 155M77 118L69 195M107 120L148 93M87 192L52 134M196 210L161 216M173 154L129 152M144 134L179 183M78 176L140 200M179 200L201 173M106 158L46 169M80 181L100 164M161 211L100 200M158 174L133 103M147 108L176 181M181 166L140 104M167 139L93 113M109 120L134 164M95 219L57 202M188 147L131 176M148 101L146 149M139 167L203 189M126 156L65 201M100 84L70 127M181 146L125 207M110 166L183 135M154 120L137 124M152 133L76 114M65 158L59 182M158 217L205 192M118 141L119 209M140 196L188 184M68 164L88 163M102 177L82 174M177 165L191 116M90 192L148 163M139 99L65 134M76 167L143 225M93 147L107 97M175 166L125 236M146 138L207 187M193 103L140 110M172 209L115 142M91 165L40 131M170 223L159 142M170 113L108 173M152 211L90 192M128 147L128 185M167 155L178 113M118 205L92 228M199 194L146 144M150 163L127 189M168 202L175 210M113 216L103 236M112 170L109 183M101 107L68 171M188 205L159 163M108 218L138 183M117 196L158 171M171 126L178 196M108 134L83 100M93 218L107 149M152 158L104 123M99 159L180 197M133 240L131 225M141 230L78 177M141 176L134 116M198 137L193 199M179 183L171 172M64 158L141 179M114 188L77 193M158 197L161 229M97 138L133 123M131 112L111 180M158 221L176 211M137 209L192 224M161 111L161 167M129 143L68 199M94 139L99 163M120 84L151 132M139 226L172 154M104 131L90 192M65 201L81 185M91 140L88 144M174 108L171 173M60 110L63 145M103 145L99 199M139 150L127 125M105 168L187 182M115 102L108 179M120 157L188 125M112 179L75 126M66 196L99 212M147 171L148 144M167 139L123 193M91 100L75 158M133 103L120 117M82 174L104 136M190 197L112 170M91 140L110 168M130 202L120 186M85 119L139 99M87 183L115 116M161 179L78 176M188 153L168 232M183 107L156 157M104 176L72 169M67 150L130 134M116 126L129 189M118 153L93 115M58 164L85 170M109 105L80 124M53 165L91 100M111 144L93 183M123 130L161 211M129 148L178 184M63 201L146 228M171 124L184 145M168 171L147 156M112 156L180 174M65 168L72 117M115 102L126 105M191 212L203 185M95 205L152 202M110 231L108 187M196 189L134 126M184 145L174 106M81 185L113 201M155 138L81 133M106 182L183 194M177 209L135 203M203 130L141 166M195 121L192 180M60 195L87 229M77 100L70 171M104 123L140 158M184 217L202 162M54 209L106 182M133 236L63 201M91 210L94 141M110 100L82 147M76 102L76 102M137 101L153 120M112 165L138 190M150 116L176 177M102 177L85 183M58 183L69 163M92 133L135 203M105 168L65 201M166 190L95 199M148 134L191 111M183 205L117 233M101 132L99 164M165 226L88 190M143 231L83 186M78 236L90 195M111 198L149 143M49 145L114 155M143 159L107 149M176 186L146 149M130 171L195 132M137 122L144 107M166 134L116 141M113 174L58 134M56 152L112 165M128 148L117 192M187 199L153 214M140 198L137 131M162 142L117 124M71 130L96 196M158 175L129 125M60 182L137 163M151 185L96 225M79 131L59 142M131 169L158 197M137 140L199 165M110 116L192 127M86 231L67 205M172 176L143 160M85 191L152 160M124 213L188 156M181 191L177 145M142 189L78 217M101 201L86 208M146 166L166 179M147 171L104 136M110 215L112 175M150 92L197 155M100 203L56 202M129 148L116 141M128 185L87 224M114 155L147 108M126 151L79 190M92 162L80 231M70 127L132 146M75 159L125 171M90 162L154 213M95 158L139 123M137 151L61 115M102 156L76 118M136 167L159 172M168 171L105 177M190 150L176 233M145 157L141 149M126 199L111 229M148 211L91 154M169 112L190 130M137 101L145 161M166 177L123 230M78 176L75 149M140 198L95 149M128 156L194 200M99 159L122 142M64 120L126 169M137 170L127 149M74 163L142 188M80 212L135 194M81 136L88 184M116 192L74 193M78 202L70 206M56 182L84 126M118 185L136 128M82 147L66 196M120 157L162 160M142 202L152 115M101 185L66 154M101 187L62 198M110 195L110 176M93 142L122 173M154 213L184 172M51 142L102 107M68 171L128 147M105 175L78 184M48 214L76 203M97 192L75 189M86 186L113 182M92 165L135 210M137 196L167 187M196 141L147 171M63 192L85 171M199 208L181 191M81 133L162 168M73 184L155 192M50 142L79 122M74 146L73 152M125 111L183 140M161 157L117 183M169 218L123 194M197 200L140 147M130 102L172 176M101 195L177 170M96 230L91 210M151 135L81 181M139 149L169 218M154 99L186 157M137 207L78 196M121 92L97 96M158 181L140 133M183 112L118 153M134 152L88 140M159 172L110 168M129 175L117 233M48 190L63 230M151 122L101 142M178 131L135 172M100 184L130 220M99 121L118 153M172 176L175 172M111 229L81 209M133 99L176 132M139 96L119 134M125 185L47 206M110 111L88 124M146 144L184 210M72 168L84 175M112 156L126 112M73 115L112 93M164 175L193 151M79 162L115 237M108 152L89 186M94 207L117 207M78 231L151 185M194 138L112 143M148 144L137 170M170 145L110 181M82 147L153 181M149 193L121 209M97 93L150 92M134 196L112 175M171 167L105 168M125 191L87 212M102 88L144 140M131 112L134 164M93 113L51 142M168 119L155 138" stroke="#999999" stroke-width="0.4" stroke-opacity="0.42"/><g opacity="0.74"><path class="o" d="M89 186h0M126 194h0M82 205h0M137 101h0M68 171h0M200 190h0M139 168h0M184 148h0M188 116h0M139 123h0M116 110h0M104 177h0M183 207h0M133 110h0M90 143h0M145 209h0M140 104h0M42 190h0M163 119h0M128 231h0M123 173h0M75 126h0M74 191h0M202 154h0M120 187h0M90 192h0M109 200h0M63 123h0M112 170h0M212 153h0M97 192h0M46 162h0M86 98h0M175 185h0M72 112h0M140 204h0M127 122h0M134 122h0M115 176h0M56 189h0M54 169h0M163 190h0M167 228h0M73 165h0M89 191h0M124 221h0M96 109h0M126 229h0M105 139h0M132 236h0M52 119h0M129 182h0M176 141h0M126 137h0M145 162h0M88 156h0M114 101h0M92 133h0M48 212h0M113 159h0M156 156h0M182 121h0M198 137h0M52 204h0M60 195h0M103 198h0M88 219h0M133 174h0M169 182h0M112 104h0M135 154h0M82 216h0M43 189h0M86 231h0M106 163h0M183 205h0M82 224h0M107 243h0M100 161h0M183 140h0M132 174h0M161 201h0M147 126h0M92 143h0M61 197h0M137 92h0M63 187h0M127 149h0M113 216h0M149 119h0M63 110h0M58 150h0M203 173h0M99 163h0M161 153h0M169 169h0M148 145h0M140 121h0M178 96h0M129 148h0M164 118h0M147 180h0M86 180h0M70 221h0M96 196h0M198 154h0M90 208h0M187 207h0M132 196h0M169 131h0M143 165h0M130 220h0M91 212h0M171 124h0M190 197h0M185 220h0M145 181h0M109 229h0M79 131h0M75 138h0M126 112h0M97 239h0M108 226h0M74 235h0M114 165h0" stroke="#8a8a8a" stroke-width="5.85"/><path class="i" d="M89 186h0M126 194h0M82 205h0M137 101h0M68 171h0M200 190h0M139 168h0M184 148h0M188 116h0M139 123h0M116 110h0M104 177h0M183 207h0M133 110h0M90 143h0M145 209h0M140 104h0M42 190h0M163 119h0M128 231h0M123 173h0M75 126h0M74 191h0M202 154h0M120 187h0M90 192h0M109 200h0M63 123h0M112 170h0M212 153h0M97 192h0M46 162h0M86 98h0M175 185h0M72 112h0M140 204h0M127 122h0M134 122h0M115 176h0M56 189h0M54 169h0M163 190h0M167 228h0M73 165h0M89 191h0M124 221h0M96 109h0M126 229h0M105 139h0M132 236h0M52 119h0M129 182h0M176 141h0M126 137h0M145 162h0M88 156h0M114 101h0M92 133h0M48 212h0M113 159h0M156 156h0M182 121h0M198 137h0M52 204h0M60 195h0M103 198h0M88 219h0M133 174h0M169 182h0M112 104h0M135 154h0M82 216h0M43 189h0M86 231h0M106 163h0M183 205h0M82 224h0M107 243h0M100 161h0M183 140h0M132 174h0M161 201h0M147 126h0M92 143h0M61 197h0M137 92h0M63 187h0M127 149h0M113 216h0M149 119h0M63 110h0M58 150h0M203 173h0M99 163h0M161 153h0M169 169h0M148 145h0M140 121h0M178 96h0M129 148h0M164 118h0M147 180h0M86 180h0M70 221h0M96 196h0M198 154h0M90 208h0M187 207h0M132 196h0M169 131h0M143 165h0M130 220h0M91 212h0M171 124h0M190 197h0M185 220h0M145 181h0M109 229h0M79 131h0M75 138h0M126 112h0M97 239h0M108 226h0M74 235h0M114 165h0" stroke="#ececec" stroke-width="4.10"/><path class="o" d="M130 213h0M136 125h0M105 144h0M50 131h0M123 222h0M123 120h0M75 168h0M175 136h0M41 169h0M60 227h0M186 134h0M179 113h0M110 231h0M69 107h0M188 116h0M195 121h0M147 172h0M93 147h0M121 92h0M63 108h0M114 214h0M95 132h0M111 185h0M71 150h0M182 201h0M88 119h0M118 92h0M114 178h0M167 152h0M79 122h0M63 230h0M186 158h0M122 226h0M103 160h0M72 158h0M68 106h0M112 167h0M192 139h0M198 192h0M130 149h0M78 184h0M179 217h0M107 120h0M127 91h0M165 191h0M195 156h0M97 188h0M40 175h0M124 194h0M166 100h0M51 142h0M205 192h0M56 204h0M170 161h0M92 224h0M91 229h0M188 184h0M108 199h0M91 118h0M104 178h0M78 195h0M70 206h0M77 193h0M151 219h0M171 173h0M135 203h0M105 177h0M118 185h0M100 193h0M85 207h0M83 182h0M139 149h0M59 143h0M119 126h0M122 193h0M126 212h0M144 154h0M122 206h0M136 227h0M67 162h0M70 187h0M174 99h0M171 189h0M80 181h0M133 100h0M151 208h0M191 116h0M114 102h0M110 94h0M140 198h0M63 151h0M181 232h0M200 137h0M185 166h0M137 110h0M111 127h0M134 180h0M172 189h0M75 142h0M74 202h0M80 149h0M121 111h0M134 154h0M49 169h0M159 141h0M87 105h0M119 176h0M163 195h0M105 233h0M158 117h0M71 225h0M129 185h0M165 226h0M162 151h0M49 130h0M87 113h0M92 112h0M144 136h0M160 171h0M161 179h0M187 161h0M128 148h0M78 208h0M186 111h0M67 124h0M132 167h0M89 97h0M133 201h0M69 163h0M100 204h0M149 211h0M74 163h0M179 117h0M76 148h0M102 175h0M152 208h0M175 183h0M54 192h0M96 210h0M167 140h0M106 195h0M168 163h0M136 96h0" stroke="#c8b432" stroke-width="4.80"/><path class="i" d="M130 213h0M136 125h0M105 144h0M50 131h0M123 222h0M123 120h0M75 168h0M175 136h0M41 169h0M60 227h0M186 134h0M179 113h0M110 231h0M69 107h0M188 116h0M195 121h0M147 172h0M93 147h0M121 92h0M63 108h0M114 214h0M95 132h0M111 185h0M71 150h0M182 201h0M88 119h0M118 92h0M114 178h0M167 152h0M79 122h0M63 230h0M186 158h0M122 226h0M103 160h0M72 158h0M68 106h0M112 167h0M192 139h0M198 192h0M130 149h0M78 184h0M179 217h0M107 120h0M127 91h0M165 191h0M195 156h0M97 188h0M40 175h0M124 194h0M166 100h0M51 142h0M205 192h0M56 204h0M170 161h0M92 224h0M91 229h0M188 184h0M108 199h0M91 118h0M104 178h0M78 195h0M70 206h0M77 193h0M151 219h0M171 173h0M135 203h0M105 177h0M118 185h0M100 193h0M85 207h0M83 182h0M139 149h0M59 143h0M119 126h0M122 193h0M126 212h0M144 154h0M122 206h0M136 227h0M67 162h0M70 187h0M174 99h0M171 189h0M80 181h0M133 100h0M151 208h0M191 116h0M114 102h0M110 94h0M140 198h0M63 151h0M181 232h0M200 137h0M185 166h0M137 110h0M111 127h0M134 180h0M172 189h0M75 142h0M74 202h0M80 149h0M121 111h0M134 154h0M49 169h0M159 141h0M87 105h0M119 176h0M163 195h0M105 233h0M158 117h0M71 225h0M129 185h0M165 226h0M162 151h0M49 130h0M87 113h0M92 112h0M144 136h0M160 171h0M161 179h0M187 161h0M128 148h0M78 208h0M186 111h0M67 124h0M132 167h0M89 97h0M133 201h0M69 163h0M100 204h0M149 211h0M74 163h0M179 117h0M76 148h0M102 175h0M152 208h0M175 183h0M54 192h0M96 210h0M167 140h0M106 195h0M168 163h0M136 96h0" stroke="#f2dc3c" stroke-width="4.10"/><path class="o" d="M206 173h0M52 185h0M137 170h0M137 178h0M153 174h0M102 169h0M86 86h0M164 180h0M72 105h0M134 189h0M193 178h0M161 173h0M60 209h0M175 228h0M185 179h0M146 232h0M150 163h0M104 93h0M209 168h0M167 234h0M159 172h0M176 170h0M180 158h0M144 224h0M122 114h0M183 135h0M176 132h0M126 91h0M132 93h0M80 156h0M157 213h0M82 171h0M176 233h0M171 160h0M181 181h0M159 94h0M203 178h0M167 139h0M176 95h0M103 199h0M179 159h0M143 167h0M106 211h0M115 190h0M141 194h0M182 149h0M183 112h0M183 143h0M100 189h0M109 218h0M156 233h0M197 200h0M133 178h0M198 192h0M150 116h0M204 199h0M204 203h0M168 232h0M69 115h0M152 130h0M142 154h0M73 152h0M196 146h0M125 184h0M193 133h0M175 90h0M192 138h0M155 235h0M137 196h0" stroke="#d42a3a" stroke-width="4.80"/><path class="i" d="M206 173h0M52 185h0M137 170h0M137 178h0M153 174h0M102 169h0M86 86h0M164 180h0M72 105h0M134 189h0M193 178h0M161 173h0M60 209h0M175 228h0M185 179h0M146 232h0M150 163h0M104 93h0M209 168h0M167 234h0M159 172h0M176 170h0M180 158h0M144 224h0M122 114h0M183 135h0M176 132h0M126 91h0M132 93h0M80 156h0M157 213h0M82 171h0M176 233h0M171 160h0M181 181h0M159 94h0M203 178h0M167 139h0M176 95h0M103 199h0M179 159h0M143 167h0M106 211h0M115 190h0M141 194h0M182 149h0M183 112h0M183 143h0M100 189h0M109 218h0M156 233h0M197 200h0M133 178h0M198 192h0M150 116h0M204 199h0M204 203h0M168 232h0M69 115h0M152 130h0M142 154h0M73 152h0M196 146h0M125 184h0M193 133h0M175 90h0M192 138h0M155 235h0M137 196h0" stroke="#e52a3c" stroke-width="4.10"/></g><path d="M111 180L50 155M158 171L177 104M148 151L109 183M175 100L147 98M158 202L76 167M189 148L162 159M189 122L171 167M56 103L114 86M129 234L164 177M127 100L166 93M90 162L158 197M103 127L55 142M199 135L168 111M137 140L166 93M173 147L133 212M128 125L209 159M114 102L55 164M133 100L76 103M46 169L120 208M66 119L133 99M70 93L78 124M157 218L152 173M148 119L143 158M114 212L198 192M159 200L155 119M59 152L102 105M108 134L155 107M98 235L56 202M74 149L131 112M134 164L127 131M146 138L98 117M95 190L49 141M139 175L90 149M163 140L184 212M109 105L142 136M159 201L205 130M158 193L141 114M164 215L178 169M77 224L108 152M92 162L94 186M61 197L122 146M183 97L162 160M77 179L136 187M155 185L107 120M131 218L106 219M190 150L161 211M125 182L180 197M103 127L126 105M130 126L120 194M86 114L152 111M153 106L159 111M59 152L100 98M182 217L174 197M131 218L77 224M128 243L137 207M109 230L161 233M111 127L135 166M166 120L117 146M196 134L134 195M105 186L87 105M143 215L86 186M146 215L144 224M162 174L129 175M207 187L186 212M75 190L129 182M109 219L75 154M171 189L142 118M143 165L149 213M106 163L113 201M101 108L150 105M61 153L84 161M133 170L192 195M199 158L128 105M158 233L92 222M127 182L169 164M87 229L163 195M181 148L158 193M193 199L148 146M170 113L136 169M122 186L124 194M113 223L177 183M143 158L147 171M111 229L85 207M151 138L171 145M160 103L151 187M207 187L133 212M160 103L144 101M144 120L176 154M157 210L166 179M127 137L133 201M124 164L101 128M104 128L160 108M104 173L88 112M94 123L94 207M74 186L49 169M150 187L195 191M93 104L112 127M140 211L107 149M132 107L102 128M137 134L105 133M163 97L152 173M165 235L176 184M164 196L186 227M50 151L87 100M55 132L54 131M112 165L148 106M126 104L107 118M158 193L203 185M88 161L77 160M158 141L194 154M150 116L196 152M81 176L137 130M129 204L167 152M121 158L123 173M78 120L104 178M145 207L61 178M101 142L177 139M152 99L130 126M51 190L72 190M128 176L195 203M103 198L99 163M103 169L158 150M140 196L130 118M95 199L51 131M88 200L121 158M111 235L142 229M164 158L121 109M87 123L128 125M85 140L170 122M189 192L138 187M148 211L154 226M150 116L194 153M60 180L56 200M158 138L71 136M147 176L119 134M127 129L50 172M171 109L156 176M143 231L141 176M120 194L158 211M106 195L55 208M146 179L114 226M167 139L146 119M61 197L90 157M138 102L105 142M173 207L129 148M41 145L47 176M103 160L52 134M115 190L77 160M166 100L188 125M125 166L76 176M165 226L120 157M176 141L191 220M164 174L203 166M119 209L161 183M82 139L76 167M66 133L106 91M41 131L102 175M81 213L85 194M52 119L72 196M80 181L113 107M88 219L55 196M97 179L141 202M141 218L133 201M150 92L157 171M119 126L143 206M121 109L45 128M49 121L77 160M184 212L163 236M92 171L126 169M144 120L83 100M172 202L148 211M144 140L123 193M151 157L204 127M171 203L145 162M127 149L143 142M163 162L188 200M52 166L93 110M96 189L60 227M126 102L196 122M161 195L84 222M49 130L46 196M137 196L134 152M170 113L136 170M87 229L138 217M156 178L206 173M65 127L152 130M155 202L100 210M74 118L73 138M112 192L56 136M134 158L129 179M125 188L135 166M92 155L103 165M174 133L201 211M122 121L165 110M136 167L93 110M81 152L72 169M123 194L109 107M146 144L184 212M128 156L62 202M88 108L104 135M78 204L85 119M196 167L171 109M61 172L63 129M140 200L176 131M83 226L62 146M52 192L79 135M155 192L183 143M137 196L129 179M158 174L203 189M119 176L163 138M100 98L111 175M99 104L146 144M173 100L192 125M131 159L125 206M65 183L126 212M142 189L125 234M128 231L198 192M87 212L159 202M95 183L133 136M150 105L156 156M206 134L190 197M201 122L143 142M125 166L141 178M198 154L142 188M60 180L125 146M178 168L158 117M166 120L168 140M164 226L198 213M159 141L144 113M106 158L91 232M141 92L80 149M99 203L69 181M75 154L78 204M93 134L96 205M125 146L52 134M113 228L153 214M126 105L79 131M141 149L149 183M132 162L151 103M97 188L157 208M153 116L152 115M197 143L151 216M163 236L122 206M196 122L176 186M82 147L91 229M87 198L134 179M101 167L82 192M86 231L128 176M133 97L141 93M105 186L141 133M140 121L70 171M161 187L178 168M159 163L113 223M189 122L159 117M114 89L87 147M86 114L62 145M168 232L136 227M96 138L46 196M118 153L84 207M193 103L186 106M126 100L181 166M78 231L124 213M140 110L196 146M129 189L192 180M161 187L108 166M122 173L167 155M122 199L151 196M48 168L113 129M72 105L67 162M121 240L95 158M152 130L71 150M165 236L159 200M61 178L81 161M107 212L52 156M152 129L160 206M159 223L117 202M105 146L47 206M193 157L141 149M162 226L164 218M139 175L103 127M102 176L126 194M125 131L51 167M48 190L90 202M123 161L64 120M109 183L181 219M82 174L95 190M148 228L106 216M71 142L136 167M121 140L126 137M146 232L121 153M195 156L145 161M102 226L155 202M125 185L88 219M109 230L115 192M155 168L136 120M97 119L129 202M131 169L76 106M176 222L137 196M144 98L149 167M159 141L148 138M67 186L88 226M102 230L100 167M152 111L174 99M88 144L166 134M126 180L114 147M147 225L155 168M125 171L66 165M72 152L54 211M171 126L151 197M150 116L105 142M146 146L152 99M178 168L187 182M122 226L176 173M174 131L147 172M40 175L118 216M116 159L83 177M104 110L84 165M134 164L144 107M125 184L79 121M136 206L104 123M66 139L91 118M156 176L175 90M89 208L92 196M90 155L132 93M158 211L175 228M68 171L104 123M73 127L141 170M100 164L134 133M164 196L174 153M59 152L92 129M76 176L116 160M173 162L198 158M104 128L56 189M46 170L97 192M101 141L46 132M141 199L159 141M82 108L152 117M176 186L106 232M148 101L147 134M116 192L122 186M150 104L144 98M177 170L151 199M161 201L109 131M111 137L138 145M86 231L118 206M129 152L97 138M179 150L138 223M184 173L117 146M177 166L192 224M67 139L57 155M91 165L62 203M104 128L127 132M136 96L68 98M191 111L122 150M46 162L110 127M114 178L101 117M113 223L121 153M59 143L56 112M140 235L161 153M51 141L134 122M152 130L139 102M161 173L133 212M129 179L147 108M119 209L164 218M114 214L159 194M126 205L92 127M175 185L179 113M97 153L150 163M162 227L177 151M145 183L149 194M73 201L105 175M85 192L143 167M161 211L184 217M109 216L137 138M159 134L148 208M184 151L158 141M164 227L166 218M131 211L193 178M111 180L133 154M143 133L107 91M143 158L166 134M109 106L122 186M142 215L147 127M196 189L196 184M144 136L102 116M123 160L147 172M160 232L122 197M156 227L163 236M148 138L150 105M177 198L197 143M66 165L147 127M86 134L112 175M155 112L157 199M68 130L97 134M206 134L169 179M82 171L143 158M81 127L49 130M52 147L104 128M190 197L155 211M46 170L94 103M97 99L119 111M136 156L121 109M70 165L107 174M87 221L53 165M184 145L118 190M137 138L59 161M173 154L95 110M90 135L122 206M93 110L134 126M50 151L133 136M174 214L183 207M85 234L54 158M144 95L138 165M166 199L172 202M187 206L128 147M81 161L136 167M92 136L94 139M188 156L210 155M83 182L146 138M66 154L56 182M86 231L89 220M110 161L82 192M184 109L196 133M105 139L173 194M63 110L110 120M46 159L112 127M86 231L165 195M203 178L167 156M82 214L147 173M65 216L92 202M134 164L53 127M81 181L104 238M135 154L155 112M144 224L107 145M49 130L70 109M65 134L116 110M160 115L204 154M167 140L124 187M144 124L187 147M161 173L82 174M109 159L74 177M106 158L185 140M125 206L130 126M96 189L79 135M186 212L187 127M75 124L61 195M77 118L126 174M113 185L162 120M101 156L100 126M50 151L130 149M198 145L135 108M95 126L85 207M148 144L142 129M78 196L71 148M146 215L122 145M118 92L71 152M78 120L100 152M169 178L172 176M150 105L150 92M125 171L187 199M123 161L54 158M132 167L132 162M73 206L102 177M78 195L124 218M149 160L168 122M184 205L166 179M176 233L157 158M111 234L168 202M101 117L61 115M137 170L206 134M116 185L125 146M61 126L60 110M188 164L189 164M117 161L139 123M127 122L50 131M131 92L166 93M170 215L186 215M110 213L113 174M153 233L89 216M83 100L79 162M122 216L111 127M181 191L121 168M134 180L71 119M160 110L90 134M96 127L139 99M112 235L80 234M121 168L164 158M113 193L184 145M147 171L119 138M79 202L77 193M71 134L83 223M112 143L133 201M111 106L109 107M124 213L111 195M69 195L122 127M57 186L116 170M123 130L171 167M66 157L79 188M103 236L65 174M54 192L120 194M122 145L175 166M82 207L106 137M109 219L67 166M162 159L113 182M147 171L165 236M178 111L149 122M129 110L173 147M120 182L100 203M102 128L73 184M168 115L99 159M76 167L86 231M71 150L103 134M135 156L203 189M85 116L137 122M40 174L94 144M78 196L68 147M152 117L145 164M128 198L148 174M161 153L119 126M56 202L66 196M125 146L72 190M151 206L195 203M90 134L77 100M122 173L114 179M129 202L76 203M176 170L117 192M80 157L158 150M140 158L163 97M110 158L59 182M113 209L92 209M169 209L186 134M105 223L148 211M61 164L50 131M205 163L150 167M147 126L85 154M160 174L197 200M143 182L151 206M41 169L110 168M58 191L86 231M55 189L41 169M103 165L74 154M180 193L99 164M164 177L184 205M130 118L95 110M148 163L155 202M110 161L99 127M115 224L87 212M137 92L126 105M133 173L107 174M60 168L122 150M59 143L109 120M180 158L174 106M112 209L145 199M204 134L142 129M90 135L100 145M119 173L116 126M104 176L84 175M143 185L148 230M162 133L176 217M87 221L109 219M182 217L200 148M94 174L166 132M140 133L161 111M126 151L69 114M78 204L82 147M195 156L186 157M52 204L39 159M111 195L183 194M116 207L74 138M119 103L56 104M110 120L59 161" stroke="#999999" stroke-width="0.4" stroke-opacity="0.42"/><g opacity="0.74"><path class="o" d="M61 164h0M154 221h0M67 203h0M114 155h0M211 185h0M147 225h0M130 123h0M56 182h0M60 161h0M136 105h0M84 103h0M114 226h0M183 194h0M70 220h0M152 99h0M169 218h0M131 189h0M148 230h0M49 145h0M173 199h0M113 121h0M196 152h0M122 150h0M132 235h0M69 120h0M64 158h0M66 159h0M188 169h0M122 216h0M158 174h0M106 202h0M104 131h0M116 160h0M99 233h0M148 186h0M145 129h0M61 195h0M172 202h0M95 142h0M101 195h0M204 134h0M181 162h0M61 115h0M85 207h0M68 178h0M192 145h0M141 185h0M142 150h0M101 180h0M146 185h0M172 129h0M99 176h0M90 162h0M133 99h0M85 194h0M85 190h0M159 134h0M47 153h0M78 238h0M167 108h0M201 199h0M68 210h0M47 176h0M96 162h0M129 234h0M192 194h0M61 166h0M82 114h0M92 129h0M143 159h0M110 127h0M198 153h0M133 212h0M62 123h0M66 165h0M83 100h0M108 100h0M124 187h0M68 211h0M73 185h0M126 94h0M72 117h0M58 164h0M152 202h0M154 229h0M119 103h0M54 131h0M87 143h0M74 119h0M118 206h0M162 218h0M93 142h0M100 145h0M85 182h0M191 208h0M101 117h0M149 213h0M76 148h0M112 93h0M89 151h0M52 192h0M208 171h0M125 166h0" stroke="#8a8a8a" stroke-width="5.85"/><path class="i" d="M61 164h0M154 221h0M67 203h0M114 155h0M211 185h0M147 225h0M130 123h0M56 182h0M60 161h0M136 105h0M84 103h0M114 226h0M183 194h0M70 220h0M152 99h0M169 218h0M131 189h0M148 230h0M49 145h0M173 199h0M113 121h0M196 152h0M122 150h0M132 235h0M69 120h0M64 158h0M66 159h0M188 169h0M122 216h0M158 174h0M106 202h0M104 131h0M116 160h0M99 233h0M148 186h0M145 129h0M61 195h0M172 202h0M95 142h0M101 195h0M204 134h0M181 162h0M61 115h0M85 207h0M68 178h0M192 145h0M141 185h0M142 150h0M101 180h0M146 185h0M172 129h0M99 176h0M90 162h0M133 99h0M85 194h0M85 190h0M159 134h0M47 153h0M78 238h0M167 108h0M201 199h0M68 210h0M47 176h0M96 162h0M129 234h0M192 194h0M61 166h0M82 114h0M92 129h0M143 159h0M110 127h0M198 153h0M133 212h0M62 123h0M66 165h0M83 100h0M108 100h0M124 187h0M68 211h0M73 185h0M126 94h0M72 117h0M58 164h0M152 202h0M154 229h0M119 103h0M54 131h0M87 143h0M74 119h0M118 206h0M162 218h0M93 142h0M100 145h0M85 182h0M191 208h0M101 117h0M149 213h0M76 148h0M112 93h0M89 151h0M52 192h0M208 171h0M125 166h0" stroke="#ececec" stroke-width="4.10"/><path class="o" d="M171 173h0M184 212h0M104 123h0M184 111h0M102 116h0M165 235h0M170 223h0M196 210h0M154 129h0M101 128h0M103 126h0M106 190h0M54 116h0M59 142h0M78 204h0M73 142h0M151 103h0M101 156h0M132 200h0M150 198h0M77 160h0M86 134h0M163 162h0M114 147h0M115 227h0M69 124h0M153 169h0M175 210h0M137 188h0M68 201h0M110 116h0M113 182h0M50 166h0M74 173h0M155 112h0M67 205h0M162 231h0M56 146h0M179 157h0M106 216h0M171 101h0M81 161h0M101 119h0M162 160h0M151 196h0M183 181h0M164 196h0M179 156h0M137 209h0M66 177h0M167 155h0M166 120h0M53 176h0M196 192h0M62 162h0M83 207h0M158 106h0M158 150h0M85 170h0M148 188h0M104 110h0M111 101h0M135 172h0M147 93h0M156 178h0M107 97h0M113 130h0M60 152h0M112 127h0M49 129h0M145 202h0M60 182h0M108 134h0M187 127h0M127 102h0M55 142h0M47 206h0M92 104h0M181 180h0M94 186h0M166 199h0M111 150h0M103 145h0M141 166h0M154 195h0M50 131h0M120 235h0M76 114h0M125 236h0M188 200h0M151 122h0M125 185h0M187 182h0M150 105h0M164 226h0M135 236h0M92 149h0M83 188h0M151 85h0M139 226h0M153 233h0M148 138h0M71 201h0M109 233h0M137 140h0M167 101h0M128 125h0M141 202h0M144 123h0M64 144h0M58 191h0M162 166h0M111 180h0M128 105h0M50 187h0M161 173h0M117 124h0M102 156h0M151 108h0M168 154h0M134 217h0M102 88h0M80 89h0M194 153h0M155 119h0M49 158h0M202 140h0M82 108h0M108 228h0M101 137h0M80 127h0M171 116h0M153 106h0M164 218h0M82 141h0M48 168h0M84 207h0M65 174h0M74 193h0M117 207h0M109 188h0M176 177h0M95 110h0M126 100h0M157 230h0M127 126h0M115 171h0M60 141h0M147 227h0M137 95h0" stroke="#c8b432" stroke-width="4.80"/><path class="i" d="M171 173h0M184 212h0M104 123h0M184 111h0M102 116h0M165 235h0M170 223h0M196 210h0M154 129h0M101 128h0M103 126h0M106 190h0M54 116h0M59 142h0M78 204h0M73 142h0M151 103h0M101 156h0M132 200h0M150 198h0M77 160h0M86 134h0M163 162h0M114 147h0M115 227h0M69 124h0M153 169h0M175 210h0M137 188h0M68 201h0M110 116h0M113 182h0M50 166h0M74 173h0M155 112h0M67 205h0M162 231h0M56 146h0M179 157h0M106 216h0M171 101h0M81 161h0M101 119h0M162 160h0M151 196h0M183 181h0M164 196h0M179 156h0M137 209h0M66 177h0M167 155h0M166 120h0M53 176h0M196 192h0M62 162h0M83 207h0M158 106h0M158 150h0M85 170h0M148 188h0M104 110h0M111 101h0M135 172h0M147 93h0M156 178h0M107 97h0M113 130h0M60 152h0M112 127h0M49 129h0M145 202h0M60 182h0M108 134h0M187 127h0M127 102h0M55 142h0M47 206h0M92 104h0M181 180h0M94 186h0M166 199h0M111 150h0M103 145h0M141 166h0M154 195h0M50 131h0M120 235h0M76 114h0M125 236h0M188 200h0M151 122h0M125 185h0M187 182h0M150 105h0M164 226h0M135 236h0M92 149h0M83 188h0M151 85h0M139 226h0M153 233h0M148 138h0M71 201h0M109 233h0M137 140h0M167 101h0M128 125h0M141 202h0M144 123h0M64 144h0M58 191h0M162 166h0M111 180h0M128 105h0M50 187h0M161 173h0M117 124h0M102 156h0M151 108h0M168 154h0M134 217h0M102 88h0M80 89h0M194 153h0M155 119h0M49 158h0M202 140h0M82 108h0M108 228h0M101 137h0M80 127h0M171 116h0M153 106h0M164 218h0M82 141h0M48 168h0M84 207h0M65 174h0M74 193h0M117 207h0M109 188h0M176 177h0M95 110h0M126 100h0M157 230h0M127 126h0M115 171h0M60 141h0M147 227h0M137 95h0" stroke="#f2dc3c" stroke-width="4.10"/><path class="o" d="M148 211h0M187 110h0M100 217h0M93 110h0M135 194h0M144 107h0M96 230h0M82 192h0M166 221h0M169 209h0M184 145h0M162 101h0M166 216h0M166 175h0M153 194h0M184 205h0M176 218h0M52 217h0M87 132h0M141 218h0M150 104h0M67 139h0M184 143h0M178 137h0M155 188h0M199 158h0M97 210h0M183 107h0M137 138h0M157 115h0M126 180h0M70 93h0M107 102h0M177 202h0M176 222h0M97 134h0M154 210h0M130 136h0M110 215h0M136 162h0M183 97h0M203 158h0M148 228h0M187 148h0M204 127h0M172 154h0M108 193h0M147 189h0M117 203h0M133 124h0M185 108h0M120 157h0M146 149h0M148 188h0M176 154h0M106 126h0M157 221h0M183 212h0M57 202h0M144 201h0M143 185h0M191 111h0M155 107h0M158 205h0M87 228h0M126 144h0M165 138h0M149 126h0M154 156h0M201 173h0M199 165h0M158 138h0M122 197h0M162 142h0M163 195h0M149 85h0M102 226h0M100 225h0M170 213h0M173 198h0M201 175h0M199 135h0M111 175h0M179 208h0" stroke="#d42a3a" stroke-width="4.80"/><path class="i" d="M148 211h0M187 110h0M100 217h0M93 110h0M135 194h0M144 107h0M96 230h0M82 192h0M166 221h0M169 209h0M184 145h0M162 101h0M166 216h0M166 175h0M153 194h0M184 205h0M176 218h0M52 217h0M87 132h0M141 218h0M150 104h0M67 139h0M184 143h0M178 137h0M155 188h0M199 158h0M97 210h0M183 107h0M137 138h0M157 115h0M126 180h0M70 93h0M107 102h0M177 202h0M176 222h0M97 134h0M154 210h0M130 136h0M110 215h0M136 162h0M183 97h0M203 158h0M148 228h0M187 148h0M204 127h0M172 154h0M108 193h0M147 189h0M117 203h0M133 124h0M185 108h0M120 157h0M146 149h0M148 188h0M176 154h0M106 126h0M157 221h0M183 212h0M57 202h0M144 201h0M143 185h0M191 111h0M155 107h0M158 205h0M87 228h0M126 144h0M165 138h0M149 126h0M154 156h0M201 173h0M199 165h0M158 138h0M122 197h0M162 142h0M163 195h0M149 85h0M102 226h0M100 225h0M170 213h0M173 198h0M201 175h0M199 135h0M111 175h0M179 208h0" stroke="#e52a3c" stroke-width="4.10"/></g><path d="M100.5 40.5L90.3 49.9M90.3 49.9L105.6 55.7M105.6 55.7L109.4 67.1M134.2 45.7L149.4 57.5M149.4 57.5L143.5 68.9M150.8 57.5L143.5 68.9M26.6 62.2L41.3 76M41.3 76L54.4 91.4M41.3 76L87 113M24.5 87.5L41.3 76M54.4 91.4L57.3 97.6M57.3 97.6L56 103M57.3 97.6L102 113M63.3 93.5L68 98M70 87.9L70 93M76.2 87.2L80 89M68.3 98.2L71 101M70.9 96.4L71 101M76.2 95.9L77 100M92.8 67.5L92.8 71M109.4 67.1L113.1 72.3M92.8 71L94.5 75.4M94.5 75.4L99 78.9M113.1 72.3L115.6 75.8M115.6 75.8L115.6 79.9M99 78.9L101 83M106.3 81L100 84M115.6 79.9L113.1 84.1M115.6 79.9L86 86M131.8 67.1L135.5 70.2M135.5 70.2L131.1 75.8M143 68.9L147.7 73.3M131.1 75.8L132.8 79.3M132.8 79.3L134.2 84.5M143 81.4L143 86M143 81.4L144 123M138 84.5L138 88M147.7 73.3L143.5 81.3M134.2 84.5L130 86M84.5 81.4L86.6 83M86.6 83L86 86M85.5 90.9L87 95M83.9 85.1L86 86M91.8 87.2L89 94M91.8 87.2L137 122M103.2 88.2L101.1 90.9M101.1 90.9L104 93M101.1 90.9L60 144M106.9 90.9L104 93M116 89.7L116 92M119.3 89.2L118 92M119.3 89.2L61 115M120.8 83.7L125 86M125.5 87.2L126 91M113.1 84.1L114 86M111.5 78.5L115.6 79.9M111.5 78.5L128 91M143.5 68.9L147.7 73.3M148.3 73L143.5 81.3M158.6 72.8L148.3 73M158.6 72.8L105 104M171.7 74.1L158.6 72.8M179.3 74.1L171.7 74.1M143.5 81.3L143 86M148.9 86.9L145 88M160.7 85.9L156 92M145.2 91.5L144 95M145.2 91.5L149 85M142.5 95.8L141 97M151.8 93.7L154.1 98.3M155.5 93.1L151.8 93.7M154.1 98.3L152 99M160.1 93.7L160 95M160.7 97.2L162 101M174.1 92.1L176 95M179.3 96.6L175 100M168.6 98.3L166 100M174.1 92.5L170 91M179.7 96.8L175 100M189.6 104.5L186 106M180.3 113.8L178 113M190.5 112.4L189 114M197.3 115.5L195 121M217.6 113.4L209.1 119.6M209.1 119.6L205.6 124.8M184.2 120L182 121M180.1 121.5L180 124M176.6 124.8L172 124M176.6 124.8L155 119M167.3 121.5L165 121M195.2 123.6L193 124M195.2 123.6L194 139M202.1 124.2L199 123M205.6 124.8L204 127M184.9 126.9L180 124M195.9 129.4L195 132M195.9 129.4L190 150M192.1 125.6L188 125M207.3 131L205 130M202.5 134.6L201 137M195.6 134.6L193 134M178.7 136.6L177 139M187.6 132.1L186 133M213.5 137.3L211 143M190 138.7L189 139M184.5 137.3L182 138M199.4 139.7L198 139M222.2 146.6L211 143M222.2 146.6L163 123M229 151.1L222.2 146.6M229 151.1L167 195M211.8 152.2L210 155M202.5 151.1L199 151M200.4 146.6L198 145M206.6 149.1L203 150M234.2 160.8L230.9 166.2M234.2 160.8L198 153M230.9 166.2L224.9 168.7M224.9 168.7L210.4 171.1M229.4 151.7L222.2 146.6M203.1 151.7L202 154M209.7 162.8L205 163M207.7 168.7L206 173M207.7 168.7L165 138M208.3 174.9L206 173M210.4 171.1L208 171M200.4 181.1L198 179M209.7 186.3L207 187M221.6 188.8L216.1 194M221.6 188.8L198 192M209.3 193.5L205 192M216 193.9L209.5 194M219.7 195.6L216.1 194M219.7 195.6L176 222M222.6 199.7L220.1 195.9M221.1 204.9L220.1 195.9M223.6 212.2L221.3 205.4M212.8 210.5L206 205M202.5 203.5L201 199M203.5 187.7L203 185M203.9 196L201 199M198.3 191.5L197 190M186.5 189.4L184 190M192.5 197.7L190 198M192.1 193.5L190 192M184.9 216.3L183 216M198.3 217.4L197 217M200.4 215.9L197 215M200.4 215.9L175 164M189 213.8L186 215M189 213.8L141 197M180.7 205.5L182 201M182.8 202.8L182 201M190.7 204.9L188 205M209.5 194L205 192M216.1 194L209.5 194M216.1 194L176 132M204.3 195.9L201 199M220.1 195.9L216.1 194M223 199.9L220.1 195.9M202.8 203.7L201 199M221.3 205.4L220.1 195.9M213 210.8L206 205M223.7 212.5L221.3 205.4M201.2 216L198.3 217.4M222 225.5L223.7 212.5M250.2 227.2L222 225.5M264.4 234.5L250.2 227.2M261.5 239.2L250.2 227.2M200 242.1L187.5 237M227.7 246.1L222 225.5M240.7 254.4L227.7 246.1M238.3 258.6L227.7 246.1M203.2 203.6L201 205M200.2 216.3L197 217M198.2 218.3L197 217M189.3 232L186 228M192.8 227.2L192 224M187.5 237L189.3 232M186.3 241.4L187.5 237M198.8 242L187.5 237M196.4 245.9L198.8 242M172.7 234.9L168 232M172.7 234.9L203 169M167.7 239.3L165 236M167.7 239.3L201 211M155.9 240.8L156 239M160.3 244.4L155.9 240.8M167.7 244.4L167.7 239.3M170.7 250.3L167.7 244.4M175.1 254.7L170.7 250.3M178.9 268L175.1 254.7M161.8 254.7L154.4 254.1M161.8 254.7L153 194M154.4 254.1L149.9 251.8M149.9 251.8L147 247.9M147 247.9L145.5 243.8M145.5 243.8L144 242M132.2 242.9L133 240M132.2 242.9L159 205M128.3 251.8L128 243M131.3 257.7L128.3 251.8M140.2 254.7L147 247.9M137.5 262.1L131.3 257.7M137.5 262.1L126 184M152.3 271L154.4 254.1M135.1 280.5L137.5 262.1M124.2 294.1L135.1 280.5M117.4 273.4L131.3 257.7M114.4 240L117 239M118.9 245.9L120 242M111.5 241.4L114.4 240M108.7 250.3L109 243M108.7 250.3L141 218M116.9 273.3L131.3 257.7M89.2 251L90.2 249.9M89.2 251L121 209M91 257L88.2 254.3M88.1 245.6L88.8 244.6M73.9 252.7L74.6 247.5M67.9 236.8L69.5 232.1M69.7 238.6L74 235M53.7 243.9L61.5 233.6M48.4 224.4L54.1 223.3M50.2 213.7L52 212M39.5 206.6L45 206M37.7 196L42 190M27.1 191.4L32.5 199.6M11.8 176.5L14.8 178.9M16.3 174.4L20.7 175.9M20.7 175.9L25.1 176.5M12.4 181.2L14.8 178.9M18.3 183.3L22.2 182.4M22.2 182.4L25.1 176.5M25.1 176.5L34 184.2M25.1 176.5L67 138M14.8 178.9L16.3 174.4M7.4 192.2L12.4 181.2M27.5 191.3L34 184.2M32.5 199.6L37.7 196M34 184.2L42 190M39.3 207L45 206M37 209.1L39.3 207M49.7 212.9L52 212M48.8 224.1L54.1 223.3M52.7 201.1L56 202M45.3 193.7L48 190M45 200.2L46 198M45 200.2L88 199M54.1 223.3L57.7 220.3M57.7 220.3L59 216M56.2 228.6L60 227M61.5 233.6L63 230M69.5 232.1L73 233M68.6 238.6L67.9 236.8M53.8 244L61.5 233.6M77.8 227.7L78 225M74.6 247.5L78 238M74 252.2L74.6 247.5M88.8 244.6L88 239M90.2 249.9L88.1 245.6M88.2 254.3L89.2 251M91.1 257.3L88.2 254.3M82.8 239.5L85 237M94.7 241L97 239M105.9 242.5L104 238M102.1 246.9L100 243M102.1 246.9L59 216M88.8 238L85 234M57.5 97.8L56 103M45 104.5L49 106.1M49 106.1L56 104M45.4 111.6L52 113M5.2 118.7L13 121.7M2.8 123.4L10.7 125.3M13 121.7L23.2 128.8M10.7 125.3L23.2 128.8M10.7 125.3L50 156M9.9 128.6L23.2 128.8M23.2 128.8L28.4 128.8M28.4 128.8L34.3 127.4M34.3 127.4L40 131M34.3 127.4L95 149M41.4 127L44 128M41.4 127L52 173M23 137.1L28.4 128.8M28.4 146.6L35.5 147.1M9.5 155.8L20.1 171.2M9.5 155.8L81 140M35.5 147.1L38 146M33.1 156.1L34.3 155.4M31.5 157L33.1 156.1M34.3 155.4L39 159M42.6 158.9L46 159M52.1 157L54 158M52.1 157L72 117M20.1 171.2L25.1 176.5M36.7 164.3L40 166M58.7 171.4L60 170M42.1 137.6L45 132.9M45 132.9L49 130M45 132.9L121 109M49.7 125.8L50 129M50.9 130L54 131M54.4 112.8L54 116M54.4 112.8L52 170M52.5 118.2L53 121M61.1 115.1L62 116M61.1 115.1L54 165" stroke="#c4c4c4" stroke-width="0.4"/><path class="o" d="M187.5 237h0M22.2 182.4h0M35.5 147.1h0M200.2 216.3h0M20.1 171.2h0M161.8 254.7h0M94.7 241h0M86.6 83h0M201.2 216h0M120.8 83.7h0M113.1 84.1h0M134.2 45.7h0M42.1 137.6h0M12.4 181.2h0M131.8 67.1h0M190.7 204.9h0M76.2 87.2h0M11.8 176.5h0M14.8 178.9h0" stroke="#8a8a8a" stroke-width="5.76"/><path class="i" d="M187.5 237h0M22.2 182.4h0M35.5 147.1h0M200.2 216.3h0M20.1 171.2h0M161.8 254.7h0M94.7 241h0M86.6 83h0M201.2 216h0M120.8 83.7h0M113.1 84.1h0M134.2 45.7h0M42.1 137.6h0M12.4 181.2h0M131.8 67.1h0M190.7 204.9h0M76.2 87.2h0M11.8 176.5h0M14.8 178.9h0" stroke="#ffffff" stroke-width="4.50"/><path class="o" d="M250.2 227.2h0M132.8 79.3h0M48.8 224.1h0M220.1 195.9h0M70.9 96.4h0M202.5 134.6h0M124.2 294.1h0M192.1 193.5h0M45.4 111.6h0M137.5 262.1h0M94.5 75.4h0M68.3 98.2h0M36.7 164.3h0M49 106.1h0M9.9 128.6h0M195.2 123.6h0M147.7 73.3h0M76.2 95.9h0M204.3 195.9h0M149.9 251.8h0M134.2 84.5h0M28.4 146.6h0M171.7 74.1h0M105.6 55.7h0M212.8 210.5h0M90.3 49.9h0M83.9 85.1h0" stroke="#c8b432" stroke-width="5.20"/><path class="i" d="M250.2 227.2h0M132.8 79.3h0M48.8 224.1h0M220.1 195.9h0M70.9 96.4h0M202.5 134.6h0M124.2 294.1h0M192.1 193.5h0M45.4 111.6h0M137.5 262.1h0M94.5 75.4h0M68.3 98.2h0M36.7 164.3h0M49 106.1h0M9.9 128.6h0M195.2 123.6h0M147.7 73.3h0M76.2 95.9h0M204.3 195.9h0M149.9 251.8h0M134.2 84.5h0M28.4 146.6h0M171.7 74.1h0M105.6 55.7h0M212.8 210.5h0M90.3 49.9h0M83.9 85.1h0" stroke="#f2dc3c" stroke-width="4.50"/><path class="o" d="M234.2 160.8h0M138 84.5h0M184.5 137.3h0M131.3 257.7h0M221.6 188.8h0M116.9 273.3h0M207.7 168.7h0M69.5 232.1h0M39.5 206.6h0M189.3 232h0M229 151.1h0M238.3 258.6h0M182.8 202.8h0M189.6 104.5h0M195.6 134.6h0M77.8 227.7h0M230.9 166.2h0M216 193.9h0M2.8 123.4h0M150.8 57.5h0M196.4 245.9h0M198.8 242h0M209.5 194h0M190.5 112.4h0M192.1 125.6h0M198.2 218.3h0M69.7 238.6h0M208.3 174.9h0M27.5 191.3h0M264.4 234.5h0M5.2 118.7h0M186.5 189.4h0M213.5 137.3h0M135.5 70.2h0M209.3 193.5h0M198.3 217.4h0M224.9 168.7h0M42.6 158.9h0M132.2 242.9h0M178.9 268h0M114.4 240h0M200.4 181.1h0M57.3 97.6h0M180.3 113.8h0" stroke="#d42a3a" stroke-width="5.20"/><path class="i" d="M234.2 160.8h0M138 84.5h0M184.5 137.3h0M131.3 257.7h0M221.6 188.8h0M116.9 273.3h0M207.7 168.7h0M69.5 232.1h0M39.5 206.6h0M189.3 232h0M229 151.1h0M238.3 258.6h0M182.8 202.8h0M189.6 104.5h0M195.6 134.6h0M77.8 227.7h0M230.9 166.2h0M216 193.9h0M2.8 123.4h0M150.8 57.5h0M196.4 245.9h0M198.8 242h0M209.5 194h0M190.5 112.4h0M192.1 125.6h0M198.2 218.3h0M69.7 238.6h0M208.3 174.9h0M27.5 191.3h0M264.4 234.5h0M5.2 118.7h0M186.5 189.4h0M213.5 137.3h0M135.5 70.2h0M209.3 193.5h0M198.3 217.4h0M224.9 168.7h0M42.6 158.9h0M132.2 242.9h0M178.9 268h0M114.4 240h0M200.4 181.1h0M57.3 97.6h0M180.3 113.8h0" stroke="#e52a3c" stroke-width="4.50"/><path class="o" d="M18.3 183.3h0M63.3 93.5h0M16.3 174.4h0M186.3 241.4h0M24.5 87.5h0M145.5 243.8h0M170.7 250.3h0M20.7 175.9h0M91.8 87.2h0M227.7 246.1h0M125.5 87.2h0M31.5 157h0M74.6 247.5h0M167.7 244.4h0M37 209.1h0M222 225.5h0M148.9 86.9h0M70 87.9h0M84.5 81.4h0" stroke="#8a8a8a" stroke-width="5.76"/><path class="i" d="M18.3 183.3h0M63.3 93.5h0M16.3 174.4h0M186.3 241.4h0M24.5 87.5h0M145.5 243.8h0M170.7 250.3h0M20.7 175.9h0M91.8 87.2h0M227.7 246.1h0M125.5 87.2h0M31.5 157h0M74.6 247.5h0M167.7 244.4h0M37 209.1h0M222 225.5h0M148.9 86.9h0M70 87.9h0M84.5 81.4h0" stroke="#ffffff" stroke-width="4.50"/><path class="o" d="M184.9 126.9h0M56.2 228.6h0M221.1 204.9h0M200.4 146.6h0M74 252.2h0M223 199.9h0M160.7 97.2h0M210.4 171.1h0M9.5 155.8h0M167.7 239.3h0M179.7 96.8h0M49.7 125.8h0M203.9 196h0M179.3 96.6h0M147 247.9h0M195.9 129.4h0M202.8 203.7h0M54.4 112.8h0M189 213.8h0M213 210.8h0M187.6 132.1h0M148.3 73h0M99 78.9h0M53.7 243.9h0M222.6 199.7h0M105.9 242.5h0M23.2 128.8h0M53.8 244h0" stroke="#c8b432" stroke-width="5.20"/><path class="i" d="M184.9 126.9h0M56.2 228.6h0M221.1 204.9h0M200.4 146.6h0M74 252.2h0M223 199.9h0M160.7 97.2h0M210.4 171.1h0M9.5 155.8h0M167.7 239.3h0M179.7 96.8h0M49.7 125.8h0M203.9 196h0M179.3 96.6h0M147 247.9h0M195.9 129.4h0M202.8 203.7h0M54.4 112.8h0M189 213.8h0M213 210.8h0M187.6 132.1h0M148.3 73h0M99 78.9h0M53.7 243.9h0M222.6 199.7h0M105.9 242.5h0M23.2 128.8h0M53.8 244h0" stroke="#f2dc3c" stroke-width="4.50"/><path class="o" d="M67.9 236.8h0M192.8 227.2h0M155.9 240.8h0M50.2 213.7h0M57.5 97.8h0M211.8 152.2h0M88.8 244.6h0M167.3 121.5h0M222.2 146.6h0M184.2 120h0M143 81.4h0M27.1 191.4h0M90.2 249.9h0M240.7 254.4h0M45 104.5h0M68.6 238.6h0M111.5 241.4h0M155.5 93.1h0M91.1 257.3h0M180.7 205.5h0M128.3 251.8h0M61.1 115.1h0M49.7 212.9h0M151.8 93.7h0M223.6 212.2h0M58.7 171.4h0M34.3 155.4h0M203.1 151.7h0M160.3 244.4h0M179.3 74.1h0M192.5 197.7h0M109.4 67.1h0M205.6 124.8h0M45.3 193.7h0M197.3 115.5h0M207.3 131h0M117.4 273.4h0M89.2 251h0M178.7 136.6h0M39.3 207h0M92.8 67.5h0M88.2 254.3h0M202.1 124.2h0" stroke="#d42a3a" stroke-width="5.20"/><path class="i" d="M67.9 236.8h0M192.8 227.2h0M155.9 240.8h0M50.2 213.7h0M57.5 97.8h0M211.8 152.2h0M88.8 244.6h0M167.3 121.5h0M222.2 146.6h0M184.2 120h0M143 81.4h0M27.1 191.4h0M90.2 249.9h0M240.7 254.4h0M45 104.5h0M68.6 238.6h0M111.5 241.4h0M155.5 93.1h0M91.1 257.3h0M180.7 205.5h0M128.3 251.8h0M61.1 115.1h0M49.7 212.9h0M151.8 93.7h0M223.6 212.2h0M58.7 171.4h0M34.3 155.4h0M203.1 151.7h0M160.3 244.4h0M179.3 74.1h0M192.5 197.7h0M109.4 67.1h0M205.6 124.8h0M45.3 193.7h0M197.3 115.5h0M207.3 131h0M117.4 273.4h0M89.2 251h0M178.7 136.6h0M39.3 207h0M92.8 67.5h0M88.2 254.3h0M202.1 124.2h0" stroke="#e52a3c" stroke-width="4.50"/><path class="o" d="M32.5 199.6h0M61.5 233.6h0M203.5 187.7h0M102.1 246.9h0M168.6 98.3h0M200.4 215.9h0M108.7 250.3h0M45 132.9h0M131.1 75.8h0M158.6 72.8h0M113.1 72.3h0M33.1 156.1h0M25.1 176.5h0M160.7 85.9h0M111.5 78.5h0M82.8 239.5h0" stroke="#8a8a8a" stroke-width="5.76"/><path class="i" d="M32.5 199.6h0M61.5 233.6h0M203.5 187.7h0M102.1 246.9h0M168.6 98.3h0M200.4 215.9h0M108.7 250.3h0M45 132.9h0M131.1 75.8h0M158.6 72.8h0M113.1 72.3h0M33.1 156.1h0M25.1 176.5h0M160.7 85.9h0M111.5 78.5h0M82.8 239.5h0" stroke="#ffffff" stroke-width="4.50"/><path class="o" d="M23 137.1h0M57.7 220.3h0M10.7 125.3h0M34.3 127.4h0M34 184.2h0M73.9 252.7h0M26.6 62.2h0M54.4 91.4h0M202.5 203.5h0M13 121.7h0M45 200.2h0M203.2 203.6h0M41.3 76h0M106.3 81h0M115.6 79.9h0M175.1 254.7h0M52.5 118.2h0M152.3 271h0M48.4 224.4h0M54.1 223.3h0M140.2 254.7h0M221.3 205.4h0M28.4 128.8h0M160.1 93.7h0M103.2 88.2h0M154.4 254.1h0M219.7 195.6h0M135.1 280.5h0M119.3 89.2h0M50.9 130h0M142.5 95.8h0M145.2 91.5h0M7.4 192.2h0M92.8 71h0" stroke="#c8b432" stroke-width="5.20"/><path class="i" d="M23 137.1h0M57.7 220.3h0M10.7 125.3h0M34.3 127.4h0M34 184.2h0M73.9 252.7h0M26.6 62.2h0M54.4 91.4h0M202.5 203.5h0M13 121.7h0M45 200.2h0M203.2 203.6h0M41.3 76h0M106.3 81h0M115.6 79.9h0M175.1 254.7h0M52.5 118.2h0M152.3 271h0M48.4 224.4h0M54.1 223.3h0M140.2 254.7h0M221.3 205.4h0M28.4 128.8h0M160.1 93.7h0M103.2 88.2h0M154.4 254.1h0M219.7 195.6h0M135.1 280.5h0M119.3 89.2h0M50.9 130h0M142.5 95.8h0M145.2 91.5h0M7.4 192.2h0M92.8 71h0" stroke="#f2dc3c" stroke-width="4.50"/><path class="o" d="M209.7 186.3h0M229.4 151.7h0M143.5 68.9h0M200 242.1h0M116 89.7h0M223.7 212.5h0M202.5 151.1h0M118.9 245.9h0M174.1 92.1h0M174.1 92.5h0M143 68.9h0M143.5 81.3h0M216.1 194h0M217.6 113.4h0M172.7 234.9h0M52.7 201.1h0M180.1 121.5h0M199.4 139.7h0M52.1 157h0M190 138.7h0M209.7 162.8h0M106.9 90.9h0M37.7 196h0M261.5 239.2h0M100.5 40.5h0M209.1 119.6h0M91 257h0M154.1 98.3h0M149.4 57.5h0M206.6 149.1h0M198.3 191.5h0M101.1 90.9h0M85.5 90.9h0M115.6 75.8h0M88.8 238h0M41.4 127h0M176.6 124.8h0M184.9 216.3h0M88.1 245.6h0" stroke="#d42a3a" stroke-width="5.20"/><path class="i" d="M209.7 186.3h0M229.4 151.7h0M143.5 68.9h0M200 242.1h0M116 89.7h0M223.7 212.5h0M202.5 151.1h0M118.9 245.9h0M174.1 92.1h0M174.1 92.5h0M143 68.9h0M143.5 81.3h0M216.1 194h0M217.6 113.4h0M172.7 234.9h0M52.7 201.1h0M180.1 121.5h0M199.4 139.7h0M52.1 157h0M190 138.7h0M209.7 162.8h0M106.9 90.9h0M37.7 196h0M261.5 239.2h0M100.5 40.5h0M209.1 119.6h0M91 257h0M154.1 98.3h0M149.4 57.5h0M206.6 149.1h0M198.3 191.5h0M101.1 90.9h0M85.5 90.9h0M115.6 75.8h0M88.8 238h0M41.4 127h0M176.6 124.8h0M184.9 216.3h0M88.1 245.6h0" stroke="#e52a3c" stroke-width="4.50"/><path d="M260.7 59L265.8 64.1L260.7 69.2L255.6 64.1Z" style="fill:#f4f4f4" stroke="#aaaaaa" stroke-width="0.6" opacity="0.9"/><path d="M276.5 51.2L281.6 56.3L276.5 61.4L271.4 56.3Z" style="fill:#f4f4f4" stroke="#aaaaaa" stroke-width="0.6" opacity="0.9"/><path d="M295 51.2L300.1 56.3L295 61.4L289.9 56.3Z" style="fill:#e8283c" stroke="#d02838" stroke-width="0.6" opacity="0.9"/><path d="M252.1 72.6L257.2 77.7L252.1 82.8L247 77.7Z" style="fill:#e8283c" stroke="#d02838" stroke-width="0.6" opacity="0.9"/><path d="M271.1 70.1L276.2 75.2L271.1 80.3L266 75.2Z" style="fill:#e8d444" stroke="#c8b432" stroke-width="0.6" opacity="0.9"/><path d="M290.7 66.7L295.8 71.8L290.7 76.9L285.6 71.8Z" style="fill:#e8d444" stroke="#c8b432" stroke-width="0.6" opacity="0.9"/><path d="M310.6 64.6L315.7 69.7L310.6 74.8L305.5 69.7Z" style="fill:#f4f4f4" stroke="#aaaaaa" stroke-width="0.6" opacity="0.9"/><path d="M292 82.3L297.1 87.4L292 92.5L286.9 87.4Z" style="fill:#e8283c" stroke="#d02838" stroke-width="0.6" opacity="0.9"/><path d="M308.2 79.9L313.3 85L308.2 90.1L303.1 85Z" style="fill:#e8283c" stroke="#d02838" stroke-width="0.6" opacity="0.9"/><path d="M323.2 84.5L328.3 89.6L323.2 94.7L318.1 89.6Z" style="fill:#e8283c" stroke="#d02838" stroke-width="0.6" opacity="0.9"/><path d="M256.8 90.5L261.9 95.6L256.8 100.7L251.7 95.6Z" style="fill:#e8d444" stroke="#c8b432" stroke-width="0.6" opacity="0.9"/><path d="M274.6 86.4L279.7 91.5L274.6 96.6L269.5 91.5Z" style="fill:#e8d444" stroke="#c8b432" stroke-width="0.6" opacity="0.9"/><path d="M309.3 92.2L314.4 97.3L309.3 102.4L304.2 97.3Z" style="fill:#e8283c" stroke="#d02838" stroke-width="0.6" opacity="0.9"/><path d="M293.4 95L298.5 100.1L293.4 105.2L288.3 100.1Z" style="fill:#b4b4b4" stroke="#acacac" stroke-width="0.6" opacity="0.9"/><path d="M263 100.6L268.1 105.7L263 110.8L257.9 105.7Z" style="fill:#e8283c" stroke="#d02838" stroke-width="0.6" opacity="0.9"/><path d="M282.6 104.2L287.7 109.3L282.6 114.4L277.5 109.3Z" style="fill:#b4b4b4" stroke="#acacac" stroke-width="0.6" opacity="0.9"/><path d="M304.2 108.9L309.3 114L304.2 119.1L299.1 114Z" style="fill:#e8283c" stroke="#d02838" stroke-width="0.6" opacity="0.9"/><path d="M323.2 99.9L328.3 105L323.2 110.1L318.1 105Z" style="fill:#e8283c" stroke="#d02838" stroke-width="0.6" opacity="0.9"/><path d="M271.9 112.5L277 117.6L271.9 122.7L266.8 117.6Z" style="fill:#e8283c" stroke="#d02838" stroke-width="0.6" opacity="0.9"/><path d="M294.6 119.6L299.7 124.7L294.6 129.8L289.5 124.7Z" style="fill:#e8d444" stroke="#c8b432" stroke-width="0.6" opacity="0.9"/><path d="M313.1 123.4L318.2 128.5L313.1 133.6L308 128.5Z" style="fill:#e8283c" stroke="#d02838" stroke-width="0.6" opacity="0.9"/><path d="M280.4 125.4L285.5 130.5L280.4 135.6L275.3 130.5Z" style="fill:#e8283c" stroke="#d02838" stroke-width="0.6" opacity="0.9"/><g opacity="0.9"><path class="o" d="M426 186h0M479 142h0M417 135h0M391 235h0M453 195h0M423 99h0M468 194h0M397 186h0M462 199h0M527 206h0M471 226h0M425 174h0M497 218h0M434 186h0M443 172h0M521 152h0M434 150h0M503 231h0M397 187h0M403 247h0M395 183h0M428 164h0M419 130h0M451 189h0M459 183h0M521 148h0M382 135h0M509 163h0M520 201h0M454 160h0M478 193h0M400 145h0M467 245h0M434 155h0M409 242h0M516 122h0M417 148h0M474 181h0M462 139h0M405 187h0M442 181h0M416 165h0M373 171h0M395 240h0M378 170h0M410 123h0M381 226h0M427 148h0M448 176h0M422 198h0M420 180h0M504 198h0M480 243h0M419 172h0M500 136h0M398 222h0M501 162h0M532 178h0M455 170h0M445 199h0M408 168h0M452 157h0M498 125h0M419 176h0M415 169h0M508 183h0M388 144h0M514 153h0M389 193h0M459 237h0M518 191h0M449 151h0M419 167h0M466 165h0M406 159h0M413 123h0M391 221h0M456 242h0M398 229h0M368 196h0" stroke="#989898" stroke-width="4.85"/><path class="i" d="M426 186h0M479 142h0M417 135h0M391 235h0M453 195h0M423 99h0M468 194h0M397 186h0M462 199h0M527 206h0M471 226h0M425 174h0M497 218h0M434 186h0M443 172h0M521 152h0M434 150h0M503 231h0M397 187h0M403 247h0M395 183h0M428 164h0M419 130h0M451 189h0M459 183h0M521 148h0M382 135h0M509 163h0M520 201h0M454 160h0M478 193h0M400 145h0M467 245h0M434 155h0M409 242h0M516 122h0M417 148h0M474 181h0M462 139h0M405 187h0M442 181h0M416 165h0M373 171h0M395 240h0M378 170h0M410 123h0M381 226h0M427 148h0M448 176h0M422 198h0M420 180h0M504 198h0M480 243h0M419 172h0M500 136h0M398 222h0M501 162h0M532 178h0M455 170h0M445 199h0M408 168h0M452 157h0M498 125h0M419 176h0M415 169h0M508 183h0M388 144h0M514 153h0M389 193h0M459 237h0M518 191h0M449 151h0M419 167h0M466 165h0M406 159h0M413 123h0M391 221h0M456 242h0M398 229h0M368 196h0" stroke="#e4e4e4" stroke-width="3.80"/><path class="o" d="M418 242h0M511 223h0M522 174h0M424 135h0M438 192h0M503 141h0M435 192h0M505 182h0M463 189h0M439 204h0M492 215h0M488 232h0M422 109h0M502 191h0M450 238h0M481 149h0M512 233h0M507 166h0M446 189h0M402 207h0M378 209h0M441 106h0M414 222h0M487 229h0M473 241h0M460 231h0M382 231h0M474 178h0M388 127h0M524 184h0M443 113h0M420 238h0M493 141h0M402 222h0M444 133h0M445 177h0M448 129h0M499 191h0M524 182h0M451 202h0M382 204h0M428 110h0M451 109h0M529 197h0M378 155h0M475 203h0M375 120h0M465 150h0M463 147h0M524 195h0M375 144h0M429 198h0M385 125h0M425 231h0M423 181h0M392 184h0M508 116h0M517 163h0M386 180h0M418 232h0M497 189h0M481 176h0M387 186h0M407 113h0M479 146h0M408 176h0M496 132h0M504 139h0M428 232h0M524 138h0M474 202h0M520 151h0M479 144h0M440 103h0M503 151h0M461 145h0M534 206h0M467 193h0M508 208h0M429 241h0M525 138h0M405 117h0M483 108h0M481 148h0M373 181h0M419 197h0M507 101h0M464 140h0M445 236h0M428 239h0M470 191h0M492 239h0M450 244h0M441 237h0M395 168h0M404 214h0M405 122h0M464 208h0M427 227h0M394 115h0M420 147h0M538 180h0M477 221h0M475 109h0M458 213h0M495 100h0M483 99h0M417 135h0M379 133h0M477 181h0M469 99h0M430 240h0M440 209h0M420 241h0M405 190h0M392 136h0M475 123h0M415 185h0M523 146h0M427 111h0M417 169h0M376 149h0M472 153h0M485 130h0M462 117h0M402 162h0M437 90h0M501 170h0M470 153h0M485 237h0M495 139h0M473 230h0M496 172h0M464 185h0M423 189h0M411 220h0M412 185h0M454 222h0M492 222h0M535 155h0M462 211h0M486 150h0M528 182h0M505 118h0M403 226h0M442 103h0M454 141h0M491 237h0M501 158h0M455 198h0M429 126h0M386 179h0M412 197h0M505 229h0M517 172h0M461 194h0M490 138h0M371 178h0M417 228h0M460 128h0M524 147h0M434 110h0M491 101h0M472 232h0M423 227h0M391 119h0M530 184h0M534 136h0M464 104h0M467 110h0M405 183h0M428 168h0M421 115h0M515 119h0M518 190h0M448 187h0M483 107h0M398 185h0M468 243h0M443 103h0M498 174h0M476 214h0M400 162h0M491 161h0M507 176h0M502 211h0M395 180h0M385 137h0M511 134h0M399 140h0M488 114h0M432 219h0M520 117h0M466 213h0M462 118h0M512 221h0M421 125h0M375 176h0M473 176h0M495 100h0M427 228h0M509 134h0M452 234h0M404 221h0M410 136h0M401 182h0M497 146h0M469 175h0M527 166h0M401 225h0M519 197h0M395 128h0" stroke="#bab45c" stroke-width="4.85"/><path class="i" d="M418 242h0M511 223h0M522 174h0M424 135h0M438 192h0M503 141h0M435 192h0M505 182h0M463 189h0M439 204h0M492 215h0M488 232h0M422 109h0M502 191h0M450 238h0M481 149h0M512 233h0M507 166h0M446 189h0M402 207h0M378 209h0M441 106h0M414 222h0M487 229h0M473 241h0M460 231h0M382 231h0M474 178h0M388 127h0M524 184h0M443 113h0M420 238h0M493 141h0M402 222h0M444 133h0M445 177h0M448 129h0M499 191h0M524 182h0M451 202h0M382 204h0M428 110h0M451 109h0M529 197h0M378 155h0M475 203h0M375 120h0M465 150h0M463 147h0M524 195h0M375 144h0M429 198h0M385 125h0M425 231h0M423 181h0M392 184h0M508 116h0M517 163h0M386 180h0M418 232h0M497 189h0M481 176h0M387 186h0M407 113h0M479 146h0M408 176h0M496 132h0M504 139h0M428 232h0M524 138h0M474 202h0M520 151h0M479 144h0M440 103h0M503 151h0M461 145h0M534 206h0M467 193h0M508 208h0M429 241h0M525 138h0M405 117h0M483 108h0M481 148h0M373 181h0M419 197h0M507 101h0M464 140h0M445 236h0M428 239h0M470 191h0M492 239h0M450 244h0M441 237h0M395 168h0M404 214h0M405 122h0M464 208h0M427 227h0M394 115h0M420 147h0M538 180h0M477 221h0M475 109h0M458 213h0M495 100h0M483 99h0M417 135h0M379 133h0M477 181h0M469 99h0M430 240h0M440 209h0M420 241h0M405 190h0M392 136h0M475 123h0M415 185h0M523 146h0M427 111h0M417 169h0M376 149h0M472 153h0M485 130h0M462 117h0M402 162h0M437 90h0M501 170h0M470 153h0M485 237h0M495 139h0M473 230h0M496 172h0M464 185h0M423 189h0M411 220h0M412 185h0M454 222h0M492 222h0M535 155h0M462 211h0M486 150h0M528 182h0M505 118h0M403 226h0M442 103h0M454 141h0M491 237h0M501 158h0M455 198h0M429 126h0M386 179h0M412 197h0M505 229h0M517 172h0M461 194h0M490 138h0M371 178h0M417 228h0M460 128h0M524 147h0M434 110h0M491 101h0M472 232h0M423 227h0M391 119h0M530 184h0M534 136h0M464 104h0M467 110h0M405 183h0M428 168h0M421 115h0M515 119h0M518 190h0M448 187h0M483 107h0M398 185h0M468 243h0M443 103h0M498 174h0M476 214h0M400 162h0M491 161h0M507 176h0M502 211h0M395 180h0M385 137h0M511 134h0M399 140h0M488 114h0M432 219h0M520 117h0M466 213h0M462 118h0M512 221h0M421 125h0M375 176h0M473 176h0M495 100h0M427 228h0M509 134h0M452 234h0M404 221h0M410 136h0M401 182h0M497 146h0M469 175h0M527 166h0M401 225h0M519 197h0M395 128h0" stroke="#f5f08a" stroke-width="3.80"/><path class="o" d="M516 135h0M488 237h0M425 249h0M452 239h0M467 207h0M511 229h0M433 190h0M519 205h0M462 214h0M374 166h0M516 209h0M529 167h0M477 206h0M515 140h0M455 224h0M482 228h0M518 187h0M511 205h0M483 218h0M528 143h0M508 171h0" stroke="#e60000" stroke-width="4.50"/><path class="i" d="M516 135h0M488 237h0M425 249h0M452 239h0M467 207h0M511 229h0M433 190h0M519 205h0M462 214h0M374 166h0M516 209h0M529 167h0M477 206h0M515 140h0M455 224h0M482 228h0M518 187h0M511 205h0M483 218h0M528 143h0M508 171h0" stroke="#ff0000" stroke-width="3.80"/></g><path d="M484 180L441 208M450 242L437 209M500 158L475 156M487 200L478 176M473 168L511 134M399 186L401 182M425 249L407 193M475 178L446 204M487 128L454 101M368 131L439 120M462 211L391 168M466 169L463 141M525 161L491 108M477 181L430 172M404 214L386 141M438 161L433 242M423 227L396 204M452 225L440 197M523 190L517 213M504 154L497 171M463 113L426 142M385 111L431 139M448 157L467 207M459 233L500 175M455 197L511 222M378 209L416 136M464 133L412 145M442 173L443 146M492 205L458 227M374 166L415 169M395 113L406 187M461 145L530 182M378 187L412 187M395 222L466 213M421 177L476 201M420 111L388 127M464 179L472 155M450 117L510 168M444 133L457 148M433 222L427 161M403 214L422 189M453 122L410 136M419 202L437 232M467 147L456 178M455 145L441 171M501 199L454 230M411 194L451 131M429 133L408 168M409 226L383 203M400 162L455 141M390 130L400 143M416 109L495 100M428 111L394 115M487 187L478 197M475 203L460 139M505 229L482 199M452 157L387 186M369 183L423 162M461 242L512 225M387 154L464 140M402 114L432 157M468 187L487 187M465 220L433 219M481 153L505 178M434 114L372 171M499 186L476 232M519 194L521 184M479 142L486 147M495 100L529 167M465 150L456 178M405 154L423 125M486 126L522 199M422 174L419 144M467 180L417 169M501 170L527 151M430 160L488 159M479 204L471 201M475 198L506 182M525 161L514 213M440 237L434 167M411 170L465 220M461 241L496 185M404 139L381 130M375 176L418 198M414 137L377 141M407 113L449 185M490 216L448 187M417 193L475 203M511 205L520 211M511 139L510 214M422 172L494 195M505 174L456 209M481 228L520 215M528 177L447 157M484 111L415 120M484 126L465 109M455 205L426 184M389 163L384 139M455 205L392 205M401 121L455 140M389 136L412 166M372 216L385 190M396 129L374 151M404 163L473 168M416 248L416 198M517 186L471 226M412 164L404 179M463 108L470 138M411 147L393 156M435 170L420 109M477 228L435 252M462 199L474 165M416 159L479 144M528 159L497 214M507 166L449 204M462 218L444 138M422 174L392 205M454 170L513 211M524 176L475 215M520 190L475 198M416 96L409 105M437 198L378 197M436 191L462 246M436 128L389 193M434 186L470 193M461 241L489 202M487 166L506 155M443 191L479 146M487 229L473 209M467 120L404 113M482 172L446 218M433 179L465 101M389 142L413 124M407 193L410 179M390 172L445 108M387 186L374 132M459 183L423 157M383 233L426 169M440 126L402 162M427 161L462 179M367 195L434 208M421 202L460 212M507 183L498 214M372 204L405 153M492 166L501 173M404 221L436 212M388 210L414 147M446 185L457 189M463 133L423 107M394 116L408 116M461 202L416 133M499 155L477 189M442 170L458 248M478 189L435 136M508 122L487 128M431 178L476 182M497 146L509 221M419 167L407 105M440 126L477 127M463 113L521 130M417 170L430 160M388 181L422 189M482 144L451 206M410 213L436 174M478 229L476 248M429 203L428 249M459 183L502 226M454 101L441 134M419 167L478 197M498 121L483 109M461 223L431 190M454 237L384 196M464 140L458 204M424 187L406 187M522 130L454 119M384 204L384 175M462 178L400 162M429 142L511 139M512 171L483 223M511 156L448 187M495 158L454 141M409 116L458 184M437 246L379 197M443 152L510 159M403 183L374 132M480 156L448 88M415 185L447 245M499 147L480 155M435 139L440 177M464 140L384 141M417 135L426 184M481 159L455 201M431 178L432 170M449 179L528 180M452 248L462 221M460 215L478 217M499 191L494 166M432 197L404 163M410 222L412 145M511 222L517 213M373 165L422 219M474 165L529 164M429 198L412 215M394 172L449 151M425 243L401 182M429 198L383 129M411 114L432 155M522 217L468 245M436 139L423 132M511 211L473 235M369 183L403 125M412 173L462 211M416 176L460 143M435 111L412 185M412 197L468 208M443 150L435 151M434 186L422 233M448 176L379 197M408 224L397 230M457 136L420 122M412 166L396 148M503 162L459 134M410 118L486 150M467 164L492 204M421 125L477 127M494 166L443 191M478 182L480 201M392 151L417 230M515 129L488 205M434 114L431 178M489 210L496 156M451 206L442 241M467 208L458 183M378 216L435 180M431 200L467 193M511 209L504 154M378 170L421 152M513 172L444 190M525 168L495 158M435 139L481 98M380 177L392 184M396 197L435 136M460 111L434 149M404 214L449 172M404 199L406 163M437 108L404 179M411 228L430 165M473 230L512 221M502 191L455 142M474 202L503 226M483 134L428 101M471 127L478 197M489 202L477 181M444 168L395 222M520 127L496 185M418 187L491 170M462 178L420 122M422 174L390 186M529 173L498 214M497 119L423 107M490 222L492 204M431 222L466 213M527 206L522 174M419 197L366 172M489 202L410 179M492 212L471 201M446 96L482 144M481 110L460 177M520 158L466 204M515 158L461 202M388 130L387 145M396 148L477 131M428 181L485 237M384 157L419 163M504 154L448 208M397 211L444 212M513 213L443 191M439 88L465 150M477 220L445 176M465 113L440 113M471 128L423 116M495 247L476 201M427 161L503 186M430 165L476 113M399 140L415 169M436 217L457 151" stroke="#a4a4a4" stroke-width="0.35" stroke-opacity="0.3"/><g opacity="0.9"><path class="o" d="M513 228h0M508 218h0M449 208h0M487 125h0M403 204h0M384 127h0M524 146h0M519 178h0M423 157h0M404 142h0M402 116h0M484 111h0M383 123h0M416 248h0M464 142h0M397 230h0M438 152h0M391 155h0M470 138h0M508 121h0M436 156h0M476 117h0M413 187h0M436 174h0M464 133h0M483 147h0M450 214h0M431 178h0M408 160h0M450 234h0M482 207h0M424 187h0M524 202h0M503 166h0M431 118h0M436 234h0M437 197h0M510 159h0M436 220h0M436 110h0M382 141h0M400 134h0M462 178h0M392 113h0M446 172h0M378 132h0M435 151h0M383 199h0M426 98h0M446 150h0M453 239h0M458 134h0M431 230h0M434 243h0M396 197h0M507 153h0M427 131h0M378 187h0M435 180h0M458 227h0M455 242h0M520 202h0M467 137h0M508 179h0M394 208h0M498 188h0M435 136h0M381 218h0M405 144h0M428 133h0M446 157h0M379 202h0M406 187h0M455 141h0M444 193h0M484 154h0M437 198h0M446 234h0" stroke="#989898" stroke-width="4.85"/><path class="i" d="M513 228h0M508 218h0M449 208h0M487 125h0M403 204h0M384 127h0M524 146h0M519 178h0M423 157h0M404 142h0M402 116h0M484 111h0M383 123h0M416 248h0M464 142h0M397 230h0M438 152h0M391 155h0M470 138h0M508 121h0M436 156h0M476 117h0M413 187h0M436 174h0M464 133h0M483 147h0M450 214h0M431 178h0M408 160h0M450 234h0M482 207h0M424 187h0M524 202h0M503 166h0M431 118h0M436 234h0M437 197h0M510 159h0M436 220h0M436 110h0M382 141h0M400 134h0M462 178h0M392 113h0M446 172h0M378 132h0M435 151h0M383 199h0M426 98h0M446 150h0M453 239h0M458 134h0M431 230h0M434 243h0M396 197h0M507 153h0M427 131h0M378 187h0M435 180h0M458 227h0M455 242h0M520 202h0M467 137h0M508 179h0M394 208h0M498 188h0M435 136h0M381 218h0M405 144h0M428 133h0M446 157h0M379 202h0M406 187h0M455 141h0M444 193h0M484 154h0M437 198h0M446 234h0" stroke="#e4e4e4" stroke-width="3.80"/><path class="o" d="M397 165h0M507 110h0M514 187h0M459 183h0M520 121h0M419 108h0M518 182h0M528 190h0M500 219h0M535 196h0M507 146h0M466 204h0M428 125h0M409 195h0M426 224h0M439 115h0M514 105h0M477 222h0M521 157h0M468 148h0M535 181h0M397 201h0M454 164h0M500 147h0M429 169h0M528 159h0M384 140h0M463 129h0M502 207h0M380 146h0M486 226h0M502 186h0M380 157h0M441 146h0M481 228h0M499 142h0M413 112h0M453 110h0M430 115h0M448 211h0M463 253h0M512 225h0M470 200h0M511 155h0M472 99h0M523 164h0M481 210h0M387 202h0M419 229h0M467 121h0M471 90h0M367 195h0M512 213h0M510 162h0M492 190h0M440 250h0M448 157h0M454 114h0M438 245h0M413 245h0M469 237h0M495 96h0M491 155h0M401 190h0M480 195h0M377 168h0M384 196h0M473 247h0M420 111h0M474 165h0M447 130h0M431 102h0M410 137h0M463 166h0M495 152h0M518 151h0M500 199h0M463 141h0M377 202h0M418 225h0M498 121h0M441 241h0M516 121h0M408 204h0M460 135h0M464 191h0M506 219h0M484 146h0M472 221h0M446 177h0M394 193h0M520 160h0M471 128h0M458 183h0M405 238h0M435 139h0M391 154h0M374 174h0M469 136h0M456 136h0M471 238h0M388 130h0M460 99h0M422 142h0M407 105h0M413 227h0M486 240h0M527 151h0M484 130h0M511 153h0M430 203h0M385 175h0M426 169h0M476 101h0M392 148h0M390 199h0M508 240h0M499 196h0M462 119h0M446 126h0M503 116h0M389 133h0M462 185h0M417 161h0M409 180h0M437 165h0M526 178h0M458 180h0M478 182h0M429 235h0M414 151h0M365 164h0M382 162h0M520 140h0M395 204h0M492 170h0M453 204h0M392 179h0M494 166h0M508 228h0M515 147h0M481 110h0M522 188h0M475 114h0M432 251h0M407 117h0M496 185h0M432 227h0M389 212h0M393 174h0M522 160h0M407 198h0M417 252h0M445 233h0M483 216h0M504 160h0M394 116h0M462 119h0M395 156h0M513 213h0M394 122h0M422 189h0M406 237h0M454 198h0M381 165h0M430 223h0M405 121h0M527 145h0M500 226h0M505 142h0M397 145h0M439 218h0M470 186h0M477 181h0M474 204h0M499 203h0M467 191h0M406 219h0M394 216h0M473 163h0M496 200h0M415 123h0M445 108h0M485 184h0M484 149h0M491 173h0M378 187h0M531 154h0M416 109h0M484 234h0M404 113h0M402 129h0M401 211h0M428 132h0M508 138h0M390 172h0M470 205h0M490 232h0M432 197h0M485 236h0M410 134h0M513 172h0M503 112h0M477 189h0M479 152h0M395 139h0M442 111h0M396 134h0M391 124h0M391 177h0M411 158h0M467 239h0M440 242h0M513 138h0M381 202h0M488 159h0M472 206h0" stroke="#bab45c" stroke-width="4.85"/><path class="i" d="M397 165h0M507 110h0M514 187h0M459 183h0M520 121h0M419 108h0M518 182h0M528 190h0M500 219h0M535 196h0M507 146h0M466 204h0M428 125h0M409 195h0M426 224h0M439 115h0M514 105h0M477 222h0M521 157h0M468 148h0M535 181h0M397 201h0M454 164h0M500 147h0M429 169h0M528 159h0M384 140h0M463 129h0M502 207h0M380 146h0M486 226h0M502 186h0M380 157h0M441 146h0M481 228h0M499 142h0M413 112h0M453 110h0M430 115h0M448 211h0M463 253h0M512 225h0M470 200h0M511 155h0M472 99h0M523 164h0M481 210h0M387 202h0M419 229h0M467 121h0M471 90h0M367 195h0M512 213h0M510 162h0M492 190h0M440 250h0M448 157h0M454 114h0M438 245h0M413 245h0M469 237h0M495 96h0M491 155h0M401 190h0M480 195h0M377 168h0M384 196h0M473 247h0M420 111h0M474 165h0M447 130h0M431 102h0M410 137h0M463 166h0M495 152h0M518 151h0M500 199h0M463 141h0M377 202h0M418 225h0M498 121h0M441 241h0M516 121h0M408 204h0M460 135h0M464 191h0M506 219h0M484 146h0M472 221h0M446 177h0M394 193h0M520 160h0M471 128h0M458 183h0M405 238h0M435 139h0M391 154h0M374 174h0M469 136h0M456 136h0M471 238h0M388 130h0M460 99h0M422 142h0M407 105h0M413 227h0M486 240h0M527 151h0M484 130h0M511 153h0M430 203h0M385 175h0M426 169h0M476 101h0M392 148h0M390 199h0M508 240h0M499 196h0M462 119h0M446 126h0M503 116h0M389 133h0M462 185h0M417 161h0M409 180h0M437 165h0M526 178h0M458 180h0M478 182h0M429 235h0M414 151h0M365 164h0M382 162h0M520 140h0M395 204h0M492 170h0M453 204h0M392 179h0M494 166h0M508 228h0M515 147h0M481 110h0M522 188h0M475 114h0M432 251h0M407 117h0M496 185h0M432 227h0M389 212h0M393 174h0M522 160h0M407 198h0M417 252h0M445 233h0M483 216h0M504 160h0M394 116h0M462 119h0M395 156h0M513 213h0M394 122h0M422 189h0M406 237h0M454 198h0M381 165h0M430 223h0M405 121h0M527 145h0M500 226h0M505 142h0M397 145h0M439 218h0M470 186h0M477 181h0M474 204h0M499 203h0M467 191h0M406 219h0M394 216h0M473 163h0M496 200h0M415 123h0M445 108h0M485 184h0M484 149h0M491 173h0M378 187h0M531 154h0M416 109h0M484 234h0M404 113h0M402 129h0M401 211h0M428 132h0M508 138h0M390 172h0M470 205h0M490 232h0M432 197h0M485 236h0M410 134h0M513 172h0M503 112h0M477 189h0M479 152h0M395 139h0M442 111h0M396 134h0M391 124h0M391 177h0M411 158h0M467 239h0M440 242h0M513 138h0M381 202h0M488 159h0M472 206h0" stroke="#f5f08a" stroke-width="3.80"/><path class="o" d="M512 194h0M526 192h0M463 208h0M456 233h0M511 127h0M454 237h0M477 220h0M518 201h0M473 223h0M526 207h0M516 105h0M408 201h0M464 244h0M478 203h0M513 128h0M528 142h0M504 230h0M378 218h0" stroke="#e60000" stroke-width="4.50"/><path class="i" d="M512 194h0M526 192h0M463 208h0M456 233h0M511 127h0M454 237h0M477 220h0M518 201h0M473 223h0M526 207h0M516 105h0M408 201h0M464 244h0M478 203h0M513 128h0M528 142h0M504 230h0M378 218h0" stroke="#ff0000" stroke-width="3.80"/></g><path d="M500 219L505 182M457 184L476 147M472 223L403 225M380 190L449 233M432 155L372 204M434 167L408 195M436 191L412 237M514 153L458 113M415 202L455 205M448 176L476 248M427 118L481 167M488 113L522 173M430 114L475 177M496 132L445 101M394 165L428 183M446 114L425 130M491 161L480 206M390 139L397 172M395 113L393 138M464 244L490 222M531 127L483 108M480 155L496 153M485 237L465 195M419 163L463 113M507 166L481 110M433 210L411 237M503 141L463 103M450 204L429 142M387 202L415 224M488 180L478 107M382 175L397 145M488 159L467 98M404 159L451 202M450 213L431 230M411 165L420 157M453 204L436 191M419 133L434 99M417 135L415 202M436 88L479 144M435 107L496 141M458 137L462 101M399 222L398 167M507 153L518 174M495 115L453 122M427 172L461 199M418 101L429 111M434 236L396 198M445 160L481 106M447 157L513 168M487 196L524 176M533 142L474 181M431 230L507 217M426 169L408 195M436 166L420 177M433 219L391 177M401 123L379 133M426 160L438 161M488 232L411 221M516 122L450 130M458 213L499 185M518 182L483 108M408 151L470 205M518 203L448 176M396 148L418 175M486 226L508 215M460 135L487 187M417 127L397 156M486 241L411 221M526 162L469 150M462 119L480 180M452 125L521 152M521 129L487 200M389 133L364 181M449 191L430 203M530 190L499 186M449 191L475 200M459 204L461 242M446 150L368 131M452 147L451 131M471 128L502 191M424 187L400 134M515 186L472 174M506 182L440 142M401 208L388 142M468 245L492 215M402 137L478 173M401 190L423 217M423 205L394 193M457 242L455 197M405 238L410 208M444 138L469 183M494 161L501 152M375 120L400 179M500 228L501 158M400 229L430 151M390 180L398 185M443 222L491 161M492 190L511 229M387 145L417 126M426 186L429 169M473 209L410 222M487 194L463 253M467 191L491 190M520 216L524 146M528 159L455 198M520 141L502 157M494 175L493 126M464 185L453 239M492 222L450 213M412 197L411 211M466 128L408 168M435 124L381 165M383 176L397 145M385 128L383 178M460 99L397 114M403 179L440 113M475 114L516 135M489 210L444 168M478 206L446 138M416 192L387 138M449 222L447 245M365 163L392 216M383 189L417 161M403 113L425 130M387 202L423 167M516 165L467 179M409 153L418 225M422 244L413 188M499 142L502 152M449 222L495 158M476 113L516 144M436 234L436 191M377 175L416 209M402 191L423 227M447 114L507 101M438 161L377 185M503 185L508 122M453 195L435 198M516 145L475 156M524 146L514 112M469 147L489 204M395 179L388 189M367 145L392 179M488 205L433 213M518 182L473 209M433 206L513 224M433 144L466 165M379 202L383 196M461 183L413 227M491 184L471 249M467 180L468 243M495 195L458 227M511 167L486 119M440 121L446 204M451 203L381 202M401 243L396 160M481 149L465 124M405 197L434 243M400 143L435 192M495 139L419 134M421 235L399 234M403 226L403 203M387 207L404 184M418 206L453 145M461 153L507 115M473 235L484 215M414 219L411 220M402 137L395 100M447 188L499 217M420 173L378 197M479 204L407 198M399 234L464 208M475 214L519 192M506 130L479 114M435 170L487 187M400 147L406 159M459 146L449 121M471 181L491 155M481 216L401 218M393 224L442 173M382 180L440 142M496 123L518 178M472 176L522 182M424 248L394 216M430 201L485 237M399 140L434 149M513 211L497 142M475 138L505 178M448 170L416 165M444 138L488 205M434 236L429 203M462 119L416 133M462 124L455 108M490 138L486 219M443 244L503 186M379 217L382 203M455 135L440 110M467 110L422 113M389 201L467 207M422 189L404 116M422 219L494 187M398 130L405 154M526 178L497 119M477 131L423 162M405 183L447 130M436 174L404 142M524 195L445 176M383 144L399 186M450 242L505 182M505 182L468 180M439 115L389 134M415 202L442 187M481 210L412 185M463 181L512 145M431 218L404 155M525 159L477 181M414 147L457 104M515 186L523 158M419 144L426 145M465 116L422 189M410 128L450 130M410 118L427 148M495 195L530 184M421 115L444 193M520 151L482 158M479 228L446 197M501 197L429 198M431 139L401 218M444 119L458 137M415 169L428 168M422 113L455 135M471 128L499 122M483 158L506 130M503 186L512 125M529 197L455 168M409 116L419 199M500 166L457 232M446 126L509 144M412 187L471 238M389 202L401 219M508 121L485 184M464 104L503 114M454 131L486 119M514 187L440 194M454 119L451 109M438 245L497 189M422 134L399 175M503 150L430 172M448 176L481 149M446 185L481 110M429 142L501 123M436 191L481 153M417 126L384 178M466 173L465 180M444 138L459 204M448 208L486 241M514 117L460 113M411 114L486 124M453 226L417 228M410 179L389 236M502 205L502 191M411 219L454 180M489 191L449 191M396 226L431 196M518 108L524 134M531 127L460 139M390 180L417 193M447 188L420 173M496 121L485 143M424 192L434 186M383 215L382 168M419 163L387 177M502 205L486 124M458 134L446 114M419 202L436 191M433 219L511 209M445 177L421 163M513 224L518 203M384 182L449 232M419 199L386 179M463 129L480 177M399 171L400 170M418 174L372 182M462 144L416 175M508 138L472 99M384 156L378 197" stroke="#a4a4a4" stroke-width="0.35" stroke-opacity="0.3"/><path d="M613 61L516 159M613 61L496 170M613 61L493 130M613 61L537 171M613 61L541 141M613 61L524 151M613 61L537 151M613 61L540 174M613 61L514 118M613 61L513 187M613 61L501 169M613 61L520 151M613 61L498 171M613 61L531 160M613 61L492 156M613 61L531 146M613 61L522 126M613 61L499 153M613 61L490 150M613 61L534 148M613 61L501 194M613 61L515 126M613 61L505 162M613 61L529 178M613 61L501 138M613 61L534 127M613 61L523 166M613 61L524 154M613 61L517 173M613 61L499 146M613 61L508 122M613 61L530 137M613 61L517 184M613 61L512 174M613 61L527 164M613 61L541 156M613 61L507 139M613 61L490 134M613 61L513 168M613 61L495 177M613 61L495 151M613 61L519 166M613 61L512 154M613 61L530 160M613 61L521 151M613 61L524 195M613 61L531 137M613 61L514 181M613 61L522 178M613 61L543 163M613 61L524 132M613 61L527 179M613 61L534 169M613 61L491 168M613 61L531 136M613 61L514 153M613 61L495 167M613 61L528 166M613 61L496 171M613 61L502 166M613 61L517 145M613 61L538 156M613 61L494 155M613 61L525 162M613 61L494 137M613 61L492 185M613 61L513 164M613 61L499 162M613 61L495 186M613 61L489 175M613 61L517 133M613 61L507 147M613 61L521 131M613 61L520 192M613 61L509 130M613 61L517 151M613 61L518 163M613 61L518 174M613 61L542 150M613 61L515 155M613 61L507 123M613 61L505 177M613 61L531 144M613 61L526 163M613 61L520 172M613 61L521 152M613 61L512 148M613 61L493 187M613 61L520 141M613 61L508 183M613 61L519 196M613 61L488 155M613 61L498 134M613 61L530 192M613 61L513 154M613 61L508 133M613 61L500 182M613 61L514 168M613 61L517 157M613 61L542 159M613 61L516 136M613 61L500 150M613 61L520 144M613 61L514 192M613 61L501 182M613 61L530 139M613 61L491 182M613 61L503 156M613 61L517 159M613 61L506 170M613 61L494 165M613 61L515 159M613 61L527 120M613 61L498 166M613 61L493 177M613 61L535 162M613 61L501 192M613 61L501 120M613 61L518 199M613 61L531 188M613 61L509 160M613 61L499 159M613 61L524 124M613 61L529 186M613 61L534 159M613 61L533 157M613 61L509 159M613 61L489 155M613 61L529 168M613 61L505 175M613 61L513 158M613 61L504 169M613 61L498 173M613 61L539 168M613 61L527 162M613 61L487 160M613 61L512 136M613 61L506 187M613 61L503 138M613 61L504 144M613 61L518 137M613 61L504 147M613 61L540 160M613 61L503 187M613 61L501 154M613 61L512 161M613 61L518 185M613 61L527 190M613 61L486 145M613 61L513 160M613 61L520 171M613 61L499 133M613 61L534 136M613 61L513 168M613 61L516 161M613 61L516 133M613 61L511 142M613 61L515 123M613 61L522 169M613 61L536 153M632 56L534 170M632 56L495 157M632 56L529 140M632 56L515 173M632 56L525 146M632 56L524 169M632 56L526 185M632 56L531 128M632 56L508 163M632 56L494 136M632 56L536 175M632 56L511 188M632 56L526 146M632 56L497 123M632 56L520 192M632 56L529 176M632 56L512 148M632 56L523 145M632 56L515 177M632 56L519 198M632 56L512 182M632 56L493 137M632 56L509 189M632 56L528 139M632 56L488 157M632 56L525 154M632 56L485 156M632 56L495 181M632 56L520 195M632 56L515 149M632 56L520 172M632 56L510 142M632 56L507 167M632 56L528 176M632 56L506 142M632 56L526 142M632 56L515 159M632 56L500 161M632 56L539 141M632 56L504 161M632 56L512 172M632 56L525 142M632 56L501 135M632 56L508 192M632 56L541 162M632 56L508 177M632 56L492 173M632 56L520 154M632 56L501 174M632 56L528 188M632 56L515 175M632 56L489 148M632 56L536 150M632 56L507 167M632 56L541 154M632 56L497 152M632 56L528 194M632 56L506 145M632 56L500 143M632 56L502 147M632 56L521 158M632 56L516 137M632 56L500 175M632 56L519 154M632 56L517 174M632 56L519 141M632 56L509 159M632 56L510 193M632 56L529 165M632 56L508 153M632 56L520 168M632 56L525 136M632 56L527 121M632 56L496 185M632 56L524 169M632 56L500 167M632 56L503 169M632 56L519 193M632 56L514 146M632 56L493 148M632 56L499 148M632 56L503 161M632 56L531 137M632 56L520 186M632 56L518 176M632 56L510 157M632 56L495 167M632 56L510 170M632 56L496 154M632 56L492 155M632 56L524 136M632 56L524 122M632 56L522 136M632 56L524 177M632 56L515 150M632 56L499 141M632 56L515 119M632 56L527 164M632 56L507 147M632 56L513 139M632 56L533 164M632 56L501 164M632 56L505 156M632 56L525 129M632 56L514 169M632 56L500 183M632 56L517 146M632 56L529 158M632 56L509 161M632 56L497 143M632 56L506 124M632 56L513 135M632 56L499 140M632 56L513 160M632 56L517 157M632 56L517 188M632 56L506 123M632 56L530 156M632 56L511 173M632 56L513 179M632 56L512 176M632 56L542 159M632 56L508 169M632 56L490 146M632 56L509 142M632 56L505 182M632 56L535 142M632 56L522 168M632 56L518 187M632 56L542 146M632 56L513 149M632 56L519 177M632 56L506 172M632 56L505 143M632 56L515 125M632 56L523 196M632 56L531 141M632 56L527 122M632 56L494 168M632 56L530 140M632 56L517 157M632 56L486 167M632 56L522 169M632 56L517 160M632 56L537 152M632 56L536 151M632 56L501 144M632 56L514 187M632 56L531 185M632 56L494 150M632 56L506 181M632 56L515 156M632 56L532 182M632 56L529 151M632 56L513 131M632 56L498 166M632 56L522 163M632 56L511 163M632 56L498 159M632 56L500 139M647 55L527 129M647 55L495 177M647 55L535 142M647 55L514 135M647 55L517 160M647 55L520 148M647 55L503 127M647 55L516 185M647 55L499 151M647 55L500 122M647 55L509 159M647 55L517 194M647 55L541 166M647 55L535 138M647 55L492 156M647 55L528 185M647 55L539 141M647 55L508 181M647 55L517 151M647 55L522 178M647 55L538 181M647 55L519 171M647 55L490 160M647 55L502 166M647 55L506 166M647 55L529 165M647 55L519 194M647 55L505 180M647 55L500 141M647 55L504 168M647 55L516 137M647 55L516 132M647 55L526 183M647 55L517 152M647 55L499 133M647 55L537 146M647 55L541 140M647 55L530 133M647 55L534 188M647 55L491 169M647 55L504 145M647 55L486 154M647 55L529 173M647 55L502 170M647 55L514 170M647 55L525 164M647 55L510 138M647 55L490 183M647 55L515 169M647 55L523 146M647 55L513 146M647 55L541 175M647 55L505 172M647 55L503 159M647 55L533 155M647 55L517 176M647 55L519 170M647 55L493 135M647 55L521 175M647 55L505 159M647 55L537 163M647 55L506 136M647 55L513 166M647 55L511 142M647 55L527 141M647 55L521 144M647 55L509 138M647 55L534 156M647 55L495 187M647 55L533 182M647 55L513 148M647 55L516 183M647 55L514 178M647 55L525 147M647 55L527 134M647 55L520 161M647 55L515 184M647 55L526 196M647 55L521 145M647 55L495 128M647 55L524 171M647 55L522 165M647 55L488 168M647 55L489 145M647 55L527 134M647 55L496 136M647 55L532 171M647 55L512 143M647 55L506 160M647 55L539 149M647 55L512 168M647 55L531 127M647 55L506 148M647 55L493 166M647 55L512 196M647 55L532 145M647 55L533 129M647 55L534 138M647 55L505 165M647 55L522 188M647 55L493 176M647 55L519 129M647 55L487 169M647 55L513 167M647 55L511 128M647 55L541 152M647 55L528 175M647 55L518 121M647 55L514 134M647 55L502 173M647 55L516 144M647 55L498 140M647 55L496 159M647 55L494 165M647 55L519 137M647 55L528 166M647 55L492 147M647 55L492 139M647 55L498 170M647 55L522 125M647 55L507 161M647 55L534 152M647 55L529 141M647 55L514 179M647 55L510 145M647 55L537 157M647 55L507 155M647 55L521 152M647 55L528 182M647 55L517 121M647 55L495 173M647 55L507 144M647 55L521 156M647 55L493 163M647 55L508 185M647 55L532 175M647 55L486 170M647 55L523 140M647 55L515 182M647 55L500 176M647 55L522 126M647 55L494 158M647 55L514 169M647 55L536 181M647 55L531 172M647 55L501 148M647 55L526 121M647 55L532 167M647 55L517 186M647 55L520 166M647 55L534 169M647 55L494 150M647 55L517 169M647 55L533 147M647 55L501 141M647 55L518 135M647 55L512 169M647 55L517 161M647 55L535 166M647 55L522 170M660 62L525 148M660 62L523 147M660 62L530 126M660 62L497 130M660 62L515 188M660 62L515 169M660 62L533 177M660 62L501 170M660 62L511 192M660 62L530 172M660 62L519 140M660 62L520 143M660 62L503 185M660 62L525 129M660 62L522 130M660 62L499 183M660 62L514 175M660 62L528 157M660 62L499 139M660 62L521 193M660 62L506 173M660 62L505 158M660 62L534 175M660 62L514 159M660 62L500 177M660 62L500 128M660 62L490 175M660 62L504 168M660 62L494 187M660 62L488 160M660 62L533 160M660 62L513 157M660 62L525 141M660 62L516 151M660 62L503 147M660 62L519 140M660 62L507 135M660 62L488 149M660 62L521 159M660 62L491 156M660 62L529 187M660 62L519 144M660 62L499 144M660 62L501 134M660 62L539 165M660 62L520 168M660 62L542 159M660 62L507 163M660 62L496 149M660 62L502 132M660 62L506 186M660 62L500 159M660 62L513 142M660 62L528 176M660 62L500 150M660 62L488 160M660 62L525 126M660 62L523 176M660 62L512 151M660 62L500 133M660 62L504 190M660 62L518 152M660 62L506 146M660 62L521 140M660 62L532 145M660 62L493 141M660 62L510 164M660 62L527 175M660 62L515 177M660 62L495 142M660 62L498 144M660 62L523 175M660 62L487 144M660 62L508 160M660 62L500 161M660 62L519 196M660 62L504 162M660 62L510 160M660 62L531 139M660 62L516 167M660 62L500 188M660 62L491 151M660 62L486 152M660 62L506 167M660 62L539 135M660 62L514 122M660 62L490 146M660 62L508 179M660 62L515 129M660 62L533 172M660 62L513 176M660 62L507 169M660 62L518 136M660 62L517 142M660 62L529 167M660 62L523 145M660 62L522 123M660 62L532 151M660 62L494 134M660 62L493 186M660 62L492 150M660 62L531 150M660 62L530 164M660 62L526 128M660 62L491 183M660 62L537 158M660 62L533 177M660 62L521 127M660 62L522 181M660 62L518 129M660 62L503 146M660 62L534 175M660 62L524 156M660 62L489 154M660 62L537 141M660 62L531 180M660 62L508 123M660 62L527 137M660 62L507 129M660 62L526 155M660 62L493 135M660 62L511 149M660 62L521 176M660 62L497 164M660 62L501 189M660 62L511 182M660 62L532 137M660 62L498 170M660 62L513 155M660 62L523 160M660 62L505 196M660 62L519 161M660 62L510 120M660 62L523 154M660 62L512 121M660 62L509 189M660 62L501 181M660 62L539 159M660 62L499 158M660 62L524 193M660 62L530 131M660 62L500 127M660 62L509 197M660 62L513 123M660 62L505 188M660 62L505 169M660 62L521 189M660 62L515 169M660 62L500 123M660 62L508 135M660 62L522 173M660 62L527 125M660 62L500 187M660 62L526 150M660 62L524 165M660 62L496 157M660 62L500 185M660 62L518 122M660 62L495 185M660 62L502 140M607 74L502 188M607 74L512 186M607 74L508 152M607 74L495 139M607 74L511 161M607 74L511 121M607 74L517 175M607 74L492 154M607 74L494 187M607 74L514 157M607 74L521 138M607 74L494 149M607 74L525 132M607 74L522 174M607 74L517 170M607 74L516 144M607 74L502 158M607 74L542 155M607 74L514 159M607 74L540 160M607 74L534 130M607 74L513 142M607 74L519 175M607 74L512 162M607 74L511 161M607 74L536 161M607 74L517 171M607 74L511 127M607 74L512 160M607 74L519 131M607 74L510 139M607 74L503 171M607 74L523 159M607 74L513 122M607 74L536 146M607 74L509 174M607 74L533 174M607 74L485 163M607 74L537 153M607 74L529 182M607 74L529 185M607 74L523 130M607 74L534 131M607 74L512 151M607 74L526 169M607 74L525 179M607 74L541 168M607 74L533 139M607 74L508 153M607 74L524 128M607 74L513 152M607 74L519 193M607 74L506 170M607 74L534 186M607 74L501 160M607 74L509 169M607 74L510 163M607 74L536 136M607 74L510 133M607 74L506 170M607 74L497 128M607 74L534 134M607 74L492 151M607 74L507 151M607 74L493 153M607 74L512 135M607 74L500 176M607 74L495 144M607 74L490 141M607 74L534 128M607 74L544 165M607 74L509 132M607 74L506 148M607 74L517 134M607 74L506 171M607 74L540 149M607 74L499 150M607 74L495 153M607 74L491 181M607 74L519 129M607 74L519 156M607 74L512 137M607 74L505 176M607 74L518 163M607 74L538 176M607 74L535 167M607 74L530 169M607 74L515 143M607 74L515 148M607 74L539 155M607 74L500 144M607 74L537 132M607 74L496 141M607 74L519 155M607 74L532 140M607 74L509 194M607 74L512 190M607 74L500 168M607 74L516 183M607 74L536 184M607 74L514 141M607 74L508 193M607 74L506 123M607 74L497 151M607 74L524 140M607 74L508 144M607 74L537 157M607 74L515 169M607 74L513 147M607 74L497 134M607 74L515 131M607 74L509 131M607 74L520 197M607 74L532 143M607 74L519 147M607 74L530 158M607 74L512 174M607 74L507 146M607 74L528 177M607 74L494 187M607 74L497 154M607 74L507 180M607 74L495 174M607 74L514 124M607 74L519 160M607 74L512 176M607 74L493 141M607 74L529 131M607 74L501 158M607 74L513 180M607 74L524 154M607 74L530 175M607 74L522 150M607 74L528 193M607 74L517 137M607 74L539 180M607 74L501 149M607 74L509 138M607 74L522 168M607 74L512 158M607 74L538 172M607 74L516 173M607 74L526 131M607 74L525 126M607 74L544 160M607 74L520 159M607 74L506 189M607 74L529 191M607 74L520 170M607 74L539 164M607 74L510 165M607 74L488 158M607 74L495 184M607 74L522 182M607 74L515 178M607 74L532 188M607 74L526 124M607 74L523 162M607 74L499 167M607 74L533 155M626 72L528 188M626 72L524 148M626 72L504 151M626 72L519 176M626 72L514 135M626 72L485 170M626 72L489 166M626 72L541 153M626 72L520 176M626 72L511 156M626 72L504 196M626 72L523 169M626 72L509 171M626 72L523 154M626 72L503 168M626 72L522 124M626 72L534 181M626 72L486 162M626 72L519 188M626 72L522 167M626 72L538 156M626 72L535 143M626 72L495 128M626 72L520 166M626 72L528 122M626 72L506 176M626 72L498 177M626 72L530 169M626 72L517 142M626 72L519 181M626 72L542 144M626 72L488 166M626 72L492 131M626 72L506 142M626 72L510 173M626 72L496 130M626 72L492 133M626 72L504 134M626 72L524 188M626 72L490 162M626 72L493 151M626 72L503 174M626 72L518 128M626 72L514 171M626 72L510 189M626 72L525 172M626 72L530 170M626 72L536 148M626 72L512 177M626 72L487 147M626 72L495 135M626 72L514 182M626 72L495 140M626 72L493 137M626 72L536 180M626 72L531 158M626 72L509 153M626 72L527 164M626 72L500 167M626 72L525 155M626 72L491 184M626 72L517 130M626 72L500 158M626 72L525 168M626 72L492 163M626 72L498 178M626 72L517 145M626 72L518 160M626 72L508 169M626 72L512 153M626 72L514 193M626 72L494 152M626 72L503 189M626 72L509 145M626 72L506 167M626 72L514 141M626 72L497 155M626 72L501 163M626 72L520 163M626 72L500 127M626 72L526 151M626 72L491 172M626 72L535 132M626 72L518 161M626 72L525 154M626 72L493 175M626 72L493 148M626 72L513 195M626 72L512 156M626 72L495 151M626 72L520 143M626 72L522 128M626 72L490 182M626 72L508 158M626 72L538 147M626 72L530 188M626 72L532 127M626 72L508 192M626 72L538 164M626 72L534 140M626 72L498 155M626 72L508 188M626 72L503 159M626 72L517 164M626 72L505 166M626 72L535 156M626 72L512 118M626 72L511 142M626 72L499 144M626 72L501 163M626 72L496 173M626 72L497 137M626 72L508 118M626 72L516 182M626 72L520 157M626 72L512 127M626 72L501 171M626 72L519 158M626 72L522 152M626 72L539 173M626 72L540 164M626 72L524 177M626 72L534 173M626 72L500 162M626 72L498 146M626 72L493 153M626 72L515 175M626 72L517 161M626 72L539 161M626 72L526 131M626 72L505 139M626 72L525 159M626 72L502 173M626 72L536 177M626 72L518 186M626 72L527 143M626 72L529 186M626 72L518 134M626 72L501 166M626 72L501 135M626 72L512 145M626 72L510 134M626 72L522 139M626 72L532 152M626 72L494 164M626 72L487 153M626 72L531 177M626 72L504 160M626 72L537 159M626 72L500 173M626 72L535 174M626 72L510 136M626 72L499 148M626 72L536 157M626 72L522 145M626 72L502 168M626 72L519 151M626 72L510 170M626 72L532 178M626 72L512 173M642 68L507 184M642 68L494 133M642 68L514 149M642 68L502 163M642 68L537 164M642 68L532 169M642 68L512 185M642 68L527 159M642 68L502 168M642 68L529 145M642 68L512 154M642 68L511 137M642 68L485 162M642 68L536 132M642 68L517 143M642 68L527 139M642 68L514 159M642 68L498 192M642 68L543 163M642 68L536 146M642 68L541 143M642 68L511 137M642 68L491 140M642 68L517 198M642 68L520 132M642 68L528 155M642 68L527 164M642 68L518 149M642 68L485 161M642 68L506 171M642 68L498 176M642 68L495 165M642 68L534 176M642 68L540 151M642 68L530 171M642 68L511 187M642 68L524 169M642 68L491 154M642 68L531 179M642 68L518 159M642 68L533 142M642 68L494 156M642 68L538 182M642 68L516 185M642 68L499 143M642 68L522 119M642 68L504 195M642 68L518 149M642 68L530 193M642 68L534 170M642 68L502 138M642 68L501 192M642 68L530 153M642 68L525 122M642 68L510 135M642 68L530 172M642 68L519 191M642 68L506 180M642 68L497 158M642 68L527 121M642 68L509 150M642 68L512 148M642 68L526 138M642 68L505 163M642 68L527 193M642 68L518 178M642 68L528 168M642 68L492 161M642 68L519 158M642 68L516 143M642 68L523 197M642 68L496 163M642 68L519 155M642 68L501 148M642 68L512 157M642 68L532 148M642 68L505 179M642 68L532 182M642 68L502 141M642 68L487 175M642 68L519 131M642 68L503 189M642 68L518 118M642 68L520 158M642 68L492 162M642 68L502 163M642 68L529 158M642 68L528 141M642 68L508 156M642 68L538 154M642 68L537 149M642 68L509 166M642 68L516 165M642 68L514 138M642 68L492 141M642 68L526 126M642 68L539 173M642 68L529 167M642 68L490 155M642 68L525 151M642 68L498 190M642 68L541 152M642 68L506 155M642 68L498 189M642 68L501 155M642 68L494 167M642 68L515 142M642 68L523 153M642 68L536 158M642 68L516 156M642 68L516 145M642 68L527 185M642 68L515 197M642 68L529 130M642 68L533 137M642 68L494 128M642 68L541 154M642 68L529 160M642 68L540 175M642 68L492 166M642 68L537 143M642 68L516 129M642 68L503 168M642 68L533 163M642 68L493 128M642 68L528 150M642 68L518 151M642 68L513 175M642 68L532 138M642 68L532 157M642 68L531 154M642 68L506 161M642 68L505 126M642 68L518 169M642 68L516 134M642 68L514 191M642 68L532 133M642 68L511 142M642 68L519 170M642 68L535 151M642 68L536 137M642 68L503 152M642 68L524 155M642 68L503 148M642 68L490 137M642 68L500 160M642 68L543 154M642 68L514 175M642 68L500 144M642 68L508 182M642 68L512 178M642 68L495 145M642 68L521 171M642 68L504 153M642 68L522 163M642 68L494 135M642 68L508 148M642 68L521 153M642 68L503 149M642 68L526 180M654 72L516 176M654 72L518 126M654 72L507 153M654 72L508 155M654 72L486 165M654 72L491 147M654 72L496 177M654 72L517 140M654 72L519 140M654 72L498 159M654 72L520 173M654 72L490 161M654 72L520 176M654 72L529 149M654 72L522 132M654 72L513 169M654 72L541 151M654 72L497 189M654 72L528 152M654 72L527 149M654 72L527 193M654 72L519 121M654 72L498 192M654 72L486 157M654 72L500 152M654 72L511 152M654 72L495 167M654 72L510 192M654 72L511 162M654 72L530 182M654 72L516 157M654 72L526 143M654 72L503 166M654 72L519 149M654 72L504 155M654 72L502 166M654 72L522 159M654 72L506 178M654 72L497 144M654 72L516 123M654 72L514 138M654 72L509 138M654 72L511 149M654 72L498 159M654 72L505 152M654 72L539 162M654 72L497 156M654 72L495 169M654 72L511 172M654 72L518 158M654 72L520 136M654 72L511 174M654 72L500 193M654 72L519 181M654 72L529 180M654 72L504 141M654 72L538 164M654 72L520 185M654 72L522 175M654 72L514 191M654 72L533 158M654 72L522 118M654 72L510 154M654 72L538 157M654 72L521 176M654 72L531 188M654 72L521 169M654 72L522 148M654 72L523 191M654 72L525 128M654 72L493 155M654 72L515 150M654 72L502 184M654 72L520 164M654 72L521 170M654 72L502 152M654 72L524 139M654 72L519 130M654 72L497 157M654 72L525 165M654 72L520 179M654 72L496 169M654 72L493 168M654 72L498 123M654 72L522 157M654 72L528 180M654 72L516 186M654 72L498 166M654 72L510 144M654 72L487 154M654 72L524 162M654 72L499 138M654 72L499 193M654 72L526 156M654 72L533 143M654 72L514 144M654 72L490 147M654 72L493 176M654 72L517 175M654 72L527 124M654 72L523 135M654 72L485 166M654 72L495 174M654 72L500 170M654 72L491 162M654 72L521 124M654 72L533 159M654 72L506 153M654 72L516 179M654 72L492 157M654 72L523 144M654 72L519 156M654 72L516 139M654 72L513 150M654 72L513 143M654 72L518 151M654 72L529 152M654 72L497 162M654 72L488 173M654 72L509 152M654 72L493 148M654 72L499 170M654 72L499 167M654 72L512 136M654 72L523 166M654 72L527 127M654 72L540 179M654 72L517 134M654 72L517 177M654 72L506 180M654 72L530 175M654 72L518 191M654 72L505 154M654 72L505 156M654 72L506 145M654 72L541 143M654 72L498 156M654 72L507 174M654 72L529 161M654 72L520 154M654 72L540 167M654 72L513 177M654 72L495 154M654 72L497 183M654 72L519 153M654 72L526 161M654 72L526 159M654 72L531 161M654 72L537 161M654 72L496 173M654 72L516 187M654 72L519 147M654 72L524 149M654 72L521 126M654 72L501 183M654 72L493 155M654 72L528 128M654 72L497 185M654 72L527 142M654 72L524 130M672 76L525 131M672 76L512 147M672 76L486 149M672 76L518 155M672 76L527 133M672 76L511 160M672 76L521 144M672 76L507 156M672 76L486 166M672 76L504 188M672 76L542 153M672 76L539 150M672 76L541 171M672 76L524 125M672 76L499 144M672 76L519 143M672 76L510 174M672 76L516 179M672 76L525 158M672 76L536 171M672 76L507 163M672 76L512 149M672 76L520 164M672 76L495 179M672 76L496 146M672 76L498 128M672 76L539 170M672 76L514 165M672 76L527 164M672 76L502 165M672 76L542 162M672 76L530 145M672 76L497 147M672 76L521 184M672 76L509 168M672 76L537 178M672 76L495 184M672 76L530 144M672 76L520 146M672 76L492 141M672 76L523 144M672 76L495 130M672 76L516 184M672 76L512 144M672 76L517 149M672 76L503 131M672 76L524 128M672 76L516 127M672 76L494 161M672 76L520 164M672 76L528 169M672 76L523 174M672 76L518 174M672 76L514 167M672 76L540 172M672 76L528 172M672 76L504 137M672 76L493 165M672 76L533 136M672 76L502 139M672 76L495 158M672 76L503 157M672 76L508 150M672 76L523 142M672 76L521 164M672 76L509 147M672 76L523 143M672 76L523 195M672 76L494 149M672 76L521 191M672 76L529 138M672 76L527 166M672 76L507 144M672 76L523 151M672 76L543 160M672 76L518 165M672 76L534 143M672 76L520 137M672 76L500 180M672 76L514 177M672 76L520 138M672 76L490 166M672 76L489 169M672 76L528 188M672 76L538 180M672 76L529 172M672 76L497 126M672 76L517 191M672 76L530 154M672 76L519 170M672 76L518 141M672 76L507 184M672 76L518 161M672 76L505 161M672 76L507 165M672 76L497 175M672 76L502 139M672 76L514 154M672 76L538 157M672 76L513 170M672 76L509 173M672 76L520 182M672 76L500 169M672 76L522 155M672 76L518 153M672 76L527 159M672 76L515 158M672 76L524 164M672 76L499 148M672 76L506 174M672 76L487 150M672 76L501 149M672 76L519 147M672 76L537 143M672 76L519 131M672 76L496 178M672 76L508 186M672 76L511 191M672 76L515 142M672 76L501 132M672 76L498 147M672 76L526 135M672 76L507 135M672 76L527 171M672 76L537 137M672 76L503 179M672 76L531 178M672 76L519 155M672 76L514 173M672 76L512 174M672 76L520 169M672 76L506 154M672 76L507 164M672 76L515 120M672 76L513 120M672 76L501 140M672 76L517 139M672 76L532 126M672 76L530 152M672 76L525 168M672 76L512 123M672 76L493 155M672 76L492 148M672 76L527 171M672 76L525 120M672 76L488 163M672 76L515 178M672 76L509 123M672 76L505 189M672 76L509 147M672 76L527 192M672 76L515 155M672 76L522 130M672 76L490 144M672 76L514 157M672 76L507 163M672 76L508 159M672 76L521 146M672 76L519 166M672 76L533 135M636 81L500 186M636 81L538 136M636 81L525 156M636 81L506 157M636 81L525 172M636 81L525 178M636 81L527 174M636 81L495 186M636 81L520 163M636 81L535 140M636 81L492 147M636 81L526 139M636 81L488 141M636 81L508 123M636 81L517 184M636 81L534 186M636 81L515 172M636 81L491 134M636 81L515 180M636 81L528 134M636 81L503 119M636 81L495 177M636 81L496 148M636 81L530 189M636 81L502 141M636 81L542 150M636 81L528 172M636 81L502 130M636 81L529 138M636 81L497 180M636 81L534 164M636 81L526 162M636 81L527 163M636 81L532 177M636 81L517 139M636 81L517 192M636 81L512 196M636 81L498 155M636 81L519 173M636 81L538 178M636 81L513 140M636 81L521 146M636 81L519 160M636 81L521 188M636 81L531 180M636 81L525 179M636 81L533 171M636 81L520 159M636 81L531 186M636 81L534 132M636 81L503 148M636 81L525 154M636 81L514 158M636 81L498 147M636 81L507 134M636 81L498 156M636 81L540 152M636 81L543 151M636 81L514 183M636 81L509 155M636 81L532 143M636 81L516 148M636 81L520 192M636 81L491 156M636 81L518 122M636 81L524 130M636 81L511 165M636 81L486 144M636 81L499 147M636 81L503 150M636 81L516 158M636 81L512 191M636 81L516 156M636 81L531 140M636 81L535 135M636 81L518 157M636 81L530 170M636 81L519 170M636 81L527 164M636 81L531 159M636 81L500 139M636 81L539 170M636 81L502 161M636 81L525 158M636 81L521 166M636 81L506 165M636 81L491 132M636 81L518 139M636 81L530 174M636 81L539 156M636 81L513 157M636 81L520 140M636 81L494 147M636 81L523 185M636 81L522 183M636 81L530 125M636 81L517 173M636 81L525 171M636 81L495 178M636 81L498 155M636 81L517 168M636 81L497 184M636 81L517 200M636 81L521 134M636 81L533 128M636 81L515 148M636 81L521 182M636 81L506 163M636 81L508 179M636 81L537 151M636 81L516 142M636 81L502 162M636 81L502 166M636 81L528 132M636 81L492 134M636 81L505 178M636 81L524 156M636 81L534 158M636 81L516 121M636 81L522 176M636 81L516 184M636 81L513 160M636 81L492 183M636 81L524 183M636 81L512 161M636 81L518 176M636 81L533 143M636 81L494 151M636 81L533 140M636 81L497 137M636 81L490 157M636 81L512 167M636 81L493 172M636 81L526 135M636 81L538 152M636 81L513 165M636 81L530 181M636 81L534 136M636 81L538 149M636 81L537 144M636 81L522 182M636 81L521 121M636 81L498 157M636 81L502 152M636 81L524 136M636 81L532 179M636 81L523 173M636 81L505 168M636 81L533 169M636 81L508 190M636 81L514 127M636 81L530 134M636 81L518 158M636 81L538 134M636 81L524 138M636 81L519 151M636 81L509 138M636 81L537 179M636 81L542 153M636 81L506 187M598 88L520 156M598 88L518 186M598 88L529 186M598 88L499 165M598 88L539 150M598 88L516 163M598 88L517 143M598 88L498 161M598 88L502 189M598 88L516 146M598 88L537 145M598 88L495 155M598 88L532 138M598 88L515 146M598 88L525 141M598 88L517 179M598 88L518 154M598 88L536 172M598 88L498 176M598 88L528 164M598 88L530 169M598 88L519 164M598 88L518 171M598 88L538 139M598 88L511 133M598 88L524 120M598 88L521 182M598 88L512 186M598 88L516 157M598 88L538 183M598 88L510 129M598 88L512 147M598 88L533 135M598 88L540 142M598 88L511 189M598 88L531 141M598 88L521 168M598 88L501 132M598 88L503 120M598 88L485 167M598 88L506 161M598 88L522 151M598 88L500 146M598 88L505 173M598 88L491 142M598 88L512 189M598 88L514 162M598 88L496 145M598 88L524 167M598 88L508 188M598 88L486 148M598 88L512 172M598 88L508 189M598 88L496 143M598 88L513 166M598 88L528 164M598 88L506 146M598 88L526 138M598 88L524 155M598 88L533 159M598 88L507 132M598 88L498 172M598 88L526 154M598 88L495 185M598 88L498 172M598 88L521 157M598 88L538 165M598 88L496 125M598 88L522 196M598 88L495 170M598 88L515 190M598 88L494 176M598 88L490 133M598 88L488 163M598 88L536 140M598 88L539 141M598 88L540 171M598 88L509 170M598 88L514 127M598 88L529 176M598 88L500 139M598 88L499 143M598 88L512 133M598 88L495 146M598 88L528 155M598 88L524 176M598 88L521 169M598 88L538 171M598 88L524 184M598 88L539 166M598 88L517 160M598 88L530 127M598 88L501 125M598 88L516 171M598 88L519 172M598 88L538 172M598 88L530 173M598 88L512 149M598 88L497 173M598 88L513 181M598 88L494 152M598 88L527 121M598 88L499 155M598 88L524 139M598 88L508 164M598 88L523 166M598 88L520 160M598 88L506 177M598 88L489 154M598 88L490 150M598 88L539 173M598 88L499 177M598 88L493 162M598 88L500 156M598 88L513 188M598 88L531 170M598 88L504 169M598 88L499 169M598 88L508 190M598 88L541 175M598 88L523 182M598 88L509 145M598 88L508 176M598 88L517 189M598 88L536 145M598 88L515 194M598 88L514 157M598 88L488 173M598 88L489 170M598 88L498 187M598 88L522 160M598 88L510 183M598 88L533 181M598 88L531 189M598 88L496 174M598 88L503 138M598 88L539 161M598 88L499 149M598 88L519 168M598 88L501 162M598 88L492 160M598 88L529 168M598 88L495 136M598 88L527 164M598 88L531 137M598 88L513 176M598 88L522 176M598 88L514 196M598 88L516 183M598 88L527 132M598 88L510 150M598 88L499 148M598 88L486 164M598 88L507 195M598 88L513 157M598 88L521 158M598 88L507 137M598 88L533 168M598 88L531 154M598 88L529 170M649 84L500 151M649 84L525 126M649 84L538 183M649 84L513 176M649 84L487 173M649 84L514 140M649 84L525 195M649 84L518 140M649 84L497 172M649 84L508 139M649 84L534 155M649 84L506 150M649 84L518 167M649 84L524 129M649 84L496 139M649 84L541 148M649 84L497 165M649 84L505 177M649 84L508 192M649 84L524 167M649 84L537 137M649 84L508 146M649 84L498 164M649 84L513 173M649 84L508 169M649 84L505 139M649 84L499 132M649 84L523 159M649 84L530 144M649 84L529 138M649 84L524 179M649 84L526 182M649 84L489 158M649 84L505 182M649 84L500 149M649 84L523 143M649 84L502 160M649 84L526 155M649 84L517 197M649 84L505 167M649 84L531 163M649 84L501 191M649 84L532 167M649 84L520 188M649 84L488 152M649 84L536 170M649 84L513 152M649 84L503 177M649 84L511 172M649 84L509 163M649 84L518 192M649 84L509 166M649 84L535 149M649 84L528 139M649 84L499 150M649 84L535 150M649 84L492 132M649 84L518 193M649 84L525 145M649 84L505 162M649 84L528 179M649 84L523 147M649 84L494 178M649 84L526 143M649 84L511 191M649 84L491 182M649 84L534 127M649 84L493 143M649 84L525 168M649 84L519 135M649 84L513 145M649 84L510 184M649 84L533 190M649 84L499 160M649 84L493 182M649 84L505 119M649 84L491 167M649 84L525 123M649 84L498 123M649 84L521 179M649 84L499 140M649 84L518 131M649 84L502 161M649 84L539 151M649 84L499 146M649 84L521 137M649 84L519 161M649 84L520 147M649 84L516 190M649 84L525 177M649 84L512 170M649 84L514 173M649 84L505 150M649 84L525 149M649 84L490 142M649 84L504 197M649 84L522 189M649 84L522 141M649 84L530 180M649 84L528 122M649 84L490 170M649 84L526 126M649 84L507 152M649 84L516 195M649 84L501 174M649 84L507 194M649 84L505 176M649 84L512 133M649 84L511 179M649 84L515 171M649 84L502 144M649 84L530 173M649 84L503 125M649 84L526 180M649 84L536 146M649 84L519 186M649 84L510 167M649 84L518 158M649 84L511 143M649 84L528 135M649 84L504 120M649 84L529 164M649 84L514 142M649 84L512 152M649 84L522 142M649 84L530 128M649 84L487 147M649 84L509 138M649 84L523 171M649 84L507 170M649 84L507 162M649 84L535 166M649 84L511 151M649 84L519 169M649 84L505 135M649 84L544 161M649 84L521 135M649 84L506 176M649 84L517 148M649 84L502 139M649 84L499 179M649 84L505 183M649 84L506 126M649 84L501 193M649 84L503 167M649 84L506 143M649 84L488 170M649 84L512 143M649 84L505 122M649 84L508 147M649 84L507 179M649 84L511 161M649 84L516 181M649 84L489 145M649 84L512 147M649 84L538 168M649 84L501 139M649 84L512 157M649 84L513 135M649 84L508 162M663 89L495 174M663 89L506 142M663 89L500 130M663 89L503 175M663 89L525 170M663 89L507 137M663 89L509 133M663 89L512 119M663 89L515 143M663 89L526 185M663 89L531 166M663 89L492 155M663 89L505 198M663 89L500 127M663 89L522 144M663 89L515 146M663 89L534 167M663 89L522 138M663 89L543 167M663 89L523 189M663 89L505 195M663 89L500 143M663 89L539 177M663 89L540 166M663 89L534 165M663 89L523 166M663 89L531 132M663 89L499 176M663 89L504 124M663 89L535 167M663 89L512 151M663 89L524 165M663 89L524 156M663 89L527 153M663 89L519 151M663 89L524 161M663 89L538 170M663 89L528 160M663 89L508 148M663 89L490 137M663 89L534 151M663 89L525 158M663 89L518 154M663 89L529 167M663 89L507 148M663 89L503 133M663 89L540 161M663 89L530 151M663 89L495 169M663 89L504 161M663 89L524 180M663 89L532 138M663 89L521 141M663 89L523 191M663 89L509 128M663 89L501 140M663 89L518 141M663 89L527 136M663 89L510 159M663 89L500 192M663 89L496 172M663 89L508 171M663 89L516 156M663 89L497 186M663 89L510 162M663 89L494 134M663 89L543 158M663 89L520 155M663 89L521 166M663 89L519 149M663 89L521 183M663 89L514 132M663 89L508 167M663 89L513 151M663 89L486 162M663 89L495 154M663 89L514 172M663 89L523 129M663 89L530 167M663 89L522 186M663 89L499 163M663 89L508 158M663 89L498 134M663 89L503 166M663 89L514 166M663 89L494 143M663 89L498 152M663 89L526 162M663 89L489 144M663 89L499 193M663 89L523 182M663 89L500 134M663 89L496 139M663 89L511 138M663 89L492 159M663 89L512 140M663 89L489 164M663 89L516 188M663 89L496 129M663 89L508 138M663 89L531 186M663 89L508 158M663 89L509 171M663 89L522 152M663 89L519 159M663 89L518 127M663 89L535 177M663 89L510 168M663 89L513 155M663 89L516 137M663 89L507 175M663 89L533 164M663 89L506 151M663 89L523 150M663 89L500 161M663 89L504 141M663 89L509 155M663 89L521 129M663 89L500 186M663 89L486 148M663 89L517 159M663 89L523 143M663 89L525 162M663 89L510 150M663 89L514 147M663 89L522 189M663 89L507 173M663 89L533 179M663 89L500 167M663 89L504 178M663 89L496 126M663 89L493 158M663 89L498 143M663 89L498 131M663 89L503 189M663 89L515 161M663 89L510 136M663 89L510 153M663 89L510 196M663 89L530 157M663 89L514 155M663 89L529 164M663 89L506 191M663 89L499 161M663 89L518 120M663 89L521 173M663 89L534 164M663 89L503 172M663 89L508 145M663 89L520 157M663 89L502 183M663 89L521 150M663 89L516 158M663 89L510 130M663 89L523 161M663 89L514 151M663 89L495 148M663 89L505 168M663 89L538 178M663 89L520 186M612 93L516 155M612 93L508 153M612 93L527 157M612 93L503 181M612 93L519 140M612 93L535 177M612 93L495 128M612 93L520 176M612 93L514 190M612 93L521 138M612 93L507 155M612 93L521 138M612 93L530 157M612 93L522 168M612 93L512 174M612 93L508 172M612 93L507 181M612 93L509 155M612 93L508 130M612 93L505 131M612 93L514 164M612 93L513 179M612 93L542 160M612 93L531 148M612 93L538 150M612 93L506 165M612 93L532 145M612 93L516 188M612 93L501 165M612 93L507 173M612 93L522 154M612 93L517 156M612 93L510 157M612 93L516 153M612 93L543 157M612 93L539 153M612 93L501 177M612 93L537 175M612 93L501 176M612 93L509 180M612 93L496 184M612 93L517 178M612 93L519 143M612 93L520 135M612 93L500 187M612 93L508 125M612 93L492 158M612 93L503 121M612 93L525 141M612 93L525 150M612 93L501 178M612 93L531 155M612 93L528 161M612 93L516 161M612 93L514 159M612 93L521 164M612 93L520 177M612 93L535 132M612 93L527 172M612 93L508 149M612 93L529 125M612 93L520 153M612 93L534 149M612 93L522 145M612 93L529 135M612 93L491 164M612 93L509 176M612 93L526 152M612 93L507 148M612 93L514 156M612 93L501 148M612 93L491 173M612 93L507 158M612 93L490 158M612 93L521 167M612 93L500 155M612 93L509 151M612 93L506 150M612 93L520 189M612 93L522 173M612 93L506 140M612 93L539 155M612 93L515 158M612 93L523 187M612 93L505 166M612 93L517 197M612 93L531 168M612 93L542 164M612 93L524 145M612 93L507 149M612 93L506 191M612 93L532 183M612 93L533 150M612 93L521 153M612 93L509 149M612 93L507 167M612 93L507 127M612 93L509 165M612 93L526 180M612 93L519 123M612 93L506 187M612 93L497 148M612 93L503 158M612 93L503 149M612 93L523 190M612 93L496 153M612 93L525 171M612 93L515 160M612 93L507 148M612 93L518 157M612 93L496 145M612 93L509 128M612 93L518 158M612 93L522 140M612 93L507 164M612 93L519 183M612 93L502 157M612 93L536 147M612 93L520 121M612 93L513 165M612 93L533 158M612 93L496 125M612 93L497 181M612 93L503 167M612 93L513 144M612 93L516 161M612 93L512 168M612 93L505 173M612 93L524 166M612 93L527 146M612 93L525 150M612 93L528 148M612 93L536 185M612 93L525 154M612 93L538 179M612 93L543 161M612 93L512 121M612 93L508 158M612 93L530 168M612 93L493 175M612 93L504 138M612 93L494 169M612 93L498 157M612 93L511 199M612 93L527 193M612 93L498 131M612 93L507 183M612 93L500 160M612 93L513 172M612 93L505 135M612 93L509 185M612 93L495 127M612 93L514 143M612 93L514 168M612 93L519 135M612 93L519 163M612 93L521 175M612 93L496 143M612 93L488 174M612 93L490 136M624 86L493 133M624 86L536 144M624 86L510 126M624 86L534 169M624 86L535 166M624 86L524 144M624 86L499 155M624 86L490 140M624 86L511 178M624 86L532 176M624 86L500 178M624 86L502 153M624 86L509 146M624 86L528 174M624 86L498 137M624 86L527 194M624 86L519 170M624 86L516 192M624 86L513 157M624 86L505 143M624 86L525 154M624 86L514 129M624 86L529 172M624 86L534 138M624 86L503 144M624 86L525 126M624 86L498 158M624 86L507 174M624 86L511 180M624 86L500 131M624 86L488 160M624 86L511 184M624 86L502 178M624 86L520 133M624 86L512 145M624 86L526 162M624 86L524 179M624 86L494 159M624 86L507 161M624 86L517 185M624 86L509 149M624 86L521 178M624 86L505 196M624 86L501 185M624 86L495 184M624 86L507 141M624 86L503 150M624 86L522 179M624 86L537 132M624 86L506 136M624 86L518 164M624 86L513 146M624 86L515 154M624 86L511 164M624 86L510 189M624 86L517 173M624 86L488 156M624 86L526 165M624 86L540 162M624 86L526 148M624 86L529 183M624 86L508 190M624 86L535 170M624 86L539 178M624 86L503 162M624 86L523 198M624 86L508 162M624 86L510 174M624 86L524 160M624 86L485 147M624 86L491 134M624 86L523 148M624 86L534 147M624 86L491 135M624 86L499 156M624 86L538 146M624 86L521 117M624 86L506 159M624 86L533 185M624 86L511 176M624 86L519 127M624 86L495 128M624 86L489 159M624 86L508 158M624 86L495 150M624 86L524 168M624 86L506 149M624 86L515 144M624 86L544 163M624 86L529 152M624 86L521 137M624 86L538 165M624 86L520 187M624 86L489 176M624 86L522 153M624 86L513 148M624 86L491 176M624 86L493 187M624 86L492 162M624 86L491 141M624 86L514 165M624 86L498 138M624 86L488 141M624 86L524 187M624 86L527 161M624 86L499 147M624 86L534 165M624 86L508 150M624 86L500 182M624 86L530 192M624 86L525 168M624 86L521 144M624 86L533 162M624 86L510 151M624 86L525 140M624 86L539 167M624 86L519 120M624 86L496 147M624 86L518 194M624 86L528 191M624 86L494 168M624 86L502 182M624 86L524 147M624 86L504 169M624 86L500 162M624 86L512 127M624 86L501 157M624 86L514 131M624 86L509 151M624 86L513 131M624 86L500 184M624 86L495 155M624 86L505 185M624 86L501 157M624 86L487 160M624 86L517 190M624 86L514 169M624 86L534 148M624 86L488 145M624 86L504 121M624 86L519 174M624 86L512 177M624 86L501 171M624 86L525 156M624 86L533 187M624 86L529 189M624 86L488 144M624 86L492 169M624 86L542 156M624 86L522 189M624 86L499 178M624 86L528 152M624 86L527 173M624 86L536 186M624 86L495 147M624 86L506 152M624 86L503 135M624 86L506 180M624 86L534 186M624 86L494 143M630 97L512 152M630 97L506 181M630 97L510 118M630 97L532 185M630 97L519 178M630 97L498 152M630 97L492 153M630 97L533 137M630 97L501 150M630 97L528 168M630 97L531 187M630 97L494 153M630 97L488 148M630 97L505 197M630 97L506 198M630 97L521 150M630 97L514 143M630 97L517 135M630 97L542 148M630 97L530 184M630 97L517 122M630 97L510 187M630 97L531 160M630 97L514 170M630 97L499 140M630 97L507 147M630 97L496 152M630 97L542 170M630 97L490 144M630 97L510 189M630 97L536 164M630 97L527 135M630 97L508 170M630 97L497 182M630 97L504 159M630 97L532 141M630 97L534 152M630 97L537 147M630 97L511 185M630 97L494 173M630 97L508 147M630 97L533 160M630 97L489 141M630 97L517 144M630 97L489 152M630 97L518 150M630 97L500 161M630 97L516 169M630 97L490 175M630 97L509 157M630 97L512 157M630 97L527 150M630 97L500 131M630 97L501 123M630 97L490 176M630 97L527 136M630 97L510 161M630 97L534 173M630 97L522 132M630 97L491 162M630 97L501 152M630 97L487 176M630 97L521 189M630 97L498 176M630 97L512 154M630 97L527 183M630 97L488 150M630 97L529 152M630 97L526 146M630 97L503 176M630 97L518 199M630 97L486 165M630 97L491 170M630 97L499 124M630 97L522 134M630 97L496 140M630 97L499 186M630 97L523 172M630 97L510 137M630 97L530 192M630 97L540 154M630 97L520 157M630 97L507 160M630 97L498 152M630 97L528 170M630 97L532 171M630 97L494 149M630 97L514 174M630 97L521 174M630 97L543 167M630 97L517 181M630 97L508 140M630 97L502 149M630 97L515 168M630 97L514 177M630 97L529 163M630 97L521 135M630 97L529 178M630 97L537 143M630 97L527 161M630 97L510 152M630 97L507 164M630 97L519 166M630 97L531 139M630 97L497 149M630 97L539 161M630 97L495 155M630 97L491 139M630 97L500 139M630 97L520 151M630 97L518 163M630 97L505 167M630 97L516 168M630 97L508 174M630 97L540 147M630 97L511 180M630 97L526 144M630 97L536 164M630 97L530 167M630 97L513 154M630 97L499 185M630 97L533 155M630 97L497 143M630 97L507 145M630 97L515 138M630 97L523 120M630 97L500 126M630 97L492 179M630 97L504 183M630 97L498 140M630 97L524 166M630 97L520 179M630 97L508 177M630 97L538 138M630 97L512 167M630 97L514 158M630 97L512 138M630 97L540 144M630 97L541 159M630 97L543 153M630 97L504 159M630 97L531 182M630 97L511 176M630 97L530 149M630 97L540 175M630 97L502 145M630 97L532 143M630 97L509 184M630 97L542 153M630 97L523 190M630 97L507 183M630 97L530 157M630 97L518 168M630 97L537 158M630 97L510 188M630 97L528 175M630 97L522 161M630 97L511 125M630 97L524 192M630 97L505 183M646 97L506 138M646 97L514 185M646 97L536 146M646 97L499 142M646 97L514 116M646 97L492 131M646 97L519 147M646 97L517 140M646 97L511 155M646 97L504 166M646 97L532 163M646 97L499 127M646 97L519 162M646 97L504 140M646 97L516 145M646 97L503 129M646 97L498 172M646 97L500 163M646 97L503 196M646 97L526 178M646 97L520 150M646 97L528 128M646 97L515 168M646 97L497 147M646 97L542 168M646 97L513 160M646 97L504 150M646 97L498 172M646 97L520 157M646 97L536 142M646 97L505 140M646 97L513 143M646 97L509 172M646 97L520 190M646 97L524 184M646 97L529 141M646 97L536 131M646 97L498 154M646 97L511 164M646 97L509 143M646 97L493 171M646 97L526 142M646 97L490 141M646 97L506 187M646 97L514 144M646 97L493 166M646 97L499 159M646 97L511 153M646 97L525 177M646 97L493 166M646 97L526 142M646 97L515 200M646 97L493 172M646 97L487 162M646 97L525 190M646 97L511 154M646 97L518 139M646 97L520 177M646 97L496 177M646 97L511 157M646 97L536 163M646 97L491 137M646 97L520 173M646 97L494 177M646 97L509 152M646 97L513 189M646 97L533 167M646 97L536 166M646 97L521 161M646 97L507 171M646 97L515 158M646 97L498 160M646 97L498 146M646 97L518 180M646 97L535 129M646 97L502 157M646 97L502 133M646 97L519 161M646 97L524 144M646 97L531 157M646 97L491 171M646 97L488 151M646 97L539 151M646 97L531 189M646 97L486 159M646 97L531 183M646 97L517 147M646 97L524 188M646 97L518 156M646 97L513 170M646 97L538 154M646 97L522 164M646 97L533 150M646 97L514 133M646 97L530 165M646 97L536 144M646 97L489 153M646 97L504 185M646 97L518 147M646 97L530 180M646 97L497 133M646 97L513 121M646 97L494 146M646 97L501 167M646 97L508 167M646 97L529 146M646 97L517 180M646 97L517 137M646 97L531 161M646 97L517 160M646 97L500 189M646 97L505 145M646 97L497 168M646 97L516 179M646 97L507 173M646 97L501 168M646 97L537 175M646 97L531 164M646 97L531 148M646 97L512 124M646 97L508 164M646 97L516 158M646 97L533 153M646 97L490 183M646 97L495 161M646 97L514 186M646 97L507 152M646 97L510 166M646 97L511 194M646 97L507 164M646 97L508 180M646 97L526 144M646 97L522 133M646 97L520 159M646 97L515 142M646 97L513 166M646 97L512 184M646 97L531 133M646 97L502 121M646 97L517 167M646 97L490 164M646 97L498 143M646 97L513 145M646 97L514 120M646 97L504 145M646 97L505 151M646 97L491 138M646 97L496 136M646 97L540 142M646 97L504 167M646 97L532 171M646 97L487 164M646 97L493 158M646 97L513 197M646 97L499 170M646 97L536 160M646 97L504 147M646 97L487 154M646 97L508 147M646 97L504 174M669 105L509 170M669 105L541 150M669 105L514 166M669 105L500 164M669 105L503 188M669 105L534 172M669 105L533 148M669 105L533 177M669 105L500 160M669 105L527 173M669 105L521 199M669 105L526 121M669 105L522 161M669 105L525 137M669 105L521 166M669 105L527 132M669 105L524 145M669 105L533 145M669 105L526 168M669 105L501 162M669 105L530 162M669 105L494 186M669 105L518 142M669 105L508 135M669 105L515 136M669 105L532 139M669 105L501 185M669 105L499 160M669 105L512 142M669 105L512 161M669 105L508 155M669 105L506 130M669 105L496 187M669 105L512 199M669 105L536 149M669 105L502 164M669 105L490 164M669 105L503 151M669 105L506 173M669 105L540 154M669 105L510 177M669 105L511 156M669 105L537 177M669 105L516 138M669 105L521 184M669 105L515 134M669 105L513 135M669 105L512 145M669 105L497 170M669 105L531 163M669 105L517 155M669 105L497 132M669 105L521 129M669 105L520 169M669 105L508 153M669 105L496 130M669 105L518 123M669 105L493 171M669 105L485 169M669 105L543 158M669 105L540 165M669 105L503 170M669 105L494 174M669 105L507 152M669 105L503 192M669 105L488 156M669 105L537 156M669 105L521 183M669 105L526 151M669 105L540 142M669 105L537 140M669 105L513 153M669 105L498 130M669 105L532 130M669 105L499 128M669 105L529 149M669 105L502 190M669 105L529 152M669 105L527 173M669 105L498 151M669 105L517 165M669 105L519 129M669 105L524 172M669 105L496 136M669 105L534 166M669 105L507 147M669 105L514 139M669 105L535 182M669 105L516 119M669 105L512 129M669 105L517 157M669 105L535 172M669 105L536 148M669 105L514 160M669 105L491 176M669 105L493 142M669 105L534 162M669 105L518 184M669 105L520 148M669 105L503 179M669 105L528 136M669 105L487 161M669 105L511 133M669 105L520 151M669 105L510 180M669 105L494 133M669 105L529 182M669 105L541 151M669 105L526 145M669 105L505 146M669 105L521 142M669 105L502 156M669 105L542 153M669 105L503 132M669 105L524 131M669 105L528 135M669 105L500 150M669 105L540 179M669 105L503 168M669 105L498 152M669 105L498 175M669 105L513 141M669 105L507 140M669 105L510 118M669 105L523 180M669 105L521 139M669 105L537 165M669 105L534 170M669 105L513 161M669 105L512 129M669 105L506 152M669 105L523 172M669 105L520 153M669 105L510 122M669 105L506 132M669 105L511 164M669 105L515 152M669 105L505 177M669 105L520 134M669 105L521 127M669 105L534 163M669 105L537 136M669 105L516 169M669 105L506 142M669 105L500 148M669 105L508 175M669 105L508 188M669 105L515 183M669 105L517 118M669 105L492 150M669 105L532 162M669 105L529 179M669 105L497 143M669 105L508 185M669 105L506 195M669 105L503 153M669 105L506 182M669 105L522 193M669 105L518 129M669 105L488 145M606 107L493 146M606 107L509 157M606 107L530 153M606 107L489 158M606 107L512 183M606 107L492 138M606 107L508 192M606 107L513 168M606 107L506 164M606 107L509 157M606 107L501 136M606 107L484 159M606 107L507 146M606 107L539 175M606 107L499 130M606 107L521 154M606 107L533 156M606 107L490 173M606 107L487 158M606 107L511 193M606 107L515 140M606 107L517 162M606 107L535 139M606 107L509 123M606 107L509 134M606 107L538 133M606 107L520 145M606 107L524 142M606 107L504 134M606 107L497 146M606 107L511 169M606 107L519 159M606 107L539 154M606 107L523 150M606 107L512 138M606 107L500 163M606 107L504 133M606 107L507 135M606 107L514 171M606 107L517 185M606 107L529 167M606 107L508 134M606 107L520 165M606 107L506 173M606 107L539 160M606 107L527 172M606 107L509 160M606 107L493 138M606 107L535 165M606 107L510 126M606 107L522 143M606 107L513 195M606 107L504 156M606 107L529 150M606 107L526 141M606 107L538 178M606 107L509 149M606 107L521 163M606 107L493 153M606 107L522 183M606 107L522 138M606 107L542 163M606 107L535 144M606 107L509 148M606 107L525 186M606 107L509 120M606 107L487 162M606 107L525 164M606 107L517 130M606 107L533 155M606 107L488 157M606 107L518 167M606 107L529 160M606 107L528 133M606 107L530 142M606 107L518 138M606 107L505 193M606 107L506 165M606 107L538 160M606 107L530 162M606 107L494 166M606 107L524 182M606 107L498 132M606 107L511 138M606 107L493 162M606 107L510 159M606 107L541 166M606 107L507 198M606 107L535 171M606 107L512 198M606 107L526 152M606 107L512 132M606 107L537 175M606 107L508 149M606 107L538 154M606 107L518 142M606 107L522 180M606 107L520 161M606 107L519 168M606 107L533 127M606 107L497 177M606 107L538 140M606 107L495 156M606 107L507 187M606 107L501 148M606 107L502 176M606 107L500 137M606 107L524 134M606 107L503 145M606 107L513 118M606 107L503 121M606 107L514 173M606 107L510 129M606 107L498 165M606 107L513 164M606 107L518 155M606 107L499 125M606 107L485 153M606 107L520 174M606 107L504 147M606 107L490 146M606 107L510 134M606 107L510 177M606 107L512 185M606 107L512 154M606 107L519 138M606 107L528 182M606 107L512 145M606 107L522 119M606 107L531 185M606 107L527 172M606 107L506 172M606 107L506 178M606 107L487 164M606 107L523 166M606 107L511 166M606 107L490 142M606 107L521 174M606 107L500 171M606 107L532 178M606 107L508 181M606 107L511 192M606 107L495 167M606 107L512 187M606 107L522 141M606 107L499 171M606 107L490 177M606 107L523 132M606 107L494 186M606 107L508 133M606 107L511 121M606 107L518 151M606 107L535 151M606 107L513 156M606 107L518 139M606 107L517 140M606 107L503 155M606 107L487 171M606 107L487 151M606 107L500 161M624 109L506 136M624 109L492 139M624 109L536 175M624 109L485 162M624 109L527 183M624 109L525 122M624 109L499 188M624 109L532 170M624 109L528 164M624 109L512 139M624 109L531 138M624 109L505 134M624 109L527 124M624 109L507 156M624 109L485 150M624 109L515 173M624 109L529 143M624 109L525 190M624 109L529 148M624 109L501 168M624 109L496 156M624 109L513 145M624 109L520 125M624 109L499 136M624 109L525 147M624 109L497 125M624 109L506 145M624 109L536 167M624 109L523 133M624 109L517 170M624 109L538 168M624 109L518 164M624 109L528 163M624 109L518 143M624 109L505 182M624 109L523 140M624 109L505 185M624 109L541 173M624 109L501 182M624 109L514 160M624 109L522 147M624 109L543 159M624 109L510 125M624 109L495 159M624 109L508 144M624 109L516 131M624 109L538 134M624 109L501 153M624 109L514 124M624 109L518 178M624 109L514 165M624 109L523 188M624 109L505 146M624 109L498 169M624 109L524 149M624 109L499 151M624 109L508 139M624 109L520 156M624 109L527 178M624 109L502 159M624 109L527 172M624 109L510 159M624 109L507 132M624 109L521 193M624 109L524 140M624 109L520 153M624 109L521 183M624 109L495 182M624 109L504 151M624 109L505 157M624 109L541 142M624 109L503 169M624 109L535 150M624 109L501 158M624 109L528 177M624 109L518 147M624 109L503 180M624 109L526 156M624 109L513 178M624 109L516 173M624 109L516 188M624 109L513 173M624 109L509 164M624 109L515 155M624 109L542 172M624 109L505 130M624 109L487 172M624 109L522 149M624 109L514 124M624 109L519 133M624 109L512 132M624 109L503 139M624 109L506 186M624 109L526 156M624 109L535 160M624 109L535 175M624 109L515 143M624 109L488 153M624 109L489 174M624 109L516 157M624 109L498 145M624 109L525 133M624 109L504 132M624 109L531 126M624 109L514 167M624 109L523 149M624 109L499 165M624 109L515 195M624 109L500 155M624 109L532 160M624 109L528 143M624 109L517 133M624 109L518 137M624 109L539 182M624 109L497 180M624 109L513 174M624 109L512 164M624 109L502 146M624 109L495 177M624 109L489 158M624 109L492 167M624 109L522 193M624 109L536 149M624 109L497 192M624 109L505 153M624 109L496 188M624 109L506 155M624 109L535 157M624 109L499 138M624 109L520 157M624 109L536 149M624 109L496 141M624 109L537 174M624 109L504 128M624 109L504 146M624 109L510 152M624 109L537 166M624 109L519 166M624 109L497 188M624 109L490 165M624 109L500 146M624 109L495 146M624 109L531 184M624 109L519 136M624 109L527 155M624 109L509 170M624 109L536 136M624 109L510 185M624 109L499 150M624 109L514 144M624 109L519 156M624 109L508 142M624 109L535 185M624 109L541 156M624 109L522 182M624 109L530 160M624 109L507 148M624 109L493 144M624 109L527 142M624 109L492 157M640 110L496 143M640 110L515 156M640 110L519 179M640 110L524 134M640 110L533 148M640 110L507 163M640 110L495 153M640 110L507 162M640 110L523 163M640 110L489 181M640 110L502 144M640 110L505 172M640 110L519 129M640 110L518 139M640 110L499 151M640 110L521 179M640 110L524 184M640 110L522 180M640 110L492 162M640 110L519 184M640 110L508 151M640 110L507 154M640 110L514 147M640 110L521 186M640 110L506 137M640 110L501 135M640 110L516 149M640 110L508 194M640 110L526 162M640 110L492 169M640 110L516 137M640 110L503 149M640 110L499 186M640 110L536 184M640 110L515 148M640 110L528 155M640 110L501 168M640 110L512 152M640 110L525 170M640 110L525 185M640 110L529 154M640 110L506 181M640 110L520 181M640 110L495 163M640 110L505 183M640 110L517 178M640 110L493 186M640 110L514 179M640 110L496 141M640 110L508 136M640 110L505 142M640 110L504 170M640 110L512 143M640 110L504 159M640 110L493 160M640 110L533 141M640 110L523 181M640 110L527 182M640 110L516 146M640 110L492 167M640 110L510 150M640 110L527 126M640 110L507 173M640 110L515 189M640 110L534 184M640 110L510 182M640 110L532 147M640 110L514 123M640 110L513 182M640 110L512 198M640 110L522 175M640 110L504 183M640 110L531 140M640 110L496 135M640 110L504 132M640 110L486 166M640 110L506 172M640 110L515 182M640 110L543 166M640 110L523 189M640 110L516 142M640 110L501 121M640 110L530 123M640 110L529 166M640 110L516 138M640 110L521 142M640 110L484 164M640 110L514 199M640 110L532 164M640 110L501 130M640 110L524 148M640 110L506 194M640 110L513 124M640 110L517 182M640 110L538 149M640 110L533 165M640 110L503 138M640 110L519 165M640 110L518 167M640 110L512 142M640 110L535 173M640 110L511 120M640 110L526 167M640 110L518 174M640 110L520 182M640 110L519 167M640 110L491 133M640 110L543 160M640 110L521 133M640 110L513 156M640 110L503 174M640 110L524 123M640 110L514 174M640 110L506 136M640 110L525 184M640 110L502 157M640 110L527 194M640 110L502 188M640 110L493 164M640 110L525 159M640 110L526 147M640 110L520 129M640 110L523 134M640 110L514 169M640 110L533 143M640 110L536 139M640 110L522 145M640 110L506 164M640 110L504 151M640 110L532 177M640 110L539 138M640 110L503 122M640 110L502 186M640 110L513 179M640 110L524 130M640 110L503 187M640 110L489 151M640 110L530 165M640 110L521 155M640 110L503 143M640 110L520 174M640 110L499 139M640 110L487 163M640 110L518 154M640 110L494 153M640 110L516 184M640 110L512 174M640 110L496 145M640 110L507 131M640 110L496 137M640 110L500 155M640 110L529 133M640 110L511 164M640 110L513 136M640 110L540 146M640 110L490 145M640 110L516 143M640 110L528 168M640 110L541 145M640 110L523 129M655 108L540 166M655 108L542 160M655 108L536 175M655 108L536 167M655 108L508 166M655 108L487 164M655 108L532 153M655 108L508 186M655 108L505 159M655 108L519 147M655 108L490 166M655 108L510 127M655 108L527 147M655 108L512 132M655 108L507 145M655 108L502 152M655 108L519 189M655 108L529 154M655 108L530 156M655 108L533 139M655 108L525 149M655 108L521 148M655 108L502 138M655 108L499 140M655 108L498 136M655 108L538 140M655 108L503 123M655 108L502 153M655 108L532 146M655 108L508 138M655 108L502 149M655 108L519 170M655 108L527 175M655 108L515 188M655 108L510 131M655 108L532 140M655 108L493 182M655 108L540 142M655 108L507 137M655 108L514 135M655 108L518 140M655 108L503 172M655 108L507 150M655 108L501 149M655 108L502 124M655 108L509 161M655 108L516 152M655 108L508 158M655 108L488 145M655 108L518 141M655 108L531 136M655 108L515 181M655 108L528 178M655 108L505 177M655 108L505 140M655 108L519 165M655 108L534 189M655 108L530 174M655 108L526 125M655 108L519 160M655 108L493 136M655 108L522 130M655 108L514 172M655 108L517 128M655 108L521 154M655 108L543 148M655 108L509 168M655 108L514 184M655 108L488 139M655 108L500 163M655 108L514 181M655 108L504 172M655 108L492 160M655 108L500 160M655 108L518 143M655 108L493 182M655 108L526 140M655 108L498 153M655 108L528 146M655 108L508 164M655 108L496 139M655 108L514 126M655 108L517 168M655 108L511 176M655 108L530 148M655 108L518 166M655 108L517 177M655 108L523 179M655 108L541 163M655 108L523 174M655 108L497 176M655 108L528 186M655 108L516 136M655 108L518 172M655 108L525 157M655 108L498 176M655 108L498 137M655 108L540 147M655 108L491 161M655 108L516 163M655 108L504 187M655 108L517 169M655 108L501 127M655 108L513 154M655 108L537 142M655 108L532 184M655 108L499 171M655 108L520 166M655 108L497 154M655 108L508 190M655 108L516 191M655 108L500 134M655 108L495 129M655 108L514 177M655 108L507 140M655 108L509 153M655 108L511 151M655 108L535 179M655 108L514 181M655 108L511 182M655 108L515 148M655 108L530 168M655 108L509 167M655 108L512 185M655 108L513 149M655 108L510 147M655 108L530 155M655 108L509 173M655 108L490 180M655 108L513 150M655 108L514 160M655 108L498 161M655 108L494 169M655 108L505 129M655 108L496 165M655 108L511 120M655 108L499 163M655 108L511 122M655 108L516 150M655 108L492 177M655 108L528 170M655 108L508 150M655 108L496 140M655 108L513 184M655 108L492 166M655 108L502 126M655 108L538 155M655 108L507 175M655 108L522 146M655 108L512 172M655 108L525 145M655 108L521 182M655 108L529 156M655 108L531 162M655 108L511 135M655 108L538 175M655 108L503 151M655 108L519 137M655 108L502 133M655 108L508 158" stroke="#9e9e9e" stroke-width="0.9" stroke-opacity="0.4"/><path d="M613 61L511 139M613 61L492 215M613 61L483 207M613 61L494 202M613 61L480 156M613 61L511 222M613 61L520 202M613 61L502 220M613 61L482 172M613 61L486 240M613 61L497 171M613 61L499 146M613 61L480 150M613 61L527 151M613 61L509 204M613 61L525 148M613 61L498 148M613 61L520 215M613 61L491 121M613 61L520 121M613 61L477 206M613 61L497 207M613 61L476 151M613 61L483 234M613 61L505 135M613 61L472 156M613 61L513 213M613 61L475 143M613 61L472 154M613 61L516 217M613 61L474 202M613 61L500 158M613 61L490 169M613 61L496 128M613 61L518 153M613 61L497 119M613 61L516 121M613 61L516 121M613 61L520 140M613 61L481 149M632 56L476 157M632 56L485 236M632 56L512 213M632 56L492 202M632 56L520 173M632 56L498 165M632 56L487 118M632 56L512 171M632 56L480 164M632 56L505 229M632 56L484 239M632 56L502 205M632 56L500 228M632 56L513 168M632 56L529 173M632 56L504 226M632 56L473 241M632 56L520 202M632 56L493 119M632 56L478 182M632 56L513 139M632 56L492 215M632 56L511 153M632 56L503 186M632 56L483 148M632 56L520 216M632 56L509 226M632 56L513 228M632 56L508 116M632 56L520 146M632 56L534 175M632 56L520 211M632 56L504 160M632 56L512 125M632 56L511 155M632 56L487 128M632 56L529 156M632 56L509 144M632 56L522 188M632 56L484 191M647 55L478 189M647 55L479 132M647 55L481 121M647 55L494 204M647 55L490 140M647 55L496 123M647 55L496 131M647 55L517 172M647 55L516 165M647 55L480 164M647 55L488 132M647 55L501 183M647 55L475 222M647 55L508 218M647 55L508 155M647 55L486 118M647 55L499 122M647 55L475 203M647 55L476 157M647 55L495 245M647 55L521 207M647 55L488 159M647 55L496 200M647 55L517 163M647 55L492 190M647 55L516 164M647 55L497 227M647 55L477 151M647 55L486 173M647 55L490 231M647 55L497 218M647 55L500 175M647 55L492 217M647 55L507 210M647 55L479 132M647 55L511 229M647 55L472 223M647 55L486 123M647 55L507 146M647 55L524 152M660 62L477 181M660 62L486 219M660 62L516 209M660 62L532 178M660 62L497 148M660 62L520 117M660 62L528 166M660 62L500 147M660 62L498 188M660 62L482 131M660 62L490 138M660 62L508 138M660 62L473 223M660 62L533 192M660 62L479 133M660 62L494 124M660 62L516 144M660 62L499 147M660 62L524 147M660 62L482 233M660 62L487 187M660 62L516 127M660 62L475 218M660 62L484 198M660 62L524 166M660 62L483 130M660 62L494 161M660 62L528 166M660 62L476 248M660 62L528 180M660 62L485 127M660 62L534 206M660 62L516 127M660 62L474 131M660 62L501 162M660 62L488 159M660 62L512 167M660 62L477 189M660 62L498 188M660 62L500 226M607 74L494 195M607 74L479 186M607 74L499 142M607 74L475 203M607 74L475 133M607 74L527 196M607 74L473 142M607 74L493 119M607 74L471 127M607 74L533 130M607 74L511 159M607 74L495 139M607 74L529 164M607 74L477 220M607 74L520 160M607 74L476 156M607 74L492 205M607 74L505 229M607 74L490 219M607 74L474 131M607 74L476 214M607 74L505 182M607 74L526 138M607 74L484 126M607 74L483 123M607 74L520 127M607 74L475 203M607 74L520 146M607 74L491 161M607 74L511 155M607 74L490 138M607 74L518 190M607 74L496 141M607 74L508 155M607 74L527 198M607 74L531 127M607 74L501 158M607 74L528 142M607 74L483 227M607 74L505 195M626 72L518 206M626 72L521 202M626 72L522 128M626 72L472 127M626 72L525 168M626 72L471 124M626 72L491 236M626 72L500 158M626 72L503 226M626 72L487 194M626 72L528 142M626 72L512 125M626 72L528 143M626 72L475 123M626 72L491 190M626 72L503 226M626 72L503 186M626 72L479 181M626 72L512 167M626 72L501 123M626 72L516 181M626 72L493 226M626 72L494 204M626 72L535 155M626 72L503 226M626 72L478 160M626 72L510 214M626 72L530 148M626 72L517 192M626 72L472 153M626 72L517 163M626 72L508 240M626 72L480 251M626 72L538 180M626 72L525 168M626 72L492 215M626 72L471 226M626 72L491 232M626 72L509 212M626 72L520 202M642 68L478 244M642 68L477 206M642 68L513 237M642 68L512 171M642 68L511 167M642 68L484 126M642 68L486 124M642 68L503 150M642 68L523 158M642 68L482 144M642 68L526 120M642 68L476 151M642 68L476 156M642 68L495 219M642 68L506 159M642 68L494 187M642 68L511 222M642 68L494 188M642 68L508 229M642 68L472 154M642 68L505 135M642 68L488 232M642 68L511 127M642 68L484 215M642 68L498 156M642 68L472 127M642 68L500 219M642 68L475 143M642 68L495 134M642 68L493 226M642 68L523 190M642 68L510 214M642 68L492 217M642 68L516 144M642 68L520 216M642 68L491 240M642 68L505 182M642 68L480 177M642 68L507 166M642 68L487 194M654 72L503 186M654 72L486 123M654 72L504 173M654 72L477 131M654 72L519 169M654 72L500 175M654 72L516 165M654 72L517 186M654 72L482 158M654 72L495 195M654 72L479 146M654 72L508 218M654 72L478 182M654 72L503 231M654 72L516 141M654 72L503 186M654 72L500 228M654 72L487 166M654 72L501 158M654 72L486 147M654 72L475 198M654 72L529 197M654 72L482 158M654 72L502 220M654 72L478 138M654 72L495 152M654 72L492 215M654 72L472 149M654 72L516 118M654 72L520 164M654 72L507 176M654 72L506 198M654 72L482 145M654 72L502 219M654 72L496 128M654 72L502 186M654 72L492 212M654 72L529 164M654 72L502 152M654 72L520 164M672 76L527 134M672 76L475 215M672 76L524 146M672 76L511 229M672 76L507 176M672 76L480 181M672 76L491 130M672 76L511 229M672 76L529 167M672 76L514 205M672 76L508 171M672 76L525 148M672 76L507 217M672 76L511 222M672 76L531 168M672 76L516 217M672 76L510 196M672 76L508 228M672 76L497 148M672 76L514 205M672 76L517 172M672 76L476 139M672 76L497 142M672 76L524 182M672 76L509 138M672 76L471 216M672 76L496 132M672 76L497 119M672 76L508 240M672 76L501 173M672 76L500 219M672 76L508 166M672 76L508 225M672 76L493 126M672 76L511 203M672 76L509 212M672 76L482 206M672 76L529 186M672 76L501 199M672 76L524 202M636 81L490 143M636 81L476 215M636 81L484 146M636 81L485 143M636 81L526 178M636 81L484 187M636 81L496 185M636 81L483 212M636 81L485 127M636 81L519 192M636 81L513 225M636 81L471 142M636 81L479 132M636 81L534 206M636 81L503 213M636 81L497 207M636 81L502 205M636 81L482 172M636 81L506 198M636 81L478 226M636 81L507 210M636 81L527 134M636 81L513 168M636 81L522 160M636 81L479 146M636 81L510 159M636 81L478 173M636 81L487 166M636 81L506 127M636 81L493 125M636 81L476 157M636 81L507 166M636 81L489 163M636 81L495 211M636 81L497 142M636 81L528 199M636 81L494 204M636 81L506 182M636 81L481 216M636 81L489 219M598 88L534 136M598 88L478 207M598 88L496 153M598 88L499 196M598 88L492 239M598 88L506 171M598 88L525 180M598 88L504 230M598 88L499 220M598 88L479 144M598 88L476 239M598 88L511 127M598 88L493 150M598 88L523 158M598 88L483 207M598 88L534 136M598 88L478 180M598 88L491 170M598 88L498 121M598 88L533 130M598 88L471 124M598 88L529 167M598 88L474 202M598 88L506 127M598 88L480 251M598 88L496 141M598 88L512 145M598 88L528 142M598 88L485 131M598 88L497 227M598 88L487 196M598 88L488 189M598 88L490 232M598 88L475 222M598 88L498 148M598 88L475 222M598 88L488 159M598 88L471 142M598 88L506 204M598 88L523 158M649 84L499 152M649 84L504 226M649 84L506 171M649 84L527 134M649 84L513 224M649 84L498 134M649 84L488 154M649 84L494 184M649 84L473 168M649 84L490 232M649 84L487 166M649 84L524 146M649 84L524 160M649 84L510 168M649 84L478 168M649 84L476 215M649 84L488 205M649 84L495 195M649 84L473 247M649 84L514 177M649 84L504 193M649 84L511 156M649 84L487 236M649 84L481 149M649 84L525 168M649 84L503 162M649 84L481 210M649 84L490 231M649 84L513 213M649 84L482 162M649 84L512 233M649 84L508 126M649 84L481 159M649 84L473 168M649 84L486 150M649 84L486 173M649 84L528 142M649 84L491 232M649 84L477 151M649 84L525 168M663 89L481 148M663 89L529 167M663 89L496 131M663 89L519 205M663 89L473 168M663 89L520 140M663 89L498 148M663 89L524 166M663 89L516 171M663 89L527 145M663 89L483 131M663 89L498 214M663 89L478 173M663 89L516 118M663 89L491 236M663 89L481 149M663 89L478 229M663 89L512 225M663 89L506 198M663 89L482 228M663 89L491 184M663 89L480 206M663 89L499 191M663 89L482 207M663 89L529 173M663 89L533 130M663 89L515 185M663 89L510 179M663 89L472 232M663 89L491 161M663 89L500 123M663 89L513 138M663 89L522 224M663 89L472 176M663 89L503 186M663 89L487 236M663 89L478 189M663 89L509 144M663 89L509 212M663 89L486 126M612 93L498 165M612 93L490 221M612 93L490 232M612 93L516 215M612 93L486 147M612 93L480 206M612 93L472 140M612 93L509 144M612 93L485 237M612 93L483 216M612 93L504 184M612 93L483 123M612 93L472 223M612 93L476 151M612 93L495 219M612 93L502 186M612 93L471 226M612 93L471 142M612 93L503 185M612 93L517 172M612 93L493 228M612 93L512 195M612 93L475 200M612 93L501 123M612 93L531 154M612 93L510 179M612 93L499 196M612 93L513 138M612 93L516 197M612 93L479 132M612 93L488 184M612 93L486 147M612 93L516 165M612 93L505 182M612 93L472 176M612 93L496 171M612 93L511 223M612 93L531 127M612 93L503 186M612 93L512 195M624 86L525 180M624 86L497 142M624 86L527 207M624 86L477 222M624 86L533 192M624 86L508 240M624 86L471 249M624 86L501 232M624 86L521 207M624 86L498 134M624 86L488 200M624 86L502 219M624 86L477 228M624 86L508 228M624 86L473 209M624 86L487 125M624 86L527 193M624 86L536 161M624 86L518 151M624 86L491 170M624 86L472 176M624 86L488 237M624 86L477 157M624 86L506 159M624 86L489 204M624 86L521 184M624 86L478 244M624 86L511 229M624 86L524 169M624 86L508 116M624 86L526 207M624 86L477 222M624 86L478 160M624 86L520 158M624 86L499 155M624 86L481 243M624 86L529 197M624 86L529 155M624 86L473 247M624 86L480 206M630 97L502 207M630 97L508 171M630 97L531 179M630 97L471 202M630 97L486 171M630 97L484 234M630 97L524 176M630 97L492 239M630 97L493 228M630 97L511 211M630 97L476 182M630 97L477 131M630 97L488 184M630 97L520 152M630 97L518 191M630 97L483 177M630 97L520 216M630 97L520 151M630 97L508 166M630 97L495 152M630 97L476 226M630 97L486 196M630 97L513 237M630 97L523 164M630 97L531 168M630 97L516 132M630 97L478 138M630 97L487 187M630 97L527 151M630 97L475 177M630 97L504 173M630 97L489 191M630 97L509 134M630 97L490 196M630 97L518 206M630 97L520 173M630 97L487 229M630 97L477 168M630 97L482 206M630 97L500 147M646 97L478 206M646 97L508 186M646 97L476 156M646 97L490 196M646 97L501 152M646 97L505 182M646 97L503 162M646 97L506 127M646 97L516 121M646 97L523 177M646 97L477 181M646 97L514 184M646 97L499 142M646 97L510 214M646 97L520 202M646 97L475 215M646 97L478 189M646 97L508 166M646 97L524 170M646 97L530 184M646 97L475 177M646 97L494 232M646 97L486 164M646 97L504 148M646 97L488 159M646 97L524 184M646 97L494 193M646 97L472 176M646 97L502 140M646 97L487 125M646 97L518 206M646 97L477 181M646 97L480 206M646 97L479 177M646 97L516 121M646 97L508 225M646 97L477 153M646 97L484 234M646 97L516 145M646 97L505 118M669 105L484 180M669 105L520 201M669 105L483 234M669 105L472 223M669 105L511 229M669 105L497 193M669 105L479 152M669 105L484 130M669 105L480 156M669 105L514 213M669 105L538 157M669 105L491 130M669 105L512 125M669 105L493 126M669 105L486 124M669 105L479 181M669 105L525 180M669 105L507 176M669 105L487 125M669 105L511 156M669 105L529 197M669 105L503 116M669 105L515 186M669 105L483 193M669 105L516 181M669 105L477 221M669 105L475 200M669 105L492 166M669 105L502 164M669 105L488 232M669 105L484 126M669 105L503 186M669 105L512 171M669 105L508 224M669 105L513 228M669 105L483 223M669 105L475 222M669 105L474 183M669 105L474 131M669 105L528 143M606 107L522 224M606 107L527 206M606 107L487 125M606 107L512 194M606 107L494 171M606 107L502 140M606 107L497 218M606 107L477 220M606 107L505 229M606 107L525 220M606 107L496 131M606 107L503 152M606 107L524 170M606 107L475 178M606 107L520 160M606 107L514 177M606 107L497 218M606 107L503 201M606 107L497 148M606 107L486 241M606 107L477 222M606 107L478 182M606 107L523 190M606 107L477 153M606 107L518 178M606 107L477 189M606 107L498 170M606 107L512 119M606 107L508 166M606 107L488 154M606 107L482 199M606 107L495 219M606 107L497 238M606 107L479 186M606 107L481 243M606 107L494 202M606 107L474 154M606 107L494 175M606 107L472 191M606 107L487 236M624 109L487 128M624 109L482 207M624 109L494 161M624 109L505 191M624 109L535 155M624 109L490 219M624 109L475 177M624 109L481 149M624 109L503 116M624 109L471 218M624 109L480 251M624 109L486 241M624 109L508 171M624 109L508 116M624 109L496 171M624 109L478 244M624 109L500 147M624 109L496 131M624 109L489 202M624 109L482 199M624 109L501 197M624 109L479 204M624 109L471 238M624 109L518 187M624 109L502 219M624 109L508 171M624 109L524 166M624 109L493 223M624 109L475 203M624 109L513 162M624 109L529 156M624 109L482 138M624 109L475 222M624 109L473 223M624 109L496 123M624 109L499 186M624 109L482 145M624 109L479 146M624 109L502 207M624 109L477 220M640 110L491 161M640 110L528 199M640 110L496 133M640 110L508 179M640 110L505 142M640 110L474 204M640 110L508 228M640 110L487 187M640 110L487 128M640 110L517 163M640 110L481 239M640 110L516 132M640 110L498 188M640 110L499 220M640 110L501 158M640 110L521 145M640 110L511 222M640 110L478 160M640 110L532 146M640 110L513 172M640 110L478 168M640 110L493 190M640 110L518 174M640 110L511 139M640 110L485 237M640 110L492 217M640 110L500 147M640 110L508 186M640 110L480 201M640 110L513 213M640 110L497 171M640 110L533 192M640 110L526 138M640 110L498 170M640 110L517 186M640 110L492 166M640 110L476 151M640 110L486 196M640 110L498 188M640 110L503 226M655 108L484 149M655 108L524 160M655 108L507 217M655 108L502 152M655 108L524 134M655 108L503 150M655 108L526 148M655 108L484 198M655 108L511 155M655 108L513 224M655 108L491 190M655 108L483 131M655 108L490 196M655 108L492 190M655 108L476 201M655 108L488 159M655 108L480 135M655 108L488 204M655 108L496 128M655 108L493 150M655 108L496 153M655 108L521 200M655 108L520 202M655 108L521 152M655 108L531 154M655 108L481 122M655 108L485 236M655 108L472 191M655 108L471 218M655 108L490 169M655 108L516 135M655 108L471 181M655 108L516 121M655 108L520 151M655 108L483 227M655 108L472 232M655 108L510 196M655 108L537 136M655 108L530 148M655 108L501 158" stroke="#9e9e9e" stroke-width="0.4" stroke-opacity="0.35"/><g opacity="0.9"><path class="o" d="M500 159h0M502 164h0M477 168h0M402 169h0M511 211h0M518 108h0M524 134h0M478 173h0M410 179h0M439 129h0M436 88h0M412 173h0M467 164h0M432 182h0M449 222h0M516 181h0M508 165h0M409 95h0M415 224h0M416 175h0M378 157h0M414 175h0M446 197h0M369 142h0M467 98h0M460 241h0M458 123h0M432 170h0M530 190h0M394 165h0M471 249h0M399 175h0M533 142h0M458 134h0M406 248h0M407 193h0M449 115h0M405 197h0M430 165h0M398 102h0M414 105h0M516 217h0M507 217h0M451 100h0M444 168h0M495 161h0M412 215h0M506 171h0M465 159h0M440 126h0M433 210h0M405 111h0M410 236h0M473 209h0M439 91h0M373 179h0M426 139h0M471 127h0M467 216h0M511 156h0M511 139h0M449 179h0M462 179h0M484 198h0M418 219h0M393 152h0M483 158h0M392 216h0M439 119h0M502 219h0M497 115h0M444 99h0M443 152h0M469 100h0M475 138h0M423 155h0M469 97h0M489 191h0M517 130h0M520 146h0M421 152h0M402 232h0M435 147h0M526 169h0M450 117h0M382 175h0M418 174h0M430 160h0M425 116h0M441 121h0" stroke="#989898" stroke-width="4.85"/><path class="i" d="M500 159h0M502 164h0M477 168h0M402 169h0M511 211h0M518 108h0M524 134h0M478 173h0M410 179h0M439 129h0M436 88h0M412 173h0M467 164h0M432 182h0M449 222h0M516 181h0M508 165h0M409 95h0M415 224h0M416 175h0M378 157h0M414 175h0M446 197h0M369 142h0M467 98h0M460 241h0M458 123h0M432 170h0M530 190h0M394 165h0M471 249h0M399 175h0M533 142h0M458 134h0M406 248h0M407 193h0M449 115h0M405 197h0M430 165h0M398 102h0M414 105h0M516 217h0M507 217h0M451 100h0M444 168h0M495 161h0M412 215h0M506 171h0M465 159h0M440 126h0M433 210h0M405 111h0M410 236h0M473 209h0M439 91h0M373 179h0M426 139h0M471 127h0M467 216h0M511 156h0M511 139h0M449 179h0M462 179h0M484 198h0M418 219h0M393 152h0M483 158h0M392 216h0M439 119h0M502 219h0M497 115h0M444 99h0M443 152h0M469 100h0M475 138h0M423 155h0M469 97h0M489 191h0M517 130h0M520 146h0M421 152h0M402 232h0M435 147h0M526 169h0M450 117h0M382 175h0M418 174h0M430 160h0M425 116h0M441 121h0" stroke="#e4e4e4" stroke-width="3.80"/><path class="o" d="M429 118h0M488 217h0M463 237h0M484 149h0M499 105h0M442 125h0M525 148h0M494 232h0M391 214h0M432 154h0M417 193h0M432 155h0M377 208h0M502 220h0M423 116h0M388 176h0M450 213h0M465 124h0M396 177h0M392 170h0M473 168h0M425 108h0M489 232h0M435 211h0M387 197h0M483 193h0M447 181h0M432 231h0M383 121h0M470 193h0M401 108h0M451 197h0M378 134h0M508 143h0M509 144h0M495 247h0M477 236h0M476 213h0M460 215h0M398 130h0M494 202h0M395 132h0M463 113h0M427 167h0M370 170h0M480 99h0M407 100h0M520 164h0M384 190h0M395 164h0M520 152h0M499 146h0M388 189h0M388 136h0M488 132h0M490 143h0M440 110h0M420 108h0M449 210h0M387 148h0M387 109h0M457 242h0M430 218h0M512 119h0M378 160h0M426 160h0M434 236h0M371 171h0M457 125h0M404 184h0M496 131h0M479 228h0M479 186h0M416 102h0M460 143h0M433 93h0M386 164h0M429 198h0M401 125h0M514 200h0M403 125h0M476 157h0M465 113h0M395 100h0M520 178h0M499 186h0M395 164h0M456 113h0M442 173h0M413 191h0M521 130h0M452 93h0M384 158h0M477 228h0M518 176h0M398 128h0M493 190h0M378 217h0M486 110h0M499 147h0M500 228h0M423 167h0M488 184h0M481 121h0M394 211h0M377 191h0M486 195h0M467 188h0M419 236h0M404 231h0M397 106h0M428 249h0M372 189h0M481 159h0M405 153h0M433 219h0M454 162h0M443 244h0M433 145h0M481 122h0M476 100h0M486 241h0M460 216h0M502 140h0M499 185h0M513 213h0M515 129h0M501 123h0M424 248h0M501 173h0M397 172h0M449 213h0M500 158h0M383 215h0M476 114h0M534 175h0M497 238h0M475 102h0M494 124h0M448 239h0M395 228h0M433 242h0M393 194h0M428 234h0M418 252h0M426 161h0M428 101h0M462 238h0M477 127h0M465 109h0M471 201h0M491 194h0M450 211h0M453 117h0M416 176h0M428 102h0M475 133h0M505 191h0M511 222h0M516 145h0M478 109h0M429 222h0M379 141h0M476 248h0M520 211h0M467 147h0M519 214h0M484 187h0M479 133h0M521 229h0M377 175h0M475 215h0M480 164h0M436 167h0M401 117h0M396 129h0M403 199h0M499 155h0M426 149h0M476 147h0M419 199h0M399 171h0M472 155h0M440 177h0M400 222h0M531 168h0M488 113h0M406 200h0M395 207h0M380 190h0M486 100h0M516 164h0M417 126h0M440 215h0M512 167h0M401 221h0M478 197h0M419 133h0M409 226h0M480 180h0M438 240h0M507 210h0M475 178h0M524 170h0" stroke="#bab45c" stroke-width="4.85"/><path class="i" d="M429 118h0M488 217h0M463 237h0M484 149h0M499 105h0M442 125h0M525 148h0M494 232h0M391 214h0M432 154h0M417 193h0M432 155h0M377 208h0M502 220h0M423 116h0M388 176h0M450 213h0M465 124h0M396 177h0M392 170h0M473 168h0M425 108h0M489 232h0M435 211h0M387 197h0M483 193h0M447 181h0M432 231h0M383 121h0M470 193h0M401 108h0M451 197h0M378 134h0M508 143h0M509 144h0M495 247h0M477 236h0M476 213h0M460 215h0M398 130h0M494 202h0M395 132h0M463 113h0M427 167h0M370 170h0M480 99h0M407 100h0M520 164h0M384 190h0M395 164h0M520 152h0M499 146h0M388 189h0M388 136h0M488 132h0M490 143h0M440 110h0M420 108h0M449 210h0M387 148h0M387 109h0M457 242h0M430 218h0M512 119h0M378 160h0M426 160h0M434 236h0M371 171h0M457 125h0M404 184h0M496 131h0M479 228h0M479 186h0M416 102h0M460 143h0M433 93h0M386 164h0M429 198h0M401 125h0M514 200h0M403 125h0M476 157h0M465 113h0M395 100h0M520 178h0M499 186h0M395 164h0M456 113h0M442 173h0M413 191h0M521 130h0M452 93h0M384 158h0M477 228h0M518 176h0M398 128h0M493 190h0M378 217h0M486 110h0M499 147h0M500 228h0M423 167h0M488 184h0M481 121h0M394 211h0M377 191h0M486 195h0M467 188h0M419 236h0M404 231h0M397 106h0M428 249h0M372 189h0M481 159h0M405 153h0M433 219h0M454 162h0M443 244h0M433 145h0M481 122h0M476 100h0M486 241h0M460 216h0M502 140h0M499 185h0M513 213h0M515 129h0M501 123h0M424 248h0M501 173h0M397 172h0M449 213h0M500 158h0M383 215h0M476 114h0M534 175h0M497 238h0M475 102h0M494 124h0M448 239h0M395 228h0M433 242h0M393 194h0M428 234h0M418 252h0M426 161h0M428 101h0M462 238h0M477 127h0M465 109h0M471 201h0M491 194h0M450 211h0M453 117h0M416 176h0M428 102h0M475 133h0M505 191h0M511 222h0M516 145h0M478 109h0M429 222h0M379 141h0M476 248h0M520 211h0M467 147h0M519 214h0M484 187h0M479 133h0M521 229h0M377 175h0M475 215h0M480 164h0M436 167h0M401 117h0M396 129h0M403 199h0M499 155h0M426 149h0M476 147h0M419 199h0M399 171h0M472 155h0M440 177h0M400 222h0M531 168h0M488 113h0M406 200h0M395 207h0M380 190h0M486 100h0M516 164h0M417 126h0M440 215h0M512 167h0M401 221h0M478 197h0M419 133h0M409 226h0M480 180h0M438 240h0M507 210h0M475 178h0M524 170h0" stroke="#f5f08a" stroke-width="3.80"/><path class="o" d="M431 212h0M461 223h0M518 203h0M487 194h0M453 254h0M482 206h0M489 204h0M474 211h0M444 127h0M442 241h0M467 216h0M501 199h0M519 173h0M468 214h0M483 207h0M514 213h0M520 215h0M516 187h0M501 197h0" stroke="#e60000" stroke-width="4.50"/><path class="i" d="M431 212h0M461 223h0M518 203h0M487 194h0M453 254h0M482 206h0M489 204h0M474 211h0M444 127h0M442 241h0M467 216h0M501 199h0M519 173h0M468 214h0M483 207h0M514 213h0M520 215h0M516 187h0M501 197h0" stroke="#ff0000" stroke-width="3.80"/></g><path d="M428 156L389 105M479 177L484 111M453 145L512 145M463 194L516 217M414 175L460 111M467 180L458 227M404 159L433 179M477 151L407 105M502 226L510 159M398 167L450 132M420 198L462 219M483 177L493 115M445 236L454 162M401 211L473 230M480 177L514 205M448 102L395 168M379 203L381 218M404 179L442 163M404 163L416 110M504 139L464 135M537 136L497 171M400 147L382 216M524 169L466 108M435 192L399 146M476 215L469 237M452 157L497 227M376 133L459 117M485 130L446 204M461 218L433 222M435 216L422 142M378 157L407 122M476 113L451 143M451 169L490 140M458 162L478 160M455 140L430 172M483 234L499 155M465 195L481 148M392 127L405 183M429 137L462 119M460 111L419 130M532 178L531 168M421 144L383 178M427 208L397 212M439 191L378 147M366 154L423 99M398 185L457 184M494 199L513 213M438 161L463 133M488 184L494 175M447 157L516 166M440 177L457 136M486 100L526 169M499 142L486 150M431 212L393 170M467 127L423 99M382 203L426 158M445 187L378 155M467 116L421 125M461 242L508 224M513 162L522 199M431 123L435 136M441 189L440 177M405 144L429 198M408 195L390 172M491 161L408 165M393 141L440 177M511 203L497 146M488 217L417 193M463 108L479 107M488 232L423 216M520 146L520 215M468 245L437 197M416 198L382 231M410 137L450 204M424 187L499 186M424 135L404 179M454 162L467 195M430 160L431 178M465 177L415 224M385 128L380 177M414 147L401 211M402 159L466 135M480 99L409 138M461 210L460 170M445 236L495 211M523 146L479 104M453 117L464 185M372 171L402 116M461 226L446 197M436 171L499 191M427 148L468 208M484 234L437 194M447 181L450 214M496 133L495 195M470 200L497 193M432 120L476 100M410 176L372 189M488 184L500 219M442 218L470 153M461 153L472 118M443 113L383 129M456 199L507 153M505 174L522 224M471 142L453 179M420 122L477 168M391 155L430 160M440 250L413 191M444 234L445 187M497 159L462 218M433 190L411 165M452 147L410 151M499 220L479 142M521 130L494 124M390 130L435 186M498 148L429 146M484 149L502 191M384 127L442 111M492 212L518 203M384 140L443 136M423 98L420 147M521 145L493 125M369 142L384 156M497 148L446 142M460 232L497 159M382 168L407 133M449 204L451 131M472 206L496 131M427 195L380 177M483 148L513 213M384 196L426 139M391 155L437 165M472 176L495 195M474 199L423 157M494 184L471 218M445 176L523 158M490 232L423 227M455 197L420 139M494 199L473 176M396 177L377 185M510 168L496 121M467 208L520 188M427 228L478 180M435 192L485 127M453 122L420 111M446 137L458 207M456 158L497 149M502 114L458 113M431 230L436 191M460 232L478 193M472 156L426 184M417 148L384 217M383 203L430 151M390 122L420 139M455 135L411 105M422 233L388 168M393 152L416 122M405 111L440 137M421 125L466 173M402 207L403 199M466 213L437 197M486 119L468 140M469 183L494 232M426 184L441 146M492 212L465 177M442 181L417 223M466 128L432 140M478 192L484 162M411 228L412 155M367 195L415 202M470 193L525 168M409 180L455 145M461 218L484 198M390 130L386 179M528 190L502 157M500 158L478 193M495 96L491 101M448 208L467 245M411 211L385 190M504 148L467 110M442 125L442 95M464 208L429 242M407 198L430 240M393 141L454 141M537 171L461 199M528 190L472 156M425 174L377 191M383 178L382 162M421 125L416 209M426 149L462 156M438 172L423 216M455 135L500 199M479 114L420 122M383 199L463 200M395 100L448 152M467 179L495 139M423 157L386 229M479 186L442 170M452 166L431 123M486 164L495 115M440 135L429 198M506 204L524 195M442 150L379 198M434 228L384 204M424 224L402 232M522 224L508 179M515 118L476 151M428 209L374 190M465 180L506 204M463 253L403 204M420 241L428 232M469 200L431 190M413 245L443 231M445 207L476 182M444 161L458 123M443 96L453 145M493 228L411 220M480 195L487 125M426 169L411 170M394 115L385 130M466 139L439 218M483 118L409 154M469 99L445 108M432 154L398 167M527 154L463 108M475 156L523 190M456 220L467 208M535 162L503 231M463 243L491 173M413 216L376 149M499 196L512 145M495 139L483 123M413 112L382 175M448 102L465 180M488 115L478 189M456 220L514 187M414 219L398 228M480 150L439 184M496 141L508 225M427 195L467 193M443 122L518 145M435 139L486 126M476 201L421 146M401 221L442 218M478 206L465 150M422 174L408 224M472 232L428 212M465 124L516 127M466 204L450 242M479 114L444 190M520 141L488 217M429 218L410 137M525 180L511 207M435 164L418 101M489 163L449 180M516 144L476 101M448 176L376 139M503 147L467 216M463 234L474 211M446 138L508 179M455 168L467 239M448 102L416 159M436 110L404 164M484 162L413 124M483 216L504 230M464 229L417 230M503 150L435 186M425 120L502 112M446 126L527 134M378 187L436 220M475 177L417 135M443 122L510 134M435 124L460 170M397 230L426 200M442 111L419 163M393 194L389 136M520 216L500 158M472 156L448 209M459 218L406 209M483 177L416 209M409 154L410 236M482 131L513 138M446 218L513 168M486 196L462 133M468 150L511 205M440 135L385 137M430 115L380 137" stroke="#a4a4a4" stroke-width="0.35" stroke-opacity="0.3"/><g opacity="0.9"><path class="o" d="M431 200h0M468 173h0M435 216h0M492 217h0M453 190h0M407 196h0M410 222h0M452 166h0M396 198h0M476 139h0M423 162h0M384 204h0M417 170h0M437 194h0M467 219h0M391 164h0M465 105h0M381 193h0M417 223h0M454 120h0M448 176h0M438 172h0M443 122h0M434 167h0M434 212h0M448 178h0M446 172h0M468 141h0M430 160h0M393 141h0M451 203h0M420 177h0M488 109h0M517 192h0M378 195h0M452 248h0M474 131h0M478 235h0M400 229h0M427 144h0M422 172h0M406 209h0M456 184h0M475 198h0M442 211h0M513 237h0M401 221h0M395 158h0M483 123h0M395 179h0M416 115h0M444 161h0M510 168h0M458 207h0M459 121h0M456 206h0M481 216h0M440 194h0M441 134h0M440 121h0M401 123h0M398 210h0M426 142h0M507 179h0M411 194h0M471 218h0M387 154h0M412 187h0M465 168h0M532 146h0M518 206h0M515 216h0M423 154h0M455 143h0M414 137h0M482 158h0M425 120h0M393 170h0M418 135h0M385 209h0" stroke="#989898" stroke-width="4.85"/><path class="i" d="M431 200h0M468 173h0M435 216h0M492 217h0M453 190h0M407 196h0M410 222h0M452 166h0M396 198h0M476 139h0M423 162h0M384 204h0M417 170h0M437 194h0M467 219h0M391 164h0M465 105h0M381 193h0M417 223h0M454 120h0M448 176h0M438 172h0M443 122h0M434 167h0M434 212h0M448 178h0M446 172h0M468 141h0M430 160h0M393 141h0M451 203h0M420 177h0M488 109h0M517 192h0M378 195h0M452 248h0M474 131h0M478 235h0M400 229h0M427 144h0M422 172h0M406 209h0M456 184h0M475 198h0M442 211h0M513 237h0M401 221h0M395 158h0M483 123h0M395 179h0M416 115h0M444 161h0M510 168h0M458 207h0M459 121h0M456 206h0M481 216h0M440 194h0M441 134h0M440 121h0M401 123h0M398 210h0M426 142h0M507 179h0M411 194h0M471 218h0M387 154h0M412 187h0M465 168h0M532 146h0M518 206h0M515 216h0M423 154h0M455 143h0M414 137h0M482 158h0M425 120h0M393 170h0M418 135h0M385 209h0" stroke="#e4e4e4" stroke-width="3.80"/><path class="o" d="M383 144h0M425 130h0M395 239h0M442 218h0M514 112h0M528 158h0M458 231h0M503 114h0M461 199h0M368 131h0M390 130h0M518 178h0M376 133h0M468 246h0M379 198h0M388 119h0M407 141h0M502 112h0M393 209h0M439 88h0M418 101h0M410 118h0M525 180h0M373 162h0M518 157h0M496 133h0M420 235h0M528 166h0M485 131h0M504 127h0M373 165h0M442 95h0M503 162h0M495 211h0M519 185h0M390 235h0M438 172h0M526 148h0M467 191h0M511 159h0M486 173h0M434 149h0M409 243h0M410 208h0M434 114h0M394 223h0M488 200h0M373 213h0M413 124h0M410 200h0M483 212h0M497 149h0M426 184h0M481 167h0M435 234h0M437 246h0M528 199h0M448 88h0M461 202h0M455 95h0M436 130h0M408 116h0M443 191h0M439 120h0M489 174h0M408 224h0M451 206h0M391 199h0M387 196h0M433 174h0M393 227h0M381 119h0M468 245h0M485 107h0M476 201h0M504 184h0M481 124h0M450 204h0M506 198h0M503 201h0M483 118h0M478 192h0M419 131h0M432 235h0M472 102h0M401 218h0M370 169h0M504 173h0M491 184h0M415 205h0M487 108h0M537 143h0M403 107h0M431 196h0M507 111h0M431 190h0M478 168h0M371 175h0M416 192h0M456 209h0M458 224h0M432 140h0M494 161h0M490 231h0M399 222h0M389 136h0M410 213h0M524 225h0M510 196h0M385 154h0M472 127h0M460 139h0M394 148h0M368 146h0M497 214h0M416 133h0M446 204h0M501 232h0M446 137h0M463 108h0M384 178h0M448 209h0M390 167h0M436 215h0M427 105h0M509 212h0M484 215h0M435 124h0M369 183h0M402 217h0M512 210h0M422 113h0M378 197h0M482 172h0M396 148h0M388 168h0M416 209h0M365 185h0M466 208h0M429 242h0M487 187h0M385 128h0M485 174h0M457 151h0M390 172h0M389 202h0M449 180h0M428 183h0M516 197h0M385 130h0M483 131h0M512 145h0M531 127h0M472 191h0M504 154h0M388 193h0M438 129h0M410 214h0M464 120h0M443 125h0M439 110h0M411 119h0M449 237h0M503 185h0M409 105h0M401 133h0M415 202h0M411 237h0M520 127h0M447 157h0M522 112h0M396 225h0M448 208h0M392 190h0M523 120h0M418 202h0M413 196h0M434 130h0M472 156h0M464 97h0M430 229h0M405 228h0M426 200h0M397 131h0M472 223h0M420 173h0M482 144h0M463 103h0M398 211h0M490 228h0M429 133h0M478 244h0M408 195h0M486 119h0M420 242h0M373 163h0M529 144h0M497 119h0M443 222h0M479 204h0M489 202h0M489 210h0M467 120h0M401 208h0M422 219h0M449 233h0M418 98h0M483 134h0M447 188h0M407 223h0M374 187h0M454 139h0M452 238h0M431 194h0M506 198h0M391 156h0M486 126h0M501 101h0M492 166h0M425 232h0M445 113h0M401 243h0M394 128h0M410 209h0M488 204h0" stroke="#bab45c" stroke-width="4.85"/><path class="i" d="M383 144h0M425 130h0M395 239h0M442 218h0M514 112h0M528 158h0M458 231h0M503 114h0M461 199h0M368 131h0M390 130h0M518 178h0M376 133h0M468 246h0M379 198h0M388 119h0M407 141h0M502 112h0M393 209h0M439 88h0M418 101h0M410 118h0M525 180h0M373 162h0M518 157h0M496 133h0M420 235h0M528 166h0M485 131h0M504 127h0M373 165h0M442 95h0M503 162h0M495 211h0M519 185h0M390 235h0M438 172h0M526 148h0M467 191h0M511 159h0M486 173h0M434 149h0M409 243h0M410 208h0M434 114h0M394 223h0M488 200h0M373 213h0M413 124h0M410 200h0M483 212h0M497 149h0M426 184h0M481 167h0M435 234h0M437 246h0M528 199h0M448 88h0M461 202h0M455 95h0M436 130h0M408 116h0M443 191h0M439 120h0M489 174h0M408 224h0M451 206h0M391 199h0M387 196h0M433 174h0M393 227h0M381 119h0M468 245h0M485 107h0M476 201h0M504 184h0M481 124h0M450 204h0M506 198h0M503 201h0M483 118h0M478 192h0M419 131h0M432 235h0M472 102h0M401 218h0M370 169h0M504 173h0M491 184h0M415 205h0M487 108h0M537 143h0M403 107h0M431 196h0M507 111h0M431 190h0M478 168h0M371 175h0M416 192h0M456 209h0M458 224h0M432 140h0M494 161h0M490 231h0M399 222h0M389 136h0M410 213h0M524 225h0M510 196h0M385 154h0M472 127h0M460 139h0M394 148h0M368 146h0M497 214h0M416 133h0M446 204h0M501 232h0M446 137h0M463 108h0M384 178h0M448 209h0M390 167h0M436 215h0M427 105h0M509 212h0M484 215h0M435 124h0M369 183h0M402 217h0M512 210h0M422 113h0M378 197h0M482 172h0M396 148h0M388 168h0M416 209h0M365 185h0M466 208h0M429 242h0M487 187h0M385 128h0M485 174h0M457 151h0M390 172h0M389 202h0M449 180h0M428 183h0M516 197h0M385 130h0M483 131h0M512 145h0M531 127h0M472 191h0M504 154h0M388 193h0M438 129h0M410 214h0M464 120h0M443 125h0M439 110h0M411 119h0M449 237h0M503 185h0M409 105h0M401 133h0M415 202h0M411 237h0M520 127h0M447 157h0M522 112h0M396 225h0M448 208h0M392 190h0M523 120h0M418 202h0M413 196h0M434 130h0M472 156h0M464 97h0M430 229h0M405 228h0M426 200h0M397 131h0M472 223h0M420 173h0M482 144h0M463 103h0M398 211h0M490 228h0M429 133h0M478 244h0M408 195h0M486 119h0M420 242h0M373 163h0M529 144h0M497 119h0M443 222h0M479 204h0M489 202h0M489 210h0M467 120h0M401 208h0M422 219h0M449 233h0M418 98h0M483 134h0M447 188h0M407 223h0M374 187h0M454 139h0M452 238h0M431 194h0M506 198h0M391 156h0M486 126h0M501 101h0M492 166h0M425 232h0M445 113h0M401 243h0M394 128h0M410 209h0M488 204h0" stroke="#f5f08a" stroke-width="3.80"/><path class="o" d="M476 107h0M537 136h0M516 165h0M496 121h0M457 246h0M522 173h0M520 164h0M508 186h0" stroke="#e60000" stroke-width="4.50"/><path class="i" d="M476 107h0M537 136h0M516 165h0M496 121h0M457 246h0M522 173h0M520 164h0M508 186h0" stroke="#ff0000" stroke-width="3.80"/></g><path d="M382 163L443 122M505 178L498 95M426 98L397 131M481 148L426 119M443 103L380 146M477 151L479 186M458 213L446 197M478 197L434 238M510 159L439 115M443 222L455 205M426 169L440 194M432 155L476 226M519 214L500 179M478 189L427 148M447 114L414 147M490 222L459 237M450 173L398 211M434 186L380 189M513 172L502 226M418 202L424 187M479 114L511 139M502 140L474 211M436 215L420 139M529 164L516 197M537 163L472 174M494 171L467 116M443 113L381 130M472 174L489 210M528 155L538 157M463 147L456 209M497 119L482 144M381 143L462 133M412 187L441 173M477 131L480 177M405 121L470 138M478 197L466 169M511 155L515 147M469 183L443 136M400 147L454 164M522 199L443 222M434 208L497 218M388 144L371 171M384 178L384 190M520 171L508 165M392 192L461 223M455 170L458 227M476 215L518 155M412 185L398 130M394 172L395 204M411 170L426 119M462 211L449 204M492 202L427 161M483 212L450 214M436 167L465 150M385 209L430 160M462 211L446 189M432 235L420 241M431 200L451 210M423 181L413 121M418 232L498 214M466 135L421 152M516 171L450 213M389 212L399 154M503 186L437 165M456 184L472 149M394 122L415 202M424 192L475 130M408 151L387 177M520 211L442 233M473 163L428 132M388 193L394 116M490 196L524 170M493 228L460 231M426 220L434 199M494 188L483 158M527 198L483 227M471 249L450 211M391 177L405 238M383 178L445 199M434 140L472 177M382 180L453 204M467 239L474 181M436 171L485 184M458 123L511 155M454 160L528 158M414 177L449 237M407 141L435 139M376 133L384 204M431 178L510 196M390 199L431 194M454 120L496 131M417 197L435 151M471 226L478 173M408 116L454 114M426 98L474 161M466 169L533 192M405 228L396 204M462 246L432 251M408 160L403 183M377 191L383 179M463 189L426 119M419 131L441 189M517 192L535 196M392 205L426 169M460 215L388 170M488 154L526 192M430 229L497 214M487 128L497 193M382 132L440 194M448 176L391 177M490 221L410 213M483 130L460 111M480 195L499 152M479 186L460 232M503 150L479 104M419 133L392 205M472 221L391 235M419 124L450 130M416 110L384 124M423 114L425 174M407 122L397 186M475 222L461 218M473 241L440 216M525 159L463 190M423 157L442 150M431 196L456 158M442 233L423 154M463 181L436 191M441 171L396 204M470 186L491 161M456 119L503 141M455 205L467 127M450 234L418 175M445 236L434 238M475 203L522 199M449 237L418 174M496 141L520 173M385 175L407 132M499 235L512 200M448 152L506 198M458 218L424 224M499 235L528 190M404 155L389 236M404 142L470 193M420 147L485 130M403 226L448 211M443 152L468 140M381 161L405 183M461 223L469 233M430 165L479 103M482 172L445 102M394 115L473 142M471 153L478 217M416 209L428 244M459 218L393 227M484 191L470 138M484 154L412 148M463 185L444 116M465 101L434 109M390 172L378 155M520 216L514 166M436 153L476 113M445 177L373 203M384 175L395 186M426 119L470 100M436 212L429 192M381 115L401 117M392 148L465 159M449 172L416 177M483 108L446 96M505 174L516 217M439 129L444 194M414 106L418 174M418 219L411 211M433 206L475 178M514 153L453 145M398 130L475 133M428 183L472 217M443 122L439 120M448 157L472 99M446 132L382 141M516 105L535 155M434 239L492 190M420 147L479 114M439 120L503 150M410 136L381 178M454 160L490 196M462 246L462 221M458 231L420 180M403 199L472 177M443 244L428 212M464 217L514 200M423 157L434 140M424 106L420 171M476 114L432 140M533 142L529 186M446 204L465 124M449 180L423 114M429 198L485 193M425 174L451 189M497 227L514 177M382 136L374 151M459 216L511 153M455 139L410 153M452 157L496 132M451 206L492 239M400 179L382 132M521 129L465 113M502 186L484 126M476 139L440 103M458 137L384 124M392 216L463 234M419 202L415 205M477 228L504 173M434 110L414 147M435 139L395 183M504 154L458 158M396 204L380 178M486 241L449 172M457 242L461 226M433 101L478 160M471 238L460 216M493 228L503 213M393 194L454 170M442 103L519 128M486 147L538 191M476 139L466 208M444 116L509 138M463 166L464 134M381 143L418 135M474 165L475 123M446 126L487 194M463 129L457 136M463 185L524 182M424 108L377 175M445 176L500 199M419 131L421 146M469 175L485 236M517 206L495 211M382 162L465 177M385 190L433 181M397 165L449 121M463 181L441 189M487 110L474 183M444 168L428 234M510 179L514 105M454 237L514 184M483 147L423 189M409 187L384 117M407 141L402 191M478 217L443 150M507 146L478 168M474 161L465 195M452 125L426 200M402 159L427 198M397 156L410 200M485 193L476 239M471 124L487 196M530 184L522 112M406 139L486 164M416 177L473 209M403 199L422 174M382 136L384 204M453 190L425 249M388 176L391 154M450 238L490 222M499 235L453 179M492 204L499 220M423 116L407 133M475 123L470 205M408 201L386 179M478 206L476 157M426 200L501 183M432 182L427 195M478 176L440 135M416 176L465 200M445 108L446 157M428 209L426 145M451 202L482 199M461 145L441 146M504 226L434 186M492 166L472 156M381 165L430 114M383 182L423 205M483 177L461 183M407 113L412 148" stroke="#a4a4a4" stroke-width="0.35" stroke-opacity="0.3"/><g opacity="0.9"><path class="o" d="M434 99h0M448 146h0M518 145h0M455 139h0M453 145h0M444 234h0M476 226h0M465 177h0M416 145h0M457 136h0M530 182h0M416 177h0M430 160h0M525 159h0M380 189h0M382 180h0M392 105h0M411 165h0M410 153h0M411 211h0M437 87h0M450 168h0M485 193h0M457 132h0M441 208h0M404 164h0M471 142h0M484 164h0M478 160h0M478 229h0M457 184h0M493 105h0M433 179h0M394 233h0M508 225h0M400 179h0M474 161h0M446 142h0M509 164h0M372 209h0M455 140h0M456 146h0M429 146h0M382 138h0M438 245h0M476 182h0M455 142h0M486 123h0M416 178h0M415 192h0M455 168h0M454 180h0M422 134h0M499 122h0M421 144h0M421 235h0M472 174h0M487 110h0M465 200h0M411 107h0M533 192h0M494 199h0M466 139h0M404 123h0M493 226h0M389 142h0M374 132h0M424 106h0M438 159h0M418 175h0M490 222h0M499 194h0M436 174h0M399 234h0M435 198h0M374 190h0M509 221h0M386 141h0M516 215h0M427 172h0" stroke="#989898" stroke-width="4.85"/><path class="i" d="M434 99h0M448 146h0M518 145h0M455 139h0M453 145h0M444 234h0M476 226h0M465 177h0M416 145h0M457 136h0M530 182h0M416 177h0M430 160h0M525 159h0M380 189h0M382 180h0M392 105h0M411 165h0M410 153h0M411 211h0M437 87h0M450 168h0M485 193h0M457 132h0M441 208h0M404 164h0M471 142h0M484 164h0M478 160h0M478 229h0M457 184h0M493 105h0M433 179h0M394 233h0M508 225h0M400 179h0M474 161h0M446 142h0M509 164h0M372 209h0M455 140h0M456 146h0M429 146h0M382 138h0M438 245h0M476 182h0M455 142h0M486 123h0M416 178h0M415 192h0M455 168h0M454 180h0M422 134h0M499 122h0M421 144h0M421 235h0M472 174h0M487 110h0M465 200h0M411 107h0M533 192h0M494 199h0M466 139h0M404 123h0M493 226h0M389 142h0M374 132h0M424 106h0M438 159h0M418 175h0M490 222h0M499 194h0M436 174h0M399 234h0M435 198h0M374 190h0M509 221h0M386 141h0M516 215h0M427 172h0" stroke="#e4e4e4" stroke-width="3.80"/><path class="o" d="M386 130h0M382 136h0M409 105h0M454 170h0M455 196h0M484 162h0M375 120h0M425 250h0M392 192h0M521 202h0M518 210h0M471 180h0M486 124h0M451 239h0M462 219h0M472 118h0M512 200h0M491 240h0M490 140h0M435 194h0M456 119h0M423 132h0M418 223h0M399 186h0M465 116h0M429 111h0M384 117h0M462 178h0M406 160h0M462 106h0M501 158h0M449 99h0M449 232h0M467 116h0M498 148h0M440 178h0M454 160h0M502 114h0M463 243h0M513 224h0M399 231h0M477 206h0M450 221h0M483 227h0M415 120h0M464 135h0M450 130h0M459 117h0M388 142h0M458 158h0M531 168h0M528 155h0M378 216h0M431 139h0M384 124h0M382 203h0M482 144h0M487 128h0M501 173h0M474 199h0M497 148h0M380 178h0M487 119h0M452 147h0M374 167h0M444 119h0M408 165h0M381 218h0M392 207h0M512 195h0M465 127h0M467 98h0M490 219h0M479 103h0M393 156h0M524 176h0M440 216h0M522 199h0M457 128h0M427 118h0M491 232h0M461 210h0M535 176h0M436 209h0M524 169h0M389 163h0M475 214h0M467 150h0M411 143h0M463 185h0M383 178h0M395 189h0M498 156h0M427 198h0M481 149h0M487 236h0M480 150h0M383 196h0M506 166h0M493 223h0M463 194h0M492 212h0M529 186h0M459 144h0M416 209h0M397 129h0M487 196h0M504 226h0M481 220h0M496 141h0M489 163h0M390 186h0M445 101h0M488 154h0M393 224h0M462 101h0M463 108h0M524 166h0M422 244h0M454 239h0M506 236h0M488 189h0M392 167h0M395 186h0M478 206h0M410 189h0M474 154h0M392 126h0M382 172h0M442 142h0M387 145h0M419 116h0M493 125h0M511 167h0M381 143h0M466 241h0M409 153h0M515 118h0M401 232h0M435 139h0M387 177h0M425 243h0M397 208h0M493 115h0M404 155h0M411 219h0M412 237h0M414 106h0M480 201h0M375 124h0M471 202h0M403 179h0M436 212h0M458 108h0M436 220h0M430 201h0M484 239h0M464 229h0M504 193h0M428 130h0M513 162h0M464 217h0M413 131h0M452 225h0M446 138h0M442 241h0M396 199h0M480 177h0M461 226h0M527 176h0M401 219h0M513 168h0M400 147h0M482 199h0M486 196h0M465 101h0M515 185h0M392 125h0M407 181h0M470 140h0M378 147h0M468 208h0M384 210h0M431 222h0M503 186h0M423 107h0M491 130h0M462 139h0M426 238h0M449 120h0M432 200h0M460 97h0M498 214h0M502 103h0M390 180h0M492 204h0M417 197h0M498 134h0M434 228h0M496 114h0M426 220h0M434 234h0M465 184h0M492 205h0M480 206h0M444 116h0M474 183h0M475 254h0M403 183h0M493 228h0M478 138h0M527 154h0M419 199h0M503 226h0M397 156h0M527 196h0" stroke="#bab45c" stroke-width="4.85"/><path class="i" d="M386 130h0M382 136h0M409 105h0M454 170h0M455 196h0M484 162h0M375 120h0M425 250h0M392 192h0M521 202h0M518 210h0M471 180h0M486 124h0M451 239h0M462 219h0M472 118h0M512 200h0M491 240h0M490 140h0M435 194h0M456 119h0M423 132h0M418 223h0M399 186h0M465 116h0M429 111h0M384 117h0M462 178h0M406 160h0M462 106h0M501 158h0M449 99h0M449 232h0M467 116h0M498 148h0M440 178h0M454 160h0M502 114h0M463 243h0M513 224h0M399 231h0M477 206h0M450 221h0M483 227h0M415 120h0M464 135h0M450 130h0M459 117h0M388 142h0M458 158h0M531 168h0M528 155h0M378 216h0M431 139h0M384 124h0M382 203h0M482 144h0M487 128h0M501 173h0M474 199h0M497 148h0M380 178h0M487 119h0M452 147h0M374 167h0M444 119h0M408 165h0M381 218h0M392 207h0M512 195h0M465 127h0M467 98h0M490 219h0M479 103h0M393 156h0M524 176h0M440 216h0M522 199h0M457 128h0M427 118h0M491 232h0M461 210h0M535 176h0M436 209h0M524 169h0M389 163h0M475 214h0M467 150h0M411 143h0M463 185h0M383 178h0M395 189h0M498 156h0M427 198h0M481 149h0M487 236h0M480 150h0M383 196h0M506 166h0M493 223h0M463 194h0M492 212h0M529 186h0M459 144h0M416 209h0M397 129h0M487 196h0M504 226h0M481 220h0M496 141h0M489 163h0M390 186h0M445 101h0M488 154h0M393 224h0M462 101h0M463 108h0M524 166h0M422 244h0M454 239h0M506 236h0M488 189h0M392 167h0M395 186h0M478 206h0M410 189h0M474 154h0M392 126h0M382 172h0M442 142h0M387 145h0M419 116h0M493 125h0M511 167h0M381 143h0M466 241h0M409 153h0M515 118h0M401 232h0M435 139h0M387 177h0M425 243h0M397 208h0M493 115h0M404 155h0M411 219h0M412 237h0M414 106h0M480 201h0M375 124h0M471 202h0M403 179h0M436 212h0M458 108h0M436 220h0M430 201h0M484 239h0M464 229h0M504 193h0M428 130h0M513 162h0M464 217h0M413 131h0M452 225h0M446 138h0M442 241h0M396 199h0M480 177h0M461 226h0M527 176h0M401 219h0M513 168h0M400 147h0M482 199h0M486 196h0M465 101h0M515 185h0M392 125h0M407 181h0M470 140h0M378 147h0M468 208h0M384 210h0M431 222h0M503 186h0M423 107h0M491 130h0M462 139h0M426 238h0M449 120h0M432 200h0M460 97h0M498 214h0M502 103h0M390 180h0M492 204h0M417 197h0M498 134h0M434 228h0M496 114h0M426 220h0M434 234h0M465 184h0M492 205h0M480 206h0M444 116h0M474 183h0M475 254h0M403 183h0M493 228h0M478 138h0M527 154h0M419 199h0M503 226h0M397 156h0M527 196h0" stroke="#f5f08a" stroke-width="3.80"/><path class="o" d="M490 219h0M494 195h0M452 105h0M392 205h0M520 190h0M516 223h0M499 220h0M497 193h0M451 143h0M516 132h0M455 232h0M469 239h0M520 171h0M521 200h0M442 236h0M527 134h0" stroke="#e60000" stroke-width="4.50"/><path class="i" d="M490 219h0M494 195h0M452 105h0M392 205h0M520 190h0M516 223h0M499 220h0M497 193h0M451 143h0M516 132h0M455 232h0M469 239h0M520 171h0M521 200h0M442 236h0M527 134h0" stroke="#ff0000" stroke-width="3.80"/></g><path d="M433 93L430 142M472 222L478 173M441 171L474 199M456 115L448 176M435 139L394 193M464 133L483 207M466 213L454 202M465 180L462 199M407 132L398 167M423 167L380 189M417 223L474 183M413 112L428 133M496 123L442 150M463 129L465 150M413 216L434 167M408 201L427 213M472 177L515 118M411 105L386 179M460 139L499 196M461 145L446 126M520 117L489 176M411 220L483 205M476 248L464 244M389 133L431 200M440 135L420 139M526 169L506 159M503 162L499 185M502 112L503 147M444 119L481 100M427 161L460 97M481 149L506 219M466 165L467 219M453 179L521 184M384 196L458 183M471 187L432 235M473 235L462 178M475 177L444 116M477 222L535 181M511 153L527 166M472 191L508 228M470 140L497 193M378 187L397 172M458 108L493 126M458 227L467 191M464 208L383 203M518 157L463 108M467 98L470 138M504 226L445 170M383 203L437 198M463 237L433 222M447 245L494 232M499 105L440 110M457 136L442 218M460 143L496 171M507 111L475 133M489 155L520 201M392 205L397 156M476 113L518 178M477 103L434 140M388 168L386 176M503 226L505 182M458 158L478 160M461 223L442 142M412 166L473 223M527 145L476 151M455 197L472 156M405 190L467 147M431 218L477 228M520 190L501 199M447 181L404 199M427 148L395 156M458 207L446 172M384 140L455 143M398 167L432 120M446 172L384 127M416 178L447 139M434 186L414 151M453 204L506 171M382 203L453 190M380 146L423 189M411 165L427 111M446 172L450 244M467 179L426 169M474 211L483 212M409 195L444 119M455 170L508 179M535 162L470 205M464 140L427 192M428 183L391 234M417 230L413 196M485 174L412 155M494 195L427 213M476 254L452 248M374 166L382 162M430 165L397 213M490 143L462 118M463 189L511 203M507 110L499 185M451 202L453 244M401 221L450 238M414 219L387 177M466 165L511 169M505 118L494 171M484 191L419 197M483 216L484 169M450 214L391 154M455 201L494 165M476 100L428 132M494 195L518 191M410 214L434 140M410 208L391 214M487 187L436 171M467 195L520 160M494 199L446 214M397 212L480 201M494 171L516 127M435 98L375 120M481 153L444 138M436 139L520 140M450 204L450 130M518 174L504 154M451 169L376 149M520 211L449 201M432 155L460 231M499 220L467 188M461 226L404 179M455 95L421 152M442 125L433 190M446 204L405 228M449 237L418 242M397 187L397 172M427 131L449 180M440 177L426 98M465 109L439 120M431 196L426 161M406 237L390 235M407 105L467 137M403 179L397 172M446 189L454 162M499 217L483 234M481 149L476 156M401 219L374 151M435 98L392 113M499 191L472 217M439 91L441 121M429 169L463 108M388 189L450 214M423 167L420 238M503 147L481 100M488 109L496 188M478 182L430 115M428 132L475 143M391 226L388 168M504 193L521 207M395 132L460 135M417 223L414 222M440 126L410 137M520 160L443 172M377 202L461 199M468 173L473 140M474 181L436 174M473 209L402 217M528 142L468 148M423 132L483 109M463 129L395 179M463 243L463 200M503 110L479 107M449 151L447 157M521 184L500 219M392 209L463 194M412 145L385 125M378 155L398 128M453 195L520 201M390 235L382 203M449 185L422 174M518 187L456 146M377 208L388 134M480 115L432 182M451 169L458 113M407 193L374 166M436 212L385 215M514 105L508 165M392 126L410 139M465 159L413 123M458 184L401 221M436 234L510 196M530 190L528 155M404 184L395 204M416 198L467 137M498 214L440 194M483 108L505 142M463 189L479 177M422 189L415 120M404 199L416 192M405 235L404 163M459 134L516 187M446 172L412 115M503 166L460 111M481 149L482 172M378 170L393 224M529 186L467 219M476 213L489 232M503 150L511 207M410 151L482 131M488 189L450 221M459 183L499 217M448 176L505 182M409 187L478 168M398 193L482 199M489 232L498 165M446 142L405 183M519 192L507 217M395 139L391 199M477 151L450 225M430 151L472 223M394 172L386 164M436 191L502 152M394 128L474 154M375 176L384 178M449 222L503 166M505 118L499 194M503 116L487 128M493 226L529 167M529 167L483 205M387 154L428 156M506 182L489 123M494 202L491 236M523 177L529 144M466 169L462 219M479 133L487 118M478 168L432 140M446 132L455 108M468 220L478 217M396 197L441 237M452 239L429 198M528 190L516 132M463 194L425 231M460 143L496 121M530 184L492 222M422 219L429 241M453 117L444 116M430 218L494 188M450 242L490 216M395 228L436 242M418 242L412 173M436 156L399 171M422 231L434 238M404 164L466 192M454 198L458 218M489 155L520 127M492 166L430 141M496 153L420 139M396 129L445 101M450 173L498 125M427 118L456 184M413 134L371 175M435 170L494 199M385 128L436 167M502 205L495 139M455 141L428 164M487 108L405 121M396 148L404 123M435 151L486 150M481 122L533 130M449 115L467 191M395 156L387 197M448 239L418 198M410 236L365 164M527 206L476 182M475 177L419 134M458 207L422 134M440 116L486 124M437 232L497 214M495 161L535 155M405 235L435 211M446 137L471 90M414 106L427 118M412 166L480 164M466 128L424 102M433 190L481 149M440 215L419 229M466 204L407 181M516 165L500 158M488 154L430 165M459 144L436 167M445 236L477 206" stroke="#a4a4a4" stroke-width="0.35" stroke-opacity="0.3"/><g opacity="0.9"><path class="o" d="M458 207h0M482 233h0M479 177h0M409 135h0M382 162h0M435 186h0M430 142h0M480 107h0M403 113h0M431 123h0M486 147h0M483 234h0M423 93h0M454 230h0M520 134h0M504 137h0M427 195h0M468 150h0M451 109h0M416 243h0M413 216h0M416 159h0M397 212h0M450 146h0M423 143h0M421 177h0M376 142h0M450 123h0M477 131h0M463 108h0M440 142h0M396 160h0M493 107h0M373 161h0M496 156h0M483 227h0M460 131h0M442 163h0M420 198h0M448 127h0M528 151h0M398 218h0M514 166h0M389 138h0M416 122h0M436 156h0M421 163h0M445 187h0M466 173h0M404 159h0M482 131h0M400 159h0M471 153h0M438 161h0M384 184h0M431 218h0M436 153h0M385 215h0M431 178h0M476 215h0M428 156h0M403 197h0M424 102h0M423 114h0M374 151h0M518 153h0M428 188h0M429 137h0M465 180h0M407 141h0M440 135h0M423 125h0M452 239h0M374 140h0M422 174h0M525 161h0M505 178h0M430 151h0M493 126h0M456 178h0M475 222h0M467 149h0M472 140h0M461 151h0M503 186h0M387 138h0M456 158h0M491 121h0M521 207h0" stroke="#989898" stroke-width="4.85"/><path class="i" d="M458 207h0M482 233h0M479 177h0M409 135h0M382 162h0M435 186h0M430 142h0M480 107h0M403 113h0M431 123h0M486 147h0M483 234h0M423 93h0M454 230h0M520 134h0M504 137h0M427 195h0M468 150h0M451 109h0M416 243h0M413 216h0M416 159h0M397 212h0M450 146h0M423 143h0M421 177h0M376 142h0M450 123h0M477 131h0M463 108h0M440 142h0M396 160h0M493 107h0M373 161h0M496 156h0M483 227h0M460 131h0M442 163h0M420 198h0M448 127h0M528 151h0M398 218h0M514 166h0M389 138h0M416 122h0M436 156h0M421 163h0M445 187h0M466 173h0M404 159h0M482 131h0M400 159h0M471 153h0M438 161h0M384 184h0M431 218h0M436 153h0M385 215h0M431 178h0M476 215h0M428 156h0M403 197h0M424 102h0M423 114h0M374 151h0M518 153h0M428 188h0M429 137h0M465 180h0M407 141h0M440 135h0M423 125h0M452 239h0M374 140h0M422 174h0M525 161h0M505 178h0M430 151h0M493 126h0M456 178h0M475 222h0M467 149h0M472 140h0M461 151h0M503 186h0M387 138h0M456 158h0M491 121h0M521 207h0" stroke="#e4e4e4" stroke-width="3.80"/><path class="o" d="M381 164h0M381 178h0M503 147h0M402 159h0M434 189h0M404 135h0M458 113h0M420 122h0M427 213h0M401 121h0M458 184h0M436 171h0M469 147h0M446 126h0M437 209h0M505 182h0M471 124h0M461 183h0M389 105h0M443 136h0M440 137h0M378 177h0M387 115h0M519 169h0M404 139h0M382 168h0M527 207h0M392 127h0M382 216h0M468 180h0M486 213h0M503 152h0M505 176h0M458 162h0M492 202h0M380 137h0M397 114h0M488 136h0M445 236h0M472 154h0M436 128h0M442 200h0M379 203h0M426 139h0M494 204h0M444 96h0M522 128h0M394 172h0M411 147h0M525 137h0M462 124h0M411 232h0M436 139h0M522 217h0M447 114h0M509 148h0M386 132h0M530 184h0M467 179h0M460 170h0M389 134h0M485 143h0M467 195h0M455 108h0M509 204h0M538 191h0M508 215h0M520 137h0M447 157h0M429 240h0M489 219h0M441 189h0M484 180h0M461 241h0M420 212h0M460 177h0M482 138h0M433 101h0M447 233h0M403 203h0M514 177h0M419 163h0M475 156h0M483 108h0M505 195h0M421 149h0M394 209h0M491 108h0M378 170h0M484 169h0M481 243h0M528 177h0M488 192h0M471 181h0M489 155h0M379 197h0M372 216h0M420 100h0M486 164h0M388 170h0M448 245h0M508 122h0M483 205h0M472 177h0M505 158h0M494 175h0M446 96h0M434 109h0M432 251h0M524 152h0M382 140h0M526 196h0M447 245h0M481 153h0M475 177h0M442 117h0M475 100h0M467 111h0M423 114h0M510 208h0M516 165h0M411 221h0M462 218h0M450 173h0M480 251h0M488 159h0M396 196h0M403 225h0M469 200h0M423 216h0M377 141h0M419 202h0M435 111h0M385 111h0M418 198h0M515 164h0M456 119h0M481 239h0M495 115h0M412 115h0M472 217h0M429 169h0M439 191h0M471 216h0M496 123h0M464 118h0M393 236h0M514 184h0M377 185h0M432 120h0M409 237h0M384 128h0M497 171h0M445 176h0M495 245h0M497 104h0M491 190h0M455 135h0M486 118h0M403 115h0M457 232h0M450 132h0M510 134h0M462 156h0M389 178h0M495 158h0M475 130h0M408 151h0M457 148h0M537 171h0M385 190h0M503 110h0M410 128h0M398 167h0M521 184h0M461 153h0M398 193h0M400 143h0M403 135h0M459 204h0M494 244h0M460 113h0M380 162h0M388 181h0M469 183h0M441 141h0M467 208h0M469 233h0M419 124h0M475 143h0M389 196h0M428 209h0M422 210h0M438 225h0M437 209h0M365 163h0M434 208h0M411 228h0M437 108h0M394 216h0M440 119h0M493 119h0M382 163h0M376 139h0M428 212h0M399 111h0" stroke="#bab45c" stroke-width="4.85"/><path class="i" d="M381 164h0M381 178h0M503 147h0M402 159h0M434 189h0M404 135h0M458 113h0M420 122h0M427 213h0M401 121h0M458 184h0M436 171h0M469 147h0M446 126h0M437 209h0M505 182h0M471 124h0M461 183h0M389 105h0M443 136h0M440 137h0M378 177h0M387 115h0M519 169h0M404 139h0M382 168h0M527 207h0M392 127h0M382 216h0M468 180h0M486 213h0M503 152h0M505 176h0M458 162h0M492 202h0M380 137h0M397 114h0M488 136h0M445 236h0M472 154h0M436 128h0M442 200h0M379 203h0M426 139h0M494 204h0M444 96h0M522 128h0M394 172h0M411 147h0M525 137h0M462 124h0M411 232h0M436 139h0M522 217h0M447 114h0M509 148h0M386 132h0M530 184h0M467 179h0M460 170h0M389 134h0M485 143h0M467 195h0M455 108h0M509 204h0M538 191h0M508 215h0M520 137h0M447 157h0M429 240h0M489 219h0M441 189h0M484 180h0M461 241h0M420 212h0M460 177h0M482 138h0M433 101h0M447 233h0M403 203h0M514 177h0M419 163h0M475 156h0M483 108h0M505 195h0M421 149h0M394 209h0M491 108h0M378 170h0M484 169h0M481 243h0M528 177h0M488 192h0M471 181h0M489 155h0M379 197h0M372 216h0M420 100h0M486 164h0M388 170h0M448 245h0M508 122h0M483 205h0M472 177h0M505 158h0M494 175h0M446 96h0M434 109h0M432 251h0M524 152h0M382 140h0M526 196h0M447 245h0M481 153h0M475 177h0M442 117h0M475 100h0M467 111h0M423 114h0M510 208h0M516 165h0M411 221h0M462 218h0M450 173h0M480 251h0M488 159h0M396 196h0M403 225h0M469 200h0M423 216h0M377 141h0M419 202h0M435 111h0M385 111h0M418 198h0M515 164h0M456 119h0M481 239h0M495 115h0M412 115h0M472 217h0M429 169h0M439 191h0M471 216h0M496 123h0M464 118h0M393 236h0M514 184h0M377 185h0M432 120h0M409 237h0M384 128h0M497 171h0M445 176h0M495 245h0M497 104h0M491 190h0M455 135h0M486 118h0M403 115h0M457 232h0M450 132h0M510 134h0M462 156h0M389 178h0M495 158h0M475 130h0M408 151h0M457 148h0M537 171h0M385 190h0M503 110h0M410 128h0M398 167h0M521 184h0M461 153h0M398 193h0M400 143h0M403 135h0M459 204h0M494 244h0M460 113h0M380 162h0M388 181h0M469 183h0M441 141h0M467 208h0M469 233h0M419 124h0M475 143h0M389 196h0M428 209h0M422 210h0M438 225h0M437 209h0M365 163h0M434 208h0M411 228h0M437 108h0M394 216h0M440 119h0M493 119h0M382 163h0M376 139h0M428 212h0M399 111h0" stroke="#f5f08a" stroke-width="3.80"/><path class="o" d="M495 217h0M523 158h0M423 205h0M497 228h0M510 214h0M529 173h0M436 239h0M462 133h0M439 239h0M497 207h0M500 175h0M510 179h0M490 216h0M502 205h0M489 218h0M508 155h0M524 160h0" stroke="#e60000" stroke-width="4.50"/><path class="i" d="M495 217h0M523 158h0M423 205h0M497 228h0M510 214h0M529 173h0M436 239h0M462 133h0M439 239h0M497 207h0M500 175h0M510 179h0M490 216h0M502 205h0M489 218h0M508 155h0M524 160h0" stroke="#ff0000" stroke-width="3.80"/></g><path d="M419 163L441 237M395 240L471 202M502 219L538 157M482 207L486 219M412 244L418 217M508 143L479 146M458 231L432 154M516 137L516 215M493 190L450 211M480 150L460 113M416 122L486 118M431 118L425 130M435 172L485 130M436 130L502 103M477 220L428 239M436 212L446 132M444 194L519 185M471 238L474 161M367 145L377 173M461 199L428 234M405 111L386 164M431 230L513 213M507 153L429 133M419 172L498 174M519 194L471 153M460 242L415 185M407 196L434 239M442 173L507 120M446 172L443 172M478 180L516 223M496 132L457 148M432 118L455 142M481 98L480 164M401 133L447 181M458 137L516 171M486 150L476 114M457 246L466 165M410 139L465 195M445 102L487 166M500 219L450 237M428 101L408 168M452 201L496 188M504 198L528 180M458 213L398 229M451 189L494 204M458 184L396 204M435 211L478 193M441 134L409 180M433 181L505 191M428 164L421 152M484 180L507 179M520 134L471 128M451 109L400 170M412 185L388 176M457 136L483 131M479 204L520 171M471 201L496 131M430 223L444 212M414 177L432 154M460 139L455 108M477 236L420 180M487 108L469 150M416 159L462 221M445 236L461 202M439 115L448 178M490 222L449 213M418 187L401 221M509 144L436 153M436 110L433 190M511 203L446 185M446 172L409 180M454 180L500 159M383 144L403 226M486 171L494 166M405 144L478 176M432 155L418 217M423 114L423 114M382 136L459 162M488 232L518 157M404 148L455 135M476 248L469 233M434 228L475 200M425 231L395 183M483 218L474 199M486 219L463 147M431 123L456 136M481 124L458 137M472 177L420 171M404 179L392 151M485 174L402 159M395 207L383 129M446 150L445 199M427 148L478 176M418 187L476 182M434 234L427 195M468 150L429 218M483 227L529 164M428 164L392 125M441 209L427 148M502 103L476 151M525 161L447 181M451 202L379 203M449 151L509 163M458 183L457 125M432 154L466 208M426 149L379 133M426 181L403 135M520 201L520 146M456 199L524 182M522 128L480 109M404 184L397 156M531 154L489 210M518 155L490 219M410 128L456 119M445 146L459 204M419 172L494 193M427 198L384 210M462 218L455 223M463 181L477 206M381 202L379 133M372 204L378 170M440 119L462 178M466 165L528 151M528 190L494 187M433 181L420 157M485 212L417 214M400 162L417 231M404 142L417 127M449 172L464 244M520 215L476 232M386 141L445 101M396 160L418 242M490 196L455 140M456 115L446 126M462 110L443 150M482 138L421 157M458 207L428 181M446 172L397 158M385 215L436 220M501 232L501 158M482 199L467 179M473 241L461 241M416 159L455 223M522 130L511 139M439 218L428 156M484 234L492 217M382 180L407 141M450 204L456 209M396 204L466 213M440 216L468 214M519 192L510 196M401 208L376 142M389 178L411 147M495 195L461 145M419 172L429 126M391 177L460 210M414 147L448 176M400 162L413 245M528 159L458 113M502 164L439 119M441 106L426 158M449 121L479 133M413 121L488 159M429 126L489 123M420 198L444 193M481 167L430 151M423 181L493 190M445 172L438 240M390 172L444 190M436 156L439 218M495 195L495 134M431 178L458 158M386 164L448 176M478 182L456 115M392 209L421 202M388 176L378 187M440 137L387 196M426 238L429 198M475 133L459 183M433 242L491 184M416 192L419 229M397 187L394 148M429 218L418 217M394 128L379 133M483 134L495 100M477 220L405 238M474 165L461 241M449 201L402 222M473 230L471 249M417 197L427 148M454 164L418 232M438 172L451 206M451 210L511 229M434 149L491 161M449 99L449 99M434 155L438 230M472 105L484 180M446 189L456 146M517 130L505 178M455 196L453 195M380 157L442 173M408 165L465 195M381 161L389 196M403 226L471 238M373 165L382 136M520 190L516 144M407 223L467 164M397 213L478 226M395 207L417 126M494 187L486 118M417 231L455 232M457 145L514 166M481 159L482 199M406 160L463 208M409 187L458 134M430 240L488 205M384 140L387 138M506 198L481 237M384 182L401 221M413 123L464 118M463 108L502 112M400 159L394 223M431 139L454 198M460 231L470 186M454 237L419 163M393 194L430 172M413 121L436 174M434 208L435 252M374 190L402 114M470 240L475 254M476 139L475 138M427 148L446 126M446 126L425 120M397 201L396 204M388 181L466 169M400 134L460 128M486 195L438 192M408 222L425 141M413 121L390 172M405 190L448 170M404 231L411 165M463 194L525 220M412 173L433 145M479 186L486 171M474 161L507 179M450 143L440 209M506 127L470 153M493 107L462 119M402 162L478 160M385 125L377 202M407 141L395 123M397 158L416 175M527 196L483 223M499 147L502 114M397 208L430 240M467 193L461 223M436 148L450 214M395 168L395 204M441 241L475 218M431 123L443 136M409 105L386 179M444 119L382 132M480 164L442 187M501 170L429 133M461 153L412 215M484 215L419 199M381 115L378 157M402 222L445 177M442 207L405 153M455 141L503 201M435 198L509 200M518 145L504 148M469 183L511 223M436 166L468 214M411 119L468 173M471 201L401 221M387 207L430 151M469 147L502 186M404 123L415 185M456 119L460 170M420 171L433 204M413 187L477 168M487 128L474 183M423 217L459 218M515 140L445 177" stroke="#a4a4a4" stroke-width="0.35" stroke-opacity="0.3"/><g opacity="0.9"><path class="o" d="M412 164h0M516 137h0M447 231h0M412 155h0M460 111h0M469 150h0M436 217h0M383 147h0M406 163h0M426 169h0M381 161h0M481 98h0M402 165h0M377 173h0M453 244h0M377 173h0M409 154h0M417 214h0M516 127h0M450 242h0M412 166h0M443 231h0M387 207h0M478 182h0M422 233h0M531 128h0M518 155h0M445 146h0M496 131h0M446 185h0M486 171h0M440 113h0M463 234h0M490 196h0M452 125h0M384 157h0M459 165h0M473 241h0M472 176h0M448 170h0M403 214h0M435 164h0M497 227h0M427 192h0M378 209h0M527 198h0M494 184h0M416 136h0M386 206h0M384 156h0M429 142h0M435 125h0M396 226h0M366 154h0M441 171h0M373 165h0M461 242h0M448 113h0M403 119h0M455 145h0M509 200h0M445 170h0M414 147h0M395 222h0M409 116h0M483 177h0M488 180h0M445 207h0M496 127h0M447 232h0M396 204h0M527 140h0M433 144h0M448 152h0M450 143h0M443 191h0M453 226h0M510 196h0M419 134h0M508 224h0M487 166h0M453 179h0M438 183h0M473 142h0M420 157h0M461 241h0M537 136h0M529 156h0M408 136h0M466 169h0M508 131h0M476 151h0M454 109h0M444 190h0" stroke="#989898" stroke-width="4.85"/><path class="i" d="M412 164h0M516 137h0M447 231h0M412 155h0M460 111h0M469 150h0M436 217h0M383 147h0M406 163h0M426 169h0M381 161h0M481 98h0M402 165h0M377 173h0M453 244h0M377 173h0M409 154h0M417 214h0M516 127h0M450 242h0M412 166h0M443 231h0M387 207h0M478 182h0M422 233h0M531 128h0M518 155h0M445 146h0M496 131h0M446 185h0M486 171h0M440 113h0M463 234h0M490 196h0M452 125h0M384 157h0M459 165h0M473 241h0M472 176h0M448 170h0M403 214h0M435 164h0M497 227h0M427 192h0M378 209h0M527 198h0M494 184h0M416 136h0M386 206h0M384 156h0M429 142h0M435 125h0M396 226h0M366 154h0M441 171h0M373 165h0M461 242h0M448 113h0M403 119h0M455 145h0M509 200h0M445 170h0M414 147h0M395 222h0M409 116h0M483 177h0M488 180h0M445 207h0M496 127h0M447 232h0M396 204h0M527 140h0M433 144h0M448 152h0M450 143h0M443 191h0M453 226h0M510 196h0M419 134h0M508 224h0M487 166h0M453 179h0M438 183h0M473 142h0M420 157h0M461 241h0M537 136h0M529 156h0M408 136h0M466 169h0M508 131h0M476 151h0M454 109h0M444 190h0" stroke="#e4e4e4" stroke-width="3.80"/><path class="o" d="M494 171h0M438 230h0M394 168h0M386 179h0M391 234h0M514 205h0M383 189h0M397 183h0M522 182h0M389 151h0M479 181h0M400 170h0M460 231h0M424 192h0M451 105h0M526 120h0M497 142h0M467 127h0M418 217h0M407 132h0M467 180h0M445 125h0M533 130h0M384 141h0M441 209h0M407 105h0M427 208h0M475 218h0M410 151h0M495 219h0M480 156h0M498 214h0M436 191h0M433 204h0M444 212h0M482 145h0M483 102h0M410 139h0M511 169h0M419 144h0M414 219h0M480 135h0M413 121h0M510 185h0M425 130h0M457 93h0M371 167h0M472 105h0M480 137h0M418 187h0M490 169h0M502 158h0M505 135h0M383 129h0M480 181h0M391 168h0M450 237h0M525 220h0M409 239h0M468 140h0M479 104h0M464 111h0M538 157h0M454 131h0M477 157h0M483 130h0M443 96h0M426 119h0M522 130h0M462 144h0M519 192h0M500 166h0M520 158h0M449 185h0M497 105h0M422 231h0M479 132h0M409 187h0M372 204h0M445 102h0M402 191h0M507 115h0M397 213h0M395 113h0M452 201h0M449 201h0M459 189h0M476 232h0M440 237h0M405 154h0M523 177h0M434 190h0M432 118h0M488 115h0M442 207h0M409 182h0M423 98h0M496 188h0M469 192h0M502 157h0M530 148h0M477 103h0M383 182h0M435 170h0M435 172h0M429 218h0M521 129h0M404 184h0M468 220h0M509 225h0M370 140h0M440 116h0M417 127h0M440 104h0M504 148h0M456 199h0M457 104h0M496 171h0M479 107h0M459 162h0M477 151h0M384 182h0M528 180h0M411 114h0M390 175h0M494 165h0M373 203h0M404 199h0M503 213h0M416 110h0M519 128h0M417 231h0M404 148h0M500 123h0M499 217h0M451 107h0M455 205h0M460 232h0M462 221h0M383 203h0M511 203h0M471 187h0M516 166h0M446 218h0M440 197h0M503 150h0M378 171h0M484 126h0M456 220h0M454 157h0M392 151h0M479 114h0M372 171h0M475 234h0M437 232h0M429 203h0M416 198h0M502 226h0M513 139h0M494 187h0M459 206h0M410 210h0M465 220h0M414 163h0M398 228h0M364 181h0M473 197h0M473 140h0M421 202h0M458 204h0M536 161h0M381 130h0M397 158h0M516 144h0M475 216h0M380 177h0M424 224h0M459 107h0M433 222h0M446 116h0M482 162h0M449 121h0M477 153h0M456 103h0M455 197h0M455 201h0M417 230h0M454 202h0M434 199h0M496 141h0M498 170h0M485 212h0M381 143h0M413 117h0M426 181h0M430 114h0M520 141h0M421 146h0M428 181h0M463 190h0" stroke="#bab45c" stroke-width="4.85"/><path class="i" d="M494 171h0M438 230h0M394 168h0M386 179h0M391 234h0M514 205h0M383 189h0M397 183h0M522 182h0M389 151h0M479 181h0M400 170h0M460 231h0M424 192h0M451 105h0M526 120h0M497 142h0M467 127h0M418 217h0M407 132h0M467 180h0M445 125h0M533 130h0M384 141h0M441 209h0M407 105h0M427 208h0M475 218h0M410 151h0M495 219h0M480 156h0M498 214h0M436 191h0M433 204h0M444 212h0M482 145h0M483 102h0M410 139h0M511 169h0M419 144h0M414 219h0M480 135h0M413 121h0M510 185h0M425 130h0M457 93h0M371 167h0M472 105h0M480 137h0M418 187h0M490 169h0M502 158h0M505 135h0M383 129h0M480 181h0M391 168h0M450 237h0M525 220h0M409 239h0M468 140h0M479 104h0M464 111h0M538 157h0M454 131h0M477 157h0M483 130h0M443 96h0M426 119h0M522 130h0M462 144h0M519 192h0M500 166h0M520 158h0M449 185h0M497 105h0M422 231h0M479 132h0M409 187h0M372 204h0M445 102h0M402 191h0M507 115h0M397 213h0M395 113h0M452 201h0M449 201h0M459 189h0M476 232h0M440 237h0M405 154h0M523 177h0M434 190h0M432 118h0M488 115h0M442 207h0M409 182h0M423 98h0M496 188h0M469 192h0M502 157h0M530 148h0M477 103h0M383 182h0M435 170h0M435 172h0M429 218h0M521 129h0M404 184h0M468 220h0M509 225h0M370 140h0M440 116h0M417 127h0M440 104h0M504 148h0M456 199h0M457 104h0M496 171h0M479 107h0M459 162h0M477 151h0M384 182h0M528 180h0M411 114h0M390 175h0M494 165h0M373 203h0M404 199h0M503 213h0M416 110h0M519 128h0M417 231h0M404 148h0M500 123h0M499 217h0M451 107h0M455 205h0M460 232h0M462 221h0M383 203h0M511 203h0M471 187h0M516 166h0M446 218h0M440 197h0M503 150h0M378 171h0M484 126h0M456 220h0M454 157h0M392 151h0M479 114h0M372 171h0M475 234h0M437 232h0M429 203h0M416 198h0M502 226h0M513 139h0M494 187h0M459 206h0M410 210h0M465 220h0M414 163h0M398 228h0M364 181h0M473 197h0M473 140h0M421 202h0M458 204h0M536 161h0M381 130h0M397 158h0M516 144h0M475 216h0M380 177h0M424 224h0M459 107h0M433 222h0M446 116h0M482 162h0M449 121h0M477 153h0M456 103h0M455 197h0M455 201h0M417 230h0M454 202h0M434 199h0M496 141h0M498 170h0M485 212h0M381 143h0M413 117h0M426 181h0M430 114h0M520 141h0M421 146h0M428 181h0M463 190h0" stroke="#f5f08a" stroke-width="3.80"/><path class="o" d="M455 223h0M514 117h0M512 125h0M537 163h0M458 218h0M418 183h0M443 150h0M450 225h0M519 194h0M488 205h0M527 193h0M529 188h0M521 145h0M488 232h0M410 186h0M458 227h0M537 196h0M487 187h0" stroke="#e60000" stroke-width="4.50"/><path class="i" d="M455 223h0M514 117h0M512 125h0M537 163h0M458 218h0M418 183h0M443 150h0M450 225h0M519 194h0M488 205h0M527 193h0M529 188h0M521 145h0M488 232h0M410 186h0M458 227h0M537 196h0M487 187h0" stroke="#ff0000" stroke-width="3.80"/></g><path d="M454 222L477 206M471 202L456 242M436 153L494 161M464 191L445 113M406 163L386 176M473 163L492 217M462 185L512 195M406 160L449 191M423 114L385 125M418 242L499 235M467 239L488 159M488 184L494 204M533 192L462 185M419 116L446 172M441 208L454 202M437 194L394 148M484 187L435 252M500 123L519 128M383 147L409 105M437 198L472 191M451 105L464 104M471 124L521 145M442 170L487 236M439 119L476 157M468 141L464 217M380 189L379 197M387 198L431 226M413 191L413 117M463 200L416 165M435 98L463 103M521 229L467 245M476 147L479 204M415 120L466 139M427 148L484 149M372 189L442 170M496 171L508 183M488 136L423 167M473 197L401 221M487 125L479 104M499 94L453 115M488 159L454 141M440 197L398 228M528 180L513 168M459 216L465 195M466 208L497 218M377 168L409 95M463 103L424 106M442 233L452 234M421 144L491 184M458 213L407 223M398 211L411 165M508 171L506 236M481 149L454 120M528 142L455 135M431 196L479 133M405 187L439 218M441 189L423 125M495 152L495 158M401 225L422 210M432 197L434 130M434 189L465 180M517 130L436 110M505 158L502 191M453 254L487 229M388 168L443 172M404 148L429 111M490 219L424 187M441 146L480 181M454 202L512 233M490 216L524 166M448 113L500 166M516 141L468 187M494 193L512 119M396 148L423 93M454 202L410 176M412 215L453 145M441 208L403 199M393 236L446 214M464 185L417 161M419 202L497 207M467 164L483 147M521 229L472 174M413 188L491 184M498 214L428 239M441 173L519 185M394 193L419 197M492 239L435 194M475 234L486 226M436 128L449 185M445 160L419 172M477 151L449 96M480 181L509 201M479 142L467 98M379 133L391 155M428 249L396 197M493 150L524 176M473 230L492 190M512 213L464 244M445 102L486 119M437 197L447 233M478 160L466 192M466 213L456 209M466 208L484 130M442 170L438 192M519 178L483 212M440 178L390 122M410 151L438 225M457 189L439 204M409 187L459 183M468 148L427 198M442 163L385 125M464 142L427 118M415 205L435 139M381 226L390 172M445 170L479 103M386 164L386 179M384 128L459 162M472 222L470 200M529 167L520 188M430 151L462 139M436 217L397 172M383 178L463 181M423 143L404 159M520 134L459 146M484 164L462 214M466 108L527 166M477 228L440 209M456 119L521 129M459 121L418 175M389 196L404 142M422 174L472 155M398 150L439 184M437 194L467 180M458 113L416 133M472 206L514 166M428 232L464 244M409 180L459 204M431 123L435 151M486 126L463 113M503 226L468 245M394 128L422 172M412 197L430 165M390 167L388 119M445 207L469 237M397 158L449 201M387 207L383 178M424 187L431 222M433 190L470 200M469 100L478 182M432 200L488 205M507 179L447 232M445 176L502 207M503 150L436 167M428 168L436 166M396 225L421 146M373 213L417 161M448 176L442 111M375 120L459 109M459 216L395 164M431 178L451 109M394 122L434 99M516 181L496 123M378 177L411 107M479 104L428 164M439 184L461 210M410 118L464 118M465 105L460 139M511 159L462 144M411 219L461 183M443 122L449 172M387 148L459 162M497 171L491 236M490 222L490 196M472 176L453 110M466 165L397 165M390 167L408 201M508 116L480 156M443 146L502 140M494 204L462 178M486 173L485 130M474 154L414 151M383 203L433 144M450 242L474 202M443 191L447 157M506 219L471 201M425 250L461 194M489 155L487 110M445 113L415 123M375 120L440 116M458 218L512 221M500 158L517 186M444 119L454 109M506 198L491 190M497 105L488 154M500 159L448 176M431 194L434 186M488 114L450 168M382 136L433 179M429 126L460 113M458 134L390 122M480 99L505 142M454 162L449 115M382 132L423 189M448 208L455 197M483 108L454 101M461 145L471 202M384 196L370 169M417 169L397 106M425 249L449 172M524 166L503 166M406 160L414 151M426 184L476 156M458 108L427 111M396 204L422 142M501 183L492 222M528 158L525 137M442 150L501 170M465 180L520 151M502 191L458 207M446 234L420 212M465 177L423 227M403 119L419 197M508 171L468 140M455 196L466 213M518 210L480 177M470 205L435 239M497 228L434 190M455 170L374 174M423 154L473 209M478 168L438 172M502 186L488 200M438 225L425 174M416 109L487 108M528 159L497 151M486 196L483 193M375 144L396 197M370 140L409 187M426 158L496 132M485 174L436 220M467 207L530 190M465 180L404 123M447 139L431 196M396 129L405 111M487 187L503 186M406 160L401 125M466 173L518 174M388 181L378 217M383 166L411 147M499 185L442 170M458 207L513 211M496 128L471 180M528 180L513 224M412 244L461 183M435 111L467 188M387 145L367 145M509 163L479 133M443 122L462 118M427 144L510 137M468 140L477 103M452 166L415 120M478 217L524 170M404 199L427 172M496 132L481 153M459 107L466 108M516 135L528 151M472 99L482 131M467 239L465 168M474 211L413 196M411 194L489 191M449 210L440 230M456 209L520 164M383 176L417 148M422 142L446 172M382 132L411 194M401 121L484 111M454 170L388 144M478 168L446 234M514 166L442 181M401 190L443 122M486 171L446 138M451 202L434 130M516 121L491 173M421 115L378 134M482 145L433 174M501 197L497 238" stroke="#a4a4a4" stroke-width="0.35" stroke-opacity="0.3"/><g opacity="0.9"><path class="o" d="M399 146h0M418 206h0M433 213h0M523 190h0M383 179h0M501 152h0M461 218h0M466 108h0M499 152h0M449 96h0M388 210h0M455 135h0M447 139h0M383 183h0M406 139h0M445 160h0M444 186h0M466 128h0M466 135h0M507 183h0M517 213h0M410 176h0M516 118h0M479 204h0M463 200h0M442 170h0M397 167h0M508 126h0M430 233h0M412 145h0M389 221h0M441 173h0M390 167h0M497 151h0M476 201h0M444 138h0M447 99h0M398 150h0M511 207h0M441 169h0M451 131h0M407 122h0M433 116h0M459 233h0M442 150h0M402 149h0M489 123h0M464 179h0M444 194h0M458 137h0M519 188h0M446 134h0M478 176h0M454 119h0M388 134h0M493 150h0M427 161h0M407 133h0M502 152h0M526 162h0M486 219h0M445 176h0M430 141h0M394 119h0M446 132h0M463 181h0M449 172h0M459 146h0M459 134h0M538 138h0M408 222h0M425 141h0M423 125h0M483 148h0M436 166h0M456 207h0M430 134h0M434 186h0M490 221h0M426 145h0M390 139h0M420 139h0M435 239h0M517 172h0M472 222h0M397 206h0M386 176h0M464 134h0M458 248h0M433 181h0M453 145h0M439 142h0" stroke="#989898" stroke-width="4.85"/><path class="i" d="M399 146h0M418 206h0M433 213h0M523 190h0M383 179h0M501 152h0M461 218h0M466 108h0M499 152h0M449 96h0M388 210h0M455 135h0M447 139h0M383 183h0M406 139h0M445 160h0M444 186h0M466 128h0M466 135h0M507 183h0M517 213h0M410 176h0M516 118h0M479 204h0M463 200h0M442 170h0M397 167h0M508 126h0M430 233h0M412 145h0M389 221h0M441 173h0M390 167h0M497 151h0M476 201h0M444 138h0M447 99h0M398 150h0M511 207h0M441 169h0M451 131h0M407 122h0M433 116h0M459 233h0M442 150h0M402 149h0M489 123h0M464 179h0M444 194h0M458 137h0M519 188h0M446 134h0M478 176h0M454 119h0M388 134h0M493 150h0M427 161h0M407 133h0M502 152h0M526 162h0M486 219h0M445 176h0M430 141h0M394 119h0M446 132h0M463 181h0M449 172h0M459 146h0M459 134h0M538 138h0M408 222h0M425 141h0M423 125h0M483 148h0M436 166h0M456 207h0M430 134h0M434 186h0M490 221h0M426 145h0M390 139h0M420 139h0M435 239h0M517 172h0M472 222h0M397 206h0M386 176h0M464 134h0M458 248h0M433 181h0M453 145h0M439 142h0" stroke="#e4e4e4" stroke-width="3.80"/><path class="o" d="M387 198h0M487 200h0M520 173h0M435 107h0M433 206h0M442 238h0M478 207h0M450 239h0M412 244h0M399 154h0M442 111h0M476 113h0M453 115h0M420 109h0M506 182h0M383 233h0M476 239h0M392 209h0M435 98h0M460 210h0M445 172h0M446 214h0M494 188h0M462 110h0M509 201h0M478 217h0M500 219h0M484 191h0M379 197h0M379 224h0M506 127h0M384 196h0M512 171h0M476 156h0M391 142h0M434 239h0M483 223h0M491 236h0M463 133h0M516 171h0M482 199h0M366 172h0M520 188h0M457 145h0M433 236h0M431 226h0M430 172h0M497 191h0M456 115h0M382 141h0M480 155h0M449 191h0M405 235h0M510 137h0M470 193h0M384 140h0M416 96h0M478 180h0M397 211h0M399 207h0M383 166h0M457 189h0M507 120h0M420 171h0M411 105h0M396 142h0M529 155h0M393 138h0M379 217h0M449 204h0M424 108h0M454 101h0M531 179h0M483 109h0M513 225h0M460 212h0M404 116h0M405 97h0M498 165h0M394 121h0M398 213h0M475 194h0M423 217h0M451 210h0M414 177h0M395 123h0M497 159h0M491 170h0M407 231h0M498 95h0M402 137h0M382 132h0M460 223h0M481 100h0M420 110h0M436 242h0M426 201h0M439 184h0M383 176h0M472 149h0M404 179h0M508 229h0M436 148h0M470 240h0M460 242h0M389 236h0M389 201h0M428 244h0M520 216h0M413 188h0M478 226h0M372 182h0M416 165h0M525 168h0M367 145h0M506 155h0M453 122h0M428 111h0M515 186h0M411 176h0M517 206h0M451 202h0M411 170h0M480 115h0M404 142h0M481 106h0M535 162h0M404 230h0M412 191h0M409 138h0M487 118h0M516 141h0M442 233h0M513 211h0M394 164h0M493 228h0M413 134h0M494 193h0M468 187h0M529 164h0M470 94h0M448 102h0M496 128h0M384 175h0M379 161h0M421 157h0M390 122h0M489 176h0M459 218h0M462 246h0M441 117h0M381 149h0M404 163h0M496 153h0M485 127h0M442 187h0M376 198h0M475 200h0M470 100h0M478 160h0M478 189h0M459 109h0M402 114h0M381 115h0M474 202h0M426 221h0M440 230h0M434 140h0M489 189h0M509 226h0M480 109h0M506 130h0M386 229h0M517 186h0M454 236h0M515 158h0M518 174h0M384 139h0M478 107h0M446 114h0M451 117h0M522 224h0M506 159h0M394 220h0M508 166h0M487 103h0M506 204h0M426 158h0M516 121h0M443 146h0M473 235h0M391 226h0M392 148h0M511 209h0M447 245h0M466 192h0M432 157h0M429 192h0M382 216h0M460 93h0M412 148h0M499 94h0" stroke="#bab45c" stroke-width="4.85"/><path class="i" d="M387 198h0M487 200h0M520 173h0M435 107h0M433 206h0M442 238h0M478 207h0M450 239h0M412 244h0M399 154h0M442 111h0M476 113h0M453 115h0M420 109h0M506 182h0M383 233h0M476 239h0M392 209h0M435 98h0M460 210h0M445 172h0M446 214h0M494 188h0M462 110h0M509 201h0M478 217h0M500 219h0M484 191h0M379 197h0M379 224h0M506 127h0M384 196h0M512 171h0M476 156h0M391 142h0M434 239h0M483 223h0M491 236h0M463 133h0M516 171h0M482 199h0M366 172h0M520 188h0M457 145h0M433 236h0M431 226h0M430 172h0M497 191h0M456 115h0M382 141h0M480 155h0M449 191h0M405 235h0M510 137h0M470 193h0M384 140h0M416 96h0M478 180h0M397 211h0M399 207h0M383 166h0M457 189h0M507 120h0M420 171h0M411 105h0M396 142h0M529 155h0M393 138h0M379 217h0M449 204h0M424 108h0M454 101h0M531 179h0M483 109h0M513 225h0M460 212h0M404 116h0M405 97h0M498 165h0M394 121h0M398 213h0M475 194h0M423 217h0M451 210h0M414 177h0M395 123h0M497 159h0M491 170h0M407 231h0M498 95h0M402 137h0M382 132h0M460 223h0M481 100h0M420 110h0M436 242h0M426 201h0M439 184h0M383 176h0M472 149h0M404 179h0M508 229h0M436 148h0M470 240h0M460 242h0M389 236h0M389 201h0M428 244h0M520 216h0M413 188h0M478 226h0M372 182h0M416 165h0M525 168h0M367 145h0M506 155h0M453 122h0M428 111h0M515 186h0M411 176h0M517 206h0M451 202h0M411 170h0M480 115h0M404 142h0M481 106h0M535 162h0M404 230h0M412 191h0M409 138h0M487 118h0M516 141h0M442 233h0M513 211h0M394 164h0M493 228h0M413 134h0M494 193h0M468 187h0M529 164h0M470 94h0M448 102h0M496 128h0M384 175h0M379 161h0M421 157h0M390 122h0M489 176h0M459 218h0M462 246h0M441 117h0M381 149h0M404 163h0M496 153h0M485 127h0M442 187h0M376 198h0M475 200h0M470 100h0M478 160h0M478 189h0M459 109h0M402 114h0M381 115h0M474 202h0M426 221h0M440 230h0M434 140h0M489 189h0M509 226h0M480 109h0M506 130h0M386 229h0M517 186h0M454 236h0M515 158h0M518 174h0M384 139h0M478 107h0M446 114h0M451 117h0M522 224h0M506 159h0M394 220h0M508 166h0M487 103h0M506 204h0M426 158h0M516 121h0M443 146h0M473 235h0M391 226h0M392 148h0M511 209h0M447 245h0M466 192h0M432 157h0M429 192h0M382 216h0M460 93h0M412 148h0M499 94h0" stroke="#f5f08a" stroke-width="3.80"/><path class="o" d="M495 195h0M467 245h0M505 174h0M451 169h0M435 252h0M495 134h0M481 237h0M509 138h0M459 216h0M499 235h0M501 183h0M384 217h0M407 202h0M465 195h0M500 179h0M434 238h0M476 254h0M526 138h0" stroke="#e60000" stroke-width="4.50"/><path class="i" d="M495 195h0M467 245h0M505 174h0M451 169h0M435 252h0M495 134h0M481 237h0M509 138h0M459 216h0M499 235h0M501 183h0M384 217h0M407 202h0M465 195h0M500 179h0M434 238h0M476 254h0M526 138h0" stroke="#ff0000" stroke-width="3.80"/></g><path d="M385.4 45.9L392.1 67.2M392.1 67.2L389.7 77.9M392.1 67.2L405 122M378.3 77.4L380.7 81.4M380.7 81.4L387.3 81.4M389.7 77.9L387.3 81.4M387.3 81.4L390.2 83.8M390.2 83.8L392.1 85.4M392.1 85.4L386.4 91.6M401.1 85.7L402.2 88.5M402.2 88.5L408.6 87.3M408.6 87.3L409.1 94M408.6 87.3L434 150M415.7 85.7L416.2 87.3M416.2 87.3L418.3 94.3M379.8 90.2L383.8 89.2M383.8 89.2L386.4 91.6M386.4 91.6L386.9 96.8M375 94.9L376.7 98.7M379.1 96.8L384.5 101.1M392.5 94L395 100M386.9 96.8L384.5 101.1M410.3 96.8L407 100M409.1 94L410.3 96.8M418.1 95.6L418 98M400.4 98L403.9 100.4M403.9 100.4L407 100M376.7 98.7L377.4 104.4M357.3 103.4L372.5 111.3M357.3 103.4L398 150M384.5 101.1L389.7 101.5M389.7 101.5L389 105M377.4 104.4L379.1 105.1M379.1 105.1L384.5 101.1M394.4 103.9L397 106M373.1 111L376.7 113.8M372 116.2L375 120M376.7 113.8L379.9 116.7M386.2 109.8L390.9 109.8M386.2 109.8L408 136M390.9 109.8L392 113M392.1 115.7L394 116M398 116.9L401 117M461.4 46.2L478.1 59.3M478.4 59.3L488.3 63.8M488.3 63.8L472.2 73.2M457.3 73.6L458.7 79M457.3 73.6L516 121M462.4 71.7L457.3 73.6M472.2 73.2L472.5 76.6M472.6 76.9L472.2 83.5M458.7 79L451.5 85.6M436.9 79.4L439 86.6M439 86.6L439 88M423.1 83.9L427.6 90.4M415.8 85.6L416.2 87.3M415.8 85.6L436 156M472.2 83.5L471 90M480.5 84.1L472.2 83.5M451.5 85.6L452.5 89.1M452.5 89.1L452 93M464.9 89.1L460 93M469.7 90.2L470 94M476.9 93.5L477.3 99.3M468 94.9L469 97M468 94.9L449 99M476.9 99.7L476 101M430.1 96L434 99M459.7 92.8L460 97M444.2 100.1L445 102M427.6 90.4L433 93M431.8 86.6L436 88M431.8 86.6L415 120M446.9 90.8L446 96M418.3 94.3L418.1 95.6M418.3 94.3L454 120M411 97L416 96M478.1 59.3L488.3 63.8M462.1 70.8L457.3 73.6M472 73.4L472.5 76.6M472.5 76.6L472.2 83.5M480 84.6L472.2 83.5M514.6 86.8L520.8 96.1M520.8 96.1L516 105M520.8 96.1L502 103M468 94.8L469 97M477.3 99.3L476 100M496 100L497 104M501.8 108L502 112M506.1 113.2L503 114M509.3 118.5L507 120M512 118.5L509.5 118.5M526 124.6L522 128M518.6 127.8L517 130M524.7 133.1L524 134M524.7 138L520 137M341.3 132.6L355.2 143.3M355.2 143.3L357.3 147.3M357.3 147.3L362.6 149.4M362.6 149.4L366.6 145.9M366.6 145.9L368 146M367.9 141.9L369 142M367.9 141.9L428 168M349.3 155.2L357.3 147.3M354.6 167.2L360.8 173.3M366.6 157.4L371.9 159.2M371.9 159.2L373 161M371.9 159.2L441 173M360.8 173.3L366 172M365.3 180.5L369 183M369.8 185.9L372 189M372.5 122L373.3 122.8M373.3 122.8L375 124M379.9 116.7L381 119M372.5 111.3L376.7 113.8M395.9 131.8L396 134M403.3 144.1L405 144M403.3 144.1L394 220M394.6 177.9L396 177M401.8 196.5L405 197M374.6 130L376 133M372 132.6L374 132M372 132.6L422 109M358.5 227.2L370.1 235.5M370.1 235.5L376.7 237.4M371.5 203.7L373 203M374.8 207.3L377 208M383.8 207.1L386 206M377.9 212.5L378 209M376.7 217.7L378 217M377.4 221.3L378 218M382.2 218.4L384 217M393.3 203.7L395 204M376.7 237.4L383 233M376.7 237.4L381 178M379.1 239.7L383 233M381.4 243.3L383 233M391.6 237.4L393 236M391.6 237.4L383 215M390.9 232.2L394 233M399.9 234.5L401 232M408.7 234.5L411 232M398.7 240.9L399.9 234.5M398.7 240.9L467 245M395.7 227.9L396 226M398 226.7L401 225M392.6 225.1L393 224M377.9 263L386.7 260.3M386.7 260.3L402.1 267M402.1 267L417.5 263M410.3 246.8L413 245M415.3 250.9L416 248M411.1 252.3L415.3 250.9M417.5 263L426.7 259.3M421.7 254L420.5 250.4M407.5 248L410.3 246.8M409.9 239.7L409 237M420.5 250.4L424 248M415.8 245.7L416 243M426.5 258.7L421.7 254M422.7 271.8L430.6 269.9M430.6 269.9L436.5 264M436.5 264L440 257.4M432 252.6L432 251M437.3 273.4L430.6 269.9M441.8 273.9L444.5 269.1M442.6 283.7L441.8 273.9M452.5 279.8L454.6 268.6M453.3 284.5L452.5 279.8M458.1 284L452.5 279.8M444.5 269.1L444 260.1M444.5 269.1L489 204M454.6 268.6L458.6 265.9M465.3 273.4L473.8 269.9M473.8 269.9L475.9 259.3M481.2 269.1L473.8 269.9M478 283.7L473.8 269.9M489.8 265.9L483.4 260.1M497.2 279.2L489.8 265.9M504.4 276L505.7 266.1M504.4 276L436 242M507.3 273.9L505.7 266.1M505.2 265.9L500.7 261.9M500.7 261.9L499.9 257.9M440 257.4L443.4 255.8M444 260.1L443.4 255.8M443.4 255.8L440 250M448 260.6L443.4 255.8M453.3 260.1L455.9 256.6M455.9 256.6L453 254M458.6 265.9L459.9 259.3M458.6 265.9L445 236M459.9 259.3L455.9 256.6M458.1 252.1L458 248M458.1 252.1L468 245M462.1 254.7L463 253M468.7 259.3L462.1 254.7M475.9 259.3L476 254M480.7 257.4L476 254M483.4 260.1L480.7 257.4M488.7 251.3L482 247.3M488.7 251.3L428 234M494 252.6L488.7 251.3M494 252.6L480 201M491.4 256.6L494 252.6M491.4 256.6L419 229M497.2 259.3L491.4 256.6M499.9 257.9L494 252.6M482 247.3L481 243M471.9 248.6L473 247M475.9 249.9L476 248M505.2 238L506 236M502.5 257.4L494 252.6M502.5 243.3L505.2 238M502.5 243.3L498 188M421.3 253.4L420.5 250.4M424.8 251.3L425 250M426.7 259.3L421.7 254M426.7 259.3L430 240M429.3 260.6L426.5 258.7M531.4 174L529 173M540.5 181.2L538 180M549.8 184.6L540.5 181.2M555.9 182L549.8 184.6M572.4 186.5L565.2 201.4M554.6 194.5L544.7 195.3M558 196.6L554.6 194.5M556.4 204.1L554.6 194.5M565.2 201.4L558 196.6M565.2 201.4L498 165M544.7 195.3L537 196M536.7 196.1L535 196M537.3 202L534 206M537.3 202L533 130M541.8 204.1L537.3 202M534.1 207.3L527 207M545.8 210.5L541.8 204.1M545.8 210.5L481 216M543.9 213.1L537.3 216.6M537.3 216.6L531.4 217.9M531.4 217.9L525 220M545.8 221.9L538.6 222.7M538.6 222.7L534.1 224.6M534.1 224.6L531.4 217.9M533.3 228L534.1 224.6M523.4 222.7L522 217M548.5 235.2L538.6 237.1M538.6 237.1L533.3 231.2M538.6 240.6L538.6 237.1M547.4 240.6L548.5 235.2M547.4 240.6L504 226M547.4 245.9L547.4 240.6M535.9 244L528.8 244.5M528.8 244.5L524.5 240.6M505.3 237.9L506 236M505.3 237.9L458 180M514.6 221.9L512 221M510.6 217.9L508 218M509.3 228.6L508 228M512.8 229.1L511 229M517.3 249.9L524.5 240.6M517.3 249.9L495 247M520 252.5L517.3 249.9M511.2 256.5L502.5 257.4M528.8 254.7L523.4 255.2M577.2 257.9L547.4 245.9M533.3 231.2L533.3 228M524 236.6L522.6 229.9M524.5 240.6L524 236.6M522.6 229.9L521 229M522.6 229.9L522 160M534 257.9L528.8 254.7M501.9 108.3L502 112M506.6 113L507 115M506.6 113L445 113M509.5 118.5L508 121M512.3 118.5L509.5 118.5M526 124.4L522 128M526 124.4L481 149M518.9 127.9L517 130M524.9 133.1L524 134M524.9 133.1L509 163M524.4 139.1L520 140M526.5 143.8L524 146M530.3 139.1L527 140M529.6 143.8L528 143M529.6 143.8L475 194M539.8 136.7L538 138M545.7 143.8L537 143M545.7 143.8L489 174M563.9 145.7L556.8 154M556.8 154L543.8 156.3M539.1 155.1L538 157M528.4 155.6L527 154M532.7 156.8L531 154M543.8 156.3L539.1 155.1M529.6 159.9L528 159M515.4 151.6L514 153M515.4 151.6L455 196M521.3 158L520 158M521.3 158L517 192M527.9 150.2L527 151M554.9 168.6L539.1 171M534.3 169.1L531 168M534.3 169.1L477 131M539.1 171L537 171M539.1 171L487 187M531.2 173.8L529 173M531.2 173.8L518 182M506.4 148.5L504 148M506.4 148.5L526 162M512.3 123.2L512 125M520.6 124.4L520 127M513 127.9L511 127M603.7 153L589.5 165.9M605.5 157.7L603.7 153M589.5 165.9L572.4 186.5M564 145.7L556.8 154M556.9 154.2L543.8 156.3M577.6 258.6L547.4 245.9M593.8 265.6L589.8 269M589.8 269L577.6 258.6M528.6 254.7L523.4 255.2M534.6 260.9L534 257.9M529.9 264.3L525.3 259.4M519.5 262.5L523.4 255.2M525.3 259.4L523.4 255.2M523.4 255.2L520.3 252.6M510.4 256.5L502.5 257.4M515.1 255.2L511.2 256.5M520.3 252.6L517.3 249.9M505.7 266.1L500.7 261.9M505.7 266.1L466 241M507.8 274L505.7 266.1M503.9 276.6L505.7 266.1M520.3 275.3L507.8 274M515.6 293L520.3 275.3M515.6 293L508 240M522.1 292.2L515.6 293M531.8 308.6L522.1 292.2M528.6 317.7L531.8 308.6M533.9 333.3L528.6 317.7" stroke="#c4c4c4" stroke-width="0.4"/><path class="o" d="M371.5 203.7h0M358.5 227.2h0M426.5 258.7h0M373.3 122.8h0M461.4 46.2h0M528.6 317.7h0M370.1 235.5h0M392.6 225.1h0M502.5 257.4h0M520.8 96.1h0M589.5 165.9h0M525.3 259.4h0M462.1 70.8h0M379.1 105.1h0M357.3 103.4h0M522.6 229.9h0M577.2 257.9h0M420.5 250.4h0M555.9 182h0M481.2 269.1h0M529.6 159.9h0M539.8 136.7h0M418.1 95.6h0M472 73.4h0M376.7 237.4h0M360.8 173.3h0" stroke="#989898" stroke-width="4.85"/><path class="i" d="M371.5 203.7h0M358.5 227.2h0M426.5 258.7h0M373.3 122.8h0M461.4 46.2h0M528.6 317.7h0M370.1 235.5h0M392.6 225.1h0M502.5 257.4h0M520.8 96.1h0M589.5 165.9h0M525.3 259.4h0M462.1 70.8h0M379.1 105.1h0M357.3 103.4h0M522.6 229.9h0M577.2 257.9h0M420.5 250.4h0M555.9 182h0M481.2 269.1h0M529.6 159.9h0M539.8 136.7h0M418.1 95.6h0M472 73.4h0M376.7 237.4h0M360.8 173.3h0" stroke="#e4e4e4" stroke-width="3.80"/><path class="o" d="M497.2 259.3h0M427.6 90.4h0M480 84.6h0M366.6 145.9h0M394.4 103.9h0M392.1 85.4h0M384.5 101.1h0M409.1 94h0M453.3 260.1h0M369.8 185.9h0M411.1 252.3h0M409.9 239.7h0M446.9 90.8h0M475.9 259.3h0M389.7 101.5h0M382.2 218.4h0M472.2 83.5h0M444.5 269.1h0M464.9 89.1h0M431.8 86.6h0M379.1 239.7h0M381.4 243.3h0M398 226.7h0M520.6 124.4h0M527.9 150.2h0M367.9 141.9h0" stroke="#bab45c" stroke-width="4.85"/><path class="i" d="M497.2 259.3h0M427.6 90.4h0M480 84.6h0M366.6 145.9h0M394.4 103.9h0M392.1 85.4h0M384.5 101.1h0M409.1 94h0M453.3 260.1h0M369.8 185.9h0M411.1 252.3h0M409.9 239.7h0M446.9 90.8h0M475.9 259.3h0M389.7 101.5h0M382.2 218.4h0M472.2 83.5h0M444.5 269.1h0M464.9 89.1h0M431.8 86.6h0M379.1 239.7h0M381.4 243.3h0M398 226.7h0M520.6 124.4h0M527.9 150.2h0M367.9 141.9h0" stroke="#f5f08a" stroke-width="3.80"/><path class="o" d="M534.3 169.1h0M529.9 264.3h0M509.5 118.5h0M514.6 86.8h0M472.5 76.6h0M518.6 127.8h0M506.4 148.5h0M535.9 244h0M528.6 254.7h0M556.9 154.2h0M565.2 201.4h0M589.8 269h0M482 247.3h0M534.6 260.9h0M476.9 99.7h0M475.9 249.9h0M593.8 265.6h0M507.8 274h0M430.6 269.9h0M547.4 240.6h0M383.8 207.1h0M526.5 143.8h0M415.3 250.9h0M478 283.7h0M458.1 252.1h0M536.7 196.1h0M509.3 118.5h0M524.4 139.1h0M531.8 308.6h0M477.3 99.3h0M378.3 77.4h0M549.8 184.6h0M501.8 108h0M483.4 260.1h0M402.1 267h0M430.1 96h0M468.7 259.3h0M429.3 260.6h0M443.4 255.8h0M511.2 256.5h0M480.7 257.4h0M531.4 217.9h0M605.5 157.7h0M472.6 76.9h0M507.3 273.9h0M506.1 113.2h0M531.4 174h0" stroke="#e60000" stroke-width="4.50"/><path class="i" d="M534.3 169.1h0M529.9 264.3h0M509.5 118.5h0M514.6 86.8h0M472.5 76.6h0M518.6 127.8h0M506.4 148.5h0M535.9 244h0M528.6 254.7h0M556.9 154.2h0M565.2 201.4h0M589.8 269h0M482 247.3h0M534.6 260.9h0M476.9 99.7h0M475.9 249.9h0M593.8 265.6h0M507.8 274h0M430.6 269.9h0M547.4 240.6h0M383.8 207.1h0M526.5 143.8h0M415.3 250.9h0M478 283.7h0M458.1 252.1h0M536.7 196.1h0M509.3 118.5h0M524.4 139.1h0M531.8 308.6h0M477.3 99.3h0M378.3 77.4h0M549.8 184.6h0M501.8 108h0M483.4 260.1h0M402.1 267h0M430.1 96h0M468.7 259.3h0M429.3 260.6h0M443.4 255.8h0M511.2 256.5h0M480.7 257.4h0M531.4 217.9h0M605.5 157.7h0M472.6 76.9h0M507.3 273.9h0M506.1 113.2h0M531.4 174h0" stroke="#ff0000" stroke-width="3.80"/><path class="o" d="M415.7 85.7h0M478.1 59.3h0M377.4 221.3h0M376.7 113.8h0M478.4 59.3h0M398.7 240.9h0M379.9 116.7h0M451.5 85.6h0M390.9 232.2h0M372 132.6h0M548.5 235.2h0M505.2 265.9h0M408.6 87.3h0M522.1 292.2h0M407.5 248h0M374.8 207.3h0M416.2 87.3h0M458.6 265.9h0M472.2 73.2h0M418.3 94.3h0" stroke="#989898" stroke-width="4.85"/><path class="i" d="M415.7 85.7h0M478.1 59.3h0M377.4 221.3h0M376.7 113.8h0M478.4 59.3h0M398.7 240.9h0M379.9 116.7h0M451.5 85.6h0M390.9 232.2h0M372 132.6h0M548.5 235.2h0M505.2 265.9h0M408.6 87.3h0M522.1 292.2h0M407.5 248h0M374.8 207.3h0M416.2 87.3h0M458.6 265.9h0M472.2 73.2h0M418.3 94.3h0" stroke="#e4e4e4" stroke-width="3.80"/><path class="o" d="M390.2 83.8h0M530.3 139.1h0M379.8 90.2h0M415.8 245.7h0M392.1 115.7h0M387.3 81.4h0M379.1 96.8h0M543.8 156.3h0M544.7 195.3h0M532.7 156.8h0M371.9 159.2h0M372.5 122h0M400.4 98h0M459.9 259.3h0M372 116.2h0M386.2 109.8h0M392.1 67.2h0M554.9 168.6h0M469.7 90.2h0M524.5 240.6h0M502.5 243.3h0M365.3 180.5h0M386.4 91.6h0M362.6 149.4h0M455.9 256.6h0M403.9 100.4h0M354.6 167.2h0M513 127.9h0M422.7 271.8h0M459.7 92.8h0" stroke="#bab45c" stroke-width="4.85"/><path class="i" d="M390.2 83.8h0M530.3 139.1h0M379.8 90.2h0M415.8 245.7h0M392.1 115.7h0M387.3 81.4h0M379.1 96.8h0M543.8 156.3h0M544.7 195.3h0M532.7 156.8h0M371.9 159.2h0M372.5 122h0M400.4 98h0M459.9 259.3h0M372 116.2h0M386.2 109.8h0M392.1 67.2h0M554.9 168.6h0M469.7 90.2h0M524.5 240.6h0M502.5 243.3h0M365.3 180.5h0M386.4 91.6h0M362.6 149.4h0M455.9 256.6h0M403.9 100.4h0M354.6 167.2h0M513 127.9h0M422.7 271.8h0M459.7 92.8h0" stroke="#f5f08a" stroke-width="3.80"/><path class="o" d="M510.4 256.5h0M462.1 254.7h0M603.7 153h0M421.7 254h0M537.3 202h0M528.8 244.5h0M440 257.4h0M403.3 144.1h0M538.6 237.1h0M376.7 217.7h0M521.3 158h0M444 260.1h0M439 86.6h0M505.3 237.9h0M543.9 213.1h0M524.7 133.1h0M512.8 229.1h0M523.4 222.7h0M524.9 133.1h0M444.2 100.1h0M458.1 284h0M509.3 228.6h0M393.3 203.7h0M515.4 151.6h0M520 252.5h0M468 94.9h0M526 124.6h0M488.3 63.8h0M524.7 138h0M488.7 251.3h0M534.1 207.3h0M520.3 252.6h0M541.8 204.1h0M531.2 173.8h0M547.4 245.9h0M545.8 221.9h0M468 94.8h0M432 252.6h0M533.3 228h0M408.7 234.5h0M512 118.5h0M442.6 283.7h0M401.8 196.5h0M377.9 263h0M534.1 224.6h0M539.1 155.1h0M395.9 131.8h0M518.9 127.9h0M497.2 279.2h0" stroke="#e60000" stroke-width="4.50"/><path class="i" d="M510.4 256.5h0M462.1 254.7h0M603.7 153h0M421.7 254h0M537.3 202h0M528.8 244.5h0M440 257.4h0M403.3 144.1h0M538.6 237.1h0M376.7 217.7h0M521.3 158h0M444 260.1h0M439 86.6h0M505.3 237.9h0M543.9 213.1h0M524.7 133.1h0M512.8 229.1h0M523.4 222.7h0M524.9 133.1h0M444.2 100.1h0M458.1 284h0M509.3 228.6h0M393.3 203.7h0M515.4 151.6h0M520 252.5h0M468 94.9h0M526 124.6h0M488.3 63.8h0M524.7 138h0M488.7 251.3h0M534.1 207.3h0M520.3 252.6h0M541.8 204.1h0M531.2 173.8h0M547.4 245.9h0M545.8 221.9h0M468 94.8h0M432 252.6h0M533.3 228h0M408.7 234.5h0M512 118.5h0M442.6 283.7h0M401.8 196.5h0M377.9 263h0M534.1 224.6h0M539.1 155.1h0M395.9 131.8h0M518.9 127.9h0M497.2 279.2h0" stroke="#ff0000" stroke-width="3.80"/><path class="o" d="M462.4 71.7h0M577.6 258.6h0M545.7 143.8h0M458.7 79h0M392.5 94h0M391.6 237.4h0M341.3 132.6h0M505.7 266.1h0M452.5 279.8h0M533.3 231.2h0M415.8 85.6h0M491.4 256.6h0M385.4 45.9h0M377.4 104.4h0M520.3 275.3h0M349.3 155.2h0M426.7 259.3h0M377.9 212.5h0M386.7 260.3h0M515.6 293h0M523.4 255.2h0" stroke="#989898" stroke-width="4.85"/><path class="i" d="M462.4 71.7h0M577.6 258.6h0M545.7 143.8h0M458.7 79h0M392.5 94h0M391.6 237.4h0M341.3 132.6h0M505.7 266.1h0M452.5 279.8h0M533.3 231.2h0M415.8 85.6h0M491.4 256.6h0M385.4 45.9h0M377.4 104.4h0M520.3 275.3h0M349.3 155.2h0M426.7 259.3h0M377.9 212.5h0M386.7 260.3h0M515.6 293h0M523.4 255.2h0" stroke="#e4e4e4" stroke-width="3.80"/><path class="o" d="M386.9 96.8h0M457.3 73.6h0M374.6 130h0M390.9 109.8h0M572.4 186.5h0M558 196.6h0M398 116.9h0M480.5 84.1h0M383.8 89.2h0M524 236.6h0M366.6 157.4h0M554.6 194.5h0M375 94.9h0M448 260.6h0M496 100h0M512.3 123.2h0M423.1 83.9h0M454.6 268.6h0M373.1 111h0M376.7 98.7h0M476.9 93.5h0M402.2 88.5h0M355.2 143.3h0M499.9 257.9h0M500.7 261.9h0M395.7 227.9h0M357.3 147.3h0M401.1 85.7h0M437.3 273.4h0M372.5 111.3h0M529.6 143.8h0M452.5 89.1h0M556.4 204.1h0M389.7 77.9h0M441.8 273.9h0" stroke="#bab45c" stroke-width="4.85"/><path class="i" d="M386.9 96.8h0M457.3 73.6h0M374.6 130h0M390.9 109.8h0M572.4 186.5h0M558 196.6h0M398 116.9h0M480.5 84.1h0M383.8 89.2h0M524 236.6h0M366.6 157.4h0M554.6 194.5h0M375 94.9h0M448 260.6h0M496 100h0M512.3 123.2h0M423.1 83.9h0M454.6 268.6h0M373.1 111h0M376.7 98.7h0M476.9 93.5h0M402.2 88.5h0M355.2 143.3h0M499.9 257.9h0M500.7 261.9h0M395.7 227.9h0M357.3 147.3h0M401.1 85.7h0M437.3 273.4h0M372.5 111.3h0M529.6 143.8h0M452.5 89.1h0M556.4 204.1h0M389.7 77.9h0M441.8 273.9h0" stroke="#f5f08a" stroke-width="3.80"/><path class="o" d="M501.9 108.3h0M453.3 284.5h0M436.9 79.4h0M538.6 240.6h0M473.8 269.9h0M410.3 96.8h0M436.5 264h0M538.6 222.7h0M410.3 246.8h0M526 124.4h0M399.9 234.5h0M512.3 118.5h0M556.8 154h0M519.5 262.5h0M504.4 276h0M503.9 276.6h0M528.8 254.7h0M515.1 255.2h0M545.8 210.5h0M563.9 145.7h0M424.8 251.3h0M533.9 333.3h0M394.6 177.9h0M417.5 263h0M514.6 221.9h0M489.8 265.9h0M411 97h0M505.2 238h0M539.1 171h0M421.3 253.4h0M564 145.7h0M465.3 273.4h0M534 257.9h0M380.7 81.4h0M528.4 155.6h0M494 252.6h0M517.3 249.9h0M537.3 216.6h0M540.5 181.2h0M506.6 113h0M471.9 248.6h0M510.6 217.9h0" stroke="#e60000" stroke-width="4.50"/><path class="i" d="M501.9 108.3h0M453.3 284.5h0M436.9 79.4h0M538.6 240.6h0M473.8 269.9h0M410.3 96.8h0M436.5 264h0M538.6 222.7h0M410.3 246.8h0M526 124.4h0M399.9 234.5h0M512.3 118.5h0M556.8 154h0M519.5 262.5h0M504.4 276h0M503.9 276.6h0M528.8 254.7h0M515.1 255.2h0M545.8 210.5h0M563.9 145.7h0M424.8 251.3h0M533.9 333.3h0M394.6 177.9h0M417.5 263h0M514.6 221.9h0M489.8 265.9h0M411 97h0M505.2 238h0M539.1 171h0M421.3 253.4h0M564 145.7h0M465.3 273.4h0M534 257.9h0M380.7 81.4h0M528.4 155.6h0M494 252.6h0M517.3 249.9h0M537.3 216.6h0M540.5 181.2h0M506.6 113h0M471.9 248.6h0M510.6 217.9h0" stroke="#ff0000" stroke-width="3.80"/><path d="M612.9 55.8L618 60.9L612.9 66L607.8 60.9Z" style="fill:#efefef" stroke="#c4c4c4" stroke-width="0.6" opacity="0.9"/><path d="M631.6 51L636.7 56.1L631.6 61.2L626.5 56.1Z" style="fill:#efefef" stroke="#c4c4c4" stroke-width="0.6" opacity="0.9"/><path d="M646.8 50.3L651.9 55.4L646.8 60.5L641.7 55.4Z" style="fill:#efefef" stroke="#c4c4c4" stroke-width="0.6" opacity="0.9"/><path d="M659.6 56.7L664.7 61.8L659.6 66.9L654.5 61.8Z" style="fill:#efefef" stroke="#c4c4c4" stroke-width="0.6" opacity="0.9"/><path d="M606.7 69.2L611.8 74.3L606.7 79.4L601.6 74.3Z" style="fill:#ff0000" stroke="#e00000" stroke-width="0.6" opacity="0.9"/><path d="M625.5 67.4L630.6 72.5L625.5 77.6L620.4 72.5Z" style="fill:#c2c2c2" stroke="#b8b8b8" stroke-width="0.6" opacity="0.9"/><path d="M641.9 62.5L647 67.6L641.9 72.7L636.8 67.6Z" style="fill:#efefef" stroke="#c4c4c4" stroke-width="0.6" opacity="0.9"/><path d="M654.4 67.3L659.5 72.4L654.4 77.5L649.3 72.4Z" style="fill:#efefef" stroke="#c4c4c4" stroke-width="0.6" opacity="0.9"/><path d="M672 70.4L677.1 75.5L672 80.6L666.9 75.5Z" style="fill:#efefef" stroke="#c4c4c4" stroke-width="0.6" opacity="0.9"/><path d="M635.8 76.2L640.9 81.3L635.8 86.4L630.7 81.3Z" style="fill:#ecea98" stroke="#c8c47a" stroke-width="0.6" opacity="0.9"/><path d="M598.1 82.8L603.2 87.9L598.1 93L593 87.9Z" style="fill:#d6d07a" stroke="#b8b26a" stroke-width="0.6" opacity="0.9"/><path d="M649 78.4L654.1 83.5L649 88.6L643.9 83.5Z" style="fill:#c2c2c2" stroke="#b8b8b8" stroke-width="0.6" opacity="0.9"/><path d="M663.2 84.2L668.3 89.3L663.2 94.4L658.1 89.3Z" style="fill:#efefef" stroke="#c4c4c4" stroke-width="0.6" opacity="0.9"/><path d="M611.6 87.9L616.7 93L611.6 98.1L606.5 93Z" style="fill:#c2c2c2" stroke="#b8b8b8" stroke-width="0.6" opacity="0.9"/><path d="M624 80.7L629.1 85.8L624 90.9L618.9 85.8Z" style="fill:#c2c2c2" stroke="#b8b8b8" stroke-width="0.6" opacity="0.9"/><path d="M630.5 92.3L635.6 97.4L630.5 102.5L625.4 97.4Z" style="fill:#c2c2c2" stroke="#b8b8b8" stroke-width="0.6" opacity="0.9"/><path d="M646.1 91.8L651.2 96.9L646.1 102L641 96.9Z" style="fill:#c2c2c2" stroke="#b8b8b8" stroke-width="0.6" opacity="0.9"/><path d="M668.8 99.7L673.9 104.8L668.8 109.9L663.7 104.8Z" style="fill:#efefef" stroke="#c4c4c4" stroke-width="0.6" opacity="0.9"/><path d="M606.2 102.3L611.3 107.4L606.2 112.5L601.1 107.4Z" style="fill:#c2c2c2" stroke="#b8b8b8" stroke-width="0.6" opacity="0.9"/><path d="M624.3 104L629.4 109.1L624.3 114.2L619.2 109.1Z" style="fill:#c2c2c2" stroke="#b8b8b8" stroke-width="0.6" opacity="0.9"/><path d="M640 104.9L645.1 110L640 115.1L634.9 110Z" style="fill:#c2c2c2" stroke="#b8b8b8" stroke-width="0.6" opacity="0.9"/><path d="M654.7 103.1L659.8 108.2L654.7 113.3L649.6 108.2Z" style="fill:#efefef" stroke="#c4c4c4" stroke-width="0.6" opacity="0.9"/><text x="0.5" y="12.6" font-size="16.3">A</text><text x="377.5" y="12.6" font-size="16.3">B</text><text x="35.5" y="41.7" font-size="14.5">host</text><text x="406.8" y="41.9" font-size="14.5">host</text><text x="259.2" y="41.3" font-size="14.2" textLength="29.8">virus</text><text x="613.2" y="41.3" font-size="14.2" textLength="30.2">virus</text><text x="89.6" y="327.2" font-size="14.8" textLength="28.6" lengthAdjust="spacingAndGlyphs">MDS</text><text x="438.3" y="327.2" font-size="14.8" textLength="23.3" lengthAdjust="spacingAndGlyphs">MM</text><circle cx="594" cy="290.3" r="5.8" fill="#e53a2f" stroke="#d03428" stroke-width="0.6"/><circle cx="594" cy="310.8" r="5.8" fill="#f8f2aa" stroke="#d4cf8c" stroke-width="0.6"/><circle cx="594" cy="331" r="5.8" fill="#e9e9e9" stroke="#c4c4c4" stroke-width="0.6"/><text x="608" y="294.6" font-size="15" textLength="41.4">critical</text><text x="608" y="315.1" font-size="15" textLength="76.6">intermittent</text><text x="608" y="335.6" font-size="15" textLength="67.2">redundant</text></svg></body></html>
